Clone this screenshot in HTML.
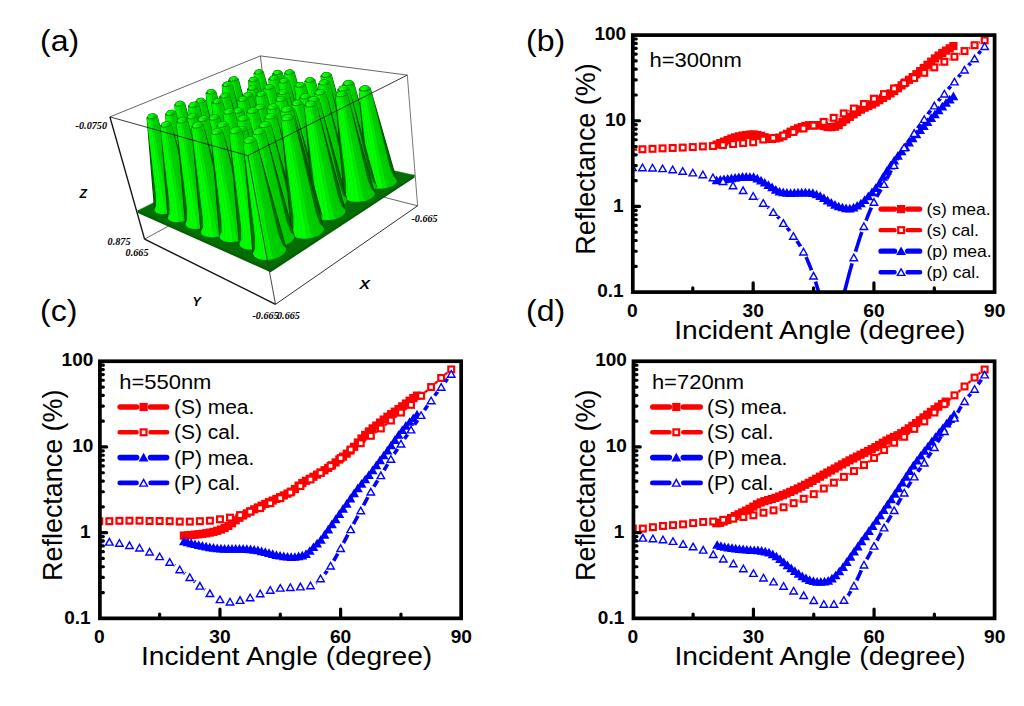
<!DOCTYPE html><html><head><meta charset="utf-8"><title>Reflectance figure</title><style>html,body{margin:0;padding:0;background:#fff;overflow:hidden}svg{display:block}text{font-family:"Liberation Sans", sans-serif;fill:#000}</style></head><body>
<svg width="1024" height="706" viewBox="0 0 1024 706">
<rect width="1024" height="706" fill="#fff"/>
<line x1="109.9" y1="116.9" x2="260.4" y2="55.9" stroke="#555" stroke-width="0.9"/>
<line x1="260.4" y1="55.9" x2="407.3" y2="75.1" stroke="#555" stroke-width="0.9"/>
<line x1="260.4" y1="55.9" x2="273.4" y2="169" stroke="#555" stroke-width="0.9"/>
<line x1="144.6" y1="239.1" x2="273.4" y2="169" stroke="#555" stroke-width="0.9"/>
<line x1="273.4" y1="169" x2="417.6" y2="205.8" stroke="#555" stroke-width="0.9"/>
<polygon points="137.7,209.7 270.5,268.6 414.5,174.3 414.7,177.6 270.6,272.2 137.9,212.9" fill="#035f03"/>
<polygon points="270.5,269.6 414.5,175.3 271,143.6 137.7,210.7" fill="#046d04" stroke="#046d04" stroke-width="0.5"/>
<polygon points="263.2,71.9 285.7,151.4 285.5,153.1 283.7,154.9 280.6,156.6 276.6,157.8 272.2,158.6 268,158.7 264.4,158.2 261.9,157.1 260.8,155.6 254.2,73.4 254.4,73 255.7,70.9 256.1,70.6 256.8,70.3 257.7,70 258.7,69.9 259.6,69.8 260.4,69.9 260.9,70" fill="#007000" stroke="#004a00" stroke-width="1.1"/><polygon points="260.8,155.6 262.5,151.9 262.3,141.7 254.2,73.4 254.6,73.8 263.1,142.7 263.4,153.1 261.9,157.1" fill="#00ff00" stroke="#00ff00" stroke-width="0.4"/><polygon points="261.9,157.1 263.4,153.1 263.1,142.7 254.6,73.8 255.4,74 264.8,143.4 265.4,154 264.4,158.2" fill="#00ff00" stroke="#00ff00" stroke-width="0.4"/><polygon points="264.4,158.2 265.4,154 264.8,143.4 255.4,74 256.7,74.1 267.2,143.7 268.3,154.4 268,158.7" fill="#03ff01" stroke="#03ff01" stroke-width="0.4"/><polygon points="268,158.7 268.3,154.4 267.2,143.7 256.7,74.1 258.2,74 270.1,143.6 271.8,154.3 272.2,158.6" fill="#02fc01" stroke="#02fc01" stroke-width="0.4"/><polygon points="272.2,158.6 271.8,154.3 270.1,143.6 258.2,74 259.8,73.7 273,143.1 275.4,153.7 276.6,157.8" fill="#00e700" stroke="#00e700" stroke-width="0.4"/><polygon points="276.6,157.8 275.4,153.7 273,143.1 259.8,73.7 261.2,73.3 275.7,142.2 278.6,152.7 280.6,156.6" fill="#00d000" stroke="#00d000" stroke-width="0.4"/><polygon points="280.6,156.6 278.6,152.7 275.7,142.2 261.2,73.3 262.4,72.9 277.8,141.2 281.1,151.3 283.7,154.9" fill="#00cc00" stroke="#00cc00" stroke-width="0.4"/><polygon points="283.7,154.9 281.1,151.3 277.8,141.2 262.4,72.9 263.1,72.4 279,140 282.6,149.9 285.5,153.1" fill="#00cc00" stroke="#00cc00" stroke-width="0.4"/><polygon points="285.5,153.1 282.6,149.9 279,140 263.1,72.4 263.2,71.9 279.2,138.9 282.8,148.5 285.7,151.4" fill="#00cc00" stroke="#00cc00" stroke-width="0.4"/><polygon points="254.4,73 254.2,73.4 255.6,71.2 255.7,70.9" fill="#00ff00" stroke="#00ff00" stroke-width="0.4"/><polygon points="254.2,73.4 254.6,73.8 255.8,71.4 255.6,71.2" fill="#00ff00" stroke="#00ff00" stroke-width="0.4"/><polygon points="254.6,73.8 255.4,74 256.3,71.6 255.8,71.4" fill="#09ff04" stroke="#09ff04" stroke-width="0.4"/><polygon points="255.4,74 256.7,74.1 257.1,71.6 256.3,71.6" fill="#33ff19" stroke="#33ff19" stroke-width="0.4"/><polygon points="256.7,74.1 258.2,74 258.1,71.5 257.1,71.6" fill="#2bff15" stroke="#2bff15" stroke-width="0.4"/><polygon points="258.2,74 259.8,73.7 259,71.4 258.1,71.5" fill="#05fd02" stroke="#05fd02" stroke-width="0.4"/><polygon points="259.8,73.7 261.2,73.3 259.9,71.1 259,71.4" fill="#00e500" stroke="#00e500" stroke-width="0.4"/><polygon points="261.2,73.3 262.4,72.9 260.6,70.8 259.9,71.1" fill="#00d200" stroke="#00d200" stroke-width="0.4"/><polygon points="262.4,72.9 263.1,72.4 261.1,70.5 260.6,70.8" fill="#00cc00" stroke="#00cc00" stroke-width="0.4"/><polygon points="263.1,72.4 263.2,71.9 261.2,70.2 261.1,70.5" fill="#00cc00" stroke="#00cc00" stroke-width="0.4"/><polygon points="260.4,69.9 259.6,69.8 258.7,69.9 257.7,70 256.8,70.3 256.1,70.6 255.7,70.9 255.6,71.2 255.8,71.4 256.3,71.6 257.1,71.6 258.1,71.5 259,71.4 259.9,71.1 260.6,70.8 261.1,70.5 261.2,70.2 260.9,70" fill="#00fa00" stroke="#00fa00" stroke-width="0.4"/><polyline points="254.2,73.4 254.4,73 254.6,73.8 255.1,72.5 255.4,74 256.7,74.1 258.2,74 259.8,73.7 261.2,73.3 262.4,72.9 263.1,72.4" fill="none" stroke="#0a6a0a" stroke-width="0.8"/>
<polygon points="282.1,72.5 305.2,154.2 305.1,156 303.4,157.9 300.3,159.6 296.3,160.9 291.8,161.6 287.4,161.8 283.6,161.2 280.9,160.1 279.7,158.5 272.8,74.1 273,73.6 274.3,71.5 274.7,71.2 275.4,70.9 276.3,70.7 277.3,70.5 278.3,70.4 279.1,70.5 279.7,70.6" fill="#007000" stroke="#004a00" stroke-width="1.1"/><polygon points="279.7,158.5 281.4,154.8 281.2,144.4 272.8,74.1 273.3,74.5 282.1,145.4 282.4,156 280.9,160.1" fill="#00ff00" stroke="#00ff00" stroke-width="0.4"/><polygon points="280.9,160.1 282.4,156 282.1,145.4 273.3,74.5 274.2,74.7 283.9,146.1 284.6,156.9 283.6,161.2" fill="#00ff00" stroke="#00ff00" stroke-width="0.4"/><polygon points="283.6,161.2 284.6,156.9 283.9,146.1 274.2,74.7 275.5,74.8 286.4,146.4 287.7,157.4 287.4,161.8" fill="#03ff01" stroke="#03ff01" stroke-width="0.4"/><polygon points="287.4,161.8 287.7,157.4 286.4,146.4 275.5,74.8 277.1,74.7 289.4,146.3 291.2,157.3 291.8,161.6" fill="#02fc01" stroke="#02fc01" stroke-width="0.4"/><polygon points="291.8,161.6 291.2,157.3 289.4,146.3 277.1,74.7 278.7,74.4 292.5,145.8 294.9,156.6 296.3,160.9" fill="#00e700" stroke="#00e700" stroke-width="0.4"/><polygon points="296.3,160.9 294.9,156.6 292.5,145.8 278.7,74.4 280.2,74 295.2,145 298.2,155.6 300.3,159.6" fill="#00d000" stroke="#00d000" stroke-width="0.4"/><polygon points="300.3,159.6 298.2,155.6 295.2,145 280.2,74 281.3,73.5 297.3,143.8 300.7,154.2 303.4,157.9" fill="#00cc00" stroke="#00cc00" stroke-width="0.4"/><polygon points="303.4,157.9 300.7,154.2 297.3,143.8 281.3,73.5 282,73 298.4,142.6 302.1,152.7 305.1,156" fill="#00cc00" stroke="#00cc00" stroke-width="0.4"/><polygon points="305.1,156 302.1,152.7 298.4,142.6 282,73 282.1,72.5 298.6,141.5 302.2,151.3 305.2,154.2" fill="#00cc00" stroke="#00cc00" stroke-width="0.4"/><polygon points="273,73.6 272.8,74.1 274.2,71.8 274.3,71.5" fill="#00ff00" stroke="#00ff00" stroke-width="0.4"/><polygon points="272.8,74.1 273.3,74.5 274.5,72.1 274.2,71.8" fill="#00ff00" stroke="#00ff00" stroke-width="0.4"/><polygon points="273.3,74.5 274.2,74.7 275.1,72.2 274.5,72.1" fill="#0bff05" stroke="#0bff05" stroke-width="0.4"/><polygon points="274.2,74.7 275.5,74.8 275.9,72.3 275.1,72.2" fill="#35ff1a" stroke="#35ff1a" stroke-width="0.4"/><polygon points="275.5,74.8 277.1,74.7 276.9,72.2 275.9,72.3" fill="#28ff14" stroke="#28ff14" stroke-width="0.4"/><polygon points="277.1,74.7 278.7,74.4 277.9,72 276.9,72.2" fill="#04fc02" stroke="#04fc02" stroke-width="0.4"/><polygon points="278.7,74.4 280.2,74 278.8,71.8 277.9,72" fill="#00e500" stroke="#00e500" stroke-width="0.4"/><polygon points="280.2,74 281.3,73.5 279.5,71.5 278.8,71.8" fill="#00d200" stroke="#00d200" stroke-width="0.4"/><polygon points="281.3,73.5 282,73 279.9,71.1 279.5,71.5" fill="#00cc00" stroke="#00cc00" stroke-width="0.4"/><polygon points="282,73 282.1,72.5 280,70.8 279.9,71.1" fill="#00cc00" stroke="#00cc00" stroke-width="0.4"/><polygon points="279.1,70.5 278.3,70.4 277.3,70.5 276.3,70.7 275.4,70.9 274.7,71.2 274.3,71.5 274.2,71.8 274.5,72.1 275.1,72.2 275.9,72.3 276.9,72.2 277.9,72 278.8,71.8 279.5,71.5 279.9,71.1 280,70.8 279.7,70.6" fill="#00fa00" stroke="#00fa00" stroke-width="0.4"/><polyline points="272.8,74.1 273,73.6 273.3,74.5 273.6,73.1 274.2,74.7 275.5,74.8 277.1,74.7 278.7,74.4 280.2,74 281.3,73.5 282,73" fill="none" stroke="#0a6a0a" stroke-width="0.8"/>
<polygon points="257.9,79.4 280.7,159.2 280.4,161 278.5,162.9 275.4,164.6 271.3,166 266.8,166.7 262.4,166.8 258.8,166.2 256.3,165.1 255.2,163.5 248.7,81 248.9,80.5 250.2,78.4 250.7,78.1 251.4,77.8 252.3,77.5 253.3,77.4 254.2,77.3 255,77.4 255.6,77.5 257.5,79" fill="#007000" stroke="#004a00" stroke-width="1.1"/><polygon points="255.2,163.5 256.9,159.8 256.8,149.4 248.7,81 249.1,81.4 257.5,150.4 257.8,161 256.3,165.1" fill="#00ff00" stroke="#00ff00" stroke-width="0.4"/><polygon points="256.3,165.1 257.8,161 257.5,150.4 249.1,81.4 249.9,81.7 259.2,151.1 259.8,162 258.8,166.2" fill="#00ff00" stroke="#00ff00" stroke-width="0.4"/><polygon points="258.8,166.2 259.8,162 259.2,151.1 249.9,81.7 251.2,81.7 261.6,151.5 262.8,162.4 262.4,166.8" fill="#03ff01" stroke="#03ff01" stroke-width="0.4"/><polygon points="262.4,166.8 262.8,162.4 261.6,151.5 251.2,81.7 252.8,81.7 264.6,151.4 266.3,162.3 266.8,166.7" fill="#02fc01" stroke="#02fc01" stroke-width="0.4"/><polygon points="266.8,166.7 266.3,162.3 264.6,151.4 252.8,81.7 254.4,81.4 267.6,150.9 270,161.7 271.3,166" fill="#00e700" stroke="#00e700" stroke-width="0.4"/><polygon points="271.3,166 270,161.7 267.6,150.9 254.4,81.4 255.9,81 270.4,150 273.3,160.7 275.4,164.6" fill="#00d000" stroke="#00d000" stroke-width="0.4"/><polygon points="275.4,164.6 273.3,160.7 270.4,150 255.9,81 257,80.5 272.5,148.9 275.9,159.3 278.5,162.9" fill="#00cc00" stroke="#00cc00" stroke-width="0.4"/><polygon points="278.5,162.9 275.9,159.3 272.5,148.9 257,80.5 257.8,79.9 273.8,147.7 277.4,157.8 280.4,161" fill="#00cc00" stroke="#00cc00" stroke-width="0.4"/><polygon points="280.4,161 277.4,157.8 273.8,147.7 257.8,79.9 257.9,79.4 274,146.5 277.7,156.3 280.7,159.2" fill="#00cc00" stroke="#00cc00" stroke-width="0.4"/><polygon points="248.9,80.5 248.7,81 250.1,78.7 250.2,78.4" fill="#00ff00" stroke="#00ff00" stroke-width="0.4"/><polygon points="248.7,81 249.1,81.4 250.3,79 250.1,78.7" fill="#00ff00" stroke="#00ff00" stroke-width="0.4"/><polygon points="249.1,81.4 249.9,81.7 250.9,79.1 250.3,79" fill="#09ff04" stroke="#09ff04" stroke-width="0.4"/><polygon points="249.9,81.7 251.2,81.7 251.7,79.2 250.9,79.1" fill="#33ff19" stroke="#33ff19" stroke-width="0.4"/><polygon points="251.2,81.7 252.8,81.7 252.6,79.1 251.7,79.2" fill="#2bff15" stroke="#2bff15" stroke-width="0.4"/><polygon points="252.8,81.7 254.4,81.4 253.6,78.9 252.6,79.1" fill="#05fd02" stroke="#05fd02" stroke-width="0.4"/><polygon points="254.4,81.4 255.9,81 254.6,78.7 253.6,78.9" fill="#00e500" stroke="#00e500" stroke-width="0.4"/><polygon points="255.9,81 257,80.5 255.3,78.4 254.6,78.7" fill="#00d200" stroke="#00d200" stroke-width="0.4"/><polygon points="257,80.5 257.8,79.9 255.7,78.1 255.3,78.4" fill="#00cc00" stroke="#00cc00" stroke-width="0.4"/><polygon points="257.8,79.9 257.9,79.4 255.8,77.8 255.7,78.1" fill="#00cc00" stroke="#00cc00" stroke-width="0.4"/><polygon points="257.9,79.4 257.5,79 255.6,77.5 255.8,77.8" fill="#00cc00" stroke="#00cc00" stroke-width="0.4"/><polygon points="255,77.4 254.2,77.3 253.3,77.4 252.3,77.5 251.4,77.8 250.7,78.1 250.2,78.4 250.1,78.7 250.3,79 250.9,79.1 251.7,79.2 252.6,79.1 253.6,78.9 254.6,78.7 255.3,78.4 255.7,78.1 255.8,77.8 255.6,77.5" fill="#00fa00" stroke="#00fa00" stroke-width="0.4"/><polyline points="248.7,81 248.9,80.5 249.1,81.4 249.6,80 249.9,81.7 251.2,81.7 252.8,81.7 254.4,81.4 255.9,81 257,80.5 257.8,79.9" fill="none" stroke="#0a6a0a" stroke-width="0.8"/>
<polygon points="238.1,79 261.9,164.7 261.5,166.6 259.5,168.5 256.2,170.3 252.1,171.6 247.6,172.3 243.2,172.4 239.7,171.8 237.3,170.6 236.3,169 228.8,80.5 230.3,77.9 230.8,77.6 231.6,77.3 232.5,77 233.5,76.9 234.4,76.8 235.2,76.8 235.8,77 237.7,78.6" fill="#007000" stroke="#004a00" stroke-width="1.1"/><polygon points="236.3,169 238,165.2 237.9,154.8 228.8,80.5 229.1,80.9 238.5,155.9 238.8,166.6 237.3,170.6" fill="#00ff00" stroke="#00ff00" stroke-width="0.4"/><polygon points="237.3,170.6 238.8,166.6 238.5,155.9 229.1,80.9 229.9,81.2 240.2,156.6 240.8,167.5 239.7,171.8" fill="#00ff00" stroke="#00ff00" stroke-width="0.4"/><polygon points="239.7,171.8 240.8,167.5 240.2,156.6 229.9,81.2 231.2,81.3 242.6,157 243.7,168 243.2,172.4" fill="#02ff01" stroke="#02ff01" stroke-width="0.4"/><polygon points="243.2,172.4 243.7,168 242.6,157 231.2,81.3 232.7,81.2 245.5,156.9 247.2,167.9 247.6,172.3" fill="#02fc01" stroke="#02fc01" stroke-width="0.4"/><polygon points="247.6,172.3 247.2,167.9 245.5,156.9 232.7,81.2 234.4,80.9 248.5,156.4 250.9,167.3 252.1,171.6" fill="#00e700" stroke="#00e700" stroke-width="0.4"/><polygon points="252.1,171.6 250.9,167.3 248.5,156.4 234.4,80.9 235.9,80.5 251.3,155.6 254.2,166.2 256.2,170.3" fill="#00d000" stroke="#00d000" stroke-width="0.4"/><polygon points="256.2,170.3 254.2,166.2 251.3,155.6 235.9,80.5 237.1,80 253.6,154.4 256.9,164.8 259.5,168.5" fill="#00cc00" stroke="#00cc00" stroke-width="0.4"/><polygon points="259.5,168.5 256.9,164.8 253.6,154.4 237.1,80 237.8,79.5 254.9,153.2 258.5,163.3 261.5,166.6" fill="#00cc00" stroke="#00cc00" stroke-width="0.4"/><polygon points="261.5,166.6 258.5,163.3 254.9,153.2 237.8,79.5 238.1,79 255.2,151.9 258.9,161.8 261.9,164.7" fill="#00cc00" stroke="#00cc00" stroke-width="0.4"/><polygon points="228.8,80.5 229.1,80.9 230.4,78.5 230.2,78.2" fill="#00ff00" stroke="#00ff00" stroke-width="0.4"/><polygon points="229.1,80.9 229.9,81.2 230.9,78.6 230.4,78.5" fill="#08ff04" stroke="#08ff04" stroke-width="0.4"/><polygon points="229.9,81.2 231.2,81.3 231.7,78.7 230.9,78.6" fill="#31ff18" stroke="#31ff18" stroke-width="0.4"/><polygon points="231.2,81.3 232.7,81.2 232.6,78.6 231.7,78.7" fill="#2eff17" stroke="#2eff17" stroke-width="0.4"/><polygon points="232.7,81.2 234.4,80.9 233.7,78.5 232.6,78.6" fill="#06fd03" stroke="#06fd03" stroke-width="0.4"/><polygon points="234.4,80.9 235.9,80.5 234.6,78.2 233.7,78.5" fill="#00e500" stroke="#00e500" stroke-width="0.4"/><polygon points="235.9,80.5 237.1,80 235.3,77.9 234.6,78.2" fill="#00d200" stroke="#00d200" stroke-width="0.4"/><polygon points="237.1,80 237.8,79.5 235.8,77.6 235.3,77.9" fill="#00cc00" stroke="#00cc00" stroke-width="0.4"/><polygon points="237.8,79.5 238.1,79 236,77.3 235.8,77.6" fill="#00cc00" stroke="#00cc00" stroke-width="0.4"/><polygon points="238.1,79 237.7,78.6 235.8,77 236,77.3" fill="#00cc00" stroke="#00cc00" stroke-width="0.4"/><polygon points="235.2,76.8 234.4,76.8 233.5,76.9 232.5,77 231.6,77.3 230.8,77.6 230.3,77.9 230.2,78.2 230.4,78.5 230.9,78.6 231.7,78.7 232.6,78.6 233.7,78.5 234.6,78.2 235.3,77.9 235.8,77.6 236,77.3 235.8,77" fill="#00fa00" stroke="#00fa00" stroke-width="0.4"/><polyline points="228.8,80.5 229,80 229.1,80.9 229.8,79.5 229.9,81.2 231.2,81.3 232.7,81.2 234.4,80.9 235.9,80.5 237.1,80 237.8,79.5" fill="none" stroke="#0a6a0a" stroke-width="0.8"/>
<polygon points="294.1,72 318.3,158.7 318.2,160.6 316.6,162.5 313.5,164.3 309.4,165.6 304.8,166.4 300.2,166.5 296.3,166 293.5,164.8 292.1,163.2 284.6,73.7 284.7,73.2 286.1,71 286.5,70.7 287.2,70.4 288.1,70.1 289.2,69.9 290.2,69.8 291,69.9 291.6,70 291.9,70.3" fill="#007000" stroke="#004a00" stroke-width="1.1"/><polygon points="292.1,163.2 293.9,159.4 293.7,148.8 284.6,73.7 285,74 294.7,149.8 295,160.7 293.5,164.8" fill="#00ff00" stroke="#00ff00" stroke-width="0.4"/><polygon points="293.5,164.8 295,160.7 294.7,149.8 285,74 286,74.3 296.6,150.5 297.3,161.6 296.3,166" fill="#00ff00" stroke="#00ff00" stroke-width="0.4"/><polygon points="296.3,166 297.3,161.6 296.6,150.5 286,74.3 287.4,74.4 299.2,150.9 300.5,162 300.2,166.5" fill="#03ff01" stroke="#03ff01" stroke-width="0.4"/><polygon points="300.2,166.5 300.5,162 299.2,150.9 287.4,74.4 289.1,74.3 302.3,150.8 304.2,161.9 304.8,166.4" fill="#02fc01" stroke="#02fc01" stroke-width="0.4"/><polygon points="304.8,166.4 304.2,161.9 302.3,150.8 289.1,74.3 290.7,74 305.4,150.3 308,161.3 309.4,165.6" fill="#00e700" stroke="#00e700" stroke-width="0.4"/><polygon points="309.4,165.6 308,161.3 305.4,150.3 290.7,74 292.2,73.5 308.2,149.4 311.3,160.2 313.5,164.3" fill="#00d000" stroke="#00d000" stroke-width="0.4"/><polygon points="313.5,164.3 311.3,160.2 308.2,149.4 292.2,73.5 293.4,73 310.3,148.2 313.8,158.8 316.6,162.5" fill="#00cc00" stroke="#00cc00" stroke-width="0.4"/><polygon points="316.6,162.5 313.8,158.8 310.3,148.2 293.4,73 294,72.5 311.4,147 315.2,157.2 318.2,160.6" fill="#00cc00" stroke="#00cc00" stroke-width="0.4"/><polygon points="318.2,160.6 315.2,157.2 311.4,147 294,72.5 294.1,72 311.5,145.7 315.2,155.7 318.3,158.7" fill="#00cc00" stroke="#00cc00" stroke-width="0.4"/><polygon points="284.7,73.2 284.6,73.7 286,71.3 286.1,71" fill="#00ff00" stroke="#00ff00" stroke-width="0.4"/><polygon points="284.6,73.7 285,74 286.3,71.5 286,71.3" fill="#00ff00" stroke="#00ff00" stroke-width="0.4"/><polygon points="285,74 286,74.3 286.9,71.7 286.3,71.5" fill="#0bff05" stroke="#0bff05" stroke-width="0.4"/><polygon points="286,74.3 287.4,74.4 287.8,71.7 286.9,71.7" fill="#36ff1b" stroke="#36ff1b" stroke-width="0.4"/><polygon points="287.4,74.4 289.1,74.3 288.8,71.7 287.8,71.7" fill="#27ff13" stroke="#27ff13" stroke-width="0.4"/><polygon points="289.1,74.3 290.7,74 289.8,71.5 288.8,71.7" fill="#04fc02" stroke="#04fc02" stroke-width="0.4"/><polygon points="290.7,74 292.2,73.5 290.8,71.2 289.8,71.5" fill="#00e500" stroke="#00e500" stroke-width="0.4"/><polygon points="292.2,73.5 293.4,73 291.5,70.9 290.8,71.2" fill="#00d200" stroke="#00d200" stroke-width="0.4"/><polygon points="293.4,73 294,72.5 291.9,70.6 291.5,70.9" fill="#00cc00" stroke="#00cc00" stroke-width="0.4"/><polygon points="294,72.5 294.1,72 291.9,70.3 291.9,70.6" fill="#00cc00" stroke="#00cc00" stroke-width="0.4"/><polygon points="291,69.9 290.2,69.8 289.2,69.9 288.1,70.1 287.2,70.4 286.5,70.7 286.1,71 286,71.3 286.3,71.5 286.9,71.7 287.8,71.7 288.8,71.7 289.8,71.5 290.8,71.2 291.5,70.9 291.9,70.6 291.9,70.3 291.6,70" fill="#00fa00" stroke="#00fa00" stroke-width="0.4"/><polyline points="284.6,73.7 284.7,73.2 285,74 285.3,72.6 286,74.3 287.4,74.4 289.1,74.3 290.7,74 292.2,73.5 293.4,73 294,72.5" fill="none" stroke="#0a6a0a" stroke-width="0.8"/>
<polygon points="278.4,77.9 302.4,163 302.2,164.9 300.4,166.8 297.3,168.6 293.1,170 288.5,170.8 284,170.9 280.1,170.3 277.4,169.1 276.1,167.4 268.9,79.5 269,79 270.4,76.9 270.9,76.5 271.6,76.2 272.5,75.9 273.6,75.8 274.6,75.7 275.4,75.7 276,75.9" fill="#007000" stroke="#004a00" stroke-width="1.1"/><polygon points="276.1,167.4 277.9,163.6 277.8,153 268.9,79.5 269.3,79.9 278.6,154 279,164.9 277.4,169.1" fill="#00ff00" stroke="#00ff00" stroke-width="0.4"/><polygon points="277.4,169.1 279,164.9 278.6,154 269.3,79.9 270.3,80.2 280.5,154.8 281.2,165.9 280.1,170.3" fill="#00ff00" stroke="#00ff00" stroke-width="0.4"/><polygon points="280.1,170.3 281.2,165.9 280.5,154.8 270.3,80.2 271.7,80.3 283.1,155.2 284.3,166.4 284,170.9" fill="#03ff01" stroke="#03ff01" stroke-width="0.4"/><polygon points="284,170.9 284.3,166.4 283.1,155.2 271.7,80.3 273.3,80.2 286.1,155.1 288,166.3 288.5,170.8" fill="#02fc01" stroke="#02fc01" stroke-width="0.4"/><polygon points="288.5,170.8 288,166.3 286.1,155.1 273.3,80.2 274.9,79.9 289.2,154.6 291.7,165.6 293.1,170" fill="#00e700" stroke="#00e700" stroke-width="0.4"/><polygon points="293.1,170 291.7,165.6 289.2,154.6 274.9,79.9 276.5,79.5 292.1,153.7 295.1,164.5 297.3,168.6" fill="#00d000" stroke="#00d000" stroke-width="0.4"/><polygon points="297.3,168.6 295.1,164.5 292.1,153.7 276.5,79.5 277.6,78.9 294.2,152.5 297.7,163.1 300.4,166.8" fill="#00cc00" stroke="#00cc00" stroke-width="0.4"/><polygon points="300.4,166.8 297.7,163.1 294.2,152.5 277.6,78.9 278.3,78.4 295.4,151.2 299.1,161.5 302.2,164.9" fill="#00cc00" stroke="#00cc00" stroke-width="0.4"/><polygon points="302.2,164.9 299.1,161.5 295.4,151.2 278.3,78.4 278.4,77.9 295.6,150 299.3,160 302.4,163" fill="#00cc00" stroke="#00cc00" stroke-width="0.4"/><polygon points="269,79 268.9,79.5 270.4,77.2 270.4,76.9" fill="#00ff00" stroke="#00ff00" stroke-width="0.4"/><polygon points="268.9,79.5 269.3,79.9 270.6,77.4 270.4,77.2" fill="#00ff00" stroke="#00ff00" stroke-width="0.4"/><polygon points="269.3,79.9 270.3,80.2 271.2,77.6 270.6,77.4" fill="#0aff05" stroke="#0aff05" stroke-width="0.4"/><polygon points="270.3,80.2 271.7,80.3 272.1,77.6 271.2,77.6" fill="#35ff1a" stroke="#35ff1a" stroke-width="0.4"/><polygon points="271.7,80.3 273.3,80.2 273.1,77.6 272.1,77.6" fill="#29ff14" stroke="#29ff14" stroke-width="0.4"/><polygon points="273.3,80.2 274.9,79.9 274.1,77.4 273.1,77.6" fill="#04fc02" stroke="#04fc02" stroke-width="0.4"/><polygon points="274.9,79.9 276.5,79.5 275,77.1 274.1,77.4" fill="#00e500" stroke="#00e500" stroke-width="0.4"/><polygon points="276.5,79.5 277.6,78.9 275.8,76.8 275,77.1" fill="#00d200" stroke="#00d200" stroke-width="0.4"/><polygon points="277.6,78.9 278.3,78.4 276.2,76.5 275.8,76.8" fill="#00cc00" stroke="#00cc00" stroke-width="0.4"/><polygon points="278.3,78.4 278.4,77.9 276.3,76.2 276.2,76.5" fill="#00cc00" stroke="#00cc00" stroke-width="0.4"/><polygon points="275.4,75.7 274.6,75.7 273.6,75.8 272.5,75.9 271.6,76.2 270.9,76.5 270.4,76.9 270.4,77.2 270.6,77.4 271.2,77.6 272.1,77.6 273.1,77.6 274.1,77.4 275,77.1 275.8,76.8 276.2,76.5 276.3,76.2 276,75.9" fill="#00fa00" stroke="#00fa00" stroke-width="0.4"/><polyline points="268.9,79.5 269,79 269.3,79.9 269.7,78.5 270.3,80.2 271.7,80.3 273.3,80.2 274.9,79.9 276.5,79.5 277.6,78.9 278.3,78.4" fill="none" stroke="#0a6a0a" stroke-width="0.8"/>
<polygon points="257.1,87.9 280.1,167.6 279.7,169.6 277.8,171.5 274.6,173.3 270.4,174.7 265.8,175.5 261.3,175.6 257.6,174.9 255,173.7 253.9,172 247.6,89.5 247.8,88.9 249.2,86.8 249.6,86.5 250.4,86.1 251.3,85.9 252.3,85.7 253.3,85.6 254.1,85.7 254.7,85.9 256.7,87.4" fill="#007000" stroke="#004a00" stroke-width="1.1"/><polygon points="253.9,172 255.7,168.2 255.5,157.6 247.6,89.5 248,89.9 256.3,158.7 256.6,169.6 255,173.7" fill="#00ff00" stroke="#00ff00" stroke-width="0.4"/><polygon points="255,173.7 256.6,169.6 256.3,158.7 248,89.9 248.9,90.2 258,159.5 258.7,170.5 257.6,174.9" fill="#00ff00" stroke="#00ff00" stroke-width="0.4"/><polygon points="257.6,174.9 258.7,170.5 258,159.5 248.9,90.2 250.2,90.3 260.5,159.8 261.7,171 261.3,175.6" fill="#03ff01" stroke="#03ff01" stroke-width="0.4"/><polygon points="261.3,175.6 261.7,171 260.5,159.8 250.2,90.3 251.8,90.2 263.5,159.8 265.3,171 265.8,175.5" fill="#02fc01" stroke="#02fc01" stroke-width="0.4"/><polygon points="265.8,175.5 265.3,171 263.5,159.8 251.8,90.2 253.5,89.9 266.7,159.3 269.1,170.3 270.4,174.7" fill="#00e700" stroke="#00e700" stroke-width="0.4"/><polygon points="270.4,174.7 269.1,170.3 266.7,159.3 253.5,89.9 255,89.5 269.5,158.3 272.5,169.2 274.6,173.3" fill="#00d000" stroke="#00d000" stroke-width="0.4"/><polygon points="274.6,173.3 272.5,169.2 269.5,158.3 255,89.5 256.2,88.9 271.7,157.2 275.2,167.8 277.8,171.5" fill="#00cc00" stroke="#00cc00" stroke-width="0.4"/><polygon points="277.8,171.5 275.2,167.8 271.7,157.2 256.2,88.9 256.9,88.4 273,155.9 276.7,166.2 279.7,169.6" fill="#00cc00" stroke="#00cc00" stroke-width="0.4"/><polygon points="279.7,169.6 276.7,166.2 273,155.9 256.9,88.4 257.1,87.9 273.3,154.6 277,164.6 280.1,167.6" fill="#00cc00" stroke="#00cc00" stroke-width="0.4"/><polygon points="247.8,88.9 247.6,89.5 249.1,87.1 249.2,86.8" fill="#00ff00" stroke="#00ff00" stroke-width="0.4"/><polygon points="247.6,89.5 248,89.9 249.3,87.4 249.1,87.1" fill="#00ff00" stroke="#00ff00" stroke-width="0.4"/><polygon points="248,89.9 248.9,90.2 249.8,87.6 249.3,87.4" fill="#09ff04" stroke="#09ff04" stroke-width="0.4"/><polygon points="248.9,90.2 250.2,90.3 250.7,87.6 249.8,87.6" fill="#33ff19" stroke="#33ff19" stroke-width="0.4"/><polygon points="250.2,90.3 251.8,90.2 251.7,87.6 250.7,87.6" fill="#2cff16" stroke="#2cff16" stroke-width="0.4"/><polygon points="251.8,90.2 253.5,89.9 252.7,87.4 251.7,87.6" fill="#05fd02" stroke="#05fd02" stroke-width="0.4"/><polygon points="253.5,89.9 255,89.5 253.6,87.1 252.7,87.4" fill="#00e500" stroke="#00e500" stroke-width="0.4"/><polygon points="255,89.5 256.2,88.9 254.4,86.8 253.6,87.1" fill="#00d200" stroke="#00d200" stroke-width="0.4"/><polygon points="256.2,88.9 256.9,88.4 254.8,86.5 254.4,86.8" fill="#00cc00" stroke="#00cc00" stroke-width="0.4"/><polygon points="256.9,88.4 257.1,87.9 255,86.1 254.8,86.5" fill="#00cc00" stroke="#00cc00" stroke-width="0.4"/><polygon points="257.1,87.9 256.7,87.4 254.7,85.9 255,86.1" fill="#00cc00" stroke="#00cc00" stroke-width="0.4"/><polygon points="254.1,85.7 253.3,85.6 252.3,85.7 251.3,85.9 250.4,86.1 249.6,86.5 249.2,86.8 249.1,87.1 249.3,87.4 249.8,87.6 250.7,87.6 251.7,87.6 252.7,87.4 253.6,87.1 254.4,86.8 254.8,86.5 255,86.1 254.7,85.9" fill="#00fa00" stroke="#00fa00" stroke-width="0.4"/><polyline points="247.6,89.5 247.8,88.9 248,89.9 248.5,88.4 248.9,90.2 250.2,90.3 251.8,90.2 253.5,89.9 255,89.5 256.2,88.9 256.9,88.4" fill="none" stroke="#0a6a0a" stroke-width="0.8"/>
<polygon points="231.8,84.1 256.2,172.2 255.7,174.2 253.7,176.2 250.3,178 246.1,179.4 241.4,180.1 237,180.2 233.4,179.5 231,178.2 230.1,176.5 222.3,85.7 223.9,83 224.4,82.7 225.2,82.4 226.1,82.1 227.1,81.9 228.1,81.9 228.9,81.9 229.4,82.1 231.5,83.7" fill="#007000" stroke="#004a00" stroke-width="1.1"/><polygon points="230.1,176.5 231.9,172.7 231.7,162.2 222.3,85.7 222.6,86.1 232.3,163.3 232.6,174.1 231,178.2" fill="#00ff00" stroke="#00ff00" stroke-width="0.4"/><polygon points="231,178.2 232.6,174.1 232.3,163.3 222.6,86.1 223.4,86.4 234,164.1 234.6,175.1 233.4,179.5" fill="#00ff00" stroke="#00ff00" stroke-width="0.4"/><polygon points="233.4,179.5 234.6,175.1 234,164.1 223.4,86.4 224.7,86.5 236.4,164.5 237.5,175.6 237,180.2" fill="#02ff01" stroke="#02ff01" stroke-width="0.4"/><polygon points="237,180.2 237.5,175.6 236.4,164.5 224.7,86.5 226.3,86.4 239.4,164.4 241.1,175.6 241.4,180.1" fill="#02fc01" stroke="#02fc01" stroke-width="0.4"/><polygon points="241.4,180.1 241.1,175.6 239.4,164.4 226.3,86.4 227.9,86.1 242.5,163.9 244.8,175 246.1,179.4" fill="#00e700" stroke="#00e700" stroke-width="0.4"/><polygon points="246.1,179.4 244.8,175 242.5,163.9 227.9,86.1 229.5,85.7 245.4,163 248.3,173.9 250.3,178" fill="#00d000" stroke="#00d000" stroke-width="0.4"/><polygon points="250.3,178 248.3,173.9 245.4,163 229.5,85.7 230.7,85.2 247.6,161.8 251,172.4 253.7,176.2" fill="#00cc00" stroke="#00cc00" stroke-width="0.4"/><polygon points="253.7,176.2 251,172.4 247.6,161.8 230.7,85.2 231.5,84.6 249,160.5 252.7,170.8 255.7,174.2" fill="#00cc00" stroke="#00cc00" stroke-width="0.4"/><polygon points="255.7,174.2 252.7,170.8 249,160.5 231.5,84.6 231.8,84.1 249.4,159.2 253.1,169.2 256.2,172.2" fill="#00cc00" stroke="#00cc00" stroke-width="0.4"/><polygon points="222.3,85.7 222.6,86.1 223.9,83.6 223.7,83.4" fill="#00ff00" stroke="#00ff00" stroke-width="0.4"/><polygon points="222.6,86.1 223.4,86.4 224.4,83.8 223.9,83.6" fill="#08ff04" stroke="#08ff04" stroke-width="0.4"/><polygon points="223.4,86.4 224.7,86.5 225.2,83.8 224.4,83.8" fill="#30ff18" stroke="#30ff18" stroke-width="0.4"/><polygon points="224.7,86.5 226.3,86.4 226.2,83.8 225.2,83.8" fill="#2fff17" stroke="#2fff17" stroke-width="0.4"/><polygon points="226.3,86.4 227.9,86.1 227.2,83.6 226.2,83.8" fill="#07fe03" stroke="#07fe03" stroke-width="0.4"/><polygon points="227.9,86.1 229.5,85.7 228.2,83.4 227.2,83.6" fill="#00e600" stroke="#00e600" stroke-width="0.4"/><polygon points="229.5,85.7 230.7,85.2 229,83 228.2,83.4" fill="#00d200" stroke="#00d200" stroke-width="0.4"/><polygon points="230.7,85.2 231.5,84.6 229.5,82.7 229,83" fill="#00cc00" stroke="#00cc00" stroke-width="0.4"/><polygon points="231.5,84.6 231.8,84.1 229.6,82.4 229.5,82.7" fill="#00cc00" stroke="#00cc00" stroke-width="0.4"/><polygon points="231.8,84.1 231.5,83.7 229.4,82.1 229.6,82.4" fill="#00cc00" stroke="#00cc00" stroke-width="0.4"/><polygon points="228.9,81.9 228.1,81.9 227.1,81.9 226.1,82.1 225.2,82.4 224.4,82.7 223.9,83 223.7,83.4 223.9,83.6 224.4,83.8 225.2,83.8 226.2,83.8 227.2,83.6 228.2,83.4 229,83 229.5,82.7 229.6,82.4 229.4,82.1" fill="#00fa00" stroke="#00fa00" stroke-width="0.4"/><polyline points="222.3,85.7 222.5,85.2 222.6,86.1 223.3,84.6 223.4,86.4 224.7,86.5 226.3,86.4 227.9,86.1 229.5,85.7 230.7,85.2 231.5,84.6" fill="none" stroke="#0a6a0a" stroke-width="0.8"/>
<polygon points="215.7,91.7 239.6,176.8 239,178.8 236.8,180.8 233.4,182.6 229.1,184 224.4,184.7 220.1,184.8 216.5,184.1 214.2,182.8 213.4,181 206.2,93.3 207.8,90.6 208.3,90.3 209.1,89.9 210.1,89.7 211.1,89.5 212.1,89.4 212.9,89.5 213.4,89.7 215.4,91.3" fill="#007000" stroke="#004a00" stroke-width="1.1"/><polygon points="213.4,181 215.2,177.2 215,166.6 206.2,93.3 206.4,93.7 215.6,167.8 215.8,178.7 214.2,182.8" fill="#00ff00" stroke="#00ff00" stroke-width="0.4"/><polygon points="214.2,182.8 215.8,178.7 215.6,167.8 206.4,93.7 207.2,94 217.1,168.6 217.7,179.7 216.5,184.1" fill="#00ff00" stroke="#00ff00" stroke-width="0.4"/><polygon points="216.5,184.1 217.7,179.7 217.1,168.6 207.2,94 208.5,94.1 219.5,169 220.6,180.2 220.1,184.8" fill="#02ff01" stroke="#02ff01" stroke-width="0.4"/><polygon points="220.1,184.8 220.6,180.2 219.5,169 208.5,94.1 210.1,94.1 222.5,169 224.2,180.2 224.4,184.7" fill="#02fc01" stroke="#02fc01" stroke-width="0.4"/><polygon points="224.4,184.7 224.2,180.2 222.5,169 210.1,94.1 211.7,93.8 225.6,168.5 227.9,179.6 229.1,184" fill="#00e700" stroke="#00e700" stroke-width="0.4"/><polygon points="229.1,184 227.9,179.6 225.6,168.5 211.7,93.8 213.3,93.3 228.5,167.6 231.4,178.5 233.4,182.6" fill="#00d000" stroke="#00d000" stroke-width="0.4"/><polygon points="233.4,182.6 231.4,178.5 228.5,167.6 213.3,93.3 214.6,92.8 230.8,166.4 234.2,177 236.8,180.8" fill="#00cc00" stroke="#00cc00" stroke-width="0.4"/><polygon points="236.8,180.8 234.2,177 230.8,166.4 214.6,92.8 215.4,92.2 232.3,165 236,175.4 239,178.8" fill="#00cc00" stroke="#00cc00" stroke-width="0.4"/><polygon points="239,178.8 236,175.4 232.3,165 215.4,92.2 215.7,91.7 232.8,163.7 236.5,173.8 239.6,176.8" fill="#00cc00" stroke="#00cc00" stroke-width="0.4"/><polygon points="206.2,93.3 206.4,93.7 207.8,91.2 207.6,90.9" fill="#00ff00" stroke="#00ff00" stroke-width="0.4"/><polygon points="206.4,93.7 207.2,94 208.3,91.4 207.8,91.2" fill="#07ff03" stroke="#07ff03" stroke-width="0.4"/><polygon points="207.2,94 208.5,94.1 209.1,91.5 208.3,91.4" fill="#2fff17" stroke="#2fff17" stroke-width="0.4"/><polygon points="208.5,94.1 210.1,94.1 210,91.4 209.1,91.5" fill="#31ff18" stroke="#31ff18" stroke-width="0.4"/><polygon points="210.1,94.1 211.7,93.8 211.1,91.2 210,91.4" fill="#08fe04" stroke="#08fe04" stroke-width="0.4"/><polygon points="211.7,93.8 213.3,93.3 212,91 211.1,91.2" fill="#00e600" stroke="#00e600" stroke-width="0.4"/><polygon points="213.3,93.3 214.6,92.8 212.8,90.6 212,91" fill="#00d200" stroke="#00d200" stroke-width="0.4"/><polygon points="214.6,92.8 215.4,92.2 213.4,90.3 212.8,90.6" fill="#00cc00" stroke="#00cc00" stroke-width="0.4"/><polygon points="215.4,92.2 215.7,91.7 213.5,90 213.4,90.3" fill="#00cc00" stroke="#00cc00" stroke-width="0.4"/><polygon points="215.7,91.7 215.4,91.3 213.4,89.7 213.5,90" fill="#00cc00" stroke="#00cc00" stroke-width="0.4"/><polygon points="212.9,89.5 212.1,89.4 211.1,89.5 210.1,89.7 209.1,89.9 208.3,90.3 207.8,90.6 207.6,90.9 207.8,91.2 208.3,91.4 209.1,91.5 210,91.4 211.1,91.2 212,91 212.8,90.6 213.4,90.3 213.5,90 213.4,89.7" fill="#00fa00" stroke="#00fa00" stroke-width="0.4"/><polyline points="206.2,93.3 206.4,93.7 206.5,92.7 207.2,94 207.3,92.2 208.5,94.1 210.1,94.1 211.7,93.8 213.3,93.3 214.6,92.8 215.4,92.2" fill="none" stroke="#0a6a0a" stroke-width="0.8"/>
<polygon points="311.7,167.6 305,81.6 305.1,81.1 306.6,78.9 307,78.5 307.7,78.2 308.6,77.9 309.7,77.7 310.7,77.7 311.6,77.7 312.3,77.9 312.6,78.1 314.8,79.9 338.6,162.9 338.7,164.9 337.2,166.9 334.1,168.7 329.9,170.1 325.2,170.9 320.4,171.1 316.3,170.5 313.3,169.2" fill="#007000" stroke="#004a00" stroke-width="1.1"/><polygon points="311.7,167.6 313.6,163.7 313.4,152.8 305,81.6 305.6,82 314.5,153.9 314.8,165 313.3,169.2" fill="#00ff00" stroke="#00ff00" stroke-width="0.4"/><polygon points="313.3,169.2 314.8,165 314.5,153.9 305.6,82 306.7,82.3 316.5,154.7 317.3,166 316.3,170.5" fill="#00ff00" stroke="#00ff00" stroke-width="0.4"/><polygon points="316.3,170.5 317.3,166 316.5,154.7 306.7,82.3 308.1,82.3 319.3,155 320.7,166.5 320.4,171.1" fill="#03ff01" stroke="#03ff01" stroke-width="0.4"/><polygon points="320.4,171.1 320.7,166.5 319.3,155 308.1,82.3 309.8,82.2 322.5,154.9 324.5,166.3 325.2,170.9" fill="#02fc01" stroke="#02fc01" stroke-width="0.4"/><polygon points="325.2,170.9 324.5,166.3 322.5,154.9 309.8,82.2 311.5,81.9 325.7,154.4 328.4,165.7 329.9,170.1" fill="#00e700" stroke="#00e700" stroke-width="0.4"/><polygon points="329.9,170.1 328.4,165.7 325.7,154.4 311.5,81.9 313,81.5 328.5,153.4 331.8,164.6 334.1,168.7" fill="#00d000" stroke="#00d000" stroke-width="0.4"/><polygon points="334.1,168.7 331.8,164.6 328.5,153.4 313,81.5 314.2,81 330.6,152.3 334.2,163.1 337.2,166.9" fill="#00cc00" stroke="#00cc00" stroke-width="0.4"/><polygon points="337.2,166.9 334.2,163.1 330.6,152.3 314.2,81 314.8,80.4 331.7,150.9 335.5,161.5 338.7,164.9" fill="#00cc00" stroke="#00cc00" stroke-width="0.4"/><polygon points="338.7,164.9 335.5,161.5 331.7,150.9 314.8,80.4 314.8,79.9 331.7,149.7 335.5,159.9 338.6,162.9" fill="#00cc00" stroke="#00cc00" stroke-width="0.4"/><polygon points="305.1,81.1 305,81.6 306.5,79.2 306.6,78.9" fill="#00ff00" stroke="#00ff00" stroke-width="0.4"/><polygon points="305,81.6 305.6,82 306.9,79.4 306.5,79.2" fill="#00ff00" stroke="#00ff00" stroke-width="0.4"/><polygon points="305.6,82 306.7,82.3 307.5,79.6 306.9,79.4" fill="#0dff06" stroke="#0dff06" stroke-width="0.4"/><polygon points="306.7,82.3 308.1,82.3 308.5,79.6 307.5,79.6" fill="#37ff1b" stroke="#37ff1b" stroke-width="0.4"/><polygon points="308.1,82.3 309.8,82.2 309.5,79.6 308.5,79.6" fill="#25ff12" stroke="#25ff12" stroke-width="0.4"/><polygon points="309.8,82.2 311.5,81.9 310.6,79.4 309.5,79.6" fill="#03fb01" stroke="#03fb01" stroke-width="0.4"/><polygon points="311.5,81.9 313,81.5 311.5,79.1 310.6,79.4" fill="#00e500" stroke="#00e500" stroke-width="0.4"/><polygon points="313,81.5 314.2,81 312.2,78.8 311.5,79.1" fill="#00d200" stroke="#00d200" stroke-width="0.4"/><polygon points="314.2,81 314.8,80.4 312.6,78.4 312.2,78.8" fill="#00cc00" stroke="#00cc00" stroke-width="0.4"/><polygon points="314.8,80.4 314.8,79.9 312.6,78.1 312.6,78.4" fill="#00cc00" stroke="#00cc00" stroke-width="0.4"/><polygon points="311.6,77.7 310.7,77.7 309.7,77.7 308.6,77.9 307.7,78.2 307,78.5 306.6,78.9 306.5,79.2 306.9,79.4 307.5,79.6 308.5,79.6 309.5,79.6 310.6,79.4 311.5,79.1 312.2,78.8 312.6,78.4 312.6,78.1 312.3,77.9" fill="#00fa00" stroke="#00fa00" stroke-width="0.4"/><polyline points="305,81.6 305.1,81.1 305.6,82 305.7,80.5 306.7,82.3 308.1,82.3 309.8,82.2 311.5,81.9 313,81.5 314.2,81 314.8,80.4" fill="none" stroke="#0a6a0a" stroke-width="0.8"/>
<polygon points="288.9,80.6 313.5,168.4 313.4,170.3 311.7,172.4 308.5,174.2 304.3,175.6 299.5,176.4 294.8,176.5 290.8,175.9 288,174.6 286.6,172.9 279.1,82.3 279.2,81.8 280.6,79.6 281.1,79.2 281.8,78.9 282.8,78.7 283.8,78.5 284.8,78.4 285.7,78.5 286.4,78.6" fill="#007000" stroke="#004a00" stroke-width="1.1"/><polygon points="286.6,172.9 288.4,169 288.3,158.2 279.1,82.3 279.5,82.8 289.2,159.3 289.5,170.4 288,174.6" fill="#00ff00" stroke="#00ff00" stroke-width="0.4"/><polygon points="288,174.6 289.5,170.4 289.2,159.3 279.5,82.8 280.5,83 291.1,160.1 291.9,171.4 290.8,175.9" fill="#00ff00" stroke="#00ff00" stroke-width="0.4"/><polygon points="290.8,175.9 291.9,171.4 291.1,160.1 280.5,83 282,83.1 293.8,160.5 295.1,171.9 294.8,176.5" fill="#03ff01" stroke="#03ff01" stroke-width="0.4"/><polygon points="294.8,176.5 295.1,171.9 293.8,160.5 282,83.1 283.6,83 297,160.4 298.9,171.8 299.5,176.4" fill="#02fc01" stroke="#02fc01" stroke-width="0.4"/><polygon points="299.5,176.4 298.9,171.8 297,160.4 283.6,83 285.4,82.7 300.2,159.8 302.8,171.2 304.3,175.6" fill="#00e700" stroke="#00e700" stroke-width="0.4"/><polygon points="304.3,175.6 302.8,171.2 300.2,159.8 285.4,82.7 286.9,82.3 303.1,158.9 306.2,170 308.5,174.2" fill="#00d000" stroke="#00d000" stroke-width="0.4"/><polygon points="308.5,174.2 306.2,170 303.1,158.9 286.9,82.3 288.1,81.7 305.2,157.7 308.8,168.5 311.7,172.4" fill="#00cc00" stroke="#00cc00" stroke-width="0.4"/><polygon points="311.7,172.4 308.8,168.5 305.2,157.7 288.1,81.7 288.8,81.2 306.4,156.4 310.2,166.9 313.4,170.3" fill="#00cc00" stroke="#00cc00" stroke-width="0.4"/><polygon points="313.4,170.3 310.2,166.9 306.4,156.4 288.8,81.2 288.9,80.6 306.5,155.1 310.3,165.3 313.5,168.4" fill="#00cc00" stroke="#00cc00" stroke-width="0.4"/><polygon points="279.2,81.8 279.1,82.3 280.6,79.9 280.6,79.6" fill="#00ff00" stroke="#00ff00" stroke-width="0.4"/><polygon points="279.1,82.3 279.5,82.8 280.9,80.2 280.6,79.9" fill="#00ff00" stroke="#00ff00" stroke-width="0.4"/><polygon points="279.5,82.8 280.5,83 281.5,80.3 280.9,80.2" fill="#0bff05" stroke="#0bff05" stroke-width="0.4"/><polygon points="280.5,83 282,83.1 282.4,80.4 281.5,80.3" fill="#36ff1b" stroke="#36ff1b" stroke-width="0.4"/><polygon points="282,83.1 283.6,83 283.4,80.3 282.4,80.4" fill="#28ff14" stroke="#28ff14" stroke-width="0.4"/><polygon points="283.6,83 285.4,82.7 284.5,80.1 283.4,80.3" fill="#04fc02" stroke="#04fc02" stroke-width="0.4"/><polygon points="285.4,82.7 286.9,82.3 285.4,79.9 284.5,80.1" fill="#00e500" stroke="#00e500" stroke-width="0.4"/><polygon points="286.9,82.3 288.1,81.7 286.2,79.5 285.4,79.9" fill="#00d200" stroke="#00d200" stroke-width="0.4"/><polygon points="288.1,81.7 288.8,81.2 286.6,79.2 286.2,79.5" fill="#00cc00" stroke="#00cc00" stroke-width="0.4"/><polygon points="288.8,81.2 288.9,80.6 286.7,78.9 286.6,79.2" fill="#00cc00" stroke="#00cc00" stroke-width="0.4"/><polygon points="285.7,78.5 284.8,78.4 283.8,78.5 282.8,78.7 281.8,78.9 281.1,79.2 280.6,79.6 280.6,79.9 280.9,80.2 281.5,80.3 282.4,80.4 283.4,80.3 284.5,80.1 285.4,79.9 286.2,79.5 286.6,79.2 286.7,78.9 286.4,78.6" fill="#00fa00" stroke="#00fa00" stroke-width="0.4"/><polyline points="279.1,82.3 279.2,81.8 279.5,82.8 279.9,81.2 280.5,83 282,83.1 283.6,83 285.4,82.7 286.9,82.3 288.1,81.7 288.8,81.2" fill="none" stroke="#0a6a0a" stroke-width="0.8"/>
<polygon points="274,86.9 298.3,172.6 298.1,174.6 296.3,176.7 293,178.6 288.7,180 284,180.8 279.3,180.9 275.4,180.2 272.6,178.9 271.3,177.1 264.2,88.6 264.4,88 265.8,85.8 266.3,85.5 267,85.1 268,84.9 269,84.7 270,84.6 270.9,84.7 271.5,84.9" fill="#007000" stroke="#004a00" stroke-width="1.1"/><polygon points="271.3,177.1 273.2,173.2 273,162.4 264.2,88.6 264.6,89 273.9,163.5 274.2,174.7 272.6,178.9" fill="#00ff00" stroke="#00ff00" stroke-width="0.4"/><polygon points="272.6,178.9 274.2,174.7 273.9,163.5 264.6,89 265.6,89.3 275.7,164.4 276.5,175.7 275.4,180.2" fill="#00ff00" stroke="#00ff00" stroke-width="0.4"/><polygon points="275.4,180.2 276.5,175.7 275.7,164.4 265.6,89.3 267,89.4 278.4,164.8 279.7,176.2 279.3,180.9" fill="#03ff01" stroke="#03ff01" stroke-width="0.4"/><polygon points="279.3,180.9 279.7,176.2 278.4,164.8 267,89.4 268.7,89.3 281.5,164.7 283.4,176.1 284,180.8" fill="#02fc01" stroke="#02fc01" stroke-width="0.4"/><polygon points="284,180.8 283.4,176.1 281.5,164.7 268.7,89.3 270.4,89 284.8,164.1 287.3,175.5 288.7,180" fill="#00e700" stroke="#00e700" stroke-width="0.4"/><polygon points="288.7,180 287.3,175.5 284.8,164.1 270.4,89 271.9,88.6 287.7,163.2 290.8,174.3 293,178.6" fill="#00d000" stroke="#00d000" stroke-width="0.4"/><polygon points="293,178.6 290.8,174.3 287.7,163.2 271.9,88.6 273.2,88 289.9,162 293.4,172.8 296.3,176.7" fill="#00cc00" stroke="#00cc00" stroke-width="0.4"/><polygon points="296.3,176.7 293.4,172.8 289.9,162 273.2,88 273.9,87.4 291.1,160.6 294.9,171.2 298.1,174.6" fill="#00cc00" stroke="#00cc00" stroke-width="0.4"/><polygon points="298.1,174.6 294.9,171.2 291.1,160.6 273.9,87.4 274,86.9 291.3,159.3 295.1,169.6 298.3,172.6" fill="#00cc00" stroke="#00cc00" stroke-width="0.4"/><polygon points="264.4,88 264.2,88.6 265.7,86.2 265.8,85.8" fill="#00ff00" stroke="#00ff00" stroke-width="0.4"/><polygon points="264.2,88.6 264.6,89 266,86.4 265.7,86.2" fill="#00ff00" stroke="#00ff00" stroke-width="0.4"/><polygon points="264.6,89 265.6,89.3 266.6,86.6 266,86.4" fill="#0aff05" stroke="#0aff05" stroke-width="0.4"/><polygon points="265.6,89.3 267,89.4 267.5,86.7 266.6,86.6" fill="#34ff1a" stroke="#34ff1a" stroke-width="0.4"/><polygon points="267,89.4 268.7,89.3 268.5,86.6 267.5,86.7" fill="#2aff15" stroke="#2aff15" stroke-width="0.4"/><polygon points="268.7,89.3 270.4,89 269.5,86.4 268.5,86.6" fill="#05fc02" stroke="#05fc02" stroke-width="0.4"/><polygon points="270.4,89 271.9,88.6 270.5,86.1 269.5,86.4" fill="#00e500" stroke="#00e500" stroke-width="0.4"/><polygon points="271.9,88.6 273.2,88 271.3,85.8 270.5,86.1" fill="#00d200" stroke="#00d200" stroke-width="0.4"/><polygon points="273.2,88 273.9,87.4 271.7,85.5 271.3,85.8" fill="#00cc00" stroke="#00cc00" stroke-width="0.4"/><polygon points="273.9,87.4 274,86.9 271.8,85.1 271.7,85.5" fill="#00cc00" stroke="#00cc00" stroke-width="0.4"/><polygon points="270.9,84.7 270,84.6 269,84.7 268,84.9 267,85.1 266.3,85.5 265.8,85.8 265.7,86.2 266,86.4 266.6,86.6 267.5,86.7 268.5,86.6 269.5,86.4 270.5,86.1 271.3,85.8 271.7,85.5 271.8,85.1 271.5,84.9" fill="#00fa00" stroke="#00fa00" stroke-width="0.4"/><polyline points="264.2,88.6 264.4,88 264.6,89 265.1,87.5 265.6,89.3 267,89.4 268.7,89.3 270.4,89 271.9,88.6 273.2,88 273.9,87.4" fill="none" stroke="#0a6a0a" stroke-width="0.8"/>
<polygon points="252.6,94.9 276.1,176.6 275.7,178.6 273.8,180.7 270.4,182.6 266.1,184 261.3,184.8 256.7,184.8 252.9,184.1 250.3,182.8 249.2,181 242.8,96.5 243,96 244.4,93.8 244.9,93.4 245.7,93.1 246.7,92.8 247.7,92.6 248.7,92.6 249.5,92.7 250.1,92.8 252.2,94.4" fill="#007000" stroke="#004a00" stroke-width="1.1"/><polygon points="249.2,181 251.1,177.2 250.9,166.3 242.8,96.5 243.2,97 251.6,167.5 252,178.6 250.3,182.8" fill="#00ff00" stroke="#00ff00" stroke-width="0.4"/><polygon points="250.3,182.8 252,178.6 251.6,167.5 243.2,97 244.1,97.3 253.4,168.3 254.1,179.6 252.9,184.1" fill="#00ff00" stroke="#00ff00" stroke-width="0.4"/><polygon points="252.9,184.1 254.1,179.6 253.4,168.3 244.1,97.3 245.4,97.4 256,168.7 257.2,180.2 256.7,184.8" fill="#02ff01" stroke="#02ff01" stroke-width="0.4"/><polygon points="256.7,184.8 257.2,180.2 256,168.7 245.4,97.4 247.1,97.3 259.1,168.7 260.9,180.1 261.3,184.8" fill="#02fc01" stroke="#02fc01" stroke-width="0.4"/><polygon points="261.3,184.8 260.9,180.1 259.1,168.7 247.1,97.3 248.8,97 262.3,168.1 264.8,179.5 266.1,184" fill="#00e700" stroke="#00e700" stroke-width="0.4"/><polygon points="266.1,184 264.8,179.5 262.3,168.1 248.8,97 250.4,96.6 265.2,167.2 268.3,178.3 270.4,182.6" fill="#00d000" stroke="#00d000" stroke-width="0.4"/><polygon points="270.4,182.6 268.3,178.3 265.2,167.2 250.4,96.6 251.6,96 267.5,166 271,176.8 273.8,180.7" fill="#00cc00" stroke="#00cc00" stroke-width="0.4"/><polygon points="273.8,180.7 271,176.8 267.5,166 251.6,96 252.4,95.4 268.9,164.6 272.6,175.2 275.7,178.6" fill="#00cc00" stroke="#00cc00" stroke-width="0.4"/><polygon points="275.7,178.6 272.6,175.2 268.9,164.6 252.4,95.4 252.6,94.9 269.1,163.3 272.9,173.5 276.1,176.6" fill="#00cc00" stroke="#00cc00" stroke-width="0.4"/><polygon points="243,96 242.8,96.5 244.3,94.1 244.4,93.8" fill="#00ff00" stroke="#00ff00" stroke-width="0.4"/><polygon points="242.8,96.5 243.2,97 244.5,94.4 244.3,94.1" fill="#00ff00" stroke="#00ff00" stroke-width="0.4"/><polygon points="243.2,97 244.1,97.3 245.1,94.6 244.5,94.4" fill="#09ff04" stroke="#09ff04" stroke-width="0.4"/><polygon points="244.1,97.3 245.4,97.4 245.9,94.7 245.1,94.6" fill="#32ff19" stroke="#32ff19" stroke-width="0.4"/><polygon points="245.4,97.4 247.1,97.3 247,94.6 245.9,94.7" fill="#2cff16" stroke="#2cff16" stroke-width="0.4"/><polygon points="247.1,97.3 248.8,97 248,94.4 247,94.6" fill="#06fd03" stroke="#06fd03" stroke-width="0.4"/><polygon points="248.8,97 250.4,96.6 249,94.2 248,94.4" fill="#00e500" stroke="#00e500" stroke-width="0.4"/><polygon points="250.4,96.6 251.6,96 249.8,93.8 249,94.2" fill="#00d200" stroke="#00d200" stroke-width="0.4"/><polygon points="251.6,96 252.4,95.4 250.2,93.5 249.8,93.8" fill="#00cc00" stroke="#00cc00" stroke-width="0.4"/><polygon points="252.4,95.4 252.6,94.9 250.4,93.1 250.2,93.5" fill="#00cc00" stroke="#00cc00" stroke-width="0.4"/><polygon points="252.6,94.9 252.2,94.4 250.1,92.8 250.4,93.1" fill="#00cc00" stroke="#00cc00" stroke-width="0.4"/><polygon points="249.5,92.7 248.7,92.6 247.7,92.6 246.7,92.8 245.7,93.1 244.9,93.4 244.4,93.8 244.3,94.1 244.5,94.4 245.1,94.6 245.9,94.7 247,94.6 248,94.4 249,94.2 249.8,93.8 250.2,93.5 250.4,93.1 250.1,92.8" fill="#00fa00" stroke="#00fa00" stroke-width="0.4"/><polyline points="242.8,96.5 243,96 243.2,97 243.8,95.4 244.1,97.3 245.4,97.4 247.1,97.3 248.8,97 250.4,96.6 251.6,96 252.4,95.4" fill="none" stroke="#0a6a0a" stroke-width="0.8"/>
<polygon points="229.6,95.6 253.8,181 253.2,183 251.1,185.1 247.6,187 243.3,188.4 238.5,189.2 234,189.2 230.3,188.5 227.9,187.2 226.9,185.4 219.8,97.2 221.5,94.5 222,94.1 222.8,93.8 223.8,93.5 224.8,93.3 225.8,93.3 226.6,93.3 227.2,93.5 229.3,95.1" fill="#007000" stroke="#004a00" stroke-width="1.1"/><polygon points="226.9,185.4 228.8,181.5 228.6,170.7 219.8,97.2 220.1,97.7 229.2,171.9 229.5,183 227.9,187.2" fill="#00ff00" stroke="#00ff00" stroke-width="0.4"/><polygon points="227.9,187.2 229.5,183 229.2,171.9 220.1,97.7 221,98 230.9,172.7 231.5,184 230.3,188.5" fill="#00ff00" stroke="#00ff00" stroke-width="0.4"/><polygon points="230.3,188.5 231.5,184 230.9,172.7 221,98 222.3,98.1 233.4,173.2 234.5,184.6 234,189.2" fill="#02ff01" stroke="#02ff01" stroke-width="0.4"/><polygon points="234,189.2 234.5,184.6 233.4,173.2 222.3,98.1 223.9,98 236.4,173.1 238.2,184.6 238.5,189.2" fill="#02fc01" stroke="#02fc01" stroke-width="0.4"/><polygon points="238.5,189.2 238.2,184.6 236.4,173.1 223.9,98 225.6,97.7 239.6,172.6 242,183.9 243.3,188.4" fill="#00e700" stroke="#00e700" stroke-width="0.4"/><polygon points="243.3,188.4 242,183.9 239.6,172.6 225.6,97.7 227.2,97.3 242.6,171.6 245.6,182.8 247.6,187" fill="#00d000" stroke="#00d000" stroke-width="0.4"/><polygon points="247.6,187 245.6,182.8 242.6,171.6 227.2,97.3 228.5,96.7 244.9,170.4 248.4,181.3 251.1,185.1" fill="#00cc00" stroke="#00cc00" stroke-width="0.4"/><polygon points="251.1,185.1 248.4,181.3 244.9,170.4 228.5,96.7 229.3,96.1 246.4,169 250.1,179.6 253.2,183" fill="#00cc00" stroke="#00cc00" stroke-width="0.4"/><polygon points="253.2,183 250.1,179.6 246.4,169 229.3,96.1 229.6,95.6 246.8,167.7 250.6,177.9 253.8,181" fill="#00cc00" stroke="#00cc00" stroke-width="0.4"/><polygon points="219.8,97.2 220.1,97.7 221.5,95.1 221.3,94.8" fill="#00ff00" stroke="#00ff00" stroke-width="0.4"/><polygon points="220.1,97.7 221,98 222,95.3 221.5,95.1" fill="#08ff04" stroke="#08ff04" stroke-width="0.4"/><polygon points="221,98 222.3,98.1 222.9,95.4 222,95.3" fill="#30ff18" stroke="#30ff18" stroke-width="0.4"/><polygon points="222.3,98.1 223.9,98 223.9,95.3 222.9,95.4" fill="#2fff17" stroke="#2fff17" stroke-width="0.4"/><polygon points="223.9,98 225.6,97.7 224.9,95.1 223.9,95.3" fill="#07fe03" stroke="#07fe03" stroke-width="0.4"/><polygon points="225.6,97.7 227.2,97.3 225.9,94.9 224.9,95.1" fill="#00e600" stroke="#00e600" stroke-width="0.4"/><polygon points="227.2,97.3 228.5,96.7 226.7,94.5 225.9,94.9" fill="#00d200" stroke="#00d200" stroke-width="0.4"/><polygon points="228.5,96.7 229.3,96.1 227.2,94.2 226.7,94.5" fill="#00cc00" stroke="#00cc00" stroke-width="0.4"/><polygon points="229.3,96.1 229.6,95.6 227.4,93.8 227.2,94.2" fill="#00cc00" stroke="#00cc00" stroke-width="0.4"/><polygon points="229.6,95.6 229.3,95.1 227.2,93.5 227.4,93.8" fill="#00cc00" stroke="#00cc00" stroke-width="0.4"/><polygon points="226.6,93.3 225.8,93.3 224.8,93.3 223.8,93.5 222.8,93.8 222,94.1 221.5,94.5 221.3,94.8 221.5,95.1 222,95.3 222.9,95.4 223.9,95.3 224.9,95.1 225.9,94.9 226.7,94.5 227.2,94.2 227.4,93.8 227.2,93.5" fill="#00fa00" stroke="#00fa00" stroke-width="0.4"/><polyline points="219.8,97.2 220.1,96.7 220.1,97.7 220.9,96.1 221,98 222.3,98.1 223.9,98 225.6,97.7 227.2,97.3 228.5,96.7 229.3,96.1" fill="none" stroke="#0a6a0a" stroke-width="0.8"/>
<polygon points="184.6,103.5 208.9,190 208,192.2 205.6,194.3 201.9,196.2 197.5,197.6 192.7,198.4 188.4,198.4 184.9,197.6 182.8,196.2 182.2,194.3 174.9,105.1 176.3,102.7 176.6,102.4 177.2,102 178,101.7 179,101.4 180.1,101.2 181,101.2 181.8,101.3 182.3,101.5 184.4,103.1" fill="#007000" stroke="#004a00" stroke-width="1.1"/><polygon points="182.2,194.3 184,190.5 183.9,179.7 174.9,105.1 175,105.6 184.2,180.9 184.5,192 182.8,196.2" fill="#00ff00" stroke="#00ff00" stroke-width="0.4"/><polygon points="182.8,196.2 184.5,192 184.2,180.9 175,105.6 175.8,105.9 185.7,181.8 186.2,193.1 184.9,197.6" fill="#00ff00" stroke="#00ff00" stroke-width="0.4"/><polygon points="184.9,197.6 186.2,193.1 185.7,181.8 175.8,105.9 177,106.1 188,182.3 189.1,193.7 188.4,198.4" fill="#01ff00" stroke="#01ff00" stroke-width="0.4"/><polygon points="188.4,198.4 189.1,193.7 188,182.3 177,106.1 178.6,106 191,182.3 192.6,193.7 192.7,198.4" fill="#02fc01" stroke="#02fc01" stroke-width="0.4"/><polygon points="192.7,198.4 192.6,193.7 191,182.3 178.6,106 180.3,105.7 194.2,181.8 196.4,193.1 197.5,197.6" fill="#00e700" stroke="#00e700" stroke-width="0.4"/><polygon points="197.5,197.6 196.4,193.1 194.2,181.8 180.3,105.7 181.9,105.3 197.2,180.8 200.1,192 201.9,196.2" fill="#00d000" stroke="#00d000" stroke-width="0.4"/><polygon points="201.9,196.2 200.1,192 197.2,180.8 181.9,105.3 183.3,104.7 199.7,179.6 203.1,190.4 205.6,194.3" fill="#00cc00" stroke="#00cc00" stroke-width="0.4"/><polygon points="205.6,194.3 203.1,190.4 199.7,179.6 183.3,104.7 184.2,104.1 201.4,178.2 205,188.7 208,192.2" fill="#00cc00" stroke="#00cc00" stroke-width="0.4"/><polygon points="208,192.2 205,188.7 201.4,178.2 184.2,104.1 184.6,103.5 202,176.8 205.8,187 208.9,190" fill="#00cc00" stroke="#00cc00" stroke-width="0.4"/><polygon points="174.9,105.1 175,105.6 176.5,103 176.3,102.7" fill="#00ff00" stroke="#00ff00" stroke-width="0.4"/><polygon points="175,105.6 175.8,105.9 176.9,103.2 176.5,103" fill="#05ff02" stroke="#05ff02" stroke-width="0.4"/><polygon points="175.8,105.9 177,106.1 177.7,103.3 176.9,103.2" fill="#2bff15" stroke="#2bff15" stroke-width="0.4"/><polygon points="177,106.1 178.6,106 178.7,103.3 177.7,103.3" fill="#34ff1a" stroke="#34ff1a" stroke-width="0.4"/><polygon points="178.6,106 180.3,105.7 179.7,103.1 178.7,103.3" fill="#0aff05" stroke="#0aff05" stroke-width="0.4"/><polygon points="180.3,105.7 181.9,105.3 180.7,102.8 179.7,103.1" fill="#00e600" stroke="#00e600" stroke-width="0.4"/><polygon points="181.9,105.3 183.3,104.7 181.6,102.5 180.7,102.8" fill="#00d200" stroke="#00d200" stroke-width="0.4"/><polygon points="183.3,104.7 184.2,104.1 182.1,102.1 181.6,102.5" fill="#00cc00" stroke="#00cc00" stroke-width="0.4"/><polygon points="184.2,104.1 184.6,103.5 182.4,101.8 182.1,102.1" fill="#00cc00" stroke="#00cc00" stroke-width="0.4"/><polygon points="184.6,103.5 184.4,103.1 182.3,101.5 182.4,101.8" fill="#00cc00" stroke="#00cc00" stroke-width="0.4"/><polygon points="181.8,101.3 181,101.2 180.1,101.2 179,101.4 178,101.7 177.2,102 176.6,102.4 176.3,102.7 176.5,103 176.9,103.2 177.7,103.3 178.7,103.3 179.7,103.1 180.7,102.8 181.6,102.5 182.1,102.1 182.4,101.8 182.3,101.5" fill="#00fa00" stroke="#00fa00" stroke-width="0.4"/><polyline points="174.9,105.1 175,105.6 175.3,104.6 175.8,105.9 177,106.1 178.6,106 180.3,105.7 181.9,105.3 183.3,104.7 184.2,104.1" fill="none" stroke="#0a6a0a" stroke-width="0.8"/>
<polygon points="205.2,100.6 229.5,186.6 228.8,188.7 226.5,190.8 222.9,192.7 218.5,194.2 213.7,194.9 209.3,194.9 205.7,194.2 203.4,192.8 202.7,190.9 195.5,102.2 197.2,99.5 197.7,99.1 198.6,98.8 199.6,98.5 200.6,98.3 201.6,98.3 202.4,98.4 202.9,98.6 205,100.2" fill="#007000" stroke="#004a00" stroke-width="1.1"/><polygon points="202.7,190.9 204.5,187.1 204.4,176.3 195.5,102.2 195.7,102.7 204.9,177.5 205.1,188.6 203.4,192.8" fill="#00ff00" stroke="#00ff00" stroke-width="0.4"/><polygon points="203.4,192.8 205.1,188.6 204.9,177.5 195.7,102.7 196.5,103 206.4,178.4 207,189.7 205.7,194.2" fill="#00ff00" stroke="#00ff00" stroke-width="0.4"/><polygon points="205.7,194.2 207,189.7 206.4,178.4 196.5,103 197.8,103.2 208.8,178.8 209.9,190.3 209.3,194.9" fill="#02ff01" stroke="#02ff01" stroke-width="0.4"/><polygon points="209.3,194.9 209.9,190.3 208.8,178.8 197.8,103.2 199.4,103.1 211.8,178.8 213.5,190.2 213.7,194.9" fill="#02fc01" stroke="#02fc01" stroke-width="0.4"/><polygon points="213.7,194.9 213.5,190.2 211.8,178.8 199.4,103.1 201.1,102.8 215,178.3 217.4,189.6 218.5,194.2" fill="#00e700" stroke="#00e700" stroke-width="0.4"/><polygon points="218.5,194.2 217.4,189.6 215,178.3 201.1,102.8 202.7,102.4 218,177.3 221,188.5 222.9,192.7" fill="#00d000" stroke="#00d000" stroke-width="0.4"/><polygon points="222.9,192.7 221,188.5 218,177.3 202.7,102.4 204,101.8 220.5,176.1 223.9,186.9 226.5,190.8" fill="#00cc00" stroke="#00cc00" stroke-width="0.4"/><polygon points="226.5,190.8 223.9,186.9 220.5,176.1 204,101.8 204.9,101.2 222,174.7 225.8,185.2 228.8,188.7" fill="#00cc00" stroke="#00cc00" stroke-width="0.4"/><polygon points="228.8,188.7 225.8,185.2 222,174.7 204.9,101.2 205.2,100.6 222.6,173.3 226.4,183.5 229.5,186.6" fill="#00cc00" stroke="#00cc00" stroke-width="0.4"/><polygon points="195.5,102.2 195.7,102.7 197.1,100.1 197,99.8" fill="#00ff00" stroke="#00ff00" stroke-width="0.4"/><polygon points="195.7,102.7 196.5,103 197.6,100.3 197.1,100.1" fill="#06ff03" stroke="#06ff03" stroke-width="0.4"/><polygon points="196.5,103 197.8,103.2 198.4,100.4 197.6,100.3" fill="#2dff16" stroke="#2dff16" stroke-width="0.4"/><polygon points="197.8,103.2 199.4,103.1 199.4,100.4 198.4,100.4" fill="#32ff19" stroke="#32ff19" stroke-width="0.4"/><polygon points="199.4,103.1 201.1,102.8 200.5,100.2 199.4,100.4" fill="#08ff04" stroke="#08ff04" stroke-width="0.4"/><polygon points="201.1,102.8 202.7,102.4 201.5,99.9 200.5,100.2" fill="#00e600" stroke="#00e600" stroke-width="0.4"/><polygon points="202.7,102.4 204,101.8 202.3,99.6 201.5,99.9" fill="#00d200" stroke="#00d200" stroke-width="0.4"/><polygon points="204,101.8 204.9,101.2 202.8,99.2 202.3,99.6" fill="#00cc00" stroke="#00cc00" stroke-width="0.4"/><polygon points="204.9,101.2 205.2,100.6 203,98.9 202.8,99.2" fill="#00cc00" stroke="#00cc00" stroke-width="0.4"/><polygon points="205.2,100.6 205,100.2 202.9,98.6 203,98.9" fill="#00cc00" stroke="#00cc00" stroke-width="0.4"/><polygon points="202.4,98.4 201.6,98.3 200.6,98.3 199.6,98.5 198.6,98.8 197.7,99.1 197.2,99.5 197,99.8 197.1,100.1 197.6,100.3 198.4,100.4 199.4,100.4 200.5,100.2 201.5,99.9 202.3,99.6 202.8,99.2 203,98.9 202.9,98.6" fill="#00fa00" stroke="#00fa00" stroke-width="0.4"/><polyline points="195.5,102.2 195.7,102.7 195.8,101.7 196.5,103 196.7,101.1 197.8,103.2 199.4,103.1 201.1,102.8 202.7,102.4 204,101.8 204.9,101.2" fill="none" stroke="#0a6a0a" stroke-width="0.8"/>
<polygon points="329.4,172.7 321.1,76.6 321.1,76 322.7,73.8 323.1,73.4 323.8,73.1 324.7,72.8 325.8,72.6 326.9,72.5 327.9,72.6 328.6,72.7 329,73 331.3,74.8 357.1,167.9 357.3,169.9 355.8,172 352.8,173.9 348.5,175.4 343.6,176.2 338.7,176.3 334.4,175.7 331.1,174.4" fill="#007000" stroke="#004a00" stroke-width="1.1"/><polygon points="329.4,172.7 331.3,168.7 331.1,157.6 321.1,76.6 321.7,77 332.3,158.7 332.7,170.1 331.1,174.4" fill="#00ff00" stroke="#00ff00" stroke-width="0.4"/><polygon points="331.1,174.4 332.7,170.1 332.3,158.7 321.7,77 322.9,77.3 334.5,159.5 335.3,171.1 334.4,175.7" fill="#00ff00" stroke="#00ff00" stroke-width="0.4"/><polygon points="334.4,175.7 335.3,171.1 334.5,159.5 322.9,77.3 324.4,77.3 337.4,159.9 338.9,171.6 338.7,176.3" fill="#03ff01" stroke="#03ff01" stroke-width="0.4"/><polygon points="338.7,176.3 338.9,171.6 337.4,159.9 324.4,77.3 326.2,77.2 340.7,159.8 342.9,171.5 343.6,176.2" fill="#01fc00" stroke="#01fc00" stroke-width="0.4"/><polygon points="343.6,176.2 342.9,171.5 340.7,159.8 326.2,77.2 328,76.9 344.1,159.2 346.8,170.8 348.5,175.4" fill="#00e700" stroke="#00e700" stroke-width="0.4"/><polygon points="348.5,175.4 346.8,170.8 344.1,159.2 328,76.9 329.5,76.4 346.9,158.2 350.3,169.6 352.8,173.9" fill="#00d000" stroke="#00d000" stroke-width="0.4"/><polygon points="352.8,173.9 350.3,169.6 346.9,158.2 329.5,76.4 330.7,75.9 349,157 352.8,168.1 355.8,172" fill="#00cc00" stroke="#00cc00" stroke-width="0.4"/><polygon points="355.8,172 352.8,168.1 349,157 330.7,75.9 331.3,75.3 350,155.6 354,166.4 357.3,169.9" fill="#00cc00" stroke="#00cc00" stroke-width="0.4"/><polygon points="357.3,169.9 354,166.4 350,155.6 331.3,75.3 331.3,74.8 349.9,154.3 353.8,164.8 357.1,167.9" fill="#00cc00" stroke="#00cc00" stroke-width="0.4"/><polygon points="321.1,76 321.1,76.6 322.7,74.1 322.7,73.8" fill="#00ff00" stroke="#00ff00" stroke-width="0.4"/><polygon points="321.1,76.6 321.7,77 323,74.3 322.7,74.1" fill="#00ff00" stroke="#00ff00" stroke-width="0.4"/><polygon points="321.7,77 322.9,77.3 323.8,74.5 323,74.3" fill="#0eff07" stroke="#0eff07" stroke-width="0.4"/><polygon points="322.9,77.3 324.4,77.3 324.7,74.5 323.8,74.5" fill="#38ff1c" stroke="#38ff1c" stroke-width="0.4"/><polygon points="324.4,77.3 326.2,77.2 325.8,74.5 324.7,74.5" fill="#22ff11" stroke="#22ff11" stroke-width="0.4"/><polygon points="326.2,77.2 328,76.9 326.9,74.3 325.8,74.5" fill="#03fb01" stroke="#03fb01" stroke-width="0.4"/><polygon points="328,76.9 329.5,76.4 327.9,74 326.9,74.3" fill="#00e500" stroke="#00e500" stroke-width="0.4"/><polygon points="329.5,76.4 330.7,75.9 328.6,73.7 327.9,74" fill="#00d200" stroke="#00d200" stroke-width="0.4"/><polygon points="330.7,75.9 331.3,75.3 329,73.3 328.6,73.7" fill="#00cc00" stroke="#00cc00" stroke-width="0.4"/><polygon points="331.3,75.3 331.3,74.8 329,73 329,73.3" fill="#00cc00" stroke="#00cc00" stroke-width="0.4"/><polygon points="327.9,72.6 326.9,72.5 325.8,72.6 324.7,72.8 323.8,73.1 323.1,73.4 322.7,73.8 322.7,74.1 323,74.3 323.8,74.5 324.7,74.5 325.8,74.5 326.9,74.3 327.9,74 328.6,73.7 329,73.3 329,73 328.6,72.7" fill="#00fa00" stroke="#00fa00" stroke-width="0.4"/><polyline points="321.1,76.6 321.1,76 321.7,77 321.7,75.5 322.9,77.3 324.4,77.3 326.2,77.2 328,76.9 329.5,76.4 330.7,75.9 331.3,75.3" fill="none" stroke="#0a6a0a" stroke-width="0.8"/>
<polygon points="302.6,178.3 295.1,86.5 295.2,86 296.7,83.7 297.1,83.3 297.8,83 298.8,82.7 299.9,82.5 301,82.5 301.9,82.5 302.6,82.7 305.2,84.8 330.2,173.6 330.3,175.6 328.6,177.8 325.4,179.7 321.1,181.1 316.2,182 311.4,182.1 307.2,181.4 304.1,180.1" fill="#007000" stroke="#004a00" stroke-width="1.1"/><polygon points="302.6,178.3 304.5,174.3 304.3,163.2 295.1,86.5 295.6,87 305.4,164.4 305.7,175.7 304.1,180.1" fill="#00ff00" stroke="#00ff00" stroke-width="0.4"/><polygon points="304.1,180.1 305.7,175.7 305.4,164.4 295.6,87 296.7,87.2 307.4,165.2 308.2,176.8 307.2,181.4" fill="#00ff00" stroke="#00ff00" stroke-width="0.4"/><polygon points="307.2,181.4 308.2,176.8 307.4,165.2 296.7,87.2 298.2,87.3 310.3,165.6 311.6,177.3 311.4,182.1" fill="#03ff01" stroke="#03ff01" stroke-width="0.4"/><polygon points="311.4,182.1 311.6,177.3 310.3,165.6 298.2,87.3 299.9,87.2 313.5,165.5 315.6,177.2 316.2,182" fill="#01fc00" stroke="#01fc00" stroke-width="0.4"/><polygon points="316.2,182 315.6,177.2 313.5,165.5 299.9,87.2 301.7,86.9 316.8,165 319.6,176.6 321.1,181.1" fill="#00e700" stroke="#00e700" stroke-width="0.4"/><polygon points="321.1,181.1 319.6,176.6 316.8,165 301.7,86.9 303.3,86.5 319.8,164 323.1,175.4 325.4,179.7" fill="#00d000" stroke="#00d000" stroke-width="0.4"/><polygon points="325.4,179.7 323.1,175.4 319.8,164 303.3,86.5 304.5,85.9 321.9,162.7 325.6,173.8 328.6,177.8" fill="#00cc00" stroke="#00cc00" stroke-width="0.4"/><polygon points="328.6,177.8 325.6,173.8 321.9,162.7 304.5,85.9 305.1,85.3 323.1,161.4 327,172.1 330.3,175.6" fill="#00cc00" stroke="#00cc00" stroke-width="0.4"/><polygon points="330.3,175.6 327,172.1 323.1,161.4 305.1,85.3 305.2,84.8 323.1,160 327,170.5 330.2,173.6" fill="#00cc00" stroke="#00cc00" stroke-width="0.4"/><polygon points="295.2,86 295.1,86.5 296.6,84 296.7,83.7" fill="#00ff00" stroke="#00ff00" stroke-width="0.4"/><polygon points="295.1,86.5 295.6,87 297,84.3 296.6,84" fill="#00ff00" stroke="#00ff00" stroke-width="0.4"/><polygon points="295.6,87 296.7,87.2 297.6,84.5 297,84.3" fill="#0cff06" stroke="#0cff06" stroke-width="0.4"/><polygon points="296.7,87.2 298.2,87.3 298.6,84.5 297.6,84.5" fill="#37ff1b" stroke="#37ff1b" stroke-width="0.4"/><polygon points="298.2,87.3 299.9,87.2 299.7,84.5 298.6,84.5" fill="#26ff13" stroke="#26ff13" stroke-width="0.4"/><polygon points="299.9,87.2 301.7,86.9 300.7,84.3 299.7,84.5" fill="#04fc02" stroke="#04fc02" stroke-width="0.4"/><polygon points="301.7,86.9 303.3,86.5 301.7,84 300.7,84.3" fill="#00e500" stroke="#00e500" stroke-width="0.4"/><polygon points="303.3,86.5 304.5,85.9 302.5,83.7 301.7,84" fill="#00d200" stroke="#00d200" stroke-width="0.4"/><polygon points="304.5,85.9 305.1,85.3 302.9,83.3 302.5,83.7" fill="#00cc00" stroke="#00cc00" stroke-width="0.4"/><polygon points="305.1,85.3 305.2,84.8 302.9,83 302.9,83.3" fill="#00cc00" stroke="#00cc00" stroke-width="0.4"/><polygon points="301.9,82.5 301,82.5 299.9,82.5 298.8,82.7 297.8,83 297.1,83.3 296.7,83.7 296.6,84 297,84.3 297.6,84.5 298.6,84.5 299.7,84.5 300.7,84.3 301.7,84 302.5,83.7 302.9,83.3 302.9,83 302.6,82.7" fill="#00fa00" stroke="#00fa00" stroke-width="0.4"/><polyline points="295.1,86.5 295.2,86 295.6,87 295.9,85.4 296.7,87.2 298.2,87.3 299.9,87.2 301.7,86.9 303.3,86.5 304.5,85.9 305.1,85.3" fill="none" stroke="#0a6a0a" stroke-width="0.8"/>
<polygon points="266.1,94 290.7,180.7 290.4,182.8 288.5,184.9 285.1,186.9 280.7,188.3 275.9,189.1 271.2,189.2 267.2,188.5 264.4,187.1 263.2,185.3 256,95.7 256.2,95.1 257.7,92.9 258.2,92.5 259,92.2 259.9,91.9 261,91.7 262.1,91.7 262.9,91.7 263.5,91.9 265.6,93.5" fill="#007000" stroke="#004a00" stroke-width="1.1"/><polygon points="263.2,185.3 265.1,181.3 264.9,170.3 256,95.7 256.5,96.2 265.8,171.5 266.1,182.8 264.4,187.1" fill="#00ff00" stroke="#00ff00" stroke-width="0.4"/><polygon points="264.4,187.1 266.1,182.8 265.8,171.5 256.5,96.2 257.4,96.5 267.6,172.4 268.3,183.9 267.2,188.5" fill="#00ff00" stroke="#00ff00" stroke-width="0.4"/><polygon points="267.2,188.5 268.3,183.9 267.6,172.4 257.4,96.5 258.9,96.6 270.3,172.8 271.6,184.5 271.2,189.2" fill="#02ff01" stroke="#02ff01" stroke-width="0.4"/><polygon points="271.2,189.2 271.6,184.5 270.3,172.8 258.9,96.6 260.5,96.5 273.5,172.7 275.4,184.4 275.9,189.1" fill="#02fc01" stroke="#02fc01" stroke-width="0.4"/><polygon points="275.9,189.1 275.4,184.4 273.5,172.7 260.5,96.5 262.3,96.2 276.8,172.2 279.3,183.7 280.7,188.3" fill="#00e700" stroke="#00e700" stroke-width="0.4"/><polygon points="280.7,188.3 279.3,183.7 276.8,172.2 262.3,96.2 263.9,95.7 279.7,171.2 282.9,182.6 285.1,186.9" fill="#00d000" stroke="#00d000" stroke-width="0.4"/><polygon points="285.1,186.9 282.9,182.6 279.7,171.2 263.9,95.7 265.1,95.2 282,170 285.7,181 288.5,184.9" fill="#00cc00" stroke="#00cc00" stroke-width="0.4"/><polygon points="288.5,184.9 285.7,181 282,170 265.1,95.2 265.9,94.6 283.4,168.6 287.2,179.3 290.4,182.8" fill="#00cc00" stroke="#00cc00" stroke-width="0.4"/><polygon points="290.4,182.8 287.2,179.3 283.4,168.6 265.9,94.6 266.1,94 283.6,167.2 287.5,177.6 290.7,180.7" fill="#00cc00" stroke="#00cc00" stroke-width="0.4"/><polygon points="256.2,95.1 256,95.7 257.6,93.3 257.7,92.9" fill="#00ff00" stroke="#00ff00" stroke-width="0.4"/><polygon points="256,95.7 256.5,96.2 257.8,93.5 257.6,93.3" fill="#00ff00" stroke="#00ff00" stroke-width="0.4"/><polygon points="256.5,96.2 257.4,96.5 258.5,93.7 257.8,93.5" fill="#0aff05" stroke="#0aff05" stroke-width="0.4"/><polygon points="257.4,96.5 258.9,96.6 259.3,93.8 258.5,93.7" fill="#34ff1a" stroke="#34ff1a" stroke-width="0.4"/><polygon points="258.9,96.6 260.5,96.5 260.4,93.7 259.3,93.8" fill="#2bff15" stroke="#2bff15" stroke-width="0.4"/><polygon points="260.5,96.5 262.3,96.2 261.5,93.6 260.4,93.7" fill="#05fd02" stroke="#05fd02" stroke-width="0.4"/><polygon points="262.3,96.2 263.9,95.7 262.5,93.3 261.5,93.6" fill="#00e500" stroke="#00e500" stroke-width="0.4"/><polygon points="263.9,95.7 265.1,95.2 263.2,92.9 262.5,93.3" fill="#00d200" stroke="#00d200" stroke-width="0.4"/><polygon points="265.1,95.2 265.9,94.6 263.7,92.5 263.2,92.9" fill="#00cc00" stroke="#00cc00" stroke-width="0.4"/><polygon points="265.9,94.6 266.1,94 263.8,92.2 263.7,92.5" fill="#00cc00" stroke="#00cc00" stroke-width="0.4"/><polygon points="266.1,94 265.6,93.5 263.5,91.9 263.8,92.2" fill="#00cc00" stroke="#00cc00" stroke-width="0.4"/><polygon points="262.9,91.7 262.1,91.7 261,91.7 259.9,91.9 259,92.2 258.2,92.5 257.7,92.9 257.6,93.3 257.8,93.5 258.5,93.7 259.3,93.8 260.4,93.7 261.5,93.6 262.5,93.3 263.2,92.9 263.7,92.5 263.8,92.2 263.5,91.9" fill="#00fa00" stroke="#00fa00" stroke-width="0.4"/><polyline points="256,95.7 256.2,95.1 256.5,96.2 257,94.5 257.4,96.5 258.9,96.6 260.5,96.5 262.3,96.2 263.9,95.7 265.1,95.2 265.9,94.6" fill="none" stroke="#0a6a0a" stroke-width="0.8"/>
<polygon points="288.3,92 313.1,178.8 313,181 311.2,183.1 307.9,185.1 303.5,186.6 298.6,187.4 293.8,187.4 289.6,186.7 286.7,185.4 285.3,183.5 278.2,93.7 278.3,93.1 279.8,90.9 280.2,90.5 281,90.2 282,89.9 283.1,89.7 284.1,89.6 285,89.7 285.7,89.9" fill="#007000" stroke="#004a00" stroke-width="1.1"/><polygon points="285.3,183.5 287.2,179.5 287,168.4 278.2,93.7 278.7,94.2 288,169.6 288.3,181 286.7,185.4" fill="#00ff00" stroke="#00ff00" stroke-width="0.4"/><polygon points="286.7,185.4 288.3,181 288,169.6 278.7,94.2 279.7,94.5 290,170.5 290.7,182.1 289.6,186.7" fill="#00ff00" stroke="#00ff00" stroke-width="0.4"/><polygon points="289.6,186.7 290.7,182.1 290,170.5 279.7,94.5 281.2,94.6 292.8,170.9 294.1,182.7 293.8,187.4" fill="#03ff01" stroke="#03ff01" stroke-width="0.4"/><polygon points="293.8,187.4 294.1,182.7 292.8,170.9 281.2,94.6 282.9,94.5 296,170.8 298,182.6 298.6,187.4" fill="#01fc00" stroke="#01fc00" stroke-width="0.4"/><polygon points="298.6,187.4 298,182.6 296,170.8 282.9,94.5 284.7,94.2 299.3,170.3 302,181.9 303.5,186.6" fill="#00e700" stroke="#00e700" stroke-width="0.4"/><polygon points="303.5,186.6 302,181.9 299.3,170.3 284.7,94.2 286.3,93.7 302.3,169.3 305.5,180.7 307.9,185.1" fill="#00d000" stroke="#00d000" stroke-width="0.4"/><polygon points="307.9,185.1 305.5,180.7 302.3,169.3 286.3,93.7 287.5,93.1 304.5,168 308.2,179.2 311.2,183.1" fill="#00cc00" stroke="#00cc00" stroke-width="0.4"/><polygon points="311.2,183.1 308.2,179.2 304.5,168 287.5,93.1 288.2,92.5 305.8,166.6 309.7,177.4 313,181" fill="#00cc00" stroke="#00cc00" stroke-width="0.4"/><polygon points="313,181 309.7,177.4 305.8,166.6 288.2,92.5 288.3,92 305.9,165.3 309.8,175.7 313.1,178.8" fill="#00cc00" stroke="#00cc00" stroke-width="0.4"/><polygon points="278.3,93.1 278.2,93.7 279.7,91.2 279.8,90.9" fill="#00ff00" stroke="#00ff00" stroke-width="0.4"/><polygon points="278.2,93.7 278.7,94.2 280,91.5 279.7,91.2" fill="#00ff00" stroke="#00ff00" stroke-width="0.4"/><polygon points="278.7,94.2 279.7,94.5 280.7,91.7 280,91.5" fill="#0bff05" stroke="#0bff05" stroke-width="0.4"/><polygon points="279.7,94.5 281.2,94.6 281.6,91.8 280.7,91.7" fill="#36ff1b" stroke="#36ff1b" stroke-width="0.4"/><polygon points="281.2,94.6 282.9,94.5 282.7,91.7 281.6,91.8" fill="#28ff14" stroke="#28ff14" stroke-width="0.4"/><polygon points="282.9,94.5 284.7,94.2 283.7,91.5 282.7,91.7" fill="#04fc02" stroke="#04fc02" stroke-width="0.4"/><polygon points="284.7,94.2 286.3,93.7 284.7,91.2 283.7,91.5" fill="#00e500" stroke="#00e500" stroke-width="0.4"/><polygon points="286.3,93.7 287.5,93.1 285.5,90.9 284.7,91.2" fill="#00d200" stroke="#00d200" stroke-width="0.4"/><polygon points="287.5,93.1 288.2,92.5 285.9,90.5 285.5,90.9" fill="#00cc00" stroke="#00cc00" stroke-width="0.4"/><polygon points="288.2,92.5 288.3,92 286,90.1 285.9,90.5" fill="#00cc00" stroke="#00cc00" stroke-width="0.4"/><polygon points="285,89.7 284.1,89.6 283.1,89.7 282,89.9 281,90.2 280.2,90.5 279.8,90.9 279.7,91.2 280,91.5 280.7,91.7 281.6,91.8 282.7,91.7 283.7,91.5 284.7,91.2 285.5,90.9 285.9,90.5 286,90.1 285.7,89.9" fill="#00fa00" stroke="#00fa00" stroke-width="0.4"/><polyline points="278.2,93.7 278.3,93.1 278.7,94.2 279,92.5 279.7,94.5 281.2,94.6 282.9,94.5 284.7,94.2 286.3,93.7 287.5,93.1 288.2,92.5" fill="none" stroke="#0a6a0a" stroke-width="0.8"/>
<polygon points="379,172 379.4,174.1 378.1,176.3 375,178.3 370.7,179.8 365.7,180.7 360.6,180.8 356,180.1 352.5,178.8 350.5,177 350.3,174.9 343.1,84 344.8,81.7 345.1,81.4 345.8,81 346.8,80.7 347.9,80.5 349,80.4 350.1,80.5 350.8,80.7 351.3,80.9 353.6,82.8" fill="#007000" stroke="#004a00" stroke-width="1.1"/><polygon points="350.3,174.9 352.3,171.2 352.2,160.2 343.1,84 343.2,84.6 352.3,161.6 352.5,172.9 350.5,177" fill="#00ff00" stroke="#00ff00" stroke-width="0.4"/><polygon points="350.5,177 352.5,172.9 352.3,161.6 343.2,84.6 343.9,85.1 353.7,162.7 354.1,174.4 352.5,178.8" fill="#00ff00" stroke="#00ff00" stroke-width="0.4"/><polygon points="352.5,178.8 354.1,174.4 353.7,162.7 343.9,85.1 345.1,85.3 356,163.6 356.9,175.4 356,180.1" fill="#00ff00" stroke="#00ff00" stroke-width="0.4"/><polygon points="356,180.1 356.9,175.4 356,163.6 345.1,85.3 346.8,85.4 359.1,164 360.6,175.9 360.6,180.8" fill="#03ff01" stroke="#03ff01" stroke-width="0.4"/><polygon points="360.6,180.8 360.6,175.9 359.1,164 346.8,85.4 348.6,85.3 362.6,163.9 364.8,175.8 365.7,180.7" fill="#01fc00" stroke="#01fc00" stroke-width="0.4"/><polygon points="365.7,180.7 364.8,175.8 362.6,163.9 348.6,85.3 350.4,85 366,163.3 368.9,175.1 370.7,179.8" fill="#00e700" stroke="#00e700" stroke-width="0.4"/><polygon points="370.7,179.8 368.9,175.1 366,163.3 350.4,85 352,84.5 368.9,162.3 372.4,173.9 375,178.3" fill="#00d000" stroke="#00d000" stroke-width="0.4"/><polygon points="375,178.3 372.4,173.9 368.9,162.3 352,84.5 353.1,83.9 371,161 374.9,172.3 378.1,176.3" fill="#00cc00" stroke="#00cc00" stroke-width="0.4"/><polygon points="378.1,176.3 374.9,172.3 371,161 353.1,83.9 353.7,83.3 371.9,159.6 376,170.6 379.4,174.1" fill="#00cc00" stroke="#00cc00" stroke-width="0.4"/><polygon points="379.4,174.1 376,170.6 371.9,159.6 353.7,83.3 353.6,82.8 371.7,158.2 375.7,168.9 379,172" fill="#00cc00" stroke="#00cc00" stroke-width="0.4"/><polygon points="343.1,84 343.2,84.6 344.8,82.1 344.8,81.7" fill="#00ff00" stroke="#00ff00" stroke-width="0.4"/><polygon points="343.2,84.6 343.9,85.1 345.2,82.3 344.8,82.1" fill="#00ff00" stroke="#00ff00" stroke-width="0.4"/><polygon points="343.9,85.1 345.1,85.3 346,82.5 345.2,82.3" fill="#10ff08" stroke="#10ff08" stroke-width="0.4"/><polygon points="345.1,85.3 346.8,85.4 347,82.6 346,82.5" fill="#3aff1d" stroke="#3aff1d" stroke-width="0.4"/><polygon points="346.8,85.4 348.6,85.3 348.1,82.5 347,82.6" fill="#20ff10" stroke="#20ff10" stroke-width="0.4"/><polygon points="348.6,85.3 350.4,85 349.3,82.3 348.1,82.5" fill="#02fb01" stroke="#02fb01" stroke-width="0.4"/><polygon points="350.4,85 352,84.5 350.3,82 349.3,82.3" fill="#00e500" stroke="#00e500" stroke-width="0.4"/><polygon points="352,84.5 353.1,83.9 351,81.6 350.3,82" fill="#00d200" stroke="#00d200" stroke-width="0.4"/><polygon points="353.1,83.9 353.7,83.3 351.3,81.3 351,81.6" fill="#00cc00" stroke="#00cc00" stroke-width="0.4"/><polygon points="353.7,83.3 353.6,82.8 351.3,80.9 351.3,81.3" fill="#00cc00" stroke="#00cc00" stroke-width="0.4"/><polygon points="350.1,80.5 349,80.4 347.9,80.5 346.8,80.7 345.8,81 345.1,81.4 344.8,81.7 344.8,82.1 345.2,82.3 346,82.5 347,82.6 348.1,82.5 349.3,82.3 350.3,82 351,81.6 351.3,81.3 351.3,80.9 350.8,80.7" fill="#00fa00" stroke="#00fa00" stroke-width="0.4"/><polyline points="343.1,84 343.2,84.6 343.7,83.4 343.9,85.1 345.1,85.3 346.8,85.4 348.6,85.3 350.4,85 352,84.5 353.1,83.9 353.7,83.3" fill="none" stroke="#0a6a0a" stroke-width="0.8"/>
<polygon points="247.8,98.9 272.7,186.7 272.3,188.9 270.2,191.1 266.8,193.1 262.3,194.6 257.4,195.4 252.7,195.4 248.8,194.6 246.1,193.2 245,191.3 237.7,100.5 238,100 239.4,97.7 239.9,97.3 240.7,97 241.7,96.7 242.8,96.5 243.9,96.5 244.7,96.5 245.3,96.7 247.4,98.4" fill="#007000" stroke="#004a00" stroke-width="1.1"/><polygon points="245,191.3 246.9,187.3 246.8,176.3 237.7,100.5 238.1,101 247.5,177.5 247.8,188.9 246.1,193.2" fill="#00ff00" stroke="#00ff00" stroke-width="0.4"/><polygon points="246.1,193.2 247.8,188.9 247.5,177.5 238.1,101 239,101.4 249.3,178.4 250,190 248.8,194.6" fill="#00ff00" stroke="#00ff00" stroke-width="0.4"/><polygon points="248.8,194.6 250,190 249.3,178.4 239,101.4 240.4,101.5 252,178.9 253.2,190.6 252.7,195.4" fill="#02ff01" stroke="#02ff01" stroke-width="0.4"/><polygon points="252.7,195.4 253.2,190.6 252,178.9 240.4,101.5 242.1,101.4 255.1,178.8 257,190.6 257.4,195.4" fill="#02fc01" stroke="#02fc01" stroke-width="0.4"/><polygon points="257.4,195.4 257,190.6 255.1,178.8 242.1,101.4 243.9,101.1 258.4,178.3 261,189.9 262.3,194.6" fill="#00e700" stroke="#00e700" stroke-width="0.4"/><polygon points="262.3,194.6 261,189.9 258.4,178.3 243.9,101.1 245.5,100.6 261.5,177.3 264.6,188.7 266.8,193.1" fill="#00d000" stroke="#00d000" stroke-width="0.4"/><polygon points="266.8,193.1 264.6,188.7 261.5,177.3 245.5,100.6 246.8,100.1 263.8,176 267.4,187.1 270.2,191.1" fill="#00cc00" stroke="#00cc00" stroke-width="0.4"/><polygon points="270.2,191.1 267.4,187.1 263.8,176 246.8,100.1 247.6,99.4 265.2,174.6 269.1,185.4 272.3,188.9" fill="#00cc00" stroke="#00cc00" stroke-width="0.4"/><polygon points="272.3,188.9 269.1,185.4 265.2,174.6 247.6,99.4 247.8,98.9 265.6,173.2 269.5,183.6 272.7,186.7" fill="#00cc00" stroke="#00cc00" stroke-width="0.4"/><polygon points="238,100 237.7,100.5 239.3,98.1 239.4,97.7" fill="#00ff00" stroke="#00ff00" stroke-width="0.4"/><polygon points="237.7,100.5 238.1,101 239.5,98.4 239.3,98.1" fill="#00ff00" stroke="#00ff00" stroke-width="0.4"/><polygon points="238.1,101 239,101.4 240.1,98.6 239.5,98.4" fill="#09ff04" stroke="#09ff04" stroke-width="0.4"/><polygon points="239,101.4 240.4,101.5 240.9,98.7 240.1,98.6" fill="#32ff19" stroke="#32ff19" stroke-width="0.4"/><polygon points="240.4,101.5 242.1,101.4 242,98.6 240.9,98.7" fill="#2dff16" stroke="#2dff16" stroke-width="0.4"/><polygon points="242.1,101.4 243.9,101.1 243.1,98.4 242,98.6" fill="#06fd03" stroke="#06fd03" stroke-width="0.4"/><polygon points="243.9,101.1 245.5,100.6 244.1,98.1 243.1,98.4" fill="#00e500" stroke="#00e500" stroke-width="0.4"/><polygon points="245.5,100.6 246.8,100.1 244.9,97.8 244.1,98.1" fill="#00d200" stroke="#00d200" stroke-width="0.4"/><polygon points="246.8,100.1 247.6,99.4 245.4,97.4 244.9,97.8" fill="#00cc00" stroke="#00cc00" stroke-width="0.4"/><polygon points="247.6,99.4 247.8,98.9 245.5,97 245.4,97.4" fill="#00cc00" stroke="#00cc00" stroke-width="0.4"/><polygon points="247.8,98.9 247.4,98.4 245.3,96.7 245.5,97" fill="#00cc00" stroke="#00cc00" stroke-width="0.4"/><polygon points="244.7,96.5 243.9,96.5 242.8,96.5 241.7,96.7 240.7,97 239.9,97.3 239.4,97.7 239.3,98.1 239.5,98.4 240.1,98.6 240.9,98.7 242,98.6 243.1,98.4 244.1,98.1 244.9,97.8 245.4,97.4 245.5,97 245.3,96.7" fill="#00fa00" stroke="#00fa00" stroke-width="0.4"/><polyline points="237.7,100.5 238,100 238.1,101 238.8,99.4 239,101.4 240.4,101.5 242.1,101.4 243.9,101.1 245.5,100.6 246.8,100.1 247.6,99.4" fill="none" stroke="#0a6a0a" stroke-width="0.8"/>
<polygon points="181.5,203.1 182.1,205.1 180.9,207.4 178.3,209.7 174.3,211.7 169.7,213.2 164.8,214 160.4,214 157,213.1 155,211.5 154.6,209.5 147.1,117.8 148.6,115.4 148.9,115 149.5,114.6 150.4,114.2 151.5,114 152.6,113.8 153.5,113.7 154.3,113.8 154.7,114.1 156.9,115.7" fill="#007000" stroke="#004a00" stroke-width="1.1"/><polygon points="154.6,209.5 156.5,205.5 156.3,194.6 147.1,117.8 147.2,118.4 156.6,195.9 156.8,207.2 155,211.5" fill="#00ff00" stroke="#00ff00" stroke-width="0.4"/><polygon points="155,211.5 156.8,207.2 156.6,195.9 147.2,118.4 147.9,118.7 157.9,196.9 158.4,208.4 157,213.1" fill="#00ff00" stroke="#00ff00" stroke-width="0.4"/><polygon points="157,213.1 158.4,208.4 157.9,196.9 147.9,118.7 149.1,118.9 160.2,197.4 161.2,209.1 160.4,214" fill="#01ff00" stroke="#01ff00" stroke-width="0.4"/><polygon points="160.4,214 161.2,209.1 160.2,197.4 149.1,118.9 150.6,118.8 163.2,197.4 164.8,209.2 164.8,214" fill="#01fc00" stroke="#01fc00" stroke-width="0.4"/><polygon points="164.8,214 164.8,209.2 163.2,197.4 150.6,118.8 152.4,118.6 166.5,196.9 168.7,208.5 169.7,213.2" fill="#00e700" stroke="#00e700" stroke-width="0.4"/><polygon points="169.7,213.2 168.7,208.5 166.5,196.9 152.4,118.6 154.1,118.1 169.7,195.9 172.5,207.3 174.3,211.7" fill="#00d000" stroke="#00d000" stroke-width="0.4"/><polygon points="174.3,211.7 172.5,207.3 169.7,195.9 154.1,118.1 155.6,117.5 172.3,194.6 175.7,205.7 178.3,209.7" fill="#00cc00" stroke="#00cc00" stroke-width="0.4"/><polygon points="178.3,209.7 175.7,205.7 172.3,194.6 155.6,117.5 156.6,116.8 174.2,193.1 177.9,203.9 180.9,207.4" fill="#00cc00" stroke="#00cc00" stroke-width="0.4"/><polygon points="180.9,207.4 177.9,203.9 174.2,193.1 156.6,116.8 157.1,116.2 175,191.6 178.8,202 182.1,205.1" fill="#00cc00" stroke="#00cc00" stroke-width="0.4"/><polygon points="182.1,205.1 178.8,202 175,191.6 157.1,116.2 156.9,115.7 174.6,190.3 178.4,200.4 181.5,203.1" fill="#00cc00" stroke="#00cc00" stroke-width="0.4"/><polygon points="147.1,117.8 147.2,118.4 148.7,115.7 148.6,115.4" fill="#00ff00" stroke="#00ff00" stroke-width="0.4"/><polygon points="147.2,118.4 147.9,118.7 149.1,115.9 148.7,115.7" fill="#04ff02" stroke="#04ff02" stroke-width="0.4"/><polygon points="147.9,118.7 149.1,118.9 149.8,116 149.1,115.9" fill="#27ff13" stroke="#27ff13" stroke-width="0.4"/><polygon points="149.1,118.9 150.6,118.8 150.8,116 149.8,116" fill="#36ff1b" stroke="#36ff1b" stroke-width="0.4"/><polygon points="150.6,118.8 152.4,118.6 151.9,115.8 150.8,116" fill="#0cff06" stroke="#0cff06" stroke-width="0.4"/><polygon points="152.4,118.6 154.1,118.1 153,115.5 151.9,115.8" fill="#00e600" stroke="#00e600" stroke-width="0.4"/><polygon points="154.1,118.1 155.6,117.5 153.9,115.2 153,115.5" fill="#00d200" stroke="#00d200" stroke-width="0.4"/><polygon points="155.6,117.5 156.6,116.8 154.5,114.8 153.9,115.2" fill="#00cc00" stroke="#00cc00" stroke-width="0.4"/><polygon points="156.6,116.8 157.1,116.2 154.8,114.4 154.5,114.8" fill="#00cc00" stroke="#00cc00" stroke-width="0.4"/><polygon points="157.1,116.2 156.9,115.7 154.7,114.1 154.8,114.4" fill="#00cc00" stroke="#00cc00" stroke-width="0.4"/><polygon points="154.3,113.8 153.5,113.7 152.6,113.8 151.5,114 150.4,114.2 149.5,114.6 148.9,115 148.6,115.4 148.7,115.7 149.1,115.9 149.8,116 150.8,116 151.9,115.8 153,115.5 153.9,115.2 154.5,114.8 154.8,114.4 154.7,114.1" fill="#00fa00" stroke="#00fa00" stroke-width="0.4"/><polyline points="147.1,117.8 147.2,118.4 147.6,117.2 147.9,118.7 149.1,118.9 150.6,118.8 152.4,118.6 154.1,118.1 155.6,117.5 156.6,116.8" fill="none" stroke="#0a6a0a" stroke-width="0.8"/>
<polygon points="222.2,101.2 247.7,192.6 247.1,194.8 244.9,197 241.3,199 236.7,200.5 231.9,201.3 227.2,201.3 223.4,200.5 221,199 220.1,197.1 212.1,102.9 213.9,100 214.4,99.7 215.2,99.3 216.3,99 217.3,98.8 218.4,98.8 219.2,98.9 219.8,99.1 221.9,100.7" fill="#007000" stroke="#004a00" stroke-width="1.1"/><polygon points="220.1,197.1 221.9,193.1 221.8,182.1 212.1,102.9 212.4,103.4 222.4,183.3 222.7,194.7 221,199" fill="#00ff00" stroke="#00ff00" stroke-width="0.4"/><polygon points="221,199 222.7,194.7 222.4,183.3 212.4,103.4 213.3,103.7 224.1,184.3 224.7,195.9 223.4,200.5" fill="#00ff00" stroke="#00ff00" stroke-width="0.4"/><polygon points="223.4,200.5 224.7,195.9 224.1,184.3 213.3,103.7 214.6,103.8 226.6,184.7 227.8,196.5 227.2,201.3" fill="#02ff01" stroke="#02ff01" stroke-width="0.4"/><polygon points="227.2,201.3 227.8,196.5 226.6,184.7 214.6,103.8 216.3,103.8 229.8,184.7 231.5,196.5 231.9,201.3" fill="#01fc00" stroke="#01fc00" stroke-width="0.4"/><polygon points="231.9,201.3 231.5,196.5 229.8,184.7 216.3,103.8 218.1,103.5 233.1,184.2 235.5,195.8 236.7,200.5" fill="#00e700" stroke="#00e700" stroke-width="0.4"/><polygon points="236.7,200.5 235.5,195.8 233.1,184.2 218.1,103.5 219.7,103 236.1,183.2 239.2,194.6 241.3,199" fill="#00d000" stroke="#00d000" stroke-width="0.4"/><polygon points="241.3,199 239.2,194.6 236.1,183.2 219.7,103 221.1,102.4 238.6,181.9 242.1,193 244.9,197" fill="#00cc00" stroke="#00cc00" stroke-width="0.4"/><polygon points="244.9,197 242.1,193 238.6,181.9 221.1,102.4 221.9,101.8 240.1,180.4 244,191.2 247.1,194.8" fill="#00cc00" stroke="#00cc00" stroke-width="0.4"/><polygon points="247.1,194.8 244,191.2 240.1,180.4 221.9,101.8 222.2,101.2 240.6,179 244.5,189.4 247.7,192.6" fill="#00cc00" stroke="#00cc00" stroke-width="0.4"/><polygon points="212.1,102.9 212.4,103.4 213.8,100.7 213.7,100.4" fill="#00ff00" stroke="#00ff00" stroke-width="0.4"/><polygon points="212.4,103.4 213.3,103.7 214.4,100.9 213.8,100.7" fill="#07ff03" stroke="#07ff03" stroke-width="0.4"/><polygon points="213.3,103.7 214.6,103.8 215.2,101 214.4,100.9" fill="#2fff17" stroke="#2fff17" stroke-width="0.4"/><polygon points="214.6,103.8 216.3,103.8 216.3,100.9 215.2,101" fill="#30ff18" stroke="#30ff18" stroke-width="0.4"/><polygon points="216.3,103.8 218.1,103.5 217.4,100.8 216.3,100.9" fill="#07fe03" stroke="#07fe03" stroke-width="0.4"/><polygon points="218.1,103.5 219.7,103 218.4,100.5 217.4,100.8" fill="#00e600" stroke="#00e600" stroke-width="0.4"/><polygon points="219.7,103 221.1,102.4 219.2,100.1 218.4,100.5" fill="#00d200" stroke="#00d200" stroke-width="0.4"/><polygon points="221.1,102.4 221.9,101.8 219.8,99.7 219.2,100.1" fill="#00cc00" stroke="#00cc00" stroke-width="0.4"/><polygon points="221.9,101.8 222.2,101.2 219.9,99.4 219.8,99.7" fill="#00cc00" stroke="#00cc00" stroke-width="0.4"/><polygon points="222.2,101.2 221.9,100.7 219.8,99.1 219.9,99.4" fill="#00cc00" stroke="#00cc00" stroke-width="0.4"/><polygon points="219.2,98.9 218.4,98.8 217.3,98.8 216.3,99 215.2,99.3 214.4,99.7 213.9,100 213.7,100.4 213.8,100.7 214.4,100.9 215.2,101 216.3,100.9 217.4,100.8 218.4,100.5 219.2,100.1 219.8,99.7 219.9,99.4 219.8,99.1" fill="#00fa00" stroke="#00fa00" stroke-width="0.4"/><polyline points="212.1,102.9 212.4,103.4 212.4,102.3 213.3,103.7 213.3,101.7 214.6,103.8 216.3,103.8 218.1,103.5 219.7,103 221.1,102.4 221.9,101.8" fill="none" stroke="#0a6a0a" stroke-width="0.8"/>
<polygon points="173.3,206.8 165.6,114.4 167.2,112 167.4,111.6 168.1,111.2 168.9,110.8 170,110.5 171.1,110.4 172.1,110.3 172.8,110.4 173.3,110.6 175.5,112.3 175.7,112.8 200.9,202.4 199.9,204.7 197.3,207 193.5,209 188.8,210.5 184,211.3 179.5,211.2 175.9,210.4 173.8,208.9" fill="#007000" stroke="#004a00" stroke-width="1.1"/><polygon points="173.3,206.8 175.2,202.9 175,191.8 165.6,114.4 165.8,114.9 175.4,193.2 175.6,204.5 173.8,208.9" fill="#00ff00" stroke="#00ff00" stroke-width="0.4"/><polygon points="173.8,208.9 175.6,204.5 175.4,193.2 165.8,114.9 166.5,115.3 176.8,194.1 177.3,205.7 175.9,210.4" fill="#00ff00" stroke="#00ff00" stroke-width="0.4"/><polygon points="175.9,210.4 177.3,205.7 176.8,194.1 166.5,115.3 167.8,115.5 179.2,194.7 180.2,206.4 179.5,211.2" fill="#01ff00" stroke="#01ff00" stroke-width="0.4"/><polygon points="179.5,211.2 180.2,206.4 179.2,194.7 167.8,115.5 169.4,115.4 182.2,194.7 183.8,206.4 184,211.3" fill="#01fc00" stroke="#01fc00" stroke-width="0.4"/><polygon points="184,211.3 183.8,206.4 182.2,194.7 169.4,115.4 171.2,115.1 185.5,194.1 187.8,205.8 188.8,210.5" fill="#00e700" stroke="#00e700" stroke-width="0.4"/><polygon points="188.8,210.5 187.8,205.8 185.5,194.1 171.2,115.1 172.9,114.7 188.7,193.2 191.6,204.6 193.5,209" fill="#00d000" stroke="#00d000" stroke-width="0.4"/><polygon points="193.5,209 191.6,204.6 188.7,193.2 172.9,114.7 174.3,114.1 191.3,191.8 194.7,203 197.3,207" fill="#00cc00" stroke="#00cc00" stroke-width="0.4"/><polygon points="197.3,207 194.7,203 191.3,191.8 174.3,114.1 175.3,113.4 193,190.3 196.8,201.1 199.9,204.7" fill="#00cc00" stroke="#00cc00" stroke-width="0.4"/><polygon points="199.9,204.7 196.8,201.1 193,190.3 175.3,113.4 175.7,112.8 193.7,188.8 197.6,199.3 200.9,202.4" fill="#00cc00" stroke="#00cc00" stroke-width="0.4"/><polygon points="165.6,114.4 165.8,114.9 167.3,112.3 167.2,112" fill="#00ff00" stroke="#00ff00" stroke-width="0.4"/><polygon points="165.8,114.9 166.5,115.3 167.7,112.5 167.3,112.3" fill="#05ff02" stroke="#05ff02" stroke-width="0.4"/><polygon points="166.5,115.3 167.8,115.5 168.5,112.6 167.7,112.5" fill="#2aff15" stroke="#2aff15" stroke-width="0.4"/><polygon points="167.8,115.5 169.4,115.4 169.5,112.6 168.5,112.6" fill="#34ff1a" stroke="#34ff1a" stroke-width="0.4"/><polygon points="169.4,115.4 171.2,115.1 170.6,112.4 169.5,112.6" fill="#0bff05" stroke="#0bff05" stroke-width="0.4"/><polygon points="171.2,115.1 172.9,114.7 171.7,112.1 170.6,112.4" fill="#00e600" stroke="#00e600" stroke-width="0.4"/><polygon points="172.9,114.7 174.3,114.1 172.5,111.7 171.7,112.1" fill="#00d200" stroke="#00d200" stroke-width="0.4"/><polygon points="174.3,114.1 175.3,113.4 173.2,111.3 172.5,111.7" fill="#00cc00" stroke="#00cc00" stroke-width="0.4"/><polygon points="175.3,113.4 175.7,112.8 173.4,111 173.2,111.3" fill="#00cc00" stroke="#00cc00" stroke-width="0.4"/><polygon points="175.7,112.8 175.5,112.3 173.3,110.6 173.4,111" fill="#00cc00" stroke="#00cc00" stroke-width="0.4"/><polygon points="172.8,110.4 172.1,110.3 171.1,110.4 170,110.5 168.9,110.8 168.1,111.2 167.4,111.6 167.2,112 167.3,112.3 167.7,112.5 168.5,112.6 169.5,112.6 170.6,112.4 171.7,112.1 172.5,111.7 173.2,111.3 173.4,111 173.3,110.6" fill="#00fa00" stroke="#00fa00" stroke-width="0.4"/><polyline points="165.6,114.4 165.8,114.9 166.1,113.8 166.5,115.3 167.8,115.5 169.4,115.4 171.2,115.1 172.9,114.7 174.3,114.1 175.3,113.4" fill="none" stroke="#0a6a0a" stroke-width="0.8"/>
<polygon points="196.8,202.4 188.5,106.3 190.1,103.8 190.3,103.5 190.9,103.1 191.8,102.7 192.8,102.4 193.9,102.3 194.9,102.2 195.7,102.3 196.2,102.5 198.4,104.2 198.7,104.7 224.5,197.9 223.7,200.2 221.3,202.4 217.6,204.4 213,205.9 208.1,206.7 203.5,206.7 199.9,205.9 197.5,204.4" fill="#007000" stroke="#004a00" stroke-width="1.1"/><polygon points="196.8,202.4 198.7,198.4 198.6,187.4 188.5,106.3 188.8,106.8 199,188.7 199.3,200 197.5,204.4" fill="#00ff00" stroke="#00ff00" stroke-width="0.4"/><polygon points="197.5,204.4 199.3,200 199,188.7 188.8,106.8 189.6,107.2 200.6,189.6 201.2,201.2 199.9,205.9" fill="#00ff00" stroke="#00ff00" stroke-width="0.4"/><polygon points="199.9,205.9 201.2,201.2 200.6,189.6 189.6,107.2 190.9,107.3 203.1,190.1 204.2,201.9 203.5,206.7" fill="#01ff00" stroke="#01ff00" stroke-width="0.4"/><polygon points="203.5,206.7 204.2,201.9 203.1,190.1 190.9,107.3 192.5,107.2 206.2,190.1 207.9,201.9 208.1,206.7" fill="#01fc00" stroke="#01fc00" stroke-width="0.4"/><polygon points="208.1,206.7 207.9,201.9 206.2,190.1 192.5,107.2 194.3,106.9 209.5,189.6 211.8,201.3 213,205.9" fill="#00e700" stroke="#00e700" stroke-width="0.4"/><polygon points="213,205.9 211.8,201.3 209.5,189.6 194.3,106.9 196,106.5 212.6,188.6 215.6,200 217.6,204.4" fill="#00d000" stroke="#00d000" stroke-width="0.4"/><polygon points="217.6,204.4 215.6,200 212.6,188.6 196,106.5 197.4,105.9 215.1,187.3 218.6,198.4 221.3,202.4" fill="#00cc00" stroke="#00cc00" stroke-width="0.4"/><polygon points="221.3,202.4 218.6,198.4 215.1,187.3 197.4,105.9 198.3,105.3 216.8,185.8 220.6,196.6 223.7,200.2" fill="#00cc00" stroke="#00cc00" stroke-width="0.4"/><polygon points="223.7,200.2 220.6,196.6 216.8,185.8 198.3,105.3 198.7,104.7 217.3,184.3 221.2,194.8 224.5,197.9" fill="#00cc00" stroke="#00cc00" stroke-width="0.4"/><polygon points="188.5,106.3 188.8,106.8 190.2,104.1 190.1,103.8" fill="#00ff00" stroke="#00ff00" stroke-width="0.4"/><polygon points="188.8,106.8 189.6,107.2 190.7,104.4 190.2,104.1" fill="#06ff03" stroke="#06ff03" stroke-width="0.4"/><polygon points="189.6,107.2 190.9,107.3 191.5,104.4 190.7,104.4" fill="#2cff16" stroke="#2cff16" stroke-width="0.4"/><polygon points="190.9,107.3 192.5,107.2 192.6,104.4 191.5,104.4" fill="#32ff19" stroke="#32ff19" stroke-width="0.4"/><polygon points="192.5,107.2 194.3,106.9 193.7,104.2 192.6,104.4" fill="#09ff04" stroke="#09ff04" stroke-width="0.4"/><polygon points="194.3,106.9 196,106.5 194.7,103.9 193.7,104.2" fill="#00e600" stroke="#00e600" stroke-width="0.4"/><polygon points="196,106.5 197.4,105.9 195.6,103.6 194.7,103.9" fill="#00d200" stroke="#00d200" stroke-width="0.4"/><polygon points="197.4,105.9 198.3,105.3 196.1,103.2 195.6,103.6" fill="#00cc00" stroke="#00cc00" stroke-width="0.4"/><polygon points="198.3,105.3 198.7,104.7 196.4,102.8 196.1,103.2" fill="#00cc00" stroke="#00cc00" stroke-width="0.4"/><polygon points="198.7,104.7 198.4,104.2 196.2,102.5 196.4,102.8" fill="#00cc00" stroke="#00cc00" stroke-width="0.4"/><polygon points="195.7,102.3 194.9,102.2 193.9,102.3 192.8,102.4 191.8,102.7 190.9,103.1 190.3,103.5 190.1,103.8 190.2,104.1 190.7,104.4 191.5,104.4 192.6,104.4 193.7,104.2 194.7,103.9 195.6,103.6 196.1,103.2 196.4,102.8 196.2,102.5" fill="#00fa00" stroke="#00fa00" stroke-width="0.4"/><polyline points="188.5,106.3 188.8,106.8 188.9,105.7 189.6,107.2 190.9,107.3 192.5,107.2 194.3,106.9 196,106.5 197.4,105.9 198.3,105.3" fill="none" stroke="#0a6a0a" stroke-width="0.8"/>
<polygon points="327,181.9 318.6,84.2 318.7,83.6 320.3,81.3 320.7,80.9 321.4,80.6 322.4,80.3 323.5,80.1 324.6,80 325.6,80.1 326.3,80.2 326.7,80.5 329.1,82.4 355.4,177 355.7,179.2 354.1,181.3 351,183.3 346.6,184.9 341.6,185.7 336.5,185.8 332.1,185.1 328.8,183.8" fill="#007000" stroke="#004a00" stroke-width="1.1"/><polygon points="327,181.9 328.9,177.8 328.8,166.5 318.6,84.2 319.3,84.7 330,167.7 330.4,179.3 328.8,183.8" fill="#00ff00" stroke="#00ff00" stroke-width="0.4"/><polygon points="328.8,183.8 330.4,179.3 330,167.7 319.3,84.7 320.4,84.9 332.2,168.6 333.1,180.4 332.1,185.1" fill="#00ff00" stroke="#00ff00" stroke-width="0.4"/><polygon points="332.1,185.1 333.1,180.4 332.2,168.6 320.4,84.9 322,85 335.2,169 336.7,181 336.5,185.8" fill="#03ff01" stroke="#03ff01" stroke-width="0.4"/><polygon points="336.5,185.8 336.7,181 335.2,169 322,85 323.8,84.9 338.6,168.9 340.8,180.9 341.6,185.7" fill="#01fc00" stroke="#01fc00" stroke-width="0.4"/><polygon points="341.6,185.7 340.8,180.9 338.6,168.9 323.8,84.9 325.7,84.6 342,168.3 344.9,180.2 346.6,184.9" fill="#00e700" stroke="#00e700" stroke-width="0.4"/><polygon points="346.6,184.9 344.9,180.2 342,168.3 325.7,84.6 327.3,84.1 345,167.3 348.4,178.9 351,183.3" fill="#00d000" stroke="#00d000" stroke-width="0.4"/><polygon points="351,183.3 348.4,178.9 345,167.3 327.3,84.1 328.5,83.5 347.1,166 351,177.3 354.1,181.3" fill="#00cc00" stroke="#00cc00" stroke-width="0.4"/><polygon points="354.1,181.3 351,177.3 347.1,166 328.5,83.5 329.1,82.9 348.2,164.6 352.3,175.6 355.7,179.2" fill="#00cc00" stroke="#00cc00" stroke-width="0.4"/><polygon points="355.7,179.2 352.3,175.6 348.2,164.6 329.1,82.9 329.1,82.4 348.1,163.2 352.1,173.8 355.4,177" fill="#00cc00" stroke="#00cc00" stroke-width="0.4"/><polygon points="318.7,83.6 318.6,84.2 320.2,81.7 320.3,81.3" fill="#00ff00" stroke="#00ff00" stroke-width="0.4"/><polygon points="318.6,84.2 319.3,84.7 320.6,81.9 320.2,81.7" fill="#00ff00" stroke="#00ff00" stroke-width="0.4"/><polygon points="319.3,84.7 320.4,84.9 321.4,82.1 320.6,81.9" fill="#0eff07" stroke="#0eff07" stroke-width="0.4"/><polygon points="320.4,84.9 322,85 322.4,82.2 321.4,82.1" fill="#38ff1c" stroke="#38ff1c" stroke-width="0.4"/><polygon points="322,85 323.8,84.9 323.5,82.1 322.4,82.2" fill="#23ff11" stroke="#23ff11" stroke-width="0.4"/><polygon points="323.8,84.9 325.7,84.6 324.6,81.9 323.5,82.1" fill="#03fb01" stroke="#03fb01" stroke-width="0.4"/><polygon points="325.7,84.6 327.3,84.1 325.6,81.6 324.6,81.9" fill="#00e500" stroke="#00e500" stroke-width="0.4"/><polygon points="327.3,84.1 328.5,83.5 326.3,81.2 325.6,81.6" fill="#00d200" stroke="#00d200" stroke-width="0.4"/><polygon points="328.5,83.5 329.1,82.9 326.7,80.9 326.3,81.2" fill="#00cc00" stroke="#00cc00" stroke-width="0.4"/><polygon points="329.1,82.9 329.1,82.4 326.7,80.5 326.7,80.9" fill="#00cc00" stroke="#00cc00" stroke-width="0.4"/><polygon points="325.6,80.1 324.6,80 323.5,80.1 322.4,80.3 321.4,80.6 320.7,80.9 320.3,81.3 320.2,81.7 320.6,81.9 321.4,82.1 322.4,82.2 323.5,82.1 324.6,81.9 325.6,81.6 326.3,81.2 326.7,80.9 326.7,80.5 326.3,80.2" fill="#00fa00" stroke="#00fa00" stroke-width="0.4"/><polyline points="318.6,84.2 318.7,83.6 319.3,84.7 319.3,83 320.4,84.9 322,85 323.8,84.9 325.7,84.6 327.3,84.1 328.5,83.5 329.1,82.9" fill="none" stroke="#0a6a0a" stroke-width="0.8"/>
<polygon points="306.5,186.6 299.8,98 299.9,97.4 301.4,95.2 301.9,94.8 302.6,94.4 303.6,94.1 304.7,93.9 305.8,93.9 306.8,93.9 307.5,94.1 310.2,96.2 334.9,181.8 335,183.9 333.3,186.2 330,188.2 325.6,189.7 320.6,190.6 315.6,190.6 311.2,189.9 308.1,188.5" fill="#007000" stroke="#004a00" stroke-width="1.1"/><polygon points="306.5,186.6 308.4,182.5 308.3,171.2 299.8,98 300.4,98.5 309.3,172.5 309.7,184.1 308.1,188.5" fill="#00ff00" stroke="#00ff00" stroke-width="0.4"/><polygon points="308.1,188.5 309.7,184.1 309.3,172.5 300.4,98.5 301.5,98.8 311.5,173.3 312.3,185.2 311.2,189.9" fill="#00ff00" stroke="#00ff00" stroke-width="0.4"/><polygon points="311.2,189.9 312.3,185.2 311.5,173.3 301.5,98.8 303,99 314.4,173.8 315.8,185.8 315.6,190.6" fill="#03ff01" stroke="#03ff01" stroke-width="0.4"/><polygon points="315.6,190.6 315.8,185.8 314.4,173.8 303,99 304.8,98.8 317.8,173.7 319.9,185.7 320.6,190.6" fill="#01fc00" stroke="#01fc00" stroke-width="0.4"/><polygon points="320.6,190.6 319.9,185.7 317.8,173.7 304.8,98.8 306.6,98.5 321.2,173.1 324,185 325.6,189.7" fill="#00e700" stroke="#00e700" stroke-width="0.4"/><polygon points="325.6,189.7 324,185 321.2,173.1 306.6,98.5 308.2,98.1 324.2,172.1 327.6,183.8 330,188.2" fill="#00d000" stroke="#00d000" stroke-width="0.4"/><polygon points="330,188.2 327.6,183.8 324.2,172.1 308.2,98.1 309.4,97.5 326.4,170.8 330.2,182.1 333.3,186.2" fill="#00cc00" stroke="#00cc00" stroke-width="0.4"/><polygon points="333.3,186.2 330.2,182.1 326.4,170.8 309.4,97.5 310.1,96.8 327.6,169.3 331.6,180.3 335,183.9" fill="#00cc00" stroke="#00cc00" stroke-width="0.4"/><polygon points="335,183.9 331.6,180.3 327.6,169.3 310.1,96.8 310.2,96.2 327.6,167.9 331.6,178.6 334.9,181.8" fill="#00cc00" stroke="#00cc00" stroke-width="0.4"/><polygon points="299.9,97.4 299.8,98 301.4,95.5 301.4,95.2" fill="#00ff00" stroke="#00ff00" stroke-width="0.4"/><polygon points="299.8,98 300.4,98.5 301.7,95.8 301.4,95.5" fill="#00ff00" stroke="#00ff00" stroke-width="0.4"/><polygon points="300.4,98.5 301.5,98.8 302.4,96 301.7,95.8" fill="#0dff06" stroke="#0dff06" stroke-width="0.4"/><polygon points="301.5,98.8 303,99 303.4,96.1 302.4,96" fill="#37ff1b" stroke="#37ff1b" stroke-width="0.4"/><polygon points="303,99 304.8,98.8 304.5,96 303.4,96.1" fill="#25ff12" stroke="#25ff12" stroke-width="0.4"/><polygon points="304.8,98.8 306.6,98.5 305.6,95.8 304.5,96" fill="#03fb01" stroke="#03fb01" stroke-width="0.4"/><polygon points="306.6,98.5 308.2,98.1 306.6,95.5 305.6,95.8" fill="#00e500" stroke="#00e500" stroke-width="0.4"/><polygon points="308.2,98.1 309.4,97.5 307.4,95.2 306.6,95.5" fill="#00d200" stroke="#00d200" stroke-width="0.4"/><polygon points="309.4,97.5 310.1,96.8 307.8,94.8 307.4,95.2" fill="#00cc00" stroke="#00cc00" stroke-width="0.4"/><polygon points="310.1,96.8 310.2,96.2 307.8,94.4 307.8,94.8" fill="#00cc00" stroke="#00cc00" stroke-width="0.4"/><polygon points="306.8,93.9 305.8,93.9 304.7,93.9 303.6,94.1 302.6,94.4 301.9,94.8 301.4,95.2 301.4,95.5 301.7,95.8 302.4,96 303.4,96.1 304.5,96 305.6,95.8 306.6,95.5 307.4,95.2 307.8,94.8 307.8,94.4 307.5,94.1" fill="#00fa00" stroke="#00fa00" stroke-width="0.4"/><polyline points="299.8,98 299.9,97.4 300.4,98.5 300.5,96.8 301.5,98.8 303,99 304.8,98.8 306.6,98.5 308.2,98.1 309.4,97.5 310.1,96.8" fill="none" stroke="#0a6a0a" stroke-width="0.8"/>
<polygon points="286.1,98.8 311.3,187.5 311.2,189.7 309.4,192 306,194 301.5,195.5 296.5,196.4 291.5,196.4 287.3,195.7 284.3,194.2 282.9,192.3 275.7,100.6 275.8,100 277.3,97.7 277.8,97.3 278.6,97 279.6,96.7 280.7,96.5 281.8,96.4 282.7,96.5 283.4,96.7" fill="#007000" stroke="#004a00" stroke-width="1.1"/><polygon points="282.9,192.3 284.8,188.2 284.7,176.9 275.7,100.6 276.1,101.1 285.6,178.1 286,189.8 284.3,194.2" fill="#00ff00" stroke="#00ff00" stroke-width="0.4"/><polygon points="284.3,194.2 286,189.8 285.6,178.1 276.1,101.1 277.2,101.4 287.7,179.1 288.4,190.9 287.3,195.7" fill="#00ff00" stroke="#00ff00" stroke-width="0.4"/><polygon points="287.3,195.7 288.4,190.9 287.7,179.1 277.2,101.4 278.7,101.6 290.5,179.5 291.9,191.5 291.5,196.4" fill="#02ff01" stroke="#02ff01" stroke-width="0.4"/><polygon points="291.5,196.4 291.9,191.5 290.5,179.5 278.7,101.6 280.5,101.5 293.9,179.5 295.9,191.5 296.5,196.4" fill="#01fc00" stroke="#01fc00" stroke-width="0.4"/><polygon points="296.5,196.4 295.9,191.5 293.9,179.5 280.5,101.5 282.3,101.2 297.3,178.9 300,190.8 301.5,195.5" fill="#00e700" stroke="#00e700" stroke-width="0.4"/><polygon points="301.5,195.5 300,190.8 297.3,178.9 282.3,101.2 283.9,100.7 300.3,177.9 303.6,189.5 306,194" fill="#00d000" stroke="#00d000" stroke-width="0.4"/><polygon points="306,194 303.6,189.5 300.3,177.9 283.9,100.7 285.2,100.1 302.6,176.5 306.4,187.9 309.4,192" fill="#00cc00" stroke="#00cc00" stroke-width="0.4"/><polygon points="309.4,192 306.4,187.9 302.6,176.5 285.2,100.1 285.9,99.4 303.9,175.1 307.9,186.1 311.2,189.7" fill="#00cc00" stroke="#00cc00" stroke-width="0.4"/><polygon points="311.2,189.7 307.9,186.1 303.9,175.1 285.9,99.4 286.1,98.8 304,173.6 308,184.3 311.3,187.5" fill="#00cc00" stroke="#00cc00" stroke-width="0.4"/><polygon points="275.8,100 275.7,100.6 277.3,98.1 277.3,97.7" fill="#00ff00" stroke="#00ff00" stroke-width="0.4"/><polygon points="275.7,100.6 276.1,101.1 277.6,98.4 277.3,98.1" fill="#00ff00" stroke="#00ff00" stroke-width="0.4"/><polygon points="276.1,101.1 277.2,101.4 278.2,98.6 277.6,98.4" fill="#0bff05" stroke="#0bff05" stroke-width="0.4"/><polygon points="277.2,101.4 278.7,101.6 279.2,98.7 278.2,98.6" fill="#36ff1b" stroke="#36ff1b" stroke-width="0.4"/><polygon points="278.7,101.6 280.5,101.5 280.2,98.6 279.2,98.7" fill="#28ff14" stroke="#28ff14" stroke-width="0.4"/><polygon points="280.5,101.5 282.3,101.2 281.4,98.4 280.2,98.6" fill="#04fc02" stroke="#04fc02" stroke-width="0.4"/><polygon points="282.3,101.2 283.9,100.7 282.4,98.1 281.4,98.4" fill="#00e500" stroke="#00e500" stroke-width="0.4"/><polygon points="283.9,100.7 285.2,100.1 283.2,97.8 282.4,98.1" fill="#00d200" stroke="#00d200" stroke-width="0.4"/><polygon points="285.2,100.1 285.9,99.4 283.6,97.4 283.2,97.8" fill="#00cc00" stroke="#00cc00" stroke-width="0.4"/><polygon points="285.9,99.4 286.1,98.8 283.7,97 283.6,97.4" fill="#00cc00" stroke="#00cc00" stroke-width="0.4"/><polygon points="282.7,96.5 281.8,96.4 280.7,96.5 279.6,96.7 278.6,97 277.8,97.3 277.3,97.7 277.3,98.1 277.6,98.4 278.2,98.6 279.2,98.7 280.2,98.6 281.4,98.4 282.4,98.1 283.2,97.8 283.6,97.4 283.7,97 283.4,96.7" fill="#00fa00" stroke="#00fa00" stroke-width="0.4"/><polyline points="275.7,100.6 275.8,100 276.1,101.1 276.5,99.4 277.2,101.4 278.7,101.6 280.5,101.5 282.3,101.2 283.9,100.7 285.2,100.1 285.9,99.4" fill="none" stroke="#0a6a0a" stroke-width="0.8"/>
<polygon points="265.3,106.9 289.9,191.5 289.6,193.8 287.6,196.1 284.1,198.1 279.6,199.7 274.6,200.5 269.7,200.5 265.6,199.7 262.8,198.3 261.5,196.3 255,108.6 255.2,108 256.7,105.7 257.2,105.3 258,105 259,104.7 260.1,104.5 261.2,104.4 262.1,104.5 262.7,104.7 264.9,106.4" fill="#007000" stroke="#004a00" stroke-width="1.1"/><polygon points="261.5,196.3 263.4,192.2 263.3,180.9 255,108.6 255.4,109.1 264.2,182.2 264.5,193.8 262.8,198.3" fill="#00ff00" stroke="#00ff00" stroke-width="0.4"/><polygon points="262.8,198.3 264.5,193.8 264.2,182.2 255.4,109.1 256.4,109.5 266.1,183.1 266.8,195 265.6,199.7" fill="#00ff00" stroke="#00ff00" stroke-width="0.4"/><polygon points="265.6,199.7 266.8,195 266.1,183.1 256.4,109.5 257.9,109.6 268.9,183.6 270.1,195.6 269.7,200.5" fill="#02ff01" stroke="#02ff01" stroke-width="0.4"/><polygon points="269.7,200.5 270.1,195.6 268.9,183.6 257.9,109.6 259.6,109.5 272.1,183.6 274.1,195.6 274.6,200.5" fill="#01fc00" stroke="#01fc00" stroke-width="0.4"/><polygon points="274.6,200.5 274.1,195.6 272.1,183.6 259.6,109.5 261.4,109.2 275.5,183 278.2,194.9 279.6,199.7" fill="#00e700" stroke="#00e700" stroke-width="0.4"/><polygon points="279.6,199.7 278.2,194.9 275.5,183 261.4,109.2 263.1,108.7 278.6,182 281.9,193.7 284.1,198.1" fill="#00d000" stroke="#00d000" stroke-width="0.4"/><polygon points="284.1,198.1 281.9,193.7 278.6,182 263.1,108.7 264.4,108.1 281,180.7 284.7,192 287.6,196.1" fill="#00cc00" stroke="#00cc00" stroke-width="0.4"/><polygon points="287.6,196.1 284.7,192 281,180.7 264.4,108.1 265.2,107.5 282.4,179.2 286.3,190.2 289.6,193.8" fill="#00cc00" stroke="#00cc00" stroke-width="0.4"/><polygon points="289.6,193.8 286.3,190.2 282.4,179.2 265.2,107.5 265.3,106.9 282.6,177.7 286.6,188.4 289.9,191.5" fill="#00cc00" stroke="#00cc00" stroke-width="0.4"/><polygon points="255.2,108 255,108.6 256.6,106.1 256.7,105.7" fill="#00ff00" stroke="#00ff00" stroke-width="0.4"/><polygon points="255,108.6 255.4,109.1 256.9,106.4 256.6,106.1" fill="#00ff00" stroke="#00ff00" stroke-width="0.4"/><polygon points="255.4,109.1 256.4,109.5 257.5,106.6 256.9,106.4" fill="#0aff05" stroke="#0aff05" stroke-width="0.4"/><polygon points="256.4,109.5 257.9,109.6 258.4,106.7 257.5,106.6" fill="#34ff1a" stroke="#34ff1a" stroke-width="0.4"/><polygon points="257.9,109.6 259.6,109.5 259.5,106.7 258.4,106.7" fill="#2bff15" stroke="#2bff15" stroke-width="0.4"/><polygon points="259.6,109.5 261.4,109.2 260.6,106.5 259.5,106.7" fill="#05fd02" stroke="#05fd02" stroke-width="0.4"/><polygon points="261.4,109.2 263.1,108.7 261.6,106.2 260.6,106.5" fill="#00e500" stroke="#00e500" stroke-width="0.4"/><polygon points="263.1,108.7 264.4,108.1 262.4,105.8 261.6,106.2" fill="#00d200" stroke="#00d200" stroke-width="0.4"/><polygon points="264.4,108.1 265.2,107.5 262.9,105.4 262.4,105.8" fill="#00cc00" stroke="#00cc00" stroke-width="0.4"/><polygon points="265.2,107.5 265.3,106.9 263,105 262.9,105.4" fill="#00cc00" stroke="#00cc00" stroke-width="0.4"/><polygon points="265.3,106.9 264.9,106.4 262.7,104.7 263,105" fill="#00cc00" stroke="#00cc00" stroke-width="0.4"/><polygon points="262.1,104.5 261.2,104.4 260.1,104.5 259,104.7 258,105 257.2,105.3 256.7,105.7 256.6,106.1 256.9,106.4 257.5,106.6 258.4,106.7 259.5,106.7 260.6,106.5 261.6,106.2 262.4,105.8 262.9,105.4 263,105 262.7,104.7" fill="#00fa00" stroke="#00fa00" stroke-width="0.4"/><polyline points="255,108.6 255.2,108 255.4,109.1 256.4,109.5 257.9,109.6 259.6,109.5 261.4,109.2 263.1,108.7 264.4,108.1 265.2,107.5" fill="none" stroke="#0a6a0a" stroke-width="0.8"/>
<polygon points="396.3,179.4 396.8,181.6 395.5,183.8 392.5,185.9 388.1,187.5 382.9,188.4 377.5,188.5 372.7,187.8 369,186.4 366.8,184.5 366.4,182.3 359.3,89.5 361,87.1 361.4,86.8 362.1,86.4 363.1,86.1 364.2,85.9 365.4,85.8 366.5,85.9 367.3,86 367.8,86.3 370.2,88.2" fill="#007000" stroke="#004a00" stroke-width="1.1"/><polygon points="366.4,182.3 368.5,178.5 368.4,167.2 359.3,89.5 359.4,90.1 368.7,168.7 368.8,180.3 366.8,184.5" fill="#00ff00" stroke="#00ff00" stroke-width="0.4"/><polygon points="366.8,184.5 368.8,180.3 368.7,168.7 359.4,90.1 360.2,90.6 370.1,169.9 370.6,181.8 369,186.4" fill="#00ff00" stroke="#00ff00" stroke-width="0.4"/><polygon points="369,186.4 370.6,181.8 370.1,169.9 360.2,90.6 361.5,90.9 372.7,170.8 373.6,183 372.7,187.8" fill="#00ff00" stroke="#00ff00" stroke-width="0.4"/><polygon points="372.7,187.8 373.6,183 372.7,170.8 361.5,90.9 363.2,91 375.9,171.2 377.6,183.5 377.5,188.5" fill="#03ff01" stroke="#03ff01" stroke-width="0.4"/><polygon points="377.5,188.5 377.6,183.5 375.9,171.2 363.2,91 365.1,90.9 379.6,171.1 381.9,183.4 382.9,188.4" fill="#01fc00" stroke="#01fc00" stroke-width="0.4"/><polygon points="382.9,188.4 381.9,183.4 379.6,171.1 365.1,90.9 367,90.5 383.1,170.5 386.1,182.7 388.1,187.5" fill="#00e700" stroke="#00e700" stroke-width="0.4"/><polygon points="388.1,187.5 386.1,182.7 383.1,170.5 367,90.5 368.6,90 386.1,169.4 389.7,181.4 392.5,185.9" fill="#00d000" stroke="#00d000" stroke-width="0.4"/><polygon points="392.5,185.9 389.7,181.4 386.1,169.4 368.6,90 369.8,89.4 388.1,168.1 392.2,179.7 395.5,183.8" fill="#00cc00" stroke="#00cc00" stroke-width="0.4"/><polygon points="395.5,183.8 392.2,179.7 388.1,168.1 369.8,89.4 370.3,88.8 389,166.6 393.3,177.9 396.8,181.6" fill="#00cc00" stroke="#00cc00" stroke-width="0.4"/><polygon points="396.8,181.6 393.3,177.9 389,166.6 370.3,88.8 370.2,88.2 388.7,165.2 392.8,176.1 396.3,179.4" fill="#00cc00" stroke="#00cc00" stroke-width="0.4"/><polygon points="359.3,89.5 359.4,90.1 361.1,87.5 361,87.1" fill="#00ff00" stroke="#00ff00" stroke-width="0.4"/><polygon points="359.4,90.1 360.2,90.6 361.5,87.8 361.1,87.5" fill="#00ff00" stroke="#00ff00" stroke-width="0.4"/><polygon points="360.2,90.6 361.5,90.9 362.4,88 361.5,87.8" fill="#12ff09" stroke="#12ff09" stroke-width="0.4"/><polygon points="361.5,90.9 363.2,91 363.4,88 362.4,88" fill="#3aff1d" stroke="#3aff1d" stroke-width="0.4"/><polygon points="363.2,91 365.1,90.9 364.6,88 363.4,88" fill="#1eff0f" stroke="#1eff0f" stroke-width="0.4"/><polygon points="365.1,90.9 367,90.5 365.8,87.8 364.6,88" fill="#02fa01" stroke="#02fa01" stroke-width="0.4"/><polygon points="367,90.5 368.6,90 366.8,87.4 365.8,87.8" fill="#00e500" stroke="#00e500" stroke-width="0.4"/><polygon points="368.6,90 369.8,89.4 367.5,87.1 366.8,87.4" fill="#00d200" stroke="#00d200" stroke-width="0.4"/><polygon points="369.8,89.4 370.3,88.8 367.9,86.7 367.5,87.1" fill="#00cc00" stroke="#00cc00" stroke-width="0.4"/><polygon points="370.3,88.8 370.2,88.2 367.8,86.3 367.9,86.7" fill="#00cc00" stroke="#00cc00" stroke-width="0.4"/><polygon points="366.5,85.9 365.4,85.8 364.2,85.9 363.1,86.1 362.1,86.4 361.4,86.8 361,87.1 361.1,87.5 361.5,87.8 362.4,88 363.4,88 364.6,88 365.8,87.8 366.8,87.4 367.5,87.1 367.9,86.7 367.8,86.3 367.3,86" fill="#00fa00" stroke="#00fa00" stroke-width="0.4"/><polyline points="359.3,89.5 359.4,90.1 359.9,88.9 360.2,90.6 361.5,90.9 363.2,91 365.1,90.9 367,90.5 368.6,90 369.8,89.4 370.3,88.8" fill="none" stroke="#0a6a0a" stroke-width="0.8"/>
<polygon points="239.8,202 232.9,112.3 233.1,111.7 234.6,109.4 235.2,109 236,108.6 237,108.3 238.1,108.1 239.2,108.1 240.1,108.2 240.7,108.4 242.9,110 243.3,110.6 268.2,197.4 267.8,199.7 265.6,202 262,204.1 257.4,205.6 252.3,206.4 247.5,206.4 243.5,205.6 240.8,204.1" fill="#007000" stroke="#004a00" stroke-width="1.1"/><polygon points="239.8,202 241.7,198 241.6,186.7 232.9,112.3 233.2,112.8 242.3,188 242.6,199.6 240.8,204.1" fill="#00ff00" stroke="#00ff00" stroke-width="0.4"/><polygon points="240.8,204.1 242.6,199.6 242.3,188 233.2,112.8 234.2,113.2 244.1,189 244.8,200.8 243.5,205.6" fill="#00ff00" stroke="#00ff00" stroke-width="0.4"/><polygon points="243.5,205.6 244.8,200.8 244.1,189 234.2,113.2 235.6,113.3 246.8,189.5 248,201.5 247.5,206.4" fill="#02ff01" stroke="#02ff01" stroke-width="0.4"/><polygon points="247.5,206.4 248,201.5 246.8,189.5 235.6,113.3 237.3,113.2 250.1,189.4 251.9,201.5 252.3,206.4" fill="#01fc00" stroke="#01fc00" stroke-width="0.4"/><polygon points="252.3,206.4 251.9,201.5 250.1,189.4 237.3,113.2 239.1,112.9 253.5,188.9 256,200.8 257.4,205.6" fill="#00e700" stroke="#00e700" stroke-width="0.4"/><polygon points="257.4,205.6 256,200.8 253.5,188.9 239.1,112.9 240.8,112.5 256.6,187.9 259.8,199.6 262,204.1" fill="#00d000" stroke="#00d000" stroke-width="0.4"/><polygon points="262,204.1 259.8,199.6 256.6,187.9 240.8,112.5 242.2,111.8 259,186.5 262.7,197.9 265.6,202" fill="#00cc00" stroke="#00cc00" stroke-width="0.4"/><polygon points="265.6,202 262.7,197.9 259,186.5 242.2,111.8 243,111.2 260.5,185 264.5,196 267.8,199.7" fill="#00cc00" stroke="#00cc00" stroke-width="0.4"/><polygon points="267.8,199.7 264.5,196 260.5,185 243,111.2 243.3,110.6 260.9,183.5 264.9,194.2 268.2,197.4" fill="#00cc00" stroke="#00cc00" stroke-width="0.4"/><polygon points="233.1,111.7 232.9,112.3 234.5,109.8 234.6,109.4" fill="#00ff00" stroke="#00ff00" stroke-width="0.4"/><polygon points="232.9,112.3 233.2,112.8 234.7,110.1 234.5,109.8" fill="#00ff00" stroke="#00ff00" stroke-width="0.4"/><polygon points="233.2,112.8 234.2,113.2 235.3,110.3 234.7,110.1" fill="#08ff04" stroke="#08ff04" stroke-width="0.4"/><polygon points="234.2,113.2 235.6,113.3 236.2,110.4 235.3,110.3" fill="#32ff19" stroke="#32ff19" stroke-width="0.4"/><polygon points="235.6,113.3 237.3,113.2 237.2,110.4 236.2,110.4" fill="#2dff16" stroke="#2dff16" stroke-width="0.4"/><polygon points="237.3,113.2 239.1,112.9 238.4,110.2 237.2,110.4" fill="#06fd03" stroke="#06fd03" stroke-width="0.4"/><polygon points="239.1,112.9 240.8,112.5 239.4,109.9 238.4,110.2" fill="#00e500" stroke="#00e500" stroke-width="0.4"/><polygon points="240.8,112.5 242.2,111.8 240.2,109.5 239.4,109.9" fill="#00d200" stroke="#00d200" stroke-width="0.4"/><polygon points="242.2,111.8 243,111.2 240.8,109.1 240.2,109.5" fill="#00cc00" stroke="#00cc00" stroke-width="0.4"/><polygon points="243,111.2 243.3,110.6 240.9,108.7 240.8,109.1" fill="#00cc00" stroke="#00cc00" stroke-width="0.4"/><polygon points="243.3,110.6 242.9,110 240.7,108.4 240.9,108.7" fill="#00cc00" stroke="#00cc00" stroke-width="0.4"/><polygon points="240.1,108.2 239.2,108.1 238.1,108.1 237,108.3 236,108.6 235.2,109 234.6,109.4 234.5,109.8 234.7,110.1 235.3,110.3 236.2,110.4 237.2,110.4 238.4,110.2 239.4,109.9 240.2,109.5 240.8,109.1 240.9,108.7 240.7,108.4" fill="#00fa00" stroke="#00fa00" stroke-width="0.4"/><polyline points="232.9,112.3 233.1,111.7 233.2,112.8 234.2,113.2 235.6,113.3 237.3,113.2 239.1,112.9 240.8,112.5 242.2,111.8 243,111.2" fill="none" stroke="#0a6a0a" stroke-width="0.8"/>
<polygon points="168,217.1 160.8,126 162.4,123.5 162.7,123.1 163.3,122.7 164.2,122.3 165.3,122 166.4,121.8 167.4,121.8 168.2,121.9 168.7,122.1 171,123.8 171.1,124.3 196.3,212.6 195.3,215 192.6,217.5 188.6,219.6 183.8,221.2 178.8,222 174.2,221.9 170.6,221 168.5,219.3" fill="#007000" stroke="#004a00" stroke-width="1.1"/><polygon points="168,217.1 169.9,213.1 169.7,201.9 160.8,126 160.9,126.6 170.1,203.2 170.3,214.9 168.5,219.3" fill="#00ff00" stroke="#00ff00" stroke-width="0.4"/><polygon points="168.5,219.3 170.3,214.9 170.1,203.2 160.9,126.6 161.7,127 171.5,204.3 172.1,216.2 170.6,221" fill="#00ff00" stroke="#00ff00" stroke-width="0.4"/><polygon points="170.6,221 172.1,216.2 171.5,204.3 161.7,127 163,127.2 174,204.9 175,216.9 174.2,221.9" fill="#01ff00" stroke="#01ff00" stroke-width="0.4"/><polygon points="174.2,221.9 175,216.9 174,204.9 163,127.2 164.6,127.1 177.1,204.9 178.7,217 178.8,222" fill="#01fc00" stroke="#01fc00" stroke-width="0.4"/><polygon points="178.8,222 178.7,217 177.1,204.9 164.6,127.1 166.4,126.8 180.5,204.4 182.8,216.3 183.8,221.2" fill="#00e700" stroke="#00e700" stroke-width="0.4"/><polygon points="183.8,221.2 182.8,216.3 180.5,204.4 166.4,126.8 168.2,126.3 183.7,203.3 186.7,215 188.6,219.6" fill="#00d000" stroke="#00d000" stroke-width="0.4"/><polygon points="188.6,219.6 186.7,215 183.7,203.3 168.2,126.3 169.7,125.7 186.4,201.9 189.9,213.3 192.6,217.5" fill="#00cc00" stroke="#00cc00" stroke-width="0.4"/><polygon points="192.6,217.5 189.9,213.3 186.4,201.9 169.7,125.7 170.7,125 188.3,200.4 192.1,211.4 195.3,215" fill="#00cc00" stroke="#00cc00" stroke-width="0.4"/><polygon points="195.3,215 192.1,211.4 188.3,200.4 170.7,125 171.1,124.3 189,198.8 193,209.4 196.3,212.6" fill="#00cc00" stroke="#00cc00" stroke-width="0.4"/><polygon points="160.8,126 160.9,126.6 162.5,123.8 162.4,123.5" fill="#00ff00" stroke="#00ff00" stroke-width="0.4"/><polygon points="160.9,126.6 161.7,127 162.9,124.1 162.5,123.8" fill="#05ff02" stroke="#05ff02" stroke-width="0.4"/><polygon points="161.7,127 163,127.2 163.7,124.2 162.9,124.1" fill="#29ff14" stroke="#29ff14" stroke-width="0.4"/><polygon points="163,127.2 164.6,127.1 164.8,124.2 163.7,124.2" fill="#35ff1a" stroke="#35ff1a" stroke-width="0.4"/><polygon points="164.6,127.1 166.4,126.8 165.9,124 164.8,124.2" fill="#0bff05" stroke="#0bff05" stroke-width="0.4"/><polygon points="166.4,126.8 168.2,126.3 167,123.7 165.9,124" fill="#00e600" stroke="#00e600" stroke-width="0.4"/><polygon points="168.2,126.3 169.7,125.7 167.9,123.3 167,123.7" fill="#00d200" stroke="#00d200" stroke-width="0.4"/><polygon points="169.7,125.7 170.7,125 168.5,122.9 167.9,123.3" fill="#00cc00" stroke="#00cc00" stroke-width="0.4"/><polygon points="170.7,125 171.1,124.3 168.8,122.5 168.5,122.9" fill="#00cc00" stroke="#00cc00" stroke-width="0.4"/><polygon points="171.1,124.3 171,123.8 168.7,122.1 168.8,122.5" fill="#00cc00" stroke="#00cc00" stroke-width="0.4"/><polygon points="168.2,121.9 167.4,121.8 166.4,121.8 165.3,122 164.2,122.3 163.3,122.7 162.7,123.1 162.4,123.5 162.5,123.8 162.9,124.1 163.7,124.2 164.8,124.2 165.9,124 167,123.7 167.9,123.3 168.5,122.9 168.8,122.5 168.7,122.1" fill="#00fa00" stroke="#00fa00" stroke-width="0.4"/><polyline points="160.8,126 160.9,126.6 161.3,125.3 161.7,127 163,127.2 164.6,127.1 166.4,126.8 168.2,126.3 169.7,125.7 170.7,125" fill="none" stroke="#0a6a0a" stroke-width="0.8"/>
<polygon points="194.8,211.6 187.2,117.7 189,114.8 189.6,114.4 190.5,114 191.6,113.7 192.7,113.6 193.7,113.5 194.6,113.6 195.1,113.8 197.3,115.5 197.6,116 223.3,207.1 222.4,209.4 220,211.8 216.1,213.9 211.4,215.5 206.3,216.3 201.7,216.3 197.9,215.4 195.6,213.8" fill="#007000" stroke="#004a00" stroke-width="1.1"/><polygon points="194.8,211.6 196.8,207.6 196.6,196.3 187.2,117.7 187.4,118.3 197.1,197.7 197.4,209.3 195.6,213.8" fill="#00ff00" stroke="#00ff00" stroke-width="0.4"/><polygon points="195.6,213.8 197.4,209.3 197.1,197.7 187.4,118.3 188.2,118.7 198.7,198.7 199.3,210.6 197.9,215.4" fill="#00ff00" stroke="#00ff00" stroke-width="0.4"/><polygon points="197.9,215.4 199.3,210.6 198.7,198.7 188.2,118.7 189.6,118.8 201.3,199.3 202.3,211.3 201.7,216.3" fill="#01ff00" stroke="#01ff00" stroke-width="0.4"/><polygon points="201.7,216.3 202.3,211.3 201.3,199.3 189.6,118.8 191.3,118.8 204.4,199.3 206.1,211.3 206.3,216.3" fill="#01fc00" stroke="#01fc00" stroke-width="0.4"/><polygon points="206.3,216.3 206.1,211.3 204.4,199.3 191.3,118.8 193.1,118.5 207.8,198.7 210.2,210.7 211.4,215.5" fill="#00e700" stroke="#00e700" stroke-width="0.4"/><polygon points="211.4,215.5 210.2,210.7 207.8,198.7 193.1,118.5 194.8,118 211,197.7 214.1,209.4 216.1,213.9" fill="#00d000" stroke="#00d000" stroke-width="0.4"/><polygon points="216.1,213.9 214.1,209.4 211,197.7 194.8,118 196.2,117.4 213.6,196.3 217.2,207.7 220,211.8" fill="#00cc00" stroke="#00cc00" stroke-width="0.4"/><polygon points="220,211.8 217.2,207.7 213.6,196.3 196.2,117.4 197.2,116.7 215.3,194.8 219.2,205.8 222.4,209.4" fill="#00cc00" stroke="#00cc00" stroke-width="0.4"/><polygon points="222.4,209.4 219.2,205.8 215.3,194.8 197.2,116.7 197.6,116 215.9,193.2 219.9,203.9 223.3,207.1" fill="#00cc00" stroke="#00cc00" stroke-width="0.4"/><polygon points="187.2,117.7 187.4,118.3 188.9,115.6 188.8,115.2" fill="#00ff00" stroke="#00ff00" stroke-width="0.4"/><polygon points="187.4,118.3 188.2,118.7 189.4,115.8 188.9,115.6" fill="#06ff03" stroke="#06ff03" stroke-width="0.4"/><polygon points="188.2,118.7 189.6,118.8 190.3,115.9 189.4,115.8" fill="#2cff16" stroke="#2cff16" stroke-width="0.4"/><polygon points="189.6,118.8 191.3,118.8 191.3,115.8 190.3,115.9" fill="#32ff19" stroke="#32ff19" stroke-width="0.4"/><polygon points="191.3,118.8 193.1,118.5 192.4,115.7 191.3,115.8" fill="#09ff04" stroke="#09ff04" stroke-width="0.4"/><polygon points="193.1,118.5 194.8,118 193.5,115.4 192.4,115.7" fill="#00e600" stroke="#00e600" stroke-width="0.4"/><polygon points="194.8,118 196.2,117.4 194.4,115 193.5,115.4" fill="#00d200" stroke="#00d200" stroke-width="0.4"/><polygon points="196.2,117.4 197.2,116.7 195,114.6 194.4,115" fill="#00cc00" stroke="#00cc00" stroke-width="0.4"/><polygon points="197.2,116.7 197.6,116 195.2,114.2 195,114.6" fill="#00cc00" stroke="#00cc00" stroke-width="0.4"/><polygon points="197.6,116 197.3,115.5 195.1,113.8 195.2,114.2" fill="#00cc00" stroke="#00cc00" stroke-width="0.4"/><polygon points="194.6,113.6 193.7,113.5 192.7,113.6 191.6,113.7 190.5,114 189.6,114.4 189,114.8 188.8,115.2 188.9,115.6 189.4,115.8 190.3,115.9 191.3,115.8 192.4,115.7 193.5,115.4 194.4,115 195,114.6 195.2,114.2 195.1,113.8" fill="#00fa00" stroke="#00fa00" stroke-width="0.4"/><polyline points="187.2,117.7 187.4,118.3 187.6,117.1 188.2,118.7 189.6,118.8 191.3,118.8 193.1,118.5 194.8,118 196.2,117.4 197.2,116.7" fill="none" stroke="#0a6a0a" stroke-width="0.8"/>
<polygon points="215.7,207.7 209.1,119.1 210.8,116.1 211.4,115.7 212.3,115.4 213.3,115.1 214.4,114.9 215.5,114.8 216.3,114.9 216.9,115.1 219.1,116.8 219.4,117.3 244.2,203.1 243.6,205.5 241.2,207.8 237.5,209.9 232.8,211.5 227.8,212.3 223,212.3 219.1,211.4 216.6,209.8" fill="#007000" stroke="#004a00" stroke-width="1.1"/><polygon points="215.7,207.7 217.7,203.7 217.5,192.4 209.1,119.1 209.3,119.6 218.1,193.7 218.4,205.4 216.6,209.8" fill="#00ff00" stroke="#00ff00" stroke-width="0.4"/><polygon points="216.6,209.8 218.4,205.4 218.1,193.7 209.3,119.6 210.2,120 219.8,194.7 220.5,206.6 219.1,211.4" fill="#00ff00" stroke="#00ff00" stroke-width="0.4"/><polygon points="219.1,211.4 220.5,206.6 219.8,194.7 210.2,120 211.6,120.1 222.5,195.3 223.6,207.3 223,212.3" fill="#01ff00" stroke="#01ff00" stroke-width="0.4"/><polygon points="223,212.3 223.6,207.3 222.5,195.3 211.6,120.1 213.3,120.1 225.7,195.3 227.5,207.3 227.8,212.3" fill="#01fc00" stroke="#01fc00" stroke-width="0.4"/><polygon points="227.8,212.3 227.5,207.3 225.7,195.3 213.3,120.1 215.1,119.8 229.1,194.7 231.6,206.7 232.8,211.5" fill="#00e700" stroke="#00e700" stroke-width="0.4"/><polygon points="232.8,211.5 231.6,206.7 229.1,194.7 215.1,119.8 216.8,119.3 232.2,193.7 235.4,205.4 237.5,209.9" fill="#00d000" stroke="#00d000" stroke-width="0.4"/><polygon points="237.5,209.9 235.4,205.4 232.2,193.7 216.8,119.3 218.2,118.7 234.8,192.3 238.4,203.7 241.2,207.8" fill="#00cc00" stroke="#00cc00" stroke-width="0.4"/><polygon points="241.2,207.8 238.4,203.7 234.8,192.3 218.2,118.7 219.1,118 236.4,190.8 240.3,201.8 243.6,205.5" fill="#00cc00" stroke="#00cc00" stroke-width="0.4"/><polygon points="243.6,205.5 240.3,201.8 236.4,190.8 219.1,118 219.4,117.3 236.9,189.2 240.9,199.9 244.2,203.1" fill="#00cc00" stroke="#00cc00" stroke-width="0.4"/><polygon points="209.1,119.1 209.3,119.6 210.8,116.9 210.6,116.5" fill="#00ff00" stroke="#00ff00" stroke-width="0.4"/><polygon points="209.3,119.6 210.2,120 211.4,117.1 210.8,116.9" fill="#07ff03" stroke="#07ff03" stroke-width="0.4"/><polygon points="210.2,120 211.6,120.1 212.2,117.2 211.4,117.1" fill="#2fff17" stroke="#2fff17" stroke-width="0.4"/><polygon points="211.6,120.1 213.3,120.1 213.3,117.2 212.2,117.2" fill="#30ff18" stroke="#30ff18" stroke-width="0.4"/><polygon points="213.3,120.1 215.1,119.8 214.4,117 213.3,117.2" fill="#08fe04" stroke="#08fe04" stroke-width="0.4"/><polygon points="215.1,119.8 216.8,119.3 215.5,116.7 214.4,117" fill="#00e600" stroke="#00e600" stroke-width="0.4"/><polygon points="216.8,119.3 218.2,118.7 216.3,116.3 215.5,116.7" fill="#00d200" stroke="#00d200" stroke-width="0.4"/><polygon points="218.2,118.7 219.1,118 216.9,115.9 216.3,116.3" fill="#00cc00" stroke="#00cc00" stroke-width="0.4"/><polygon points="219.1,118 219.4,117.3 217.1,115.5 216.9,115.9" fill="#00cc00" stroke="#00cc00" stroke-width="0.4"/><polygon points="219.4,117.3 219.1,116.8 216.9,115.1 217.1,115.5" fill="#00cc00" stroke="#00cc00" stroke-width="0.4"/><polygon points="216.3,114.9 215.5,114.8 214.4,114.9 213.3,115.1 212.3,115.4 211.4,115.7 210.8,116.1 210.6,116.5 210.8,116.9 211.4,117.1 212.2,117.2 213.3,117.2 214.4,117 215.5,116.7 216.3,116.3 216.9,115.9 217.1,115.5 216.9,115.1" fill="#00fa00" stroke="#00fa00" stroke-width="0.4"/><polyline points="209.1,119.1 209.3,119.6 209.4,118.4 210.2,120 211.6,120.1 213.3,120.1 215.1,119.8 216.8,119.3 218.2,118.7 219.1,118" fill="none" stroke="#0a6a0a" stroke-width="0.8"/>
<polygon points="375.7,184.6 376.2,186.9 374.7,189.2 371.6,191.3 367.1,192.9 361.9,193.8 356.6,193.9 351.8,193.1 348.3,191.7 346.3,189.7 346.1,187.4 337.9,90.2 337.9,89.6 339.6,87.2 339.9,86.8 340.7,86.4 341.7,86.1 342.9,85.9 344,85.8 345.1,85.9 345.9,86.1 346.3,86.4 348.8,88.3" fill="#007000" stroke="#004a00" stroke-width="1.1"/><polygon points="346.1,187.4 348.1,183.7 348,172.4 337.9,89.6 337.9,90.2 348.1,173.9 348.3,185.5 346.3,189.7" fill="#00ff00" stroke="#00ff00" stroke-width="0.4"/><polygon points="346.3,189.7 348.3,185.5 348.1,173.9 337.9,90.2 338.6,90.7 349.5,175.1 349.9,187.1 348.3,191.7" fill="#00ff00" stroke="#00ff00" stroke-width="0.4"/><polygon points="348.3,191.7 349.9,187.1 349.5,175.1 338.6,90.7 339.9,91 351.9,176.1 352.8,188.3 351.8,193.1" fill="#00ff00" stroke="#00ff00" stroke-width="0.4"/><polygon points="351.8,193.1 352.8,188.3 351.9,176.1 339.9,91 341.6,91.1 355.1,176.5 356.7,188.8 356.6,193.9" fill="#03ff01" stroke="#03ff01" stroke-width="0.4"/><polygon points="356.6,193.9 356.7,188.8 355.1,176.5 341.6,91.1 343.5,90.9 358.7,176.4 361,188.8 361.9,193.8" fill="#01fc00" stroke="#01fc00" stroke-width="0.4"/><polygon points="361.9,193.8 361,188.8 358.7,176.4 343.5,90.9 345.4,90.6 362.2,175.8 365.2,188 367.1,192.9" fill="#00e700" stroke="#00e700" stroke-width="0.4"/><polygon points="367.1,192.9 365.2,188 362.2,175.8 345.4,90.6 347,90.1 365.2,174.8 368.9,186.7 371.6,191.3" fill="#00d000" stroke="#00d000" stroke-width="0.4"/><polygon points="371.6,191.3 368.9,186.7 365.2,174.8 347,90.1 348.2,89.5 367.4,173.4 371.4,185 374.7,189.2" fill="#00cc00" stroke="#00cc00" stroke-width="0.4"/><polygon points="374.7,189.2 371.4,185 367.4,173.4 348.2,89.5 348.8,88.9 368.4,171.9 372.6,183.2 376.2,186.9" fill="#00cc00" stroke="#00cc00" stroke-width="0.4"/><polygon points="376.2,186.9 372.6,183.2 368.4,171.9 348.8,88.9 348.8,88.3 368.2,170.4 372.3,181.4 375.7,184.6" fill="#00cc00" stroke="#00cc00" stroke-width="0.4"/><polygon points="337.9,89.6 337.9,90.2 339.6,87.5 339.6,87.2" fill="#00ff00" stroke="#00ff00" stroke-width="0.4"/><polygon points="337.9,90.2 338.6,90.7 340,87.8 339.6,87.5" fill="#00ff00" stroke="#00ff00" stroke-width="0.4"/><polygon points="338.6,90.7 339.9,91 340.8,88 340,87.8" fill="#10ff08" stroke="#10ff08" stroke-width="0.4"/><polygon points="339.9,91 341.6,91.1 341.9,88.1 340.8,88" fill="#3aff1d" stroke="#3aff1d" stroke-width="0.4"/><polygon points="341.6,91.1 343.5,90.9 343.1,88 341.9,88.1" fill="#20ff10" stroke="#20ff10" stroke-width="0.4"/><polygon points="343.5,90.9 345.4,90.6 344.2,87.8 343.1,88" fill="#02fb01" stroke="#02fb01" stroke-width="0.4"/><polygon points="345.4,90.6 347,90.1 345.2,87.5 344.2,87.8" fill="#00e500" stroke="#00e500" stroke-width="0.4"/><polygon points="347,90.1 348.2,89.5 346,87.1 345.2,87.5" fill="#00d200" stroke="#00d200" stroke-width="0.4"/><polygon points="348.2,89.5 348.8,88.9 346.4,86.7 346,87.1" fill="#00cc00" stroke="#00cc00" stroke-width="0.4"/><polygon points="348.8,88.9 348.8,88.3 346.3,86.4 346.4,86.7" fill="#00cc00" stroke="#00cc00" stroke-width="0.4"/><polygon points="345.1,85.9 344,85.8 342.9,85.9 341.7,86.1 340.7,86.4 339.9,86.8 339.6,87.2 339.6,87.5 340,87.8 340.8,88 341.9,88.1 343.1,88 344.2,87.8 345.2,87.5 346,87.1 346.4,86.7 346.3,86.4 345.9,86.1" fill="#00fa00" stroke="#00fa00" stroke-width="0.4"/><polyline points="337.9,89.6 337.9,90.2 338.5,89 338.6,90.7 339.9,91 341.6,91.1 343.5,90.9 345.4,90.6 347,90.1 348.2,89.5 348.8,88.9" fill="none" stroke="#0a6a0a" stroke-width="0.8"/>
<polygon points="322.8,192.4 314.7,94.1 314.7,93.5 316.3,91.1 316.7,90.7 317.5,90.3 318.5,90 319.7,89.8 320.8,89.7 321.8,89.8 322.6,90 323,90.3 325.4,92.2 352.1,187.4 352.3,189.6 350.7,192 347.5,194.1 343,195.7 337.8,196.5 332.6,196.6 328,195.9 324.6,194.4" fill="#007000" stroke="#004a00" stroke-width="1.1"/><polygon points="322.8,192.4 324.8,188.2 324.7,176.7 314.7,94.1 315.3,94.6 325.9,177.9 326.3,189.8 324.6,194.4" fill="#00ff00" stroke="#00ff00" stroke-width="0.4"/><polygon points="324.6,194.4 326.3,189.8 325.9,177.9 315.3,94.6 316.5,94.9 328.2,178.9 329.1,191 328,195.9" fill="#00ff00" stroke="#00ff00" stroke-width="0.4"/><polygon points="328,195.9 329.1,191 328.2,178.9 316.5,94.9 318.1,95 331.3,179.3 332.8,191.6 332.6,196.6" fill="#03ff01" stroke="#03ff01" stroke-width="0.4"/><polygon points="332.6,196.6 332.8,191.6 331.3,179.3 318.1,95 320,94.9 334.8,179.3 337,191.5 337.8,196.5" fill="#01fc00" stroke="#01fc00" stroke-width="0.4"/><polygon points="337.8,196.5 337,191.5 334.8,179.3 320,94.9 321.9,94.5 338.3,178.7 341.2,190.8 343,195.7" fill="#00e700" stroke="#00e700" stroke-width="0.4"/><polygon points="343,195.7 341.2,190.8 338.3,178.7 321.9,94.5 323.5,94 341.3,177.6 344.9,189.5 347.5,194.1" fill="#00d000" stroke="#00d000" stroke-width="0.4"/><polygon points="347.5,194.1 344.9,189.5 341.3,177.6 323.5,94 324.7,93.4 343.5,176.2 347.5,187.8 350.7,192" fill="#00cc00" stroke="#00cc00" stroke-width="0.4"/><polygon points="350.7,192 347.5,187.8 343.5,176.2 324.7,93.4 325.4,92.8 344.7,174.7 348.8,186 352.3,189.6" fill="#00cc00" stroke="#00cc00" stroke-width="0.4"/><polygon points="352.3,189.6 348.8,186 344.7,174.7 325.4,92.8 325.4,92.2 344.6,173.3 348.7,184.1 352.1,187.4" fill="#00cc00" stroke="#00cc00" stroke-width="0.4"/><polygon points="314.7,93.5 314.7,94.1 316.3,91.5 316.3,91.1" fill="#00ff00" stroke="#00ff00" stroke-width="0.4"/><polygon points="314.7,94.1 315.3,94.6 316.7,91.8 316.3,91.5" fill="#00ff00" stroke="#00ff00" stroke-width="0.4"/><polygon points="315.3,94.6 316.5,94.9 317.4,91.9 316.7,91.8" fill="#0eff07" stroke="#0eff07" stroke-width="0.4"/><polygon points="316.5,94.9 318.1,95 318.4,92 317.4,91.9" fill="#38ff1c" stroke="#38ff1c" stroke-width="0.4"/><polygon points="318.1,95 320,94.9 319.6,91.9 318.4,92" fill="#23ff11" stroke="#23ff11" stroke-width="0.4"/><polygon points="320,94.9 321.9,94.5 320.8,91.7 319.6,91.9" fill="#03fb01" stroke="#03fb01" stroke-width="0.4"/><polygon points="321.9,94.5 323.5,94 321.8,91.4 320.8,91.7" fill="#00e500" stroke="#00e500" stroke-width="0.4"/><polygon points="323.5,94 324.7,93.4 322.6,91.1 321.8,91.4" fill="#00d200" stroke="#00d200" stroke-width="0.4"/><polygon points="324.7,93.4 325.4,92.8 323,90.7 322.6,91.1" fill="#00cc00" stroke="#00cc00" stroke-width="0.4"/><polygon points="325.4,92.8 325.4,92.2 323,90.3 323,90.7" fill="#00cc00" stroke="#00cc00" stroke-width="0.4"/><polygon points="321.8,89.8 320.8,89.7 319.7,89.8 318.5,90 317.5,90.3 316.7,90.7 316.3,91.1 316.3,91.5 316.7,91.8 317.4,91.9 318.4,92 319.6,91.9 320.8,91.7 321.8,91.4 322.6,91.1 323,90.7 323,90.3 322.6,90" fill="#00fa00" stroke="#00fa00" stroke-width="0.4"/><polyline points="314.7,94.1 314.7,93.5 315.3,94.6 315.3,92.8 316.5,94.9 318.1,95 320,94.9 321.9,94.5 323.5,94 324.7,93.4 325.4,92.8" fill="none" stroke="#0a6a0a" stroke-width="0.8"/>
<polygon points="299.2,200.2 291.6,104.6 291.7,104 293.3,101.6 293.8,101.2 294.6,100.8 295.6,100.5 296.8,100.3 297.9,100.3 298.9,100.4 299.6,100.6 302.4,102.8 328.7,195.2 328.7,197.5 326.9,199.9 323.5,202.1 318.9,203.7 313.7,204.5 308.5,204.6 304.1,203.8 300.8,202.2" fill="#007000" stroke="#004a00" stroke-width="1.1"/><polygon points="299.2,200.2 301.2,196 301.1,184.4 291.6,104.6 292.2,105.2 302.2,185.7 302.5,197.6 300.8,202.2" fill="#00ff00" stroke="#00ff00" stroke-width="0.4"/><polygon points="300.8,202.2 302.5,197.6 302.2,185.7 292.2,105.2 293.3,105.5 304.4,186.7 305.2,198.9 304.1,203.8" fill="#00ff00" stroke="#00ff00" stroke-width="0.4"/><polygon points="304.1,203.8 305.2,198.9 304.4,186.7 293.3,105.5 294.9,105.6 307.4,187.2 308.8,199.5 308.5,204.6" fill="#02ff01" stroke="#02ff01" stroke-width="0.4"/><polygon points="308.5,204.6 308.8,199.5 307.4,187.2 294.9,105.6 296.8,105.5 310.9,187.1 313,199.5 313.7,204.5" fill="#01fc00" stroke="#01fc00" stroke-width="0.4"/><polygon points="313.7,204.5 313,199.5 310.9,187.1 296.8,105.5 298.6,105.2 314.4,186.5 317.2,198.8 318.9,203.7" fill="#00e700" stroke="#00e700" stroke-width="0.4"/><polygon points="318.9,203.7 317.2,198.8 314.4,186.5 298.6,105.2 300.3,104.7 317.5,185.5 321,197.5 323.5,202.1" fill="#00d000" stroke="#00d000" stroke-width="0.4"/><polygon points="323.5,202.1 321,197.5 317.5,185.5 300.3,104.7 301.6,104.1 319.8,184.1 323.8,195.7 326.9,199.9" fill="#00cc00" stroke="#00cc00" stroke-width="0.4"/><polygon points="326.9,199.9 323.8,195.7 319.8,184.1 301.6,104.1 302.3,103.4 321.1,182.5 325.2,193.8 328.7,197.5" fill="#00cc00" stroke="#00cc00" stroke-width="0.4"/><polygon points="328.7,197.5 325.2,193.8 321.1,182.5 302.3,103.4 302.4,102.8 321.1,181 325.2,191.9 328.7,195.2" fill="#00cc00" stroke="#00cc00" stroke-width="0.4"/><polygon points="291.7,104 291.6,104.6 293.3,102 293.3,101.6" fill="#00ff00" stroke="#00ff00" stroke-width="0.4"/><polygon points="291.6,104.6 292.2,105.2 293.6,102.3 293.3,102" fill="#00ff00" stroke="#00ff00" stroke-width="0.4"/><polygon points="292.2,105.2 293.3,105.5 294.3,102.6 293.6,102.3" fill="#0dff06" stroke="#0dff06" stroke-width="0.4"/><polygon points="293.3,105.5 294.9,105.6 295.3,102.6 294.3,102.6" fill="#37ff1b" stroke="#37ff1b" stroke-width="0.4"/><polygon points="294.9,105.6 296.8,105.5 296.5,102.6 295.3,102.6" fill="#26ff13" stroke="#26ff13" stroke-width="0.4"/><polygon points="296.8,105.5 298.6,105.2 297.6,102.4 296.5,102.6" fill="#04fc02" stroke="#04fc02" stroke-width="0.4"/><polygon points="298.6,105.2 300.3,104.7 298.7,102.1 297.6,102.4" fill="#00e500" stroke="#00e500" stroke-width="0.4"/><polygon points="300.3,104.7 301.6,104.1 299.5,101.7 298.7,102.1" fill="#00d200" stroke="#00d200" stroke-width="0.4"/><polygon points="301.6,104.1 302.3,103.4 299.9,101.3 299.5,101.7" fill="#00cc00" stroke="#00cc00" stroke-width="0.4"/><polygon points="302.3,103.4 302.4,102.8 300,100.9 299.9,101.3" fill="#00cc00" stroke="#00cc00" stroke-width="0.4"/><polygon points="298.9,100.4 297.9,100.3 296.8,100.3 295.6,100.5 294.6,100.8 293.8,101.2 293.3,101.6 293.3,102 293.6,102.3 294.3,102.6 295.3,102.6 296.5,102.6 297.6,102.4 298.7,102.1 299.5,101.7 299.9,101.3 300,100.9 299.6,100.6" fill="#00fa00" stroke="#00fa00" stroke-width="0.4"/><polyline points="291.6,104.6 291.7,104 292.2,105.2 292.4,103.3 293.3,105.5 294.9,105.6 296.8,105.5 298.6,105.2 300.3,104.7 301.6,104.1 302.3,103.4" fill="none" stroke="#0a6a0a" stroke-width="0.8"/>
<polygon points="278.2,106.6 304.6,199.8 304.4,202.2 302.5,204.6 298.9,206.7 294.3,208.4 289.1,209.2 284,209.2 279.7,208.4 276.6,206.8 275.2,204.7 267.4,108.4 267.6,107.8 269.2,105.4 269.7,105 270.5,104.6 271.6,104.3 272.7,104.1 273.8,104.1 274.8,104.2 275.5,104.4 277.7,106.1" fill="#007000" stroke="#004a00" stroke-width="1.1"/><polygon points="275.2,204.7 277.2,200.5 277.1,189 267.4,108.4 267.9,109 278,190.3 278.4,202.2 276.6,206.8" fill="#00ff00" stroke="#00ff00" stroke-width="0.4"/><polygon points="276.6,206.8 278.4,202.2 278,190.3 267.9,109 269,109.3 280.1,191.3 280.9,203.5 279.7,208.4" fill="#00ff00" stroke="#00ff00" stroke-width="0.4"/><polygon points="279.7,208.4 280.9,203.5 280.1,191.3 269,109.3 270.5,109.5 283,191.8 284.4,204.2 284,209.2" fill="#02ff01" stroke="#02ff01" stroke-width="0.4"/><polygon points="284,209.2 284.4,204.2 283,191.8 270.5,109.5 272.4,109.4 286.5,191.8 288.5,204.1 289.1,209.2" fill="#01fc00" stroke="#01fc00" stroke-width="0.4"/><polygon points="289.1,209.2 288.5,204.1 286.5,191.8 272.4,109.4 274.3,109.1 290,191.2 292.7,203.4 294.3,208.4" fill="#00e700" stroke="#00e700" stroke-width="0.4"/><polygon points="294.3,208.4 292.7,203.4 290,191.2 274.3,109.1 276,108.6 293.1,190.1 296.5,202.1 298.9,206.7" fill="#00d000" stroke="#00d000" stroke-width="0.4"/><polygon points="298.9,206.7 296.5,202.1 293.1,190.1 276,108.6 277.3,107.9 295.5,188.7 299.4,200.4 302.5,204.6" fill="#00cc00" stroke="#00cc00" stroke-width="0.4"/><polygon points="302.5,204.6 299.4,200.4 295.5,188.7 277.3,107.9 278.1,107.3 296.9,187.2 301,198.5 304.4,202.2" fill="#00cc00" stroke="#00cc00" stroke-width="0.4"/><polygon points="304.4,202.2 301,198.5 296.9,187.2 278.1,107.3 278.2,106.6 297,185.6 301.2,196.5 304.6,199.8" fill="#00cc00" stroke="#00cc00" stroke-width="0.4"/><polygon points="267.6,107.8 267.4,108.4 269.1,105.8 269.2,105.4" fill="#00ff00" stroke="#00ff00" stroke-width="0.4"/><polygon points="267.4,108.4 267.9,109 269.4,106.2 269.1,105.8" fill="#00ff00" stroke="#00ff00" stroke-width="0.4"/><polygon points="267.9,109 269,109.3 270.1,106.4 269.4,106.2" fill="#0bff05" stroke="#0bff05" stroke-width="0.4"/><polygon points="269,109.3 270.5,109.5 271,106.5 270.1,106.4" fill="#35ff1a" stroke="#35ff1a" stroke-width="0.4"/><polygon points="270.5,109.5 272.4,109.4 272.2,106.4 271,106.5" fill="#29ff14" stroke="#29ff14" stroke-width="0.4"/><polygon points="272.4,109.4 274.3,109.1 273.3,106.2 272.2,106.4" fill="#05fc02" stroke="#05fc02" stroke-width="0.4"/><polygon points="274.3,109.1 276,108.6 274.4,105.9 273.3,106.2" fill="#00e500" stroke="#00e500" stroke-width="0.4"/><polygon points="276,108.6 277.3,107.9 275.2,105.5 274.4,105.9" fill="#00d200" stroke="#00d200" stroke-width="0.4"/><polygon points="277.3,107.9 278.1,107.3 275.7,105.1 275.2,105.5" fill="#00cc00" stroke="#00cc00" stroke-width="0.4"/><polygon points="278.1,107.3 278.2,106.6 275.8,104.7 275.7,105.1" fill="#00cc00" stroke="#00cc00" stroke-width="0.4"/><polygon points="278.2,106.6 277.7,106.1 275.5,104.4 275.8,104.7" fill="#00cc00" stroke="#00cc00" stroke-width="0.4"/><polygon points="274.8,104.2 273.8,104.1 272.7,104.1 271.6,104.3 270.5,104.6 269.7,105 269.2,105.4 269.1,105.8 269.4,106.2 270.1,106.4 271,106.5 272.2,106.4 273.3,106.2 274.4,105.9 275.2,105.5 275.7,105.1 275.8,104.7 275.5,104.4" fill="#00fa00" stroke="#00fa00" stroke-width="0.4"/><polyline points="267.4,108.4 267.6,107.8 267.9,109 269,109.3 270.5,109.5 272.4,109.4 274.3,109.1 276,108.6 277.3,107.9 278.1,107.3" fill="none" stroke="#0a6a0a" stroke-width="0.8"/>
<polygon points="231.9,212.2 223.6,113.1 223.9,112.4 225.4,110.1 226,109.7 226.8,109.3 227.9,109 229,108.8 230.1,108.7 231,108.8 231.6,109 233.9,110.8 234.3,111.3 261.1,207.4 260.6,209.8 258.3,212.3 254.6,214.4 249.8,216.1 244.7,216.9 239.7,216.9 235.7,216 233,214.3" fill="#007000" stroke="#004a00" stroke-width="1.1"/><polygon points="231.9,212.2 233.9,208.1 233.8,196.5 223.6,113.1 223.9,113.6 234.5,197.9 234.8,209.8 233,214.3" fill="#00ff00" stroke="#00ff00" stroke-width="0.4"/><polygon points="233,214.3 234.8,209.8 234.5,197.9 223.9,113.6 224.9,114 236.3,199 237,211.1 235.7,216" fill="#00ff00" stroke="#00ff00" stroke-width="0.4"/><polygon points="235.7,216 237,211.1 236.3,199 224.9,114 226.3,114.2 239.1,199.5 240.3,211.8 239.7,216.9" fill="#01ff00" stroke="#01ff00" stroke-width="0.4"/><polygon points="239.7,216.9 240.3,211.8 239.1,199.5 226.3,114.2 228.1,114.1 242.4,199.5 244.3,211.8 244.7,216.9" fill="#01fc00" stroke="#01fc00" stroke-width="0.4"/><polygon points="244.7,216.9 244.3,211.8 242.4,199.5 228.1,114.1 229.9,113.8 245.9,198.9 248.5,211.1 249.8,216.1" fill="#00e700" stroke="#00e700" stroke-width="0.4"/><polygon points="249.8,216.1 248.5,211.1 245.9,198.9 229.9,113.8 231.7,113.3 249.1,197.9 252.3,209.8 254.6,214.4" fill="#00d000" stroke="#00d000" stroke-width="0.4"/><polygon points="254.6,214.4 252.3,209.8 249.1,197.9 231.7,113.3 233.1,112.6 251.6,196.5 255.4,208.1 258.3,212.3" fill="#00cc00" stroke="#00cc00" stroke-width="0.4"/><polygon points="258.3,212.3 255.4,208.1 251.6,196.5 233.1,112.6 234,112 253.2,194.9 257.2,206.1 260.6,209.8" fill="#00cc00" stroke="#00cc00" stroke-width="0.4"/><polygon points="260.6,209.8 257.2,206.1 253.2,194.9 234,112 234.3,111.3 253.6,193.3 257.7,204.2 261.1,207.4" fill="#00cc00" stroke="#00cc00" stroke-width="0.4"/><polygon points="223.9,112.4 223.6,113.1 225.2,110.5 225.4,110.1" fill="#00ff00" stroke="#00ff00" stroke-width="0.4"/><polygon points="223.6,113.1 223.9,113.6 225.4,110.8 225.2,110.5" fill="#00ff00" stroke="#00ff00" stroke-width="0.4"/><polygon points="223.9,113.6 224.9,114 226,111 225.4,110.8" fill="#08ff04" stroke="#08ff04" stroke-width="0.4"/><polygon points="224.9,114 226.3,114.2 226.9,111.1 226,111" fill="#31ff18" stroke="#31ff18" stroke-width="0.4"/><polygon points="226.3,114.2 228.1,114.1 228,111.1 226.9,111.1" fill="#2fff17" stroke="#2fff17" stroke-width="0.4"/><polygon points="228.1,114.1 229.9,113.8 229.2,110.9 228,111.1" fill="#07fe03" stroke="#07fe03" stroke-width="0.4"/><polygon points="229.9,113.8 231.7,113.3 230.3,110.6 229.2,110.9" fill="#00e600" stroke="#00e600" stroke-width="0.4"/><polygon points="231.7,113.3 233.1,112.6 231.1,110.2 230.3,110.6" fill="#00d200" stroke="#00d200" stroke-width="0.4"/><polygon points="233.1,112.6 234,112 231.7,109.8 231.1,110.2" fill="#00cc00" stroke="#00cc00" stroke-width="0.4"/><polygon points="234,112 234.3,111.3 231.9,109.4 231.7,109.8" fill="#00cc00" stroke="#00cc00" stroke-width="0.4"/><polygon points="234.3,111.3 233.9,110.8 231.6,109 231.9,109.4" fill="#00cc00" stroke="#00cc00" stroke-width="0.4"/><polygon points="231,108.8 230.1,108.7 229,108.8 227.9,109 226.8,109.3 226,109.7 225.4,110.1 225.2,110.5 225.4,110.8 226,111 226.9,111.1 228,111.1 229.2,110.9 230.3,110.6 231.1,110.2 231.7,109.8 231.9,109.4 231.6,109" fill="#00fa00" stroke="#00fa00" stroke-width="0.4"/><polyline points="223.6,113.1 223.9,112.4 223.9,113.6 224.9,114 226.3,114.2 228.1,114.1 229.9,113.8 231.7,113.3 233.1,112.6 234,112" fill="none" stroke="#0a6a0a" stroke-width="0.8"/>
<polygon points="374.3,192.1 374.7,194.5 373.3,196.9 370,199.1 365.5,200.7 360.1,201.6 354.7,201.7 349.9,200.9 346.3,199.4 344.2,197.3 335.7,95.9 335.7,95.2 337.4,92.8 337.8,92.4 338.6,92 339.6,91.7 340.8,91.5 342,91.4 343.1,91.5 343.9,91.7 344.3,92 346.8,93.9" fill="#007000" stroke="#004a00" stroke-width="1.1"/><polygon points="344.2,197.3 346.3,193 346.1,181.2 335.7,95.9 336.4,96.4 347.5,182.6 347.9,194.7 346.3,199.4" fill="#00ff00" stroke="#00ff00" stroke-width="0.4"/><polygon points="346.3,199.4 347.9,194.7 347.5,182.6 336.4,96.4 337.7,96.7 350,183.5 350.9,195.9 349.9,200.9" fill="#00ff00" stroke="#00ff00" stroke-width="0.4"/><polygon points="349.9,200.9 350.9,195.9 350,183.5 337.7,96.7 339.5,96.8 353.2,184 354.8,196.6 354.7,201.7" fill="#03ff01" stroke="#03ff01" stroke-width="0.4"/><polygon points="354.7,201.7 354.8,196.6 353.2,184 339.5,96.8 341.4,96.7 356.9,183.9 359.2,196.5 360.1,201.6" fill="#01fc00" stroke="#01fc00" stroke-width="0.4"/><polygon points="360.1,201.6 359.2,196.5 356.9,183.9 341.4,96.7 343.4,96.3 360.5,183.3 363.6,195.7 365.5,200.7" fill="#00e700" stroke="#00e700" stroke-width="0.4"/><polygon points="365.5,200.7 363.6,195.7 360.5,183.3 343.4,96.3 345,95.8 363.6,182.2 367.3,194.4 370,199.1" fill="#00d000" stroke="#00d000" stroke-width="0.4"/><polygon points="370,199.1 367.3,194.4 363.6,182.2 345,95.8 346.3,95.2 365.8,180.8 369.9,192.7 373.3,196.9" fill="#00cc00" stroke="#00cc00" stroke-width="0.4"/><polygon points="373.3,196.9 369.9,192.7 365.8,180.8 346.3,95.2 346.9,94.5 366.8,179.2 371.1,190.7 374.7,194.5" fill="#00cc00" stroke="#00cc00" stroke-width="0.4"/><polygon points="374.7,194.5 371.1,190.7 366.8,179.2 346.9,94.5 346.8,93.9 366.6,177.7 370.8,188.8 374.3,192.1" fill="#00cc00" stroke="#00cc00" stroke-width="0.4"/><polygon points="335.7,95.2 335.7,95.9 337.4,93.2 337.4,92.8" fill="#00ff00" stroke="#00ff00" stroke-width="0.4"/><polygon points="335.7,95.9 336.4,96.4 337.9,93.5 337.4,93.2" fill="#00ff00" stroke="#00ff00" stroke-width="0.4"/><polygon points="336.4,96.4 337.7,96.7 338.7,93.7 337.9,93.5" fill="#10ff08" stroke="#10ff08" stroke-width="0.4"/><polygon points="337.7,96.7 339.5,96.8 339.8,93.7 338.7,93.7" fill="#3aff1d" stroke="#3aff1d" stroke-width="0.4"/><polygon points="339.5,96.8 341.4,96.7 341,93.7 339.8,93.7" fill="#21ff10" stroke="#21ff10" stroke-width="0.4"/><polygon points="341.4,96.7 343.4,96.3 342.2,93.5 341,93.7" fill="#02fb01" stroke="#02fb01" stroke-width="0.4"/><polygon points="343.4,96.3 345,95.8 343.2,93.1 342.2,93.5" fill="#00e500" stroke="#00e500" stroke-width="0.4"/><polygon points="345,95.8 346.3,95.2 344,92.8 343.2,93.1" fill="#00d200" stroke="#00d200" stroke-width="0.4"/><polygon points="346.3,95.2 346.9,94.5 344.4,92.3 344,92.8" fill="#00cc00" stroke="#00cc00" stroke-width="0.4"/><polygon points="346.9,94.5 346.8,93.9 344.3,92 344.4,92.3" fill="#00cc00" stroke="#00cc00" stroke-width="0.4"/><polygon points="343.1,91.5 342,91.4 340.8,91.5 339.6,91.7 338.6,92 337.8,92.4 337.4,92.8 337.4,93.2 337.9,93.5 338.7,93.7 339.8,93.7 341,93.7 342.2,93.5 343.2,93.1 344,92.8 344.4,92.3 344.3,92 343.9,91.7" fill="#00fa00" stroke="#00fa00" stroke-width="0.4"/><polyline points="335.7,95.2 335.7,95.9 336.3,94.6 336.4,96.4 337.7,96.7 339.5,96.8 341.4,96.7 343.4,96.3 345,95.8 346.3,95.2 346.9,94.5" fill="none" stroke="#0a6a0a" stroke-width="0.8"/>
<polygon points="255.2,209.5 247.2,112.3 247.4,111.6 249,109.3 249.5,108.9 250.4,108.5 251.4,108.2 252.6,108 253.7,107.9 254.6,108 255.3,108.2 257.5,110 258,110.5 284.6,204.6 284.2,207.1 282.1,209.5 278.5,211.7 273.7,213.3 268.5,214.2 263.5,214.2 259.3,213.3 256.4,211.7" fill="#007000" stroke="#004a00" stroke-width="1.1"/><polygon points="255.2,209.5 257.2,205.4 257,193.8 247.2,112.3 247.6,112.8 257.9,195.2 258.2,207.1 256.4,211.7" fill="#00ff00" stroke="#00ff00" stroke-width="0.4"/><polygon points="256.4,211.7 258.2,207.1 257.9,195.2 247.6,112.8 248.7,113.2 259.8,196.2 260.5,208.4 259.3,213.3" fill="#00ff00" stroke="#00ff00" stroke-width="0.4"/><polygon points="259.3,213.3 260.5,208.4 259.8,196.2 248.7,113.2 250.2,113.4 262.7,196.7 264,209.1 263.5,214.2" fill="#02ff01" stroke="#02ff01" stroke-width="0.4"/><polygon points="263.5,214.2 264,209.1 262.7,196.7 250.2,113.4 252,113.3 266.1,196.7 268.1,209.1 268.5,214.2" fill="#01fc00" stroke="#01fc00" stroke-width="0.4"/><polygon points="268.5,214.2 268.1,209.1 266.1,196.7 252,113.3 253.8,113 269.6,196.1 272.3,208.4 273.7,213.3" fill="#00e700" stroke="#00e700" stroke-width="0.4"/><polygon points="273.7,213.3 272.3,208.4 269.6,196.1 253.8,113 255.6,112.5 272.8,195 276.1,207.1 278.5,211.7" fill="#00d000" stroke="#00d000" stroke-width="0.4"/><polygon points="278.5,211.7 276.1,207.1 272.8,195 255.6,112.5 256.9,111.8 275.3,193.6 279.1,205.3 282.1,209.5" fill="#00cc00" stroke="#00cc00" stroke-width="0.4"/><polygon points="282.1,209.5 279.1,205.3 275.3,193.6 256.9,111.8 257.8,111.1 276.7,192 280.8,203.3 284.2,207.1" fill="#00cc00" stroke="#00cc00" stroke-width="0.4"/><polygon points="284.2,207.1 280.8,203.3 276.7,192 257.8,111.1 258,110.5 277,190.5 281.1,201.4 284.6,204.6" fill="#00cc00" stroke="#00cc00" stroke-width="0.4"/><polygon points="247.4,111.6 247.2,112.3 248.9,109.7 249,109.3" fill="#00ff00" stroke="#00ff00" stroke-width="0.4"/><polygon points="247.2,112.3 247.6,112.8 249.1,110 248.9,109.7" fill="#00ff00" stroke="#00ff00" stroke-width="0.4"/><polygon points="247.6,112.8 248.7,113.2 249.8,110.2 249.1,110" fill="#09ff04" stroke="#09ff04" stroke-width="0.4"/><polygon points="248.7,113.2 250.2,113.4 250.7,110.3 249.8,110.2" fill="#33ff19" stroke="#33ff19" stroke-width="0.4"/><polygon points="250.2,113.4 252,113.3 251.8,110.3 250.7,110.3" fill="#2cff16" stroke="#2cff16" stroke-width="0.4"/><polygon points="252,113.3 253.8,113 253,110.1 251.8,110.3" fill="#06fd03" stroke="#06fd03" stroke-width="0.4"/><polygon points="253.8,113 255.6,112.5 254.1,109.8 253,110.1" fill="#00e500" stroke="#00e500" stroke-width="0.4"/><polygon points="255.6,112.5 256.9,111.8 254.9,109.4 254.1,109.8" fill="#00d200" stroke="#00d200" stroke-width="0.4"/><polygon points="256.9,111.8 257.8,111.1 255.4,109 254.9,109.4" fill="#00cc00" stroke="#00cc00" stroke-width="0.4"/><polygon points="257.8,111.1 258,110.5 255.6,108.6 255.4,109" fill="#00cc00" stroke="#00cc00" stroke-width="0.4"/><polygon points="258,110.5 257.5,110 255.3,108.2 255.6,108.6" fill="#00cc00" stroke="#00cc00" stroke-width="0.4"/><polygon points="254.6,108 253.7,107.9 252.6,108 251.4,108.2 250.4,108.5 249.5,108.9 249,109.3 248.9,109.7 249.1,110 249.8,110.2 250.7,110.3 251.8,110.3 253,110.1 254.1,109.8 254.9,109.4 255.4,109 255.6,108.6 255.3,108.2" fill="#00fa00" stroke="#00fa00" stroke-width="0.4"/><polyline points="247.2,112.3 247.4,111.6 247.6,112.8 248.7,113.2 250.2,113.4 252,113.3 253.8,113 255.6,112.5 256.9,111.8 257.8,111.1" fill="none" stroke="#0a6a0a" stroke-width="0.8"/>
<polygon points="187.4,120.2 214.8,219.2 213.9,221.7 211.2,224.2 207.2,226.4 202.3,228.1 197.1,228.9 192.4,228.8 188.6,227.8 186.2,226.1 185.5,223.8 176.7,121.9 178.3,119.3 178.6,118.9 179.3,118.5 180.2,118.1 181.3,117.8 182.4,117.6 183.5,117.5 184.4,117.6 184.9,117.9 187.2,119.6" fill="#007000" stroke="#004a00" stroke-width="1.1"/><polygon points="185.5,223.8 187.5,219.7 187.4,208.2 176.7,121.9 176.9,122.5 187.8,209.6 188.1,221.5 186.2,226.1" fill="#00ff00" stroke="#00ff00" stroke-width="0.4"/><polygon points="186.2,226.1 188.1,221.5 187.8,209.6 176.9,122.5 177.7,122.9 189.4,210.7 190,222.9 188.6,227.8" fill="#00ff00" stroke="#00ff00" stroke-width="0.4"/><polygon points="188.6,227.8 190,222.9 189.4,210.7 177.7,122.9 179.1,123.1 192,211.3 193.1,223.7 192.4,228.8" fill="#01ff00" stroke="#01ff00" stroke-width="0.4"/><polygon points="192.4,228.8 193.1,223.7 192,211.3 179.1,123.1 180.8,123 195.2,211.4 197,223.7 197.1,228.9" fill="#01fc00" stroke="#01fc00" stroke-width="0.4"/><polygon points="197.1,228.9 197,223.7 195.2,211.4 180.8,123 182.7,122.7 198.7,210.8 201.2,223.1 202.3,228.1" fill="#00e700" stroke="#00e700" stroke-width="0.4"/><polygon points="202.3,228.1 201.2,223.1 198.7,210.8 182.7,122.7 184.5,122.2 202,209.7 205.2,221.7 207.2,226.4" fill="#00d000" stroke="#00d000" stroke-width="0.4"/><polygon points="207.2,226.4 205.2,221.7 202,209.7 184.5,122.2 186,121.6 204.8,208.3 208.4,220 211.2,224.2" fill="#00cc00" stroke="#00cc00" stroke-width="0.4"/><polygon points="211.2,224.2 208.4,220 204.8,208.3 186,121.6 187,120.9 206.6,206.6 210.6,217.9 213.9,221.7" fill="#00cc00" stroke="#00cc00" stroke-width="0.4"/><polygon points="213.9,221.7 210.6,217.9 206.6,206.6 187,120.9 187.4,120.2 207.2,205 211.4,215.9 214.8,219.2" fill="#00cc00" stroke="#00cc00" stroke-width="0.4"/><polygon points="176.7,121.9 176.9,122.5 178.5,119.7 178.3,119.3" fill="#00ff00" stroke="#00ff00" stroke-width="0.4"/><polygon points="176.9,122.5 177.7,122.9 179,119.9 178.5,119.7" fill="#05ff02" stroke="#05ff02" stroke-width="0.4"/><polygon points="177.7,122.9 179.1,123.1 179.8,120 179,119.9" fill="#2bff15" stroke="#2bff15" stroke-width="0.4"/><polygon points="179.1,123.1 180.8,123 180.9,120 179.8,120" fill="#33ff19" stroke="#33ff19" stroke-width="0.4"/><polygon points="180.8,123 182.7,122.7 182,119.8 180.9,120" fill="#0aff05" stroke="#0aff05" stroke-width="0.4"/><polygon points="182.7,122.7 184.5,122.2 183.2,119.5 182,119.8" fill="#00e600" stroke="#00e600" stroke-width="0.4"/><polygon points="184.5,122.2 186,121.6 184.1,119.1 183.2,119.5" fill="#00d200" stroke="#00d200" stroke-width="0.4"/><polygon points="186,121.6 187,120.9 184.7,118.6 184.1,119.1" fill="#00cc00" stroke="#00cc00" stroke-width="0.4"/><polygon points="187,120.9 187.4,120.2 185,118.2 184.7,118.6" fill="#00cc00" stroke="#00cc00" stroke-width="0.4"/><polygon points="187.4,120.2 187.2,119.6 184.9,117.9 185,118.2" fill="#00cc00" stroke="#00cc00" stroke-width="0.4"/><polygon points="184.4,117.6 183.5,117.5 182.4,117.6 181.3,117.8 180.2,118.1 179.3,118.5 178.6,118.9 178.3,119.3 178.5,119.7 179,119.9 179.8,120 180.9,120 182,119.8 183.2,119.5 184.1,119.1 184.7,118.6 185,118.2 184.9,117.9" fill="#00fa00" stroke="#00fa00" stroke-width="0.4"/><polyline points="176.7,121.9 176.9,122.5 177.1,121.2 177.7,122.9 179.1,123.1 180.8,123 182.7,122.7 184.5,122.2 186,121.6 187,120.9" fill="none" stroke="#0a6a0a" stroke-width="0.8"/>
<polygon points="206.2,220.1 197.7,120.3 199.6,117.3 200.2,116.9 201.1,116.5 202.2,116.2 203.4,116 204.5,115.9 205.3,116 205.9,116.3 208.2,118 208.5,118.5 235.5,215.4 234.7,217.9 232.3,220.4 228.4,222.6 223.5,224.2 218.3,225.1 213.4,225 209.5,224.1 207,222.4" fill="#007000" stroke="#004a00" stroke-width="1.1"/><polygon points="206.2,220.1 208.2,216 208,204.4 197.7,120.3 198,120.9 208.6,205.9 208.8,217.8 207,222.4" fill="#00ff00" stroke="#00ff00" stroke-width="0.4"/><polygon points="207,222.4 208.8,217.8 208.6,205.9 198,120.9 198.9,121.3 210.3,207 210.9,219.1 209.5,224.1" fill="#00ff00" stroke="#00ff00" stroke-width="0.4"/><polygon points="209.5,224.1 210.9,219.1 210.3,207 198.9,121.3 200.3,121.5 212.9,207.5 214.1,219.9 213.4,225" fill="#01ff00" stroke="#01ff00" stroke-width="0.4"/><polygon points="213.4,225 214.1,219.9 212.9,207.5 200.3,121.5 202,121.4 216.2,207.6 218.1,219.9 218.3,225.1" fill="#01fc00" stroke="#01fc00" stroke-width="0.4"/><polygon points="218.3,225.1 218.1,219.9 216.2,207.6 202,121.4 203.9,121.1 219.7,207 222.3,219.3 223.5,224.2" fill="#00e700" stroke="#00e700" stroke-width="0.4"/><polygon points="223.5,224.2 222.3,219.3 219.7,207 203.9,121.1 205.7,120.6 223,205.9 226.2,217.9 228.4,222.6" fill="#00d000" stroke="#00d000" stroke-width="0.4"/><polygon points="228.4,222.6 226.2,217.9 223,205.9 205.7,120.6 207.2,119.9 225.7,204.5 229.4,216.2 232.3,220.4" fill="#00cc00" stroke="#00cc00" stroke-width="0.4"/><polygon points="232.3,220.4 229.4,216.2 225.7,204.5 207.2,119.9 208.1,119.2 227.4,202.8 231.4,214.1 234.7,217.9" fill="#00cc00" stroke="#00cc00" stroke-width="0.4"/><polygon points="234.7,217.9 231.4,214.1 227.4,202.8 208.1,119.2 208.5,118.5 227.9,201.2 232.1,212.1 235.5,215.4" fill="#00cc00" stroke="#00cc00" stroke-width="0.4"/><polygon points="197.7,120.3 198,120.9 199.5,118 199.4,117.7" fill="#00ff00" stroke="#00ff00" stroke-width="0.4"/><polygon points="198,120.9 198.9,121.3 200.1,118.3 199.5,118" fill="#06ff03" stroke="#06ff03" stroke-width="0.4"/><polygon points="198.9,121.3 200.3,121.5 201,118.4 200.1,118.3" fill="#2dff16" stroke="#2dff16" stroke-width="0.4"/><polygon points="200.3,121.5 202,121.4 202,118.4 201,118.4" fill="#31ff18" stroke="#31ff18" stroke-width="0.4"/><polygon points="202,121.4 203.9,121.1 203.2,118.2 202,118.4" fill="#08ff04" stroke="#08ff04" stroke-width="0.4"/><polygon points="203.9,121.1 205.7,120.6 204.3,117.8 203.2,118.2" fill="#00e600" stroke="#00e600" stroke-width="0.4"/><polygon points="205.7,120.6 207.2,119.9 205.2,117.5 204.3,117.8" fill="#00d200" stroke="#00d200" stroke-width="0.4"/><polygon points="207.2,119.9 208.1,119.2 205.8,117 205.2,117.5" fill="#00cc00" stroke="#00cc00" stroke-width="0.4"/><polygon points="208.1,119.2 208.5,118.5 206.1,116.6 205.8,117" fill="#00cc00" stroke="#00cc00" stroke-width="0.4"/><polygon points="208.5,118.5 208.2,118 205.9,116.3 206.1,116.6" fill="#00cc00" stroke="#00cc00" stroke-width="0.4"/><polygon points="205.3,116 204.5,115.9 203.4,116 202.2,116.2 201.1,116.5 200.2,116.9 199.6,117.3 199.4,117.7 199.5,118 200.1,118.3 201,118.4 202,118.4 203.2,118.2 204.3,117.8 205.2,117.5 205.8,117 206.1,116.6 205.9,116.3" fill="#00fa00" stroke="#00fa00" stroke-width="0.4"/><polyline points="197.7,120.3 198,120.9 198.1,119.6 198.9,121.3 200.3,121.5 202,121.4 203.9,121.1 205.7,120.6 207.2,119.9 208.1,119.2" fill="none" stroke="#0a6a0a" stroke-width="0.8"/>
<polygon points="316.5,203.8 307.8,101.3 307.9,100.6 309.6,98.2 310,97.8 310.8,97.4 311.8,97.1 313,96.9 314.2,96.8 315.3,96.9 316,97.1 318.9,99.3 346.6,198.7 346.8,201.1 345.1,203.6 341.7,205.8 337.1,207.4 331.8,208.3 326.4,208.4 321.7,207.5 318.3,205.9" fill="#007000" stroke="#004a00" stroke-width="1.1"/><polygon points="316.5,203.8 318.6,199.6 318.4,187.8 307.8,101.3 308.4,101.8 319.6,189.1 320,201.3 318.3,205.9" fill="#00ff00" stroke="#00ff00" stroke-width="0.4"/><polygon points="318.3,205.9 320,201.3 319.6,189.1 308.4,101.8 309.7,102.1 322,190.1 322.8,202.5 321.7,207.5" fill="#00ff00" stroke="#00ff00" stroke-width="0.4"/><polygon points="321.7,207.5 322.8,202.5 322,190.1 309.7,102.1 311.3,102.3 325.1,190.6 326.6,203.2 326.4,208.4" fill="#02ff01" stroke="#02ff01" stroke-width="0.4"/><polygon points="326.4,208.4 326.6,203.2 325.1,190.6 311.3,102.3 313.3,102.1 328.7,190.6 331,203.2 331.8,208.3" fill="#01fc00" stroke="#01fc00" stroke-width="0.4"/><polygon points="331.8,208.3 331,203.2 328.7,190.6 313.3,102.1 315.2,101.8 332.3,190 335.3,202.4 337.1,207.4" fill="#00e700" stroke="#00e700" stroke-width="0.4"/><polygon points="337.1,207.4 335.3,202.4 332.3,190 315.2,101.8 316.9,101.3 335.5,188.9 339.1,201.1 341.7,205.8" fill="#00d000" stroke="#00d000" stroke-width="0.4"/><polygon points="341.7,205.8 339.1,201.1 335.5,188.9 316.9,101.3 318.2,100.7 337.8,187.4 341.8,199.3 345.1,203.6" fill="#00cc00" stroke="#00cc00" stroke-width="0.4"/><polygon points="345.1,203.6 341.8,199.3 337.8,187.4 318.2,100.7 318.9,100 339,185.8 343.2,197.3 346.8,201.1" fill="#00cc00" stroke="#00cc00" stroke-width="0.4"/><polygon points="346.8,201.1 343.2,197.3 339,185.8 318.9,100 318.9,99.3 338.9,184.3 343.1,195.4 346.6,198.7" fill="#00cc00" stroke="#00cc00" stroke-width="0.4"/><polygon points="307.9,100.6 307.8,101.3 309.5,98.6 309.6,98.2" fill="#00ff00" stroke="#00ff00" stroke-width="0.4"/><polygon points="307.8,101.3 308.4,101.8 309.9,98.9 309.5,98.6" fill="#00ff00" stroke="#00ff00" stroke-width="0.4"/><polygon points="308.4,101.8 309.7,102.1 310.7,99.1 309.9,98.9" fill="#0eff07" stroke="#0eff07" stroke-width="0.4"/><polygon points="309.7,102.1 311.3,102.3 311.7,99.2 310.7,99.1" fill="#38ff1c" stroke="#38ff1c" stroke-width="0.4"/><polygon points="311.3,102.3 313.3,102.1 312.9,99.1 311.7,99.2" fill="#24ff12" stroke="#24ff12" stroke-width="0.4"/><polygon points="313.3,102.1 315.2,101.8 314.1,98.9 312.9,99.1" fill="#03fb01" stroke="#03fb01" stroke-width="0.4"/><polygon points="315.2,101.8 316.9,101.3 315.2,98.6 314.1,98.9" fill="#00e500" stroke="#00e500" stroke-width="0.4"/><polygon points="316.9,101.3 318.2,100.7 316,98.2 315.2,98.6" fill="#00d200" stroke="#00d200" stroke-width="0.4"/><polygon points="318.2,100.7 318.9,100 316.4,97.8 316,98.2" fill="#00cc00" stroke="#00cc00" stroke-width="0.4"/><polygon points="318.9,100 318.9,99.3 316.4,97.4 316.4,97.8" fill="#00cc00" stroke="#00cc00" stroke-width="0.4"/><polygon points="315.3,96.9 314.2,96.8 313,96.9 311.8,97.1 310.8,97.4 310,97.8 309.6,98.2 309.5,98.6 309.9,98.9 310.7,99.1 311.7,99.2 312.9,99.1 314.1,98.9 315.2,98.6 316,98.2 316.4,97.8 316.4,97.4 316,97.1" fill="#00fa00" stroke="#00fa00" stroke-width="0.4"/><polyline points="307.8,101.3 307.9,100.6 308.4,101.8 308.6,99.9 309.7,102.1 311.3,102.3 313.3,102.1 315.2,101.8 316.9,101.3 318.2,100.7 318.9,100" fill="none" stroke="#0a6a0a" stroke-width="0.8"/>
<polygon points="272.6,212.8 265.2,118 265.4,117.3 267,114.9 267.5,114.5 268.4,114.1 269.5,113.8 270.6,113.6 271.8,113.5 272.8,113.6 273.4,113.8 275.7,115.6 276.2,116.1 302.6,207.8 302.4,210.3 300.3,212.8 296.7,215.1 292,216.7 286.7,217.6 281.5,217.6 277.1,216.7 274,215" fill="#007000" stroke="#004a00" stroke-width="1.1"/><polygon points="272.6,212.8 274.6,208.6 274.5,196.8 265.2,118 265.7,118.6 275.4,198.3 275.8,210.4 274,215" fill="#00ff00" stroke="#00ff00" stroke-width="0.4"/><polygon points="274,215 275.8,210.4 275.4,198.3 265.7,118.6 266.8,118.9 277.5,199.3 278.3,211.7 277.1,216.7" fill="#00ff00" stroke="#00ff00" stroke-width="0.4"/><polygon points="277.1,216.7 278.3,211.7 277.5,199.3 266.8,118.9 268.4,119.1 280.5,199.9 281.9,212.4 281.5,217.6" fill="#02ff01" stroke="#02ff01" stroke-width="0.4"/><polygon points="281.5,217.6 281.9,212.4 280.5,199.9 268.4,119.1 270.2,119 284,199.9 286.1,212.4 286.7,217.6" fill="#01fc00" stroke="#01fc00" stroke-width="0.4"/><polygon points="286.7,217.6 286.1,212.4 284,199.9 270.2,119 272.2,118.7 287.6,199.3 290.4,211.7 292,216.7" fill="#00e700" stroke="#00e700" stroke-width="0.4"/><polygon points="292,216.7 290.4,211.7 287.6,199.3 272.2,118.7 273.9,118.2 290.8,198.2 294.3,210.4 296.7,215.1" fill="#00d000" stroke="#00d000" stroke-width="0.4"/><polygon points="296.7,215.1 294.3,210.4 290.8,198.2 273.9,118.2 275.3,117.5 293.3,196.7 297.2,208.6 300.3,212.8" fill="#00cc00" stroke="#00cc00" stroke-width="0.4"/><polygon points="300.3,212.8 297.2,208.6 293.3,196.7 275.3,117.5 276.1,116.8 294.7,195.1 298.9,206.5 302.4,210.3" fill="#00cc00" stroke="#00cc00" stroke-width="0.4"/><polygon points="302.4,210.3 298.9,206.5 294.7,195.1 276.1,116.8 276.2,116.1 294.9,193.4 299.1,204.5 302.6,207.8" fill="#00cc00" stroke="#00cc00" stroke-width="0.4"/><polygon points="265.4,117.3 265.2,118 266.9,115.3 267,114.9" fill="#00ff00" stroke="#00ff00" stroke-width="0.4"/><polygon points="265.2,118 265.7,118.6 267.2,115.7 266.9,115.3" fill="#00ff00" stroke="#00ff00" stroke-width="0.4"/><polygon points="265.7,118.6 266.8,118.9 267.9,115.9 267.2,115.7" fill="#0bff05" stroke="#0bff05" stroke-width="0.4"/><polygon points="266.8,118.9 268.4,119.1 268.9,116 267.9,115.9" fill="#35ff1a" stroke="#35ff1a" stroke-width="0.4"/><polygon points="268.4,119.1 270.2,119 270,116 268.9,116" fill="#29ff14" stroke="#29ff14" stroke-width="0.4"/><polygon points="270.2,119 272.2,118.7 271.2,115.8 270,116" fill="#05fc02" stroke="#05fc02" stroke-width="0.4"/><polygon points="272.2,118.7 273.9,118.2 272.3,115.4 271.2,115.8" fill="#00e500" stroke="#00e500" stroke-width="0.4"/><polygon points="273.9,118.2 275.3,117.5 273.2,115 272.3,115.4" fill="#00d200" stroke="#00d200" stroke-width="0.4"/><polygon points="275.3,117.5 276.1,116.8 273.7,114.6 273.2,115" fill="#00cc00" stroke="#00cc00" stroke-width="0.4"/><polygon points="276.1,116.8 276.2,116.1 273.8,114.2 273.7,114.6" fill="#00cc00" stroke="#00cc00" stroke-width="0.4"/><polygon points="276.2,116.1 275.7,115.6 273.4,113.8 273.8,114.2" fill="#00cc00" stroke="#00cc00" stroke-width="0.4"/><polygon points="272.8,113.6 271.8,113.5 270.6,113.6 269.5,113.8 268.4,114.1 267.5,114.5 267,114.9 266.9,115.3 267.2,115.7 267.9,115.9 268.9,116 270,116 271.2,115.8 272.3,115.4 273.2,115 273.7,114.6 273.8,114.2 273.4,113.8" fill="#00fa00" stroke="#00fa00" stroke-width="0.4"/><polyline points="265.2,118 265.4,117.3 265.7,118.6 266.8,118.9 268.4,119.1 270.2,119 272.2,118.7 273.9,118.2 275.3,117.5 276.1,116.8" fill="none" stroke="#0a6a0a" stroke-width="0.8"/>
<polygon points="295.2,110.2 322.2,205.1 322.1,207.6 320.3,210.1 316.7,212.3 312,214 306.7,214.9 301.4,214.9 296.8,214 293.6,212.3 292,210.2 284.1,112 284.3,111.4 285.9,109 286.4,108.5 287.2,108.1 288.3,107.8 289.5,107.6 290.6,107.6 291.7,107.6 292.4,107.9" fill="#007000" stroke="#004a00" stroke-width="1.1"/><polygon points="292,210.2 294.1,205.9 293.9,194.1 284.1,112 284.7,112.6 295,195.5 295.4,207.7 293.6,212.3" fill="#00ff00" stroke="#00ff00" stroke-width="0.4"/><polygon points="293.6,212.3 295.4,207.7 295,195.5 284.7,112.6 285.8,113 297.2,196.5 298,209 296.8,214" fill="#00ff00" stroke="#00ff00" stroke-width="0.4"/><polygon points="296.8,214 298,209 297.2,196.5 285.8,113 287.5,113.1 300.3,197.1 301.7,209.7 301.4,214.9" fill="#02ff01" stroke="#02ff01" stroke-width="0.4"/><polygon points="301.4,214.9 301.7,209.7 300.3,197.1 287.5,113.1 289.4,113 303.8,197 306,209.7 306.7,214.9" fill="#01fc00" stroke="#01fc00" stroke-width="0.4"/><polygon points="306.7,214.9 306,209.7 303.8,197 289.4,113 291.3,112.7 307.5,196.4 310.3,208.9 312,214" fill="#00e700" stroke="#00e700" stroke-width="0.4"/><polygon points="312,214 310.3,208.9 307.5,196.4 291.3,112.7 293,112.2 310.7,195.3 314.2,207.6 316.7,212.3" fill="#00d000" stroke="#00d000" stroke-width="0.4"/><polygon points="316.7,212.3 314.2,207.6 310.7,195.3 293,112.2 294.4,111.5 313.1,193.9 317.1,205.8 320.3,210.1" fill="#00cc00" stroke="#00cc00" stroke-width="0.4"/><polygon points="320.3,210.1 317.1,205.8 313.1,193.9 294.4,111.5 295.1,110.8 314.4,192.2 318.6,203.8 322.1,207.6" fill="#00cc00" stroke="#00cc00" stroke-width="0.4"/><polygon points="322.1,207.6 318.6,203.8 314.4,192.2 295.1,110.8 295.2,110.2 314.4,190.6 318.6,201.8 322.2,205.1" fill="#00cc00" stroke="#00cc00" stroke-width="0.4"/><polygon points="284.3,111.4 284.1,112 285.8,109.4 285.9,109" fill="#00ff00" stroke="#00ff00" stroke-width="0.4"/><polygon points="284.1,112 284.7,112.6 286.2,109.7 285.8,109.4" fill="#00ff00" stroke="#00ff00" stroke-width="0.4"/><polygon points="284.7,112.6 285.8,113 286.9,109.9 286.2,109.7" fill="#0cff06" stroke="#0cff06" stroke-width="0.4"/><polygon points="285.8,113 287.5,113.1 287.9,110 286.9,109.9" fill="#36ff1b" stroke="#36ff1b" stroke-width="0.4"/><polygon points="287.5,113.1 289.4,113 289.1,110 287.9,110" fill="#27ff13" stroke="#27ff13" stroke-width="0.4"/><polygon points="289.4,113 291.3,112.7 290.3,109.8 289.1,110" fill="#04fc02" stroke="#04fc02" stroke-width="0.4"/><polygon points="291.3,112.7 293,112.2 291.4,109.4 290.3,109.8" fill="#00e500" stroke="#00e500" stroke-width="0.4"/><polygon points="293,112.2 294.4,111.5 292.2,109 291.4,109.4" fill="#00d200" stroke="#00d200" stroke-width="0.4"/><polygon points="294.4,111.5 295.1,110.8 292.7,108.6 292.2,109" fill="#00cc00" stroke="#00cc00" stroke-width="0.4"/><polygon points="295.1,110.8 295.2,110.2 292.7,108.2 292.7,108.6" fill="#00cc00" stroke="#00cc00" stroke-width="0.4"/><polygon points="291.7,107.6 290.6,107.6 289.5,107.6 288.3,107.8 287.2,108.1 286.4,108.5 285.9,109 285.8,109.4 286.2,109.7 286.9,109.9 287.9,110 289.1,110 290.3,109.8 291.4,109.4 292.2,109 292.7,108.6 292.7,108.2 292.4,107.9" fill="#00fa00" stroke="#00fa00" stroke-width="0.4"/><polyline points="284.1,112 284.3,111.4 284.7,112.6 285.8,113 287.5,113.1 289.4,113 291.3,112.7 293,112.2 294.4,111.5 295.1,110.8" fill="none" stroke="#0a6a0a" stroke-width="0.8"/>
<polygon points="224.9,222.6 217.2,126.1 217.5,125.4 219.1,123 219.7,122.6 220.6,122.2 221.7,121.9 222.9,121.7 224,121.6 224.9,121.7 225.5,122 227.8,123.7 228.2,124.3 254.8,217.7 254.2,220.3 251.8,222.9 247.9,225.1 243,226.8 237.7,227.7 232.7,227.6 228.6,226.6 225.9,224.9" fill="#007000" stroke="#004a00" stroke-width="1.1"/><polygon points="224.9,222.6 226.9,218.4 226.8,206.7 217.2,126.1 217.5,126.7 227.5,208.1 227.7,220.2 225.9,224.9" fill="#00ff00" stroke="#00ff00" stroke-width="0.4"/><polygon points="225.9,224.9 227.7,220.2 227.5,208.1 217.5,126.7 218.5,127.1 229.3,209.2 229.9,221.6 228.6,226.6" fill="#00ff00" stroke="#00ff00" stroke-width="0.4"/><polygon points="228.6,226.6 229.9,221.6 229.3,209.2 218.5,127.1 220,127.3 232.1,209.8 233.3,222.4 232.7,227.6" fill="#01ff00" stroke="#01ff00" stroke-width="0.4"/><polygon points="232.7,227.6 233.3,222.4 232.1,209.8 220,127.3 221.8,127.2 235.5,209.9 237.4,222.4 237.7,227.7" fill="#01fc00" stroke="#01fc00" stroke-width="0.4"/><polygon points="237.7,227.7 237.4,222.4 235.5,209.9 221.8,127.2 223.7,126.9 239,209.3 241.7,221.7 243,226.8" fill="#00e700" stroke="#00e700" stroke-width="0.4"/><polygon points="243,226.8 241.7,221.7 239,209.3 223.7,126.9 225.5,126.4 242.4,208.2 245.7,220.4 247.9,225.1" fill="#00d000" stroke="#00d000" stroke-width="0.4"/><polygon points="247.9,225.1 245.7,220.4 242.4,208.2 225.5,126.4 226.9,125.7 245,206.7 248.8,218.6 251.8,222.9" fill="#00cc00" stroke="#00cc00" stroke-width="0.4"/><polygon points="251.8,222.9 248.8,218.6 245,206.7 226.9,125.7 227.9,125 246.6,205 250.8,216.5 254.2,220.3" fill="#00cc00" stroke="#00cc00" stroke-width="0.4"/><polygon points="254.2,220.3 250.8,216.5 246.6,205 227.9,125 228.2,124.3 247.1,203.3 251.3,214.4 254.8,217.7" fill="#00cc00" stroke="#00cc00" stroke-width="0.4"/><polygon points="217.5,125.4 217.2,126.1 218.9,123.5 219.1,123" fill="#00ff00" stroke="#00ff00" stroke-width="0.4"/><polygon points="217.2,126.1 217.5,126.7 219.1,123.8 218.9,123.5" fill="#00ff00" stroke="#00ff00" stroke-width="0.4"/><polygon points="217.5,126.7 218.5,127.1 219.7,124.1 219.1,123.8" fill="#08ff04" stroke="#08ff04" stroke-width="0.4"/><polygon points="218.5,127.1 220,127.3 220.6,124.2 219.7,124.1" fill="#30ff18" stroke="#30ff18" stroke-width="0.4"/><polygon points="220,127.3 221.8,127.2 221.7,124.2 220.6,124.2" fill="#2fff17" stroke="#2fff17" stroke-width="0.4"/><polygon points="221.8,127.2 223.7,126.9 222.9,124 221.7,124.2" fill="#07fe03" stroke="#07fe03" stroke-width="0.4"/><polygon points="223.7,126.9 225.5,126.4 224,123.6 222.9,124" fill="#00e600" stroke="#00e600" stroke-width="0.4"/><polygon points="225.5,126.4 226.9,125.7 224.9,123.2 224,123.6" fill="#00d200" stroke="#00d200" stroke-width="0.4"/><polygon points="226.9,125.7 227.9,125 225.5,122.8 224.9,123.2" fill="#00cc00" stroke="#00cc00" stroke-width="0.4"/><polygon points="227.9,125 228.2,124.3 225.7,122.4 225.5,122.8" fill="#00cc00" stroke="#00cc00" stroke-width="0.4"/><polygon points="228.2,124.3 227.8,123.7 225.5,122 225.7,122.4" fill="#00cc00" stroke="#00cc00" stroke-width="0.4"/><polygon points="224.9,121.7 224,121.6 222.9,121.7 221.7,121.9 220.6,122.2 219.7,122.6 219.1,123 218.9,123.5 219.1,123.8 219.7,124.1 220.6,124.2 221.7,124.2 222.9,124 224,123.6 224.9,123.2 225.5,122.8 225.7,122.4 225.5,122" fill="#00fa00" stroke="#00fa00" stroke-width="0.4"/><polyline points="217.2,126.1 217.5,125.4 217.5,126.7 218.5,127.1 220,127.3 221.8,127.2 223.7,126.9 225.5,126.4 226.9,125.7 227.9,125" fill="none" stroke="#0a6a0a" stroke-width="0.8"/>
<polygon points="245.7,219 237.6,120.1 237.9,119.4 239.5,117 240,116.6 240.9,116.2 242,115.8 243.2,115.6 244.3,115.6 245.3,115.7 245.9,115.9 248.2,117.7 248.7,118.2 275.7,214.1 275.3,216.6 273.1,219.2 269.3,221.5 264.5,223.1 259.1,224 254,224 249.8,223 246.9,221.3" fill="#007000" stroke="#004a00" stroke-width="1.1"/><polygon points="245.7,219 247.8,214.8 247.6,203.1 237.6,120.1 238,120.7 248.4,204.5 248.7,216.6 246.9,221.3" fill="#00ff00" stroke="#00ff00" stroke-width="0.4"/><polygon points="246.9,221.3 248.7,216.6 248.4,204.5 238,120.7 239.1,121.1 250.4,205.6 251.1,218 249.8,223" fill="#00ff00" stroke="#00ff00" stroke-width="0.4"/><polygon points="249.8,223 251.1,218 250.4,205.6 239.1,121.1 240.6,121.2 253.3,206.2 254.5,218.8 254,224" fill="#01ff00" stroke="#01ff00" stroke-width="0.4"/><polygon points="254,224 254.5,218.8 253.3,206.2 240.6,121.2 242.4,121.2 256.7,206.2 258.7,218.8 259.1,224" fill="#01fc00" stroke="#01fc00" stroke-width="0.4"/><polygon points="259.1,224 258.7,218.8 256.7,206.2 242.4,121.2 244.3,120.8 260.3,205.6 263,218.1 264.5,223.1" fill="#00e700" stroke="#00e700" stroke-width="0.4"/><polygon points="264.5,223.1 263,218.1 260.3,205.6 244.3,120.8 246.1,120.3 263.6,204.5 266.9,216.7 269.3,221.5" fill="#00d000" stroke="#00d000" stroke-width="0.4"/><polygon points="269.3,221.5 266.9,216.7 263.6,204.5 246.1,120.3 247.5,119.6 266.1,203 270,214.9 273.1,219.2" fill="#00cc00" stroke="#00cc00" stroke-width="0.4"/><polygon points="273.1,219.2 270,214.9 266.1,203 247.5,119.6 248.4,118.9 267.7,201.3 271.8,212.8 275.3,216.6" fill="#00cc00" stroke="#00cc00" stroke-width="0.4"/><polygon points="275.3,216.6 271.8,212.8 267.7,201.3 248.4,118.9 248.7,118.2 268,199.7 272.2,210.8 275.7,214.1" fill="#00cc00" stroke="#00cc00" stroke-width="0.4"/><polygon points="237.9,119.4 237.6,120.1 239.3,117.4 239.5,117" fill="#00ff00" stroke="#00ff00" stroke-width="0.4"/><polygon points="237.6,120.1 238,120.7 239.6,117.8 239.3,117.4" fill="#00ff00" stroke="#00ff00" stroke-width="0.4"/><polygon points="238,120.7 239.1,121.1 240.2,118 239.6,117.8" fill="#09ff04" stroke="#09ff04" stroke-width="0.4"/><polygon points="239.1,121.1 240.6,121.2 241.2,118.1 240.2,118" fill="#32ff19" stroke="#32ff19" stroke-width="0.4"/><polygon points="240.6,121.2 242.4,121.2 242.3,118.1 241.2,118.1" fill="#2dff16" stroke="#2dff16" stroke-width="0.4"/><polygon points="242.4,121.2 244.3,120.8 243.5,117.9 242.3,118.1" fill="#06fd03" stroke="#06fd03" stroke-width="0.4"/><polygon points="244.3,120.8 246.1,120.3 244.6,117.6 243.5,117.9" fill="#00e500" stroke="#00e500" stroke-width="0.4"/><polygon points="246.1,120.3 247.5,119.6 245.5,117.1 244.6,117.6" fill="#00d200" stroke="#00d200" stroke-width="0.4"/><polygon points="247.5,119.6 248.4,118.9 246,116.7 245.5,117.1" fill="#00cc00" stroke="#00cc00" stroke-width="0.4"/><polygon points="248.4,118.9 248.7,118.2 246.2,116.3 246,116.7" fill="#00cc00" stroke="#00cc00" stroke-width="0.4"/><polygon points="248.7,118.2 248.2,117.7 245.9,115.9 246.2,116.3" fill="#00cc00" stroke="#00cc00" stroke-width="0.4"/><polygon points="245.3,115.7 244.3,115.6 243.2,115.6 242,115.8 240.9,116.2 240,116.6 239.5,117 239.3,117.4 239.6,117.8 240.2,118 241.2,118.1 242.3,118.1 243.5,117.9 244.6,117.6 245.5,117.1 246,116.7 246.2,116.3 245.9,115.9" fill="#00fa00" stroke="#00fa00" stroke-width="0.4"/><polyline points="237.6,120.1 237.9,119.4 238,120.7 239.1,121.1 240.6,121.2 242.4,121.2 244.3,120.8 246.1,120.3 247.5,119.6 248.4,118.9" fill="none" stroke="#0a6a0a" stroke-width="0.8"/>
<polygon points="201,231.9 191.9,126.8 193.9,123.7 194.5,123.3 195.4,122.8 196.6,122.5 197.8,122.3 198.9,122.3 199.8,122.4 200.3,122.7 202.7,124.4 203,125 231.2,227 230.4,229.7 227.8,232.3 223.8,234.7 218.7,236.4 213.4,237.2 208.4,237.1 204.4,236.1 201.8,234.3" fill="#007000" stroke="#004a00" stroke-width="1.1"/><polygon points="201,231.9 203.1,227.6 202.9,215.8 191.9,126.8 192.1,127.4 203.5,217.4 203.7,229.6 201.8,234.3" fill="#00ff00" stroke="#00ff00" stroke-width="0.4"/><polygon points="201.8,234.3 203.7,229.6 203.5,217.4 192.1,127.4 193,127.9 205.2,218.5 205.8,231 204.4,236.1" fill="#00ff00" stroke="#00ff00" stroke-width="0.4"/><polygon points="204.4,236.1 205.8,231 205.2,218.5 193,127.9 194.5,128.1 207.9,219.2 209.1,231.8 208.4,237.1" fill="#01ff00" stroke="#01ff00" stroke-width="0.4"/><polygon points="208.4,237.1 209.1,231.8 207.9,219.2 194.5,128.1 196.3,128 211.3,219.2 213.1,231.9 213.4,237.2" fill="#01fb00" stroke="#01fb00" stroke-width="0.4"/><polygon points="213.4,237.2 213.1,231.9 211.3,219.2 196.3,128 198.2,127.7 214.9,218.6 217.5,231.2 218.7,236.4" fill="#00e700" stroke="#00e700" stroke-width="0.4"/><polygon points="218.7,236.4 217.5,231.2 214.9,218.6 198.2,127.7 200.1,127.2 218.3,217.5 221.6,229.8 223.8,234.7" fill="#00d000" stroke="#00d000" stroke-width="0.4"/><polygon points="223.8,234.7 221.6,229.8 218.3,217.5 200.1,127.2 201.6,126.5 221.1,216 224.9,228 227.8,232.3" fill="#00cc00" stroke="#00cc00" stroke-width="0.4"/><polygon points="227.8,232.3 224.9,228 221.1,216 201.6,126.5 202.6,125.7 222.9,214.2 227,225.8 230.4,229.7" fill="#00cc00" stroke="#00cc00" stroke-width="0.4"/><polygon points="230.4,229.7 227,225.8 222.9,214.2 202.6,125.7 203,125 223.5,212.5 227.7,223.7 231.2,227" fill="#00cc00" stroke="#00cc00" stroke-width="0.4"/><polygon points="191.9,126.8 192.1,127.4 193.8,124.5 193.6,124.1" fill="#00ff00" stroke="#00ff00" stroke-width="0.4"/><polygon points="192.1,127.4 193,127.9 194.3,124.8 193.8,124.5" fill="#06ff03" stroke="#06ff03" stroke-width="0.4"/><polygon points="193,127.9 194.5,128.1 195.2,124.9 194.3,124.8" fill="#2dff16" stroke="#2dff16" stroke-width="0.4"/><polygon points="194.5,128.1 196.3,128 196.3,124.9 195.2,124.9" fill="#32ff19" stroke="#32ff19" stroke-width="0.4"/><polygon points="196.3,128 198.2,127.7 197.5,124.7 196.3,124.9" fill="#09ff04" stroke="#09ff04" stroke-width="0.4"/><polygon points="198.2,127.7 200.1,127.2 198.7,124.3 197.5,124.7" fill="#00e600" stroke="#00e600" stroke-width="0.4"/><polygon points="200.1,127.2 201.6,126.5 199.6,123.9 198.7,124.3" fill="#00d200" stroke="#00d200" stroke-width="0.4"/><polygon points="201.6,126.5 202.6,125.7 200.3,123.5 199.6,123.9" fill="#00cc00" stroke="#00cc00" stroke-width="0.4"/><polygon points="202.6,125.7 203,125 200.5,123 200.3,123.5" fill="#00cc00" stroke="#00cc00" stroke-width="0.4"/><polygon points="203,125 202.7,124.4 200.3,122.7 200.5,123" fill="#00cc00" stroke="#00cc00" stroke-width="0.4"/><polygon points="199.8,122.4 198.9,122.3 197.8,122.3 196.6,122.5 195.4,122.8 194.5,123.3 193.9,123.7 193.6,124.1 193.8,124.5 194.3,124.8 195.2,124.9 196.3,124.9 197.5,124.7 198.7,124.3 199.6,123.9 200.3,123.5 200.5,123 200.3,122.7" fill="#00fa00" stroke="#00fa00" stroke-width="0.4"/><polyline points="191.9,126.8 192.1,127.4 192.3,126.1 193,127.9 194.5,128.1 196.3,128 198.2,127.7 200.1,127.2 201.6,126.5 202.6,125.7" fill="none" stroke="#0a6a0a" stroke-width="0.8"/>
<polygon points="314.2,215 304.6,105.9 304.6,105.3 306.4,102.7 306.8,102.3 307.7,101.9 308.8,101.6 310,101.4 311.2,101.3 312.3,101.4 313.1,101.6 316.1,104 345.2,209.8 345.4,212.3 343.6,214.9 340.1,217.3 335.4,219 329.9,219.9 324.4,219.9 319.6,219 316,217.3" fill="#007000" stroke="#004a00" stroke-width="1.1"/><polygon points="314.2,215 316.3,210.7 316.2,198.6 304.6,105.9 305.2,106.5 317.4,200.1 317.8,212.5 316,217.3" fill="#00ff00" stroke="#00ff00" stroke-width="0.4"/><polygon points="316,217.3 317.8,212.5 317.4,200.1 305.2,106.5 306.5,106.9 319.8,201.2 320.7,213.9 319.6,219" fill="#00ff00" stroke="#00ff00" stroke-width="0.4"/><polygon points="319.6,219 320.7,213.9 319.8,201.2 306.5,106.9 308.2,107 323.1,201.7 324.6,214.6 324.4,219.9" fill="#02ff01" stroke="#02ff01" stroke-width="0.4"/><polygon points="324.4,219.9 324.6,214.6 323.1,201.7 308.2,107 310.2,106.9 326.8,201.7 329.1,214.6 329.9,219.9" fill="#01fb00" stroke="#01fb00" stroke-width="0.4"/><polygon points="329.9,219.9 329.1,214.6 326.8,201.7 310.2,106.9 312.2,106.5 330.5,201.1 333.5,213.8 335.4,219" fill="#00e700" stroke="#00e700" stroke-width="0.4"/><polygon points="335.4,219 333.5,213.8 330.5,201.1 312.2,106.5 314,106 333.7,199.9 337.4,212.4 340.1,217.3" fill="#00d000" stroke="#00d000" stroke-width="0.4"/><polygon points="340.1,217.3 337.4,212.4 333.7,199.9 314,106 315.3,105.3 336.1,198.4 340.3,210.6 343.6,214.9" fill="#00cc00" stroke="#00cc00" stroke-width="0.4"/><polygon points="343.6,214.9 340.3,210.6 336.1,198.4 315.3,105.3 316,104.6 337.3,196.7 341.7,208.5 345.4,212.3" fill="#00cc00" stroke="#00cc00" stroke-width="0.4"/><polygon points="345.4,212.3 341.7,208.5 337.3,196.7 316,104.6 316.1,104 337.3,195 341.6,206.4 345.2,209.8" fill="#00cc00" stroke="#00cc00" stroke-width="0.4"/><polygon points="304.6,105.3 304.6,105.9 306.4,103.2 306.4,102.7" fill="#00ff00" stroke="#00ff00" stroke-width="0.4"/><polygon points="304.6,105.9 305.2,106.5 306.8,103.5 306.4,103.2" fill="#00ff00" stroke="#00ff00" stroke-width="0.4"/><polygon points="305.2,106.5 306.5,106.9 307.5,103.7 306.8,103.5" fill="#0eff07" stroke="#0eff07" stroke-width="0.4"/><polygon points="306.5,106.9 308.2,107 308.6,103.8 307.5,103.7" fill="#38ff1c" stroke="#38ff1c" stroke-width="0.4"/><polygon points="308.2,107 310.2,106.9 309.8,103.7 308.6,103.8" fill="#25ff12" stroke="#25ff12" stroke-width="0.4"/><polygon points="310.2,106.9 312.2,106.5 311.1,103.5 309.8,103.7" fill="#03fb01" stroke="#03fb01" stroke-width="0.4"/><polygon points="312.2,106.5 314,106 312.2,103.2 311.1,103.5" fill="#00e500" stroke="#00e500" stroke-width="0.4"/><polygon points="314,106 315.3,105.3 313,102.8 312.2,103.2" fill="#00d200" stroke="#00d200" stroke-width="0.4"/><polygon points="315.3,105.3 316,104.6 313.5,102.3 313,102.8" fill="#00cc00" stroke="#00cc00" stroke-width="0.4"/><polygon points="316,104.6 316.1,104 313.5,101.9 313.5,102.3" fill="#00cc00" stroke="#00cc00" stroke-width="0.4"/><polygon points="312.3,101.4 311.2,101.3 310,101.4 308.8,101.6 307.7,101.9 306.8,102.3 306.4,102.7 306.4,103.2 306.8,103.5 307.5,103.7 308.6,103.8 309.8,103.7 311.1,103.5 312.2,103.2 313,102.8 313.5,102.3 313.5,101.9 313.1,101.6" fill="#00fa00" stroke="#00fa00" stroke-width="0.4"/><polyline points="304.6,105.9 304.6,105.3 305.2,106.5 305.4,104.6 306.5,106.9 308.2,107 310.2,106.9 312.2,106.5 314,106 315.3,105.3 316,104.6" fill="none" stroke="#0a6a0a" stroke-width="0.8"/>
<polygon points="290.8,220.4 281.1,111.1 281.2,110.4 282.9,107.9 283.4,107.4 284.3,107 285.4,106.7 286.6,106.5 287.8,106.4 288.9,106.5 289.6,106.7 292,108.6 292.6,109.1 321.8,215.3 321.7,217.9 319.8,220.5 316.2,222.9 311.3,224.6 305.8,225.5 300.4,225.5 295.7,224.5 292.4,222.8" fill="#007000" stroke="#004a00" stroke-width="1.1"/><polygon points="290.8,220.4 292.9,216.1 292.7,204 281.1,111.1 281.6,111.6 293.8,205.5 294.2,218 292.4,222.8" fill="#00ff00" stroke="#00ff00" stroke-width="0.4"/><polygon points="292.4,222.8 294.2,218 293.8,205.5 281.6,111.6 282.8,112 296.1,206.7 296.9,219.4 295.7,224.5" fill="#00ff00" stroke="#00ff00" stroke-width="0.4"/><polygon points="295.7,224.5 296.9,219.4 296.1,206.7 282.8,112 284.5,112.2 299.3,207.2 300.7,220.1 300.4,225.5" fill="#02ff01" stroke="#02ff01" stroke-width="0.4"/><polygon points="300.4,225.5 300.7,220.1 299.3,207.2 284.5,112.2 286.5,112.1 302.9,207.2 305.1,220.2 305.8,225.5" fill="#01fb00" stroke="#01fb00" stroke-width="0.4"/><polygon points="305.8,225.5 305.1,220.2 302.9,207.2 286.5,112.1 288.5,111.7 306.6,206.6 309.6,219.4 311.3,224.6" fill="#00e700" stroke="#00e700" stroke-width="0.4"/><polygon points="311.3,224.6 309.6,219.4 306.6,206.6 288.5,111.7 290.3,111.2 309.9,205.5 313.5,218 316.2,222.9" fill="#00d000" stroke="#00d000" stroke-width="0.4"/><polygon points="316.2,222.9 313.5,218 309.9,205.5 290.3,111.2 291.7,110.5 312.4,203.9 316.5,216.1 319.8,220.5" fill="#00cc00" stroke="#00cc00" stroke-width="0.4"/><polygon points="319.8,220.5 316.5,216.1 312.4,203.9 291.7,110.5 292.5,109.8 313.7,202.2 318.1,214 321.7,217.9" fill="#00cc00" stroke="#00cc00" stroke-width="0.4"/><polygon points="321.7,217.9 318.1,214 313.7,202.2 292.5,109.8 292.6,109.1 313.8,200.5 318.1,211.9 321.8,215.3" fill="#00cc00" stroke="#00cc00" stroke-width="0.4"/><polygon points="281.2,110.4 281.1,111.1 282.9,108.3 282.9,107.9" fill="#00ff00" stroke="#00ff00" stroke-width="0.4"/><polygon points="281.1,111.1 281.6,111.6 283.2,108.7 282.9,108.3" fill="#00ff00" stroke="#00ff00" stroke-width="0.4"/><polygon points="281.6,111.6 282.8,112 283.9,108.9 283.2,108.7" fill="#0cff06" stroke="#0cff06" stroke-width="0.4"/><polygon points="282.8,112 284.5,112.2 285,109 283.9,108.9" fill="#36ff1b" stroke="#36ff1b" stroke-width="0.4"/><polygon points="284.5,112.2 286.5,112.1 286.2,108.9 285,109" fill="#27ff13" stroke="#27ff13" stroke-width="0.4"/><polygon points="286.5,112.1 288.5,111.7 287.4,108.7 286.2,108.9" fill="#04fc02" stroke="#04fc02" stroke-width="0.4"/><polygon points="288.5,111.7 290.3,111.2 288.6,108.4 287.4,108.7" fill="#00e500" stroke="#00e500" stroke-width="0.4"/><polygon points="290.3,111.2 291.7,110.5 289.4,108 288.6,108.4" fill="#00d200" stroke="#00d200" stroke-width="0.4"/><polygon points="291.7,110.5 292.5,109.8 289.9,107.5 289.4,108" fill="#00cc00" stroke="#00cc00" stroke-width="0.4"/><polygon points="292.5,109.8 292.6,109.1 290,107.1 289.9,107.5" fill="#00cc00" stroke="#00cc00" stroke-width="0.4"/><polygon points="292.6,109.1 292,108.6 289.6,106.7 290,107.1" fill="#00cc00" stroke="#00cc00" stroke-width="0.4"/><polygon points="288.9,106.5 287.8,106.4 286.6,106.5 285.4,106.7 284.3,107 283.4,107.4 282.9,107.9 282.9,108.3 283.2,108.7 283.9,108.9 285,109 286.2,108.9 287.4,108.7 288.6,108.4 289.4,108 289.9,107.5 290,107.1 289.6,106.7" fill="#00fa00" stroke="#00fa00" stroke-width="0.4"/><polyline points="281.1,111.1 281.2,110.4 281.6,111.6 282.8,112 284.5,112.2 286.5,112.1 288.5,111.7 290.3,111.2 291.7,110.5 292.5,109.8" fill="none" stroke="#0a6a0a" stroke-width="0.8"/>
<polygon points="267,224.8 259.3,126.4 259.5,125.7 261.2,123.2 261.7,122.8 262.6,122.3 263.7,122 264.9,121.8 266.1,121.7 267.1,121.9 267.8,122.1 270.2,123.9 270.7,124.5 297.9,219.7 297.7,222.3 295.5,225 291.8,227.3 286.9,229.1 281.4,230 276.1,229.9 271.5,228.9 268.4,227.1" fill="#007000" stroke="#004a00" stroke-width="1.1"/><polygon points="267,224.8 269.1,220.5 269,208.4 259.3,126.4 259.8,127 269.9,209.9 270.3,222.4 268.4,227.1" fill="#00ff00" stroke="#00ff00" stroke-width="0.4"/><polygon points="268.4,227.1 270.3,222.4 269.9,209.9 259.8,127 260.9,127.4 272.1,211.1 272.8,223.8 271.5,228.9" fill="#00ff00" stroke="#00ff00" stroke-width="0.4"/><polygon points="271.5,228.9 272.8,223.8 272.1,211.1 260.9,127.4 262.5,127.6 275.1,211.7 276.5,224.6 276.1,229.9" fill="#02ff01" stroke="#02ff01" stroke-width="0.4"/><polygon points="276.1,229.9 276.5,224.6 275.1,211.7 262.5,127.6 264.4,127.5 278.7,211.7 280.8,224.6 281.4,230" fill="#01fc00" stroke="#01fc00" stroke-width="0.4"/><polygon points="281.4,230 280.8,224.6 278.7,211.7 264.4,127.5 266.4,127.2 282.4,211.1 285.3,223.9 286.9,229.1" fill="#00e700" stroke="#00e700" stroke-width="0.4"/><polygon points="286.9,229.1 285.3,223.9 282.4,211.1 266.4,127.2 268.2,126.6 285.8,209.9 289.3,222.5 291.8,227.3" fill="#00d000" stroke="#00d000" stroke-width="0.4"/><polygon points="291.8,227.3 289.3,222.5 285.8,209.9 268.2,126.6 269.7,125.9 288.3,208.4 292.3,220.6 295.5,225" fill="#00cc00" stroke="#00cc00" stroke-width="0.4"/><polygon points="295.5,225 292.3,220.6 288.3,208.4 269.7,125.9 270.5,125.2 289.8,206.7 294.1,218.4 297.7,222.3" fill="#00cc00" stroke="#00cc00" stroke-width="0.4"/><polygon points="297.7,222.3 294.1,218.4 289.8,206.7 270.5,125.2 270.7,124.5 290,204.9 294.3,216.3 297.9,219.7" fill="#00cc00" stroke="#00cc00" stroke-width="0.4"/><polygon points="259.5,125.7 259.3,126.4 261.1,123.7 261.2,123.2" fill="#00ff00" stroke="#00ff00" stroke-width="0.4"/><polygon points="259.3,126.4 259.8,127 261.4,124 261.1,123.7" fill="#00ff00" stroke="#00ff00" stroke-width="0.4"/><polygon points="259.8,127 260.9,127.4 262.1,124.3 261.4,124" fill="#0aff05" stroke="#0aff05" stroke-width="0.4"/><polygon points="260.9,127.4 262.5,127.6 263.1,124.4 262.1,124.3" fill="#34ff1a" stroke="#34ff1a" stroke-width="0.4"/><polygon points="262.5,127.6 264.4,127.5 264.2,124.4 263.1,124.4" fill="#2aff15" stroke="#2aff15" stroke-width="0.4"/><polygon points="264.4,127.5 266.4,127.2 265.5,124.1 264.2,124.4" fill="#05fd02" stroke="#05fd02" stroke-width="0.4"/><polygon points="266.4,127.2 268.2,126.6 266.6,123.8 265.5,124.1" fill="#00e500" stroke="#00e500" stroke-width="0.4"/><polygon points="268.2,126.6 269.7,125.9 267.5,123.4 266.6,123.8" fill="#00d200" stroke="#00d200" stroke-width="0.4"/><polygon points="269.7,125.9 270.5,125.2 268,122.9 267.5,123.4" fill="#00cc00" stroke="#00cc00" stroke-width="0.4"/><polygon points="270.5,125.2 270.7,124.5 268.1,122.5 268,122.9" fill="#00cc00" stroke="#00cc00" stroke-width="0.4"/><polygon points="270.7,124.5 270.2,123.9 267.8,122.1 268.1,122.5" fill="#00cc00" stroke="#00cc00" stroke-width="0.4"/><polygon points="267.1,121.9 266.1,121.7 264.9,121.8 263.7,122 262.6,122.3 261.7,122.8 261.2,123.2 261.1,123.7 261.4,124 262.1,124.3 263.1,124.4 264.2,124.4 265.5,124.1 266.6,123.8 267.5,123.4 268,122.9 268.1,122.5 267.8,122.1" fill="#00fa00" stroke="#00fa00" stroke-width="0.4"/><polyline points="259.3,126.4 259.5,125.7 259.8,127 260.9,127.4 262.5,127.6 264.4,127.5 266.4,127.2 268.2,126.6 269.7,125.9 270.5,125.2" fill="none" stroke="#0a6a0a" stroke-width="0.8"/>
<polygon points="219.7,236.5 211.2,133.2 211.5,132.5 213.1,130.1 213.8,129.6 214.7,129.2 215.9,128.8 217.1,128.6 218.2,128.6 219.2,128.7 219.8,129 222.2,130.7 222.6,131.4 250.7,231.5 250,234.2 247.5,237 243.5,239.4 238.4,241.2 232.9,242 227.7,241.9 223.5,240.9 220.7,239" fill="#007000" stroke="#004a00" stroke-width="1.1"/><polygon points="219.7,236.5 221.8,232.2 221.7,220.1 211.2,133.2 211.5,133.9 222.4,221.7 222.6,234.2 220.7,239" fill="#00ff00" stroke="#00ff00" stroke-width="0.4"/><polygon points="220.7,239 222.6,234.2 222.4,221.7 211.5,133.9 212.5,134.3 224.2,222.9 224.9,235.7 223.5,240.9" fill="#00ff00" stroke="#00ff00" stroke-width="0.4"/><polygon points="223.5,240.9 224.9,235.7 224.2,222.9 212.5,134.3 214,134.5 227.1,223.6 228.3,236.5 227.7,241.9" fill="#01ff00" stroke="#01ff00" stroke-width="0.4"/><polygon points="227.7,241.9 228.3,236.5 227.1,223.6 214,134.5 215.8,134.5 230.6,223.6 232.6,236.6 232.9,242" fill="#01fb00" stroke="#01fb00" stroke-width="0.4"/><polygon points="232.9,242 232.6,236.6 230.6,223.6 215.8,134.5 217.8,134.1 234.3,223 237,235.9 238.4,241.2" fill="#00e700" stroke="#00e700" stroke-width="0.4"/><polygon points="238.4,241.2 237,235.9 234.3,223 217.8,134.1 219.7,133.6 237.8,221.9 241.2,234.5 243.5,239.4" fill="#00d000" stroke="#00d000" stroke-width="0.4"/><polygon points="243.5,239.4 241.2,234.5 237.8,221.9 219.7,133.6 221.2,132.9 240.5,220.3 244.4,232.5 247.5,237" fill="#00cc00" stroke="#00cc00" stroke-width="0.4"/><polygon points="247.5,237 244.4,232.5 240.5,220.3 221.2,132.9 222.2,132.1 242.2,218.5 246.5,230.3 250,234.2" fill="#00cc00" stroke="#00cc00" stroke-width="0.4"/><polygon points="250,234.2 246.5,230.3 242.2,218.5 222.2,132.1 222.6,131.4 242.7,216.7 247.1,228.1 250.7,231.5" fill="#00cc00" stroke="#00cc00" stroke-width="0.4"/><polygon points="211.5,132.5 211.2,133.2 212.9,130.5 213.1,130.1" fill="#00ff00" stroke="#00ff00" stroke-width="0.4"/><polygon points="211.2,133.2 211.5,133.9 213.1,130.9 212.9,130.5" fill="#00ff00" stroke="#00ff00" stroke-width="0.4"/><polygon points="211.5,133.9 212.5,134.3 213.7,131.2 213.1,130.9" fill="#07ff03" stroke="#07ff03" stroke-width="0.4"/><polygon points="212.5,134.3 214,134.5 214.7,131.3 213.7,131.2" fill="#2fff17" stroke="#2fff17" stroke-width="0.4"/><polygon points="214,134.5 215.8,134.5 215.8,131.3 214.7,131.3" fill="#30ff18" stroke="#30ff18" stroke-width="0.4"/><polygon points="215.8,134.5 217.8,134.1 217.1,131.1 215.8,131.3" fill="#08fe04" stroke="#08fe04" stroke-width="0.4"/><polygon points="217.8,134.1 219.7,133.6 218.2,130.7 217.1,131.1" fill="#00e600" stroke="#00e600" stroke-width="0.4"/><polygon points="219.7,133.6 221.2,132.9 219.2,130.3 218.2,130.7" fill="#00d200" stroke="#00d200" stroke-width="0.4"/><polygon points="221.2,132.9 222.2,132.1 219.8,129.8 219.2,130.3" fill="#00cc00" stroke="#00cc00" stroke-width="0.4"/><polygon points="222.2,132.1 222.6,131.4 220,129.3 219.8,129.8" fill="#00cc00" stroke="#00cc00" stroke-width="0.4"/><polygon points="222.6,131.4 222.2,130.7 219.8,129 220,129.3" fill="#00cc00" stroke="#00cc00" stroke-width="0.4"/><polygon points="219.2,128.7 218.2,128.6 217.1,128.6 215.9,128.8 214.7,129.2 213.8,129.6 213.1,130.1 212.9,130.5 213.1,130.9 213.7,131.2 214.7,131.3 215.8,131.3 217.1,131.1 218.2,130.7 219.2,130.3 219.8,129.8 220,129.3 219.8,129" fill="#00fa00" stroke="#00fa00" stroke-width="0.4"/><polyline points="211.2,133.2 211.5,133.9 211.5,132.5 212.5,134.3 214,134.5 215.8,134.5 217.8,134.1 219.7,133.6 221.2,132.9 222.2,132.1" fill="none" stroke="#0a6a0a" stroke-width="0.8"/>
<polygon points="243.6,233.4 235.4,131.2 235.6,130.5 237.3,128 237.9,127.6 238.8,127.1 240,126.8 241.2,126.6 242.4,126.5 243.3,126.7 244,126.9 246.4,128.7 246.8,129.3 274.8,228.3 274.4,231.1 272.1,233.8 268.1,236.2 263.1,238 257.6,238.9 252.2,238.8 247.8,237.8 244.9,235.9" fill="#007000" stroke="#004a00" stroke-width="1.1"/><polygon points="243.6,233.4 245.8,229.1 245.7,217 235.4,131.2 235.8,131.9 246.5,218.6 246.8,231.1 244.9,235.9" fill="#00ff00" stroke="#00ff00" stroke-width="0.4"/><polygon points="244.9,235.9 246.8,231.1 246.5,218.6 235.8,131.9 236.8,132.3 248.5,219.8 249.2,232.6 247.8,237.8" fill="#00ff00" stroke="#00ff00" stroke-width="0.4"/><polygon points="247.8,237.8 249.2,232.6 248.5,219.8 236.8,132.3 238.4,132.5 251.5,220.4 252.8,233.4 252.2,238.8" fill="#01ff00" stroke="#01ff00" stroke-width="0.4"/><polygon points="252.2,238.8 252.8,233.4 251.5,220.4 238.4,132.5 240.3,132.5 255.1,220.5 257.1,233.5 257.6,238.9" fill="#01fb00" stroke="#01fb00" stroke-width="0.4"/><polygon points="257.6,238.9 257.1,233.5 255.1,220.5 240.3,132.5 242.3,132.1 258.8,219.8 261.6,232.7 263.1,238" fill="#00e700" stroke="#00e700" stroke-width="0.4"/><polygon points="263.1,238 261.6,232.7 258.8,219.8 242.3,132.1 244.2,131.6 262.2,218.7 265.7,231.3 268.1,236.2" fill="#00d000" stroke="#00d000" stroke-width="0.4"/><polygon points="268.1,236.2 265.7,231.3 262.2,218.7 244.2,131.6 245.7,130.9 264.9,217.1 268.9,229.4 272.1,233.8" fill="#00cc00" stroke="#00cc00" stroke-width="0.4"/><polygon points="272.1,233.8 268.9,229.4 264.9,217.1 245.7,130.9 246.6,130.1 266.5,215.3 270.8,227.1 274.4,231.1" fill="#00cc00" stroke="#00cc00" stroke-width="0.4"/><polygon points="274.4,231.1 270.8,227.1 266.5,215.3 246.6,130.1 246.8,129.3 266.9,213.5 271.2,224.9 274.8,228.3" fill="#00cc00" stroke="#00cc00" stroke-width="0.4"/><polygon points="235.6,130.5 235.4,131.2 237.1,128.5 237.3,128" fill="#00ff00" stroke="#00ff00" stroke-width="0.4"/><polygon points="235.4,131.2 235.8,131.9 237.4,128.9 237.1,128.5" fill="#00ff00" stroke="#00ff00" stroke-width="0.4"/><polygon points="235.8,131.9 236.8,132.3 238,129.2 237.4,128.9" fill="#09ff04" stroke="#09ff04" stroke-width="0.4"/><polygon points="236.8,132.3 238.4,132.5 239,129.3 238,129.2" fill="#32ff19" stroke="#32ff19" stroke-width="0.4"/><polygon points="238.4,132.5 240.3,132.5 240.2,129.2 239,129.3" fill="#2dff16" stroke="#2dff16" stroke-width="0.4"/><polygon points="240.3,132.5 242.3,132.1 241.4,129 240.2,129.2" fill="#06fd03" stroke="#06fd03" stroke-width="0.4"/><polygon points="242.3,132.1 244.2,131.6 242.6,128.7 241.4,129" fill="#00e500" stroke="#00e500" stroke-width="0.4"/><polygon points="244.2,131.6 245.7,130.9 243.5,128.2 242.6,128.7" fill="#00d200" stroke="#00d200" stroke-width="0.4"/><polygon points="245.7,130.9 246.6,130.1 244.1,127.8 243.5,128.2" fill="#00cc00" stroke="#00cc00" stroke-width="0.4"/><polygon points="246.6,130.1 246.8,129.3 244.3,127.3 244.1,127.8" fill="#00cc00" stroke="#00cc00" stroke-width="0.4"/><polygon points="246.8,129.3 246.4,128.7 244,126.9 244.3,127.3" fill="#00cc00" stroke="#00cc00" stroke-width="0.4"/><polygon points="243.3,126.7 242.4,126.5 241.2,126.6 240,126.8 238.8,127.1 237.9,127.6 237.3,128 237.1,128.5 237.4,128.9 238,129.2 239,129.3 240.2,129.2 241.4,129 242.6,128.7 243.5,128.2 244.1,127.8 244.3,127.3 244,126.9" fill="#00fa00" stroke="#00fa00" stroke-width="0.4"/><polyline points="235.4,131.2 235.6,130.5 235.8,131.9 236.8,132.3 238.4,132.5 240.3,132.5 242.3,132.1 244.2,131.6 245.7,130.9 246.6,130.1" fill="none" stroke="#0a6a0a" stroke-width="0.8"/>
<polygon points="291.5,233 281.4,119.5 281.6,118.8 283.4,116.2 283.9,115.7 284.8,115.3 285.9,114.9 287.2,114.7 288.4,114.7 289.5,114.8 290.3,115 292.7,116.9 293.3,117.5 323.6,227.7 323.6,230.4 321.6,233.3 317.9,235.7 312.8,237.6 307.1,238.5 301.5,238.5 296.7,237.4 293.2,235.5" fill="#007000" stroke="#004a00" stroke-width="1.1"/><polygon points="291.5,233 293.7,228.6 293.6,216.2 281.4,119.5 282,120.1 294.7,217.8 295.1,230.6 293.2,235.5" fill="#00ff00" stroke="#00ff00" stroke-width="0.4"/><polygon points="293.2,235.5 295.1,230.6 294.7,217.8 282,120.1 283.2,120.6 297.1,219 297.9,232.1 296.7,237.4" fill="#00ff00" stroke="#00ff00" stroke-width="0.4"/><polygon points="296.7,237.4 297.9,232.1 297.1,219 283.2,120.6 285,120.7 300.3,219.7 301.9,232.9 301.5,238.5" fill="#01ff00" stroke="#01ff00" stroke-width="0.4"/><polygon points="301.5,238.5 301.9,232.9 300.3,219.7 285,120.7 287,120.6 304.1,219.7 306.4,233 307.1,238.5" fill="#01fb00" stroke="#01fb00" stroke-width="0.4"/><polygon points="307.1,238.5 306.4,233 304.1,219.7 287,120.6 289.1,120.3 308,219 311,232.2 312.8,237.6" fill="#00e700" stroke="#00e700" stroke-width="0.4"/><polygon points="312.8,237.6 311,232.2 308,219 289.1,120.3 291,119.7 311.4,217.8 315.1,230.7 317.9,235.7" fill="#00d000" stroke="#00d000" stroke-width="0.4"/><polygon points="317.9,235.7 315.1,230.7 311.4,217.8 291,119.7 292.4,119 313.9,216.2 318.2,228.7 321.6,233.3" fill="#00cc00" stroke="#00cc00" stroke-width="0.4"/><polygon points="321.6,233.3 318.2,228.7 313.9,216.2 292.4,119 293.2,118.2 315.3,214.3 319.8,226.4 323.6,230.4" fill="#00cc00" stroke="#00cc00" stroke-width="0.4"/><polygon points="323.6,230.4 319.8,226.4 315.3,214.3 293.2,118.2 293.3,117.5 315.4,212.5 319.9,224.2 323.6,227.7" fill="#00cc00" stroke="#00cc00" stroke-width="0.4"/><polygon points="281.6,118.8 281.4,119.5 283.3,116.6 283.4,116.2" fill="#00ff00" stroke="#00ff00" stroke-width="0.4"/><polygon points="281.4,119.5 282,120.1 283.6,117 283.3,116.6" fill="#00ff00" stroke="#00ff00" stroke-width="0.4"/><polygon points="282,120.1 283.2,120.6 284.4,117.3 283.6,117" fill="#0cff06" stroke="#0cff06" stroke-width="0.4"/><polygon points="283.2,120.6 285,120.7 285.5,117.4 284.4,117.3" fill="#36ff1b" stroke="#36ff1b" stroke-width="0.4"/><polygon points="285,120.7 287,120.6 286.7,117.3 285.5,117.4" fill="#27ff13" stroke="#27ff13" stroke-width="0.4"/><polygon points="287,120.6 289.1,120.3 288,117.1 286.7,117.3" fill="#04fc02" stroke="#04fc02" stroke-width="0.4"/><polygon points="289.1,120.3 291,119.7 289.2,116.8 288,117.1" fill="#00e500" stroke="#00e500" stroke-width="0.4"/><polygon points="291,119.7 292.4,119 290.1,116.3 289.2,116.8" fill="#00d200" stroke="#00d200" stroke-width="0.4"/><polygon points="292.4,119 293.2,118.2 290.6,115.8 290.1,116.3" fill="#00cc00" stroke="#00cc00" stroke-width="0.4"/><polygon points="293.2,118.2 293.3,117.5 290.7,115.4 290.6,115.8" fill="#00cc00" stroke="#00cc00" stroke-width="0.4"/><polygon points="293.3,117.5 292.7,116.9 290.3,115 290.7,115.4" fill="#00cc00" stroke="#00cc00" stroke-width="0.4"/><polygon points="289.5,114.8 288.4,114.7 287.2,114.7 285.9,114.9 284.8,115.3 283.9,115.7 283.4,116.2 283.3,116.6 283.6,117 284.4,117.3 285.5,117.4 286.7,117.3 288,117.1 289.2,116.8 290.1,116.3 290.6,115.8 290.7,115.4 290.3,115" fill="#00fa00" stroke="#00fa00" stroke-width="0.4"/><polyline points="281.4,119.5 281.6,118.8 282,120.1 283.2,120.6 285,120.7 287,120.6 289.1,120.3 291,119.7 292.4,119 293.2,118.2" fill="none" stroke="#0a6a0a" stroke-width="0.8"/>
<polygon points="239.4,243.8 229.6,132.1 229.9,131.4 231.6,128.8 232.2,128.3 233.2,127.9 234.4,127.5 235.7,127.3 236.9,127.3 237.9,127.4 238.5,127.7 241,129.5 241.5,130.2 271.4,238.6 270.8,241.4 268.4,244.3 264.4,246.9 259.2,248.7 253.5,249.6 248.1,249.5 243.6,248.4 240.6,246.4" fill="#007000" stroke="#004a00" stroke-width="1.1"/><polygon points="239.4,243.8 241.6,239.4 241.4,227 229.6,132.1 230,132.8 242.3,228.7 242.6,241.4 240.6,246.4" fill="#00ff00" stroke="#00ff00" stroke-width="0.4"/><polygon points="240.6,246.4 242.6,241.4 242.3,228.7 230,132.8 231.1,133.2 244.3,230 245,243 243.6,248.4" fill="#00ff00" stroke="#00ff00" stroke-width="0.4"/><polygon points="243.6,248.4 245,243 244.3,230 231.1,133.2 232.7,133.5 247.3,230.7 248.7,243.9 248.1,249.5" fill="#01ff00" stroke="#01ff00" stroke-width="0.4"/><polygon points="248.1,249.5 248.7,243.9 247.3,230.7 232.7,133.5 234.6,133.4 251,230.7 253.1,244 253.5,249.6" fill="#01fb00" stroke="#01fb00" stroke-width="0.4"/><polygon points="253.5,249.6 253.1,244 251,230.7 234.6,133.4 236.7,133 254.8,230.1 257.7,243.3 259.2,248.7" fill="#00e700" stroke="#00e700" stroke-width="0.4"/><polygon points="259.2,248.7 257.7,243.3 254.8,230.1 236.7,133 238.6,132.5 258.3,228.9 261.9,241.8 264.4,246.9" fill="#00d000" stroke="#00d000" stroke-width="0.4"/><polygon points="264.4,246.9 261.9,241.8 258.3,228.9 238.6,132.5 240.2,131.7 261.1,227.2 265.2,239.8 268.4,244.3" fill="#00cc00" stroke="#00cc00" stroke-width="0.4"/><polygon points="268.4,244.3 265.2,239.8 261.1,227.2 240.2,131.7 241.2,130.9 262.8,225.4 267.2,237.4 270.8,241.4" fill="#00cc00" stroke="#00cc00" stroke-width="0.4"/><polygon points="270.8,241.4 267.2,237.4 262.8,225.4 241.2,130.9 241.5,130.2 263.2,223.5 267.6,235.1 271.4,238.6" fill="#00cc00" stroke="#00cc00" stroke-width="0.4"/><polygon points="229.9,131.4 229.6,132.1 231.4,129.3 231.6,128.8" fill="#00ff00" stroke="#00ff00" stroke-width="0.4"/><polygon points="229.6,132.1 230,132.8 231.7,129.7 231.4,129.3" fill="#00ff00" stroke="#00ff00" stroke-width="0.4"/><polygon points="230,132.8 231.1,133.2 232.3,130 231.7,129.7" fill="#08ff04" stroke="#08ff04" stroke-width="0.4"/><polygon points="231.1,133.2 232.7,133.5 233.3,130.1 232.3,130" fill="#31ff18" stroke="#31ff18" stroke-width="0.4"/><polygon points="232.7,133.5 234.6,133.4 234.6,130 233.3,130.1" fill="#2dff16" stroke="#2dff16" stroke-width="0.4"/><polygon points="234.6,133.4 236.7,133 235.8,129.8 234.6,130" fill="#07fe03" stroke="#07fe03" stroke-width="0.4"/><polygon points="236.7,133 238.6,132.5 237,129.5 235.8,129.8" fill="#00e600" stroke="#00e600" stroke-width="0.4"/><polygon points="238.6,132.5 240.2,131.7 238,129 237,129.5" fill="#00d200" stroke="#00d200" stroke-width="0.4"/><polygon points="240.2,131.7 241.2,130.9 238.6,128.5 238,129" fill="#00cc00" stroke="#00cc00" stroke-width="0.4"/><polygon points="241.2,130.9 241.5,130.2 238.8,128.1 238.6,128.5" fill="#00cc00" stroke="#00cc00" stroke-width="0.4"/><polygon points="241.5,130.2 241,129.5 238.5,127.7 238.8,128.1" fill="#00cc00" stroke="#00cc00" stroke-width="0.4"/><polygon points="237.9,127.4 236.9,127.3 235.7,127.3 234.4,127.5 233.2,127.9 232.2,128.3 231.6,128.8 231.4,129.3 231.7,129.7 232.3,130 233.3,130.1 234.6,130 235.8,129.8 237,129.5 238,129 238.6,128.5 238.8,128.1 238.5,127.7" fill="#00fa00" stroke="#00fa00" stroke-width="0.4"/><polyline points="229.6,132.1 229.9,131.4 230,132.8 231.1,133.2 232.7,133.5 234.6,133.4 236.7,133 238.6,132.5 240.2,131.7 241.2,130.9" fill="none" stroke="#0a6a0a" stroke-width="0.8"/>
<polygon points="262,241 253,133.2 253.3,132.4 255,129.9 255.6,129.4 256.5,128.9 257.7,128.6 259,128.4 260.2,128.3 261.2,128.4 261.9,128.7 264.4,130.5 264.9,131.2 294.2,235.7 293.9,238.6 291.7,241.5 287.7,244 282.6,245.9 276.9,246.8 271.3,246.7 266.7,245.6 263.4,243.6" fill="#007000" stroke="#004a00" stroke-width="1.1"/><polygon points="262,241 264.2,236.6 264.1,224.2 253,133.2 253.5,133.8 265.1,225.8 265.4,238.6 263.4,243.6" fill="#00ff00" stroke="#00ff00" stroke-width="0.4"/><polygon points="263.4,243.6 265.4,238.6 265.1,225.8 253.5,133.8 254.6,134.3 267.3,227.1 268,240.2 266.7,245.6" fill="#00ff00" stroke="#00ff00" stroke-width="0.4"/><polygon points="266.7,245.6 268,240.2 267.3,227.1 254.6,134.3 256.3,134.5 270.4,227.8 271.8,241.1 271.3,246.7" fill="#01ff00" stroke="#01ff00" stroke-width="0.4"/><polygon points="271.3,246.7 271.8,241.1 270.4,227.8 256.3,134.5 258.3,134.4 274.2,227.8 276.3,241.2 276.9,246.8" fill="#01fb00" stroke="#01fb00" stroke-width="0.4"/><polygon points="276.9,246.8 276.3,241.2 274.2,227.8 258.3,134.4 260.4,134.1 278,227.2 281,240.4 282.6,245.9" fill="#00e700" stroke="#00e700" stroke-width="0.4"/><polygon points="282.6,245.9 281,240.4 278,227.2 260.4,134.1 262.3,133.5 281.5,226 285.1,238.9 287.7,244" fill="#00d000" stroke="#00d000" stroke-width="0.4"/><polygon points="287.7,244 285.1,238.9 281.5,226 262.3,133.5 263.8,132.8 284.2,224.3 288.4,236.9 291.7,241.5" fill="#00cc00" stroke="#00cc00" stroke-width="0.4"/><polygon points="291.7,241.5 288.4,236.9 284.2,224.3 263.8,132.8 264.7,132 285.7,222.4 290.2,234.6 293.9,238.6" fill="#00cc00" stroke="#00cc00" stroke-width="0.4"/><polygon points="293.9,238.6 290.2,234.6 285.7,222.4 264.7,132 264.9,131.2 286,220.6 290.5,232.2 294.2,235.7" fill="#00cc00" stroke="#00cc00" stroke-width="0.4"/><polygon points="253.3,132.4 253,133.2 254.9,130.3 255,129.9" fill="#00ff00" stroke="#00ff00" stroke-width="0.4"/><polygon points="253,133.2 253.5,133.8 255.2,130.7 254.9,130.3" fill="#00ff00" stroke="#00ff00" stroke-width="0.4"/><polygon points="253.5,133.8 254.6,134.3 255.9,131 255.2,130.7" fill="#0aff05" stroke="#0aff05" stroke-width="0.4"/><polygon points="254.6,134.3 256.3,134.5 256.9,131.2 255.9,131" fill="#33ff19" stroke="#33ff19" stroke-width="0.4"/><polygon points="256.3,134.5 258.3,134.4 258.1,131.1 256.9,131.2" fill="#2bff15" stroke="#2bff15" stroke-width="0.4"/><polygon points="258.3,134.4 260.4,134.1 259.4,130.9 258.1,131.1" fill="#05fd02" stroke="#05fd02" stroke-width="0.4"/><polygon points="260.4,134.1 262.3,133.5 260.6,130.5 259.4,130.9" fill="#00e500" stroke="#00e500" stroke-width="0.4"/><polygon points="262.3,133.5 263.8,132.8 261.5,130.1 260.6,130.5" fill="#00d200" stroke="#00d200" stroke-width="0.4"/><polygon points="263.8,132.8 264.7,132 262.1,129.6 261.5,130.1" fill="#00cc00" stroke="#00cc00" stroke-width="0.4"/><polygon points="264.7,132 264.9,131.2 262.3,129.1 262.1,129.6" fill="#00cc00" stroke="#00cc00" stroke-width="0.4"/><polygon points="264.9,131.2 264.4,130.5 261.9,128.7 262.3,129.1" fill="#00cc00" stroke="#00cc00" stroke-width="0.4"/><polygon points="261.2,128.4 260.2,128.3 259,128.4 257.7,128.6 256.5,128.9 255.6,129.4 255,129.9 254.9,130.3 255.2,130.7 255.9,131 256.9,131.2 258.1,131.1 259.4,130.9 260.6,130.5 261.5,130.1 262.1,129.6 262.3,129.1 261.9,128.7" fill="#00fa00" stroke="#00fa00" stroke-width="0.4"/><polyline points="253,133.2 253.3,132.4 253.5,133.8 254.6,134.3 256.3,134.5 258.3,134.4 260.4,134.1 262.3,133.5 263.8,132.8 264.7,132" fill="none" stroke="#0a6a0a" stroke-width="0.8"/>
<polygon points="253,253.6 243.6,141.8 243.8,141 245.6,138.4 246.2,137.9 247.2,137.4 248.4,137.1 249.7,136.8 251,136.8 252.1,136.9 252.8,137.2 255.3,139.1 255.8,139.8 286.1,248.2 285.7,251.3 283.3,254.3 279.2,257 273.9,258.9 268,259.9 262.4,259.7 257.6,258.5 254.4,256.4" fill="#007000" stroke="#004a00" stroke-width="1.1"/><polygon points="253,253.6 255.3,249.1 255.2,236.5 243.6,141.8 244,142.5 256.1,238.2 256.4,251.3 254.4,256.4" fill="#00ff00" stroke="#00ff00" stroke-width="0.4"/><polygon points="254.4,256.4 256.4,251.3 256.1,238.2 244,142.5 245.2,143 258.3,239.6 259.1,253 257.6,258.5" fill="#00ff00" stroke="#00ff00" stroke-width="0.4"/><polygon points="257.6,258.5 259.1,253 258.3,239.6 245.2,143 246.9,143.3 261.5,240.4 262.9,254 262.4,259.7" fill="#01ff00" stroke="#01ff00" stroke-width="0.4"/><polygon points="262.4,259.7 262.9,254 261.5,240.4 246.9,143.3 248.9,143.2 265.3,240.4 267.5,254.1 268,259.9" fill="#01fb00" stroke="#01fb00" stroke-width="0.4"/><polygon points="268,259.9 267.5,254.1 265.3,240.4 248.9,143.2 251.1,142.9 269.3,239.8 272.3,253.3 273.9,258.9" fill="#00e700" stroke="#00e700" stroke-width="0.4"/><polygon points="273.9,258.9 272.3,253.3 269.3,239.8 251.1,142.9 253.1,142.2 272.9,238.5 276.6,251.7 279.2,257" fill="#00d000" stroke="#00d000" stroke-width="0.4"/><polygon points="279.2,257 276.6,251.7 272.9,238.5 253.1,142.2 254.6,141.5 275.7,236.8 280,249.6 283.3,254.3" fill="#00cc00" stroke="#00cc00" stroke-width="0.4"/><polygon points="283.3,254.3 280,249.6 275.7,236.8 254.6,141.5 255.6,140.6 277.4,234.8 281.9,247.1 285.7,251.3" fill="#00cc00" stroke="#00cc00" stroke-width="0.4"/><polygon points="285.7,251.3 281.9,247.1 277.4,234.8 255.6,140.6 255.8,139.8 277.7,232.8 282.3,244.7 286.1,248.2" fill="#00cc00" stroke="#00cc00" stroke-width="0.4"/><polygon points="243.8,141 243.6,141.8 245.5,138.9 245.6,138.4" fill="#00ff00" stroke="#00ff00" stroke-width="0.4"/><polygon points="243.6,141.8 244,142.5 245.7,139.4 245.5,138.9" fill="#00ff00" stroke="#00ff00" stroke-width="0.4"/><polygon points="244,142.5 245.2,143 246.5,139.7 245.7,139.4" fill="#09ff04" stroke="#09ff04" stroke-width="0.4"/><polygon points="245.2,143 246.9,143.3 247.5,139.8 246.5,139.7" fill="#32ff19" stroke="#32ff19" stroke-width="0.4"/><polygon points="246.9,143.3 248.9,143.2 248.8,139.8 247.5,139.8" fill="#2cff16" stroke="#2cff16" stroke-width="0.4"/><polygon points="248.9,143.2 251.1,142.9 250.1,139.5 248.8,139.8" fill="#06fd03" stroke="#06fd03" stroke-width="0.4"/><polygon points="251.1,142.9 253.1,142.2 251.3,139.2 250.1,139.5" fill="#00e500" stroke="#00e500" stroke-width="0.4"/><polygon points="253.1,142.2 254.6,141.5 252.3,138.7 251.3,139.2" fill="#00d200" stroke="#00d200" stroke-width="0.4"/><polygon points="254.6,141.5 255.6,140.6 252.9,138.2 252.3,138.7" fill="#00cc00" stroke="#00cc00" stroke-width="0.4"/><polygon points="255.6,140.6 255.8,139.8 253.1,137.7 252.9,138.2" fill="#00cc00" stroke="#00cc00" stroke-width="0.4"/><polygon points="255.8,139.8 255.3,139.1 252.8,137.2 253.1,137.7" fill="#00cc00" stroke="#00cc00" stroke-width="0.4"/><polygon points="252.1,136.9 251,136.8 249.7,136.8 248.4,137.1 247.2,137.4 246.2,137.9 245.6,138.4 245.5,138.9 245.7,139.4 246.5,139.7 247.5,139.8 248.8,139.8 250.1,139.5 251.3,139.2 252.3,138.7 252.9,138.2 253.1,137.7 252.8,137.2" fill="#00fa00" stroke="#00fa00" stroke-width="0.4"/><polyline points="243.6,141.8 243.8,141 244,142.5 245.2,143 246.9,143.3 248.9,143.2 251.1,142.9 253.1,142.2 254.6,141.5 255.6,140.6" fill="none" stroke="#0a6a0a" stroke-width="0.8"/>
<line x1="109.9" y1="116.9" x2="247.9" y2="155.6" stroke="#222" stroke-width="0.9"/>
<line x1="247.9" y1="155.6" x2="407.3" y2="75.1" stroke="#222" stroke-width="0.9"/>
<line x1="109.9" y1="116.9" x2="144.6" y2="239.1" stroke="#111" stroke-width="1.4"/>
<line x1="407.3" y1="75.1" x2="417.6" y2="205.8" stroke="#666" stroke-width="0.9"/>
<line x1="247.9" y1="155.6" x2="275.5" y2="304.3" stroke="#333" stroke-width="0.9"/>
<line x1="144.6" y1="239.1" x2="275.5" y2="304.3" stroke="#111" stroke-width="1.4"/>
<line x1="275.5" y1="304.3" x2="417.6" y2="205.8" stroke="#333" stroke-width="1.0"/>
<text x="75.6" y="129" font-size="10.2" font-style="italic" font-weight="bold" style="font-family:'Liberation Serif', serif">-0.0750</text>
<text x="107.6" y="245.4" font-size="10.2" font-style="italic" font-weight="bold" style="font-family:'Liberation Serif', serif">0.875</text>
<text x="125.6" y="256.3" font-size="10.2" font-style="italic" font-weight="bold" style="font-family:'Liberation Serif', serif">0.665</text>
<text x="252.4" y="318.8" font-size="10.2" font-style="italic" font-weight="bold" style="font-family:'Liberation Serif', serif">-0.665</text>
<text x="277" y="318.8" font-size="10.2" font-style="italic" font-weight="bold" style="font-family:'Liberation Serif', serif">0.665</text>
<text x="411.4" y="222.2" font-size="10.2" font-style="italic" font-weight="bold" style="font-family:'Liberation Serif', serif">-0.665</text>
<text x="79.6" y="197.7" font-size="12.2" font-style="italic" font-weight="bold" style="font-family:'Liberation Sans', sans-serif">Z</text>
<text x="192.4" y="305.9" font-size="12.4" font-style="italic" font-weight="bold" style="font-family:'Liberation Sans', sans-serif">Y</text>
<g transform="translate(359.4 288.9) scale(1.25 1)"><text x="0" y="0" font-size="12.4" font-style="italic" font-weight="bold" style="font-family:'Liberation Sans', sans-serif">X</text></g>
<text x="40" y="51.3" font-size="29.4" font-weight="normal" text-anchor="start" transform="translate(40 0) scale(1.09 1) translate(-40 0)">(a)</text>
<text x="526" y="51.3" font-size="29.4" font-weight="normal" text-anchor="start" transform="translate(526 0) scale(1.09 1) translate(-526 0)">(b)</text>
<text x="40" y="321.3" font-size="29.4" font-weight="normal" text-anchor="start" transform="translate(40 0) scale(1.09 1) translate(-40 0)">(c)</text>
<text x="526" y="321.3" font-size="29.4" font-weight="normal" text-anchor="start" transform="translate(526 0) scale(1.09 1) translate(-526 0)">(d)</text>
<clipPath id="clipb"><rect x="632.8" y="35.1" width="361.8" height="257"/></clipPath>
<g clip-path="url(#clipb)">
<polyline points="716.6,144.56 720.3,143.08 724,141.59 727.7,140.01 731.4,138.54 735.1,137.36 738.8,136.34 742.5,135.58 746.2,135.05 749.9,134.63 753.6,134.51 757.3,134.99 761,135.8 764.7,137.26 768.4,138.78 772.1,138.91 775.8,138.4 779.5,137.62 783.2,136.16 786.9,133.82 790.6,131.71 794.3,129.9 798,128.3 801.7,127.05 805.4,125.9 809.1,125.23 812.8,125.2 816.5,125.2 820.2,125.2 823.9,126 827.6,127.07 831.3,127.11 835,126.67 838.7,125.14 842.4,122.04 846.1,119.43 849.8,116.85 853.5,114.37 857.2,111.95 860.9,109.66 864.6,107.71 868.3,106.12 872,104.5 875.7,102.48 879.4,100.18 883.1,97.92 886.8,95.72 890.5,93.44 894.2,90.96 897.9,88.2 901.6,85.33 905.3,82.53 909,79.82 912.7,77.08 916.4,74.2 920.1,71.13 923.8,67.97 927.5,64.82 931.2,61.61 934.9,58.44 938.6,55.56 942.3,53.01 946,50.63 949.7,48.31 953.4,46.06" fill="none" stroke="#ff0000" stroke-width="3"/>
<rect x="712.5" y="140.46" width="8.2" height="8.2" fill="#ff0000"/>
<rect x="716.2" y="138.98" width="8.2" height="8.2" fill="#ff0000"/>
<rect x="719.9" y="137.49" width="8.2" height="8.2" fill="#ff0000"/>
<rect x="723.6" y="135.91" width="8.2" height="8.2" fill="#ff0000"/>
<rect x="727.3" y="134.44" width="8.2" height="8.2" fill="#ff0000"/>
<rect x="731" y="133.26" width="8.2" height="8.2" fill="#ff0000"/>
<rect x="734.7" y="132.24" width="8.2" height="8.2" fill="#ff0000"/>
<rect x="738.4" y="131.48" width="8.2" height="8.2" fill="#ff0000"/>
<rect x="742.1" y="130.95" width="8.2" height="8.2" fill="#ff0000"/>
<rect x="745.8" y="130.53" width="8.2" height="8.2" fill="#ff0000"/>
<rect x="749.5" y="130.41" width="8.2" height="8.2" fill="#ff0000"/>
<rect x="753.2" y="130.89" width="8.2" height="8.2" fill="#ff0000"/>
<rect x="756.9" y="131.7" width="8.2" height="8.2" fill="#ff0000"/>
<rect x="760.6" y="133.16" width="8.2" height="8.2" fill="#ff0000"/>
<rect x="764.3" y="134.68" width="8.2" height="8.2" fill="#ff0000"/>
<rect x="768" y="134.81" width="8.2" height="8.2" fill="#ff0000"/>
<rect x="771.7" y="134.3" width="8.2" height="8.2" fill="#ff0000"/>
<rect x="775.4" y="133.52" width="8.2" height="8.2" fill="#ff0000"/>
<rect x="779.1" y="132.06" width="8.2" height="8.2" fill="#ff0000"/>
<rect x="782.8" y="129.72" width="8.2" height="8.2" fill="#ff0000"/>
<rect x="786.5" y="127.61" width="8.2" height="8.2" fill="#ff0000"/>
<rect x="790.2" y="125.8" width="8.2" height="8.2" fill="#ff0000"/>
<rect x="793.9" y="124.2" width="8.2" height="8.2" fill="#ff0000"/>
<rect x="797.6" y="122.95" width="8.2" height="8.2" fill="#ff0000"/>
<rect x="801.3" y="121.8" width="8.2" height="8.2" fill="#ff0000"/>
<rect x="805" y="121.13" width="8.2" height="8.2" fill="#ff0000"/>
<rect x="808.7" y="121.1" width="8.2" height="8.2" fill="#ff0000"/>
<rect x="812.4" y="121.1" width="8.2" height="8.2" fill="#ff0000"/>
<rect x="816.1" y="121.1" width="8.2" height="8.2" fill="#ff0000"/>
<rect x="819.8" y="121.9" width="8.2" height="8.2" fill="#ff0000"/>
<rect x="823.5" y="122.97" width="8.2" height="8.2" fill="#ff0000"/>
<rect x="827.2" y="123.01" width="8.2" height="8.2" fill="#ff0000"/>
<rect x="830.9" y="122.57" width="8.2" height="8.2" fill="#ff0000"/>
<rect x="834.6" y="121.04" width="8.2" height="8.2" fill="#ff0000"/>
<rect x="838.3" y="117.94" width="8.2" height="8.2" fill="#ff0000"/>
<rect x="842" y="115.33" width="8.2" height="8.2" fill="#ff0000"/>
<rect x="845.7" y="112.75" width="8.2" height="8.2" fill="#ff0000"/>
<rect x="849.4" y="110.27" width="8.2" height="8.2" fill="#ff0000"/>
<rect x="853.1" y="107.85" width="8.2" height="8.2" fill="#ff0000"/>
<rect x="856.8" y="105.56" width="8.2" height="8.2" fill="#ff0000"/>
<rect x="860.5" y="103.61" width="8.2" height="8.2" fill="#ff0000"/>
<rect x="864.2" y="102.02" width="8.2" height="8.2" fill="#ff0000"/>
<rect x="867.9" y="100.4" width="8.2" height="8.2" fill="#ff0000"/>
<rect x="871.6" y="98.38" width="8.2" height="8.2" fill="#ff0000"/>
<rect x="875.3" y="96.08" width="8.2" height="8.2" fill="#ff0000"/>
<rect x="879" y="93.82" width="8.2" height="8.2" fill="#ff0000"/>
<rect x="882.7" y="91.62" width="8.2" height="8.2" fill="#ff0000"/>
<rect x="886.4" y="89.34" width="8.2" height="8.2" fill="#ff0000"/>
<rect x="890.1" y="86.86" width="8.2" height="8.2" fill="#ff0000"/>
<rect x="893.8" y="84.1" width="8.2" height="8.2" fill="#ff0000"/>
<rect x="897.5" y="81.23" width="8.2" height="8.2" fill="#ff0000"/>
<rect x="901.2" y="78.43" width="8.2" height="8.2" fill="#ff0000"/>
<rect x="904.9" y="75.72" width="8.2" height="8.2" fill="#ff0000"/>
<rect x="908.6" y="72.98" width="8.2" height="8.2" fill="#ff0000"/>
<rect x="912.3" y="70.1" width="8.2" height="8.2" fill="#ff0000"/>
<rect x="916" y="67.03" width="8.2" height="8.2" fill="#ff0000"/>
<rect x="919.7" y="63.87" width="8.2" height="8.2" fill="#ff0000"/>
<rect x="923.4" y="60.72" width="8.2" height="8.2" fill="#ff0000"/>
<rect x="927.1" y="57.51" width="8.2" height="8.2" fill="#ff0000"/>
<rect x="930.8" y="54.34" width="8.2" height="8.2" fill="#ff0000"/>
<rect x="934.5" y="51.46" width="8.2" height="8.2" fill="#ff0000"/>
<rect x="938.2" y="48.91" width="8.2" height="8.2" fill="#ff0000"/>
<rect x="941.9" y="46.53" width="8.2" height="8.2" fill="#ff0000"/>
<rect x="945.6" y="44.21" width="8.2" height="8.2" fill="#ff0000"/>
<rect x="949.3" y="41.96" width="8.2" height="8.2" fill="#ff0000"/>
<mask id="sb" maskUnits="userSpaceOnUse" x="0" y="0" width="1024" height="706"><rect width="1024" height="706" fill="#fff"/><circle cx="642.46" cy="149.27" r="5.3" fill="#000"/><circle cx="652.53" cy="148.81" r="5.3" fill="#000"/><circle cx="662.59" cy="148.39" r="5.3" fill="#000"/><circle cx="672.66" cy="147.98" r="5.3" fill="#000"/><circle cx="682.72" cy="147.57" r="5.3" fill="#000"/><circle cx="692.78" cy="147.07" r="5.3" fill="#000"/><circle cx="702.85" cy="146.48" r="5.3" fill="#000"/><circle cx="712.91" cy="146.07" r="5.3" fill="#000"/><circle cx="722.98" cy="145.08" r="5.3" fill="#000"/><circle cx="733.04" cy="144.01" r="5.3" fill="#000"/><circle cx="743.1" cy="143.09" r="5.3" fill="#000"/><circle cx="753.17" cy="142.28" r="5.3" fill="#000"/><circle cx="763.23" cy="139.56" r="5.3" fill="#000"/><circle cx="773.29" cy="137.92" r="5.3" fill="#000"/><circle cx="783.36" cy="135.48" r="5.3" fill="#000"/><circle cx="793.42" cy="132.02" r="5.3" fill="#000"/><circle cx="803.49" cy="128.48" r="5.3" fill="#000"/><circle cx="813.55" cy="125.55" r="5.3" fill="#000"/><circle cx="823.61" cy="121.88" r="5.3" fill="#000"/><circle cx="833.68" cy="117.8" r="5.3" fill="#000"/><circle cx="843.74" cy="113.4" r="5.3" fill="#000"/><circle cx="853.81" cy="108.53" r="5.3" fill="#000"/><circle cx="863.87" cy="103.97" r="5.3" fill="#000"/><circle cx="873.93" cy="98.7" r="5.3" fill="#000"/><circle cx="884" cy="94.1" r="5.3" fill="#000"/><circle cx="894.06" cy="88.49" r="5.3" fill="#000"/><circle cx="904.12" cy="83.23" r="5.3" fill="#000"/><circle cx="914.19" cy="78.05" r="5.3" fill="#000"/><circle cx="924.25" cy="72.81" r="5.3" fill="#000"/><circle cx="934.32" cy="67.41" r="5.3" fill="#000"/><circle cx="944.38" cy="61.74" r="5.3" fill="#000"/><circle cx="954.44" cy="56.76" r="5.3" fill="#000"/><circle cx="964.51" cy="51.05" r="5.3" fill="#000"/><circle cx="974.57" cy="45.19" r="5.3" fill="#000"/><circle cx="984.64" cy="40.3" r="5.3" fill="#000"/></mask>
<polyline mask="url(#sb)" points="633.5,149.7 634.97,149.63 636.44,149.56 637.9,149.48 639.37,149.41 640.84,149.34 642.31,149.27 643.77,149.2 645.24,149.14 646.71,149.07 648.18,149 649.65,148.94 651.11,148.87 652.58,148.81 654.05,148.74 655.52,148.68 656.98,148.62 658.45,148.56 659.92,148.5 661.39,148.44 662.86,148.38 664.32,148.32 665.79,148.26 667.26,148.2 668.73,148.14 670.19,148.08 671.66,148.02 673.13,147.96 674.6,147.9 676.07,147.85 677.53,147.79 679,147.73 680.47,147.67 681.94,147.61 683.4,147.54 684.87,147.47 686.34,147.4 687.81,147.33 689.28,147.26 690.74,147.18 692.21,147.1 693.68,147.02 695.15,146.93 696.61,146.84 698.08,146.75 699.55,146.66 701.02,146.58 702.49,146.5 703.95,146.44 705.42,146.38 706.89,146.33 708.36,146.28 709.82,146.22 711.29,146.16 712.76,146.08 714.23,145.97 715.7,145.85 717.16,145.7 718.63,145.55 720.1,145.39 721.57,145.23 723.03,145.08 724.5,144.92 725.97,144.76 727.44,144.6 728.91,144.44 730.37,144.28 731.84,144.13 733.31,143.98 734.78,143.84 736.24,143.7 737.71,143.56 739.18,143.43 740.65,143.3 742.12,143.18 743.58,143.05 745.05,142.94 746.52,142.85 747.99,142.75 749.45,142.64 750.92,142.52 752.39,142.37 753.86,142.17 755.33,141.86 756.79,141.45 758.26,141 759.73,140.53 761.2,140.08 762.66,139.68 764.13,139.38 765.6,139.12 767.07,138.89 768.54,138.68 770,138.47 771.47,138.24 772.94,137.99 774.41,137.7 775.87,137.39 777.34,137.05 778.81,136.7 780.28,136.32 781.75,135.93 783.21,135.52 784.68,135.09 786.15,134.61 787.62,134.1 789.08,133.58 790.55,133.05 792.02,132.52 793.49,132 794.96,131.48 796.42,130.94 797.89,130.41 799.36,129.88 800.83,129.36 802.29,128.86 803.76,128.39 805.23,127.95 806.7,127.54 808.17,127.13 809.63,126.72 811.1,126.3 812.57,125.86 814.04,125.39 815.51,124.89 816.97,124.37 818.44,123.84 819.91,123.29 821.38,122.74 822.84,122.17 824.31,121.61 825.78,121.03 827.25,120.45 828.72,119.86 830.18,119.25 831.65,118.65 833.12,118.03 834.59,117.42 836.05,116.8 837.52,116.17 838.99,115.53 840.46,114.89 841.93,114.23 843.39,113.57 844.86,112.87 846.33,112.16 847.8,111.44 849.26,110.71 850.73,109.99 852.2,109.28 853.67,108.59 855.14,107.93 856.6,107.28 858.07,106.63 859.54,105.98 861.01,105.32 862.47,104.64 863.94,103.93 865.41,103.18 866.88,102.4 868.35,101.6 869.81,100.81 871.28,100.03 872.75,99.27 874.22,98.56 875.68,97.89 877.15,97.24 878.62,96.6 880.09,95.95 881.56,95.29 883.02,94.59 884.49,93.84 885.96,93.05 887.43,92.23 888.89,91.39 890.36,90.54 891.83,89.71 893.3,88.9 894.77,88.11 896.23,87.34 897.7,86.57 899.17,85.8 900.64,85.04 902.1,84.28 903.57,83.51 905.04,82.75 906.51,82 907.98,81.24 909.44,80.49 910.91,79.74 912.38,78.98 913.85,78.23 915.31,77.47 916.78,76.71 918.25,75.95 919.72,75.19 921.19,74.42 922.65,73.66 924.12,72.88 925.59,72.11 927.06,71.33 928.52,70.55 929.99,69.77 931.46,68.98 932.93,68.18 934.4,67.37 935.86,66.54 937.33,65.7 938.8,64.84 940.27,64 941.73,63.17 943.2,62.37 944.67,61.6 946.14,60.86 947.61,60.15 949.07,59.44 950.54,58.74 952.01,58.02 953.48,57.27 954.94,56.5 956.41,55.69 957.88,54.87 959.35,54.03 960.82,53.18 962.28,52.33 963.75,51.49 965.22,50.63 966.69,49.76 968.15,48.88 969.62,48.01 971.09,47.14 972.56,46.3 974.03,45.49 975.49,44.7 976.96,43.93 978.43,43.17 979.9,42.43 981.36,41.7 982.83,40.99 984.3,40.3" fill="none" stroke="#ff0000" stroke-width="2.4"/>
<rect x="639.56" y="146.37" width="5.8" height="5.8" fill="#fff" stroke="#ff0000" stroke-width="2.2"/>
<rect x="649.63" y="145.91" width="5.8" height="5.8" fill="#fff" stroke="#ff0000" stroke-width="2.2"/>
<rect x="659.69" y="145.49" width="5.8" height="5.8" fill="#fff" stroke="#ff0000" stroke-width="2.2"/>
<rect x="669.76" y="145.08" width="5.8" height="5.8" fill="#fff" stroke="#ff0000" stroke-width="2.2"/>
<rect x="679.82" y="144.67" width="5.8" height="5.8" fill="#fff" stroke="#ff0000" stroke-width="2.2"/>
<rect x="689.88" y="144.17" width="5.8" height="5.8" fill="#fff" stroke="#ff0000" stroke-width="2.2"/>
<rect x="699.95" y="143.58" width="5.8" height="5.8" fill="#fff" stroke="#ff0000" stroke-width="2.2"/>
<rect x="710.01" y="143.17" width="5.8" height="5.8" fill="#fff" stroke="#ff0000" stroke-width="2.2"/>
<rect x="720.08" y="142.18" width="5.8" height="5.8" fill="#fff" stroke="#ff0000" stroke-width="2.2"/>
<rect x="730.14" y="141.11" width="5.8" height="5.8" fill="#fff" stroke="#ff0000" stroke-width="2.2"/>
<rect x="740.2" y="140.19" width="5.8" height="5.8" fill="#fff" stroke="#ff0000" stroke-width="2.2"/>
<rect x="750.27" y="139.38" width="5.8" height="5.8" fill="#fff" stroke="#ff0000" stroke-width="2.2"/>
<rect x="760.33" y="136.66" width="5.8" height="5.8" fill="#fff" stroke="#ff0000" stroke-width="2.2"/>
<rect x="770.39" y="135.02" width="5.8" height="5.8" fill="#fff" stroke="#ff0000" stroke-width="2.2"/>
<rect x="780.46" y="132.58" width="5.8" height="5.8" fill="#fff" stroke="#ff0000" stroke-width="2.2"/>
<rect x="790.52" y="129.12" width="5.8" height="5.8" fill="#fff" stroke="#ff0000" stroke-width="2.2"/>
<rect x="800.59" y="125.58" width="5.8" height="5.8" fill="#fff" stroke="#ff0000" stroke-width="2.2"/>
<rect x="810.65" y="122.65" width="5.8" height="5.8" fill="#fff" stroke="#ff0000" stroke-width="2.2"/>
<rect x="820.71" y="118.98" width="5.8" height="5.8" fill="#fff" stroke="#ff0000" stroke-width="2.2"/>
<rect x="830.78" y="114.9" width="5.8" height="5.8" fill="#fff" stroke="#ff0000" stroke-width="2.2"/>
<rect x="840.84" y="110.5" width="5.8" height="5.8" fill="#fff" stroke="#ff0000" stroke-width="2.2"/>
<rect x="850.91" y="105.63" width="5.8" height="5.8" fill="#fff" stroke="#ff0000" stroke-width="2.2"/>
<rect x="860.97" y="101.07" width="5.8" height="5.8" fill="#fff" stroke="#ff0000" stroke-width="2.2"/>
<rect x="871.03" y="95.8" width="5.8" height="5.8" fill="#fff" stroke="#ff0000" stroke-width="2.2"/>
<rect x="881.1" y="91.2" width="5.8" height="5.8" fill="#fff" stroke="#ff0000" stroke-width="2.2"/>
<rect x="891.16" y="85.59" width="5.8" height="5.8" fill="#fff" stroke="#ff0000" stroke-width="2.2"/>
<rect x="901.23" y="80.33" width="5.8" height="5.8" fill="#fff" stroke="#ff0000" stroke-width="2.2"/>
<rect x="911.29" y="75.15" width="5.8" height="5.8" fill="#fff" stroke="#ff0000" stroke-width="2.2"/>
<rect x="921.35" y="69.91" width="5.8" height="5.8" fill="#fff" stroke="#ff0000" stroke-width="2.2"/>
<rect x="931.42" y="64.51" width="5.8" height="5.8" fill="#fff" stroke="#ff0000" stroke-width="2.2"/>
<rect x="941.48" y="58.84" width="5.8" height="5.8" fill="#fff" stroke="#ff0000" stroke-width="2.2"/>
<rect x="951.54" y="53.86" width="5.8" height="5.8" fill="#fff" stroke="#ff0000" stroke-width="2.2"/>
<rect x="961.61" y="48.15" width="5.8" height="5.8" fill="#fff" stroke="#ff0000" stroke-width="2.2"/>
<rect x="971.67" y="42.29" width="5.8" height="5.8" fill="#fff" stroke="#ff0000" stroke-width="2.2"/>
<rect x="981.74" y="37.4" width="5.8" height="5.8" fill="#fff" stroke="#ff0000" stroke-width="2.2"/>
<polyline points="716.6,180.32 720.3,179.84 724,179.35 727.7,178.87 731.4,178.35 735.1,177.72 738.8,177.17 742.5,176.9 746.2,176.91 749.9,176.95 753.6,177.05 757.3,178.51 761,180.52 764.7,182.7 768.4,185.03 772.1,187.34 775.8,189.83 779.5,191.58 783.2,192.33 786.9,192.84 790.6,192.99 794.3,192.8 798,192.55 801.7,192.51 805.4,192.56 809.1,192.67 812.8,193.14 816.5,194.44 820.2,196.01 823.9,198.13 827.6,200.54 831.3,202.68 835,204.78 838.7,206.42 842.4,207.45 846.1,208.24 849.8,208.48 853.5,207.51 857.2,205.66 860.9,203.42 864.6,200.09 868.3,196.23 872,192.35 875.7,188.12 879.4,183.22 883.1,176.83 886.8,170.99 890.5,165.57 894.2,160.5 897.9,155.77 901.6,151.31 905.3,146.98 909,142.69 912.7,138.43 916.4,134.25 920.1,130.14 923.8,126.08 927.5,122.07 931.2,118.12 934.9,114.25 938.6,110.45 942.3,106.65 946,102.95 949.7,99.48 953.4,96.36" fill="none" stroke="#0000ff" stroke-width="3"/>
<path d="M716.6 175.54L721.55 184.24L711.65 184.24Z" fill="#0000ff"/>
<path d="M720.3 175.05L725.25 183.75L715.35 183.75Z" fill="#0000ff"/>
<path d="M724 174.57L728.95 183.27L719.05 183.27Z" fill="#0000ff"/>
<path d="M727.7 174.08L732.65 182.78L722.75 182.78Z" fill="#0000ff"/>
<path d="M731.4 173.56L736.35 182.26L726.45 182.26Z" fill="#0000ff"/>
<path d="M735.1 172.94L740.05 181.64L730.15 181.64Z" fill="#0000ff"/>
<path d="M738.8 172.39L743.75 181.09L733.85 181.09Z" fill="#0000ff"/>
<path d="M742.5 172.12L747.45 180.82L737.55 180.82Z" fill="#0000ff"/>
<path d="M746.2 172.12L751.15 180.82L741.25 180.82Z" fill="#0000ff"/>
<path d="M749.9 172.16L754.85 180.86L744.95 180.86Z" fill="#0000ff"/>
<path d="M753.6 172.26L758.55 180.96L748.65 180.96Z" fill="#0000ff"/>
<path d="M757.3 173.73L762.25 182.43L752.35 182.43Z" fill="#0000ff"/>
<path d="M761 175.73L765.95 184.43L756.05 184.43Z" fill="#0000ff"/>
<path d="M764.7 177.91L769.65 186.61L759.75 186.61Z" fill="#0000ff"/>
<path d="M768.4 180.25L773.35 188.95L763.45 188.95Z" fill="#0000ff"/>
<path d="M772.1 182.56L777.05 191.26L767.15 191.26Z" fill="#0000ff"/>
<path d="M775.8 185.04L780.75 193.74L770.85 193.74Z" fill="#0000ff"/>
<path d="M779.5 186.79L784.45 195.49L774.55 195.49Z" fill="#0000ff"/>
<path d="M783.2 187.54L788.15 196.24L778.25 196.24Z" fill="#0000ff"/>
<path d="M786.9 188.06L791.85 196.76L781.95 196.76Z" fill="#0000ff"/>
<path d="M790.6 188.21L795.55 196.91L785.65 196.91Z" fill="#0000ff"/>
<path d="M794.3 188.02L799.25 196.72L789.35 196.72Z" fill="#0000ff"/>
<path d="M798 187.77L802.95 196.47L793.05 196.47Z" fill="#0000ff"/>
<path d="M801.7 187.72L806.65 196.42L796.75 196.42Z" fill="#0000ff"/>
<path d="M805.4 187.78L810.35 196.48L800.45 196.48Z" fill="#0000ff"/>
<path d="M809.1 187.88L814.05 196.58L804.15 196.58Z" fill="#0000ff"/>
<path d="M812.8 188.36L817.75 197.06L807.85 197.06Z" fill="#0000ff"/>
<path d="M816.5 189.65L821.45 198.35L811.55 198.35Z" fill="#0000ff"/>
<path d="M820.2 191.22L825.15 199.92L815.25 199.92Z" fill="#0000ff"/>
<path d="M823.9 193.34L828.85 202.04L818.95 202.04Z" fill="#0000ff"/>
<path d="M827.6 195.75L832.55 204.45L822.65 204.45Z" fill="#0000ff"/>
<path d="M831.3 197.89L836.25 206.59L826.35 206.59Z" fill="#0000ff"/>
<path d="M835 200L839.95 208.7L830.05 208.7Z" fill="#0000ff"/>
<path d="M838.7 201.63L843.65 210.33L833.75 210.33Z" fill="#0000ff"/>
<path d="M842.4 202.66L847.35 211.36L837.45 211.36Z" fill="#0000ff"/>
<path d="M846.1 203.46L851.05 212.16L841.15 212.16Z" fill="#0000ff"/>
<path d="M849.8 203.69L854.75 212.39L844.85 212.39Z" fill="#0000ff"/>
<path d="M853.5 202.73L858.45 211.43L848.55 211.43Z" fill="#0000ff"/>
<path d="M857.2 200.88L862.15 209.58L852.25 209.58Z" fill="#0000ff"/>
<path d="M860.9 198.63L865.85 207.33L855.95 207.33Z" fill="#0000ff"/>
<path d="M864.6 195.31L869.55 204.01L859.65 204.01Z" fill="#0000ff"/>
<path d="M868.3 191.44L873.25 200.14L863.35 200.14Z" fill="#0000ff"/>
<path d="M872 187.56L876.95 196.26L867.05 196.26Z" fill="#0000ff"/>
<path d="M875.7 183.34L880.65 192.04L870.75 192.04Z" fill="#0000ff"/>
<path d="M879.4 178.43L884.35 187.13L874.45 187.13Z" fill="#0000ff"/>
<path d="M883.1 172.05L888.05 180.75L878.15 180.75Z" fill="#0000ff"/>
<path d="M886.8 166.2L891.75 174.9L881.85 174.9Z" fill="#0000ff"/>
<path d="M890.5 160.79L895.45 169.49L885.55 169.49Z" fill="#0000ff"/>
<path d="M894.2 155.71L899.15 164.41L889.25 164.41Z" fill="#0000ff"/>
<path d="M897.9 150.99L902.85 159.69L892.95 159.69Z" fill="#0000ff"/>
<path d="M901.6 146.52L906.55 155.22L896.65 155.22Z" fill="#0000ff"/>
<path d="M905.3 142.2L910.25 150.9L900.35 150.9Z" fill="#0000ff"/>
<path d="M909 137.9L913.95 146.6L904.05 146.6Z" fill="#0000ff"/>
<path d="M912.7 133.65L917.65 142.35L907.75 142.35Z" fill="#0000ff"/>
<path d="M916.4 129.47L921.35 138.17L911.45 138.17Z" fill="#0000ff"/>
<path d="M920.1 125.35L925.05 134.05L915.15 134.05Z" fill="#0000ff"/>
<path d="M923.8 121.29L928.75 129.99L918.85 129.99Z" fill="#0000ff"/>
<path d="M927.5 117.29L932.45 125.99L922.55 125.99Z" fill="#0000ff"/>
<path d="M931.2 113.34L936.15 122.04L926.25 122.04Z" fill="#0000ff"/>
<path d="M934.9 109.46L939.85 118.16L929.95 118.16Z" fill="#0000ff"/>
<path d="M938.6 105.66L943.55 114.36L933.65 114.36Z" fill="#0000ff"/>
<path d="M942.3 101.86L947.25 110.56L937.35 110.56Z" fill="#0000ff"/>
<path d="M946 98.17L950.95 106.87L941.05 106.87Z" fill="#0000ff"/>
<path d="M949.7 94.69L954.65 103.39L944.75 103.39Z" fill="#0000ff"/>
<path d="M953.4 91.57L958.35 100.27L948.45 100.27Z" fill="#0000ff"/>
<mask id="mb" maskUnits="userSpaceOnUse" x="0" y="0" width="1024" height="706"><rect width="1024" height="706" fill="#fff"/><circle cx="632.4" cy="167.4" r="6.2" fill="#000"/><circle cx="642.46" cy="167.5" r="6.2" fill="#000"/><circle cx="652.53" cy="167.79" r="6.2" fill="#000"/><circle cx="662.59" cy="168.42" r="6.2" fill="#000"/><circle cx="672.66" cy="169.56" r="6.2" fill="#000"/><circle cx="682.72" cy="171" r="6.2" fill="#000"/><circle cx="692.78" cy="172.68" r="6.2" fill="#000"/><circle cx="702.85" cy="174.48" r="6.2" fill="#000"/><circle cx="712.91" cy="177.47" r="6.2" fill="#000"/><circle cx="722.98" cy="181.27" r="6.2" fill="#000"/><circle cx="733.04" cy="185.47" r="6.2" fill="#000"/><circle cx="743.1" cy="190.35" r="6.2" fill="#000"/><circle cx="753.17" cy="195.98" r="6.2" fill="#000"/><circle cx="763.23" cy="203.02" r="6.2" fill="#000"/><circle cx="773.29" cy="212.19" r="6.2" fill="#000"/><circle cx="783.36" cy="223.15" r="6.2" fill="#000"/><circle cx="793.42" cy="236" r="6.2" fill="#000"/><circle cx="803.49" cy="251.74" r="6.2" fill="#000"/><circle cx="813.55" cy="275.85" r="6.2" fill="#000"/><circle cx="853.81" cy="257.5" r="6.2" fill="#000"/><circle cx="863.87" cy="226.29" r="6.2" fill="#000"/><circle cx="873.93" cy="202.1" r="6.2" fill="#000"/><circle cx="884" cy="184.21" r="6.2" fill="#000"/><circle cx="894.06" cy="165.17" r="6.2" fill="#000"/><circle cx="904.12" cy="147.55" r="6.2" fill="#000"/><circle cx="914.19" cy="133.13" r="6.2" fill="#000"/><circle cx="924.25" cy="119.17" r="6.2" fill="#000"/><circle cx="934.32" cy="105.65" r="6.2" fill="#000"/><circle cx="944.38" cy="93.8" r="6.2" fill="#000"/><circle cx="954.44" cy="81.71" r="6.2" fill="#000"/><circle cx="964.51" cy="69.83" r="6.2" fill="#000"/><circle cx="974.57" cy="58.6" r="6.2" fill="#000"/><circle cx="984.64" cy="46.3" r="6.2" fill="#000"/></mask>
<polyline mask="url(#mb)" points="633.5,167.4 634.12,167.4 634.74,167.4 635.37,167.41 635.99,167.41 636.61,167.42 637.23,167.42 637.85,167.43 638.48,167.44 639.1,167.45 639.72,167.45 640.34,167.46 640.96,167.47 641.59,167.48 642.21,167.49 642.83,167.5 643.45,167.51 644.08,167.53 644.7,167.54 645.32,167.55 645.94,167.57 646.56,167.59 647.19,167.6 647.81,167.62 648.43,167.64 649.05,167.66 649.67,167.68 650.3,167.71 650.92,167.73 651.54,167.75 652.16,167.78 652.78,167.8 653.41,167.83 654.03,167.86 654.65,167.89 655.27,167.92 655.89,167.96 656.52,167.99 657.14,168.03 657.76,168.07 658.38,168.11 659.01,168.15 659.63,168.2 660.25,168.24 660.87,168.29 661.49,168.34 662.12,168.39 662.74,168.44 663.36,168.49 663.98,168.55 664.6,168.61 665.23,168.67 665.85,168.74 666.47,168.81 667.09,168.88 667.71,168.95 668.34,169.02 668.96,169.1 669.58,169.17 670.2,169.25 670.82,169.33 671.45,169.41 672.07,169.48 672.69,169.56 673.31,169.64 673.93,169.72 674.56,169.81 675.18,169.89 675.8,169.97 676.42,170.06 677.05,170.15 677.67,170.24 678.29,170.33 678.91,170.42 679.53,170.51 680.16,170.61 680.78,170.7 681.4,170.79 682.02,170.89 682.64,170.98 683.27,171.08 683.89,171.18 684.51,171.28 685.13,171.38 685.75,171.48 686.38,171.59 687,171.69 687.62,171.8 688.24,171.9 688.86,172.01 689.49,172.12 690.11,172.22 690.73,172.33 691.35,172.44 691.97,172.54 692.6,172.65 693.22,172.76 693.84,172.86 694.46,172.96 695.09,173.06 695.71,173.16 696.33,173.26 696.95,173.36 697.57,173.47 698.2,173.57 698.82,173.68 699.44,173.79 700.06,173.91 700.68,174.02 701.31,174.15 701.93,174.28 702.55,174.41 703.17,174.55 703.79,174.7 704.42,174.86 705.04,175.02 705.66,175.2 706.28,175.37 706.9,175.55 707.53,175.74 708.15,175.93 708.77,176.12 709.39,176.32 710.02,176.52 710.64,176.72 711.26,176.93 711.88,177.13 712.5,177.33 713.13,177.54 713.75,177.75 714.37,177.97 714.99,178.19 715.61,178.42 716.24,178.65 716.86,178.88 717.48,179.12 718.1,179.36 718.72,179.6 719.35,179.84 719.97,180.08 720.59,180.33 721.21,180.57 721.83,180.82 722.46,181.06 723.08,181.31 723.7,181.56 724.32,181.8 724.94,182.05 725.57,182.3 726.19,182.56 726.81,182.81 727.43,183.07 728.06,183.32 728.68,183.58 729.3,183.85 729.92,184.11 730.54,184.38 731.17,184.65 731.79,184.92 732.41,185.19 733.03,185.47 733.65,185.75 734.28,186.03 734.9,186.32 735.52,186.61 736.14,186.9 736.76,187.2 737.39,187.49 738.01,187.79 738.63,188.1 739.25,188.4 739.87,188.71 740.5,189.02 741.12,189.34 741.74,189.65 742.36,189.97 742.98,190.29 743.61,190.62 744.23,190.94 744.85,191.27 745.47,191.6 746.1,191.93 746.72,192.26 747.34,192.6 747.96,192.94 748.58,193.29 749.21,193.64 749.83,193.99 750.45,194.35 751.07,194.71 751.69,195.08 752.32,195.46 752.94,195.84 753.56,196.22 754.18,196.62 754.8,197.01 755.43,197.42 756.05,197.83 756.67,198.24 757.29,198.66 757.91,199.09 758.54,199.52 759.16,199.96 759.78,200.41 760.4,200.87 761.03,201.33 761.65,201.8 762.27,202.27 762.89,202.76 763.51,203.25 764.14,203.75 764.76,204.27 765.38,204.8 766,205.33 766.62,205.88 767.25,206.43 767.87,207 768.49,207.57 769.11,208.15 769.73,208.73 770.36,209.33 770.98,209.92 771.6,210.53 772.22,211.14 772.84,211.75 773.47,212.36 774.09,212.99 774.71,213.62 775.33,214.26 775.95,214.91 776.58,215.56 777.2,216.23 777.82,216.9 778.44,217.57 779.07,218.26 779.69,218.95 780.31,219.65 780.93,220.35 781.55,221.06 782.18,221.78 782.8,222.5 783.42,223.22 784.04,223.96 784.66,224.7 785.29,225.44 785.91,226.2 786.53,226.96 787.15,227.73 787.77,228.51 788.4,229.29 789.02,230.09 789.64,230.89 790.26,231.71 790.88,232.53 791.51,233.37 792.13,234.21 792.75,235.07 793.37,235.93 793.99,236.8 794.62,237.66 795.24,238.54 795.86,239.42 796.48,240.31 797.11,241.21 797.73,242.13 798.35,243.07 798.97,244.02 799.59,245 800.22,246 800.84,247.03 801.46,248.08 802.08,249.17 802.7,250.28 803.33,251.44 803.95,252.63 804.57,253.88 805.19,255.16 805.81,256.49 806.44,257.86 807.06,259.26 807.68,260.71 808.3,262.19 808.92,263.7 809.55,265.24 810.17,266.82 810.79,268.42 811.41,270.05 812.04,271.71 812.66,273.39 813.28,275.09 813.9,276.85 814.52,278.68 815.15,280.56 815.77,282.49 816.39,284.47 817.01,286.51 817.63,288.58 818.26,290.69 818.88,292.83 819.5,295" fill="none" stroke="#0000ff" stroke-width="3.6"/>
<polyline mask="url(#mb)" points="842.5,300 842.97,298.06 843.45,296.13 843.92,294.22 844.4,292.32 844.87,290.43 845.35,288.56 845.82,286.7 846.29,284.86 846.77,283.02 847.24,281.21 847.72,279.4 848.19,277.61 848.67,275.84 849.14,274.07 849.61,272.33 850.09,270.59 850.56,268.87 851.04,267.17 851.51,265.48 851.98,263.8 852.46,262.14 852.93,260.49 853.41,258.86 853.88,257.24 854.36,255.63 854.83,254.03 855.3,252.44 855.78,250.86 856.25,249.29 856.73,247.74 857.2,246.2 857.68,244.67 858.15,243.16 858.62,241.66 859.1,240.18 859.57,238.71 860.05,237.27 860.52,235.83 861,234.42 861.47,233.03 861.94,231.66 862.42,230.31 862.89,228.97 863.37,227.66 863.84,226.36 864.32,225.08 864.79,223.8 865.26,222.53 865.74,221.28 866.21,220.04 866.69,218.81 867.16,217.6 867.64,216.4 868.11,215.22 868.58,214.05 869.06,212.89 869.53,211.76 870.01,210.64 870.48,209.54 870.95,208.45 871.43,207.39 871.9,206.34 872.38,205.32 872.85,204.31 873.33,203.33 873.8,202.36 874.27,201.43 874.75,200.51 875.22,199.61 875.7,198.73 876.17,197.86 876.65,197.01 877.12,196.17 877.59,195.34 878.07,194.51 878.54,193.7 879.02,192.89 879.49,192.08 879.97,191.27 880.44,190.46 880.91,189.65 881.39,188.84 881.86,188.02 882.34,187.19 882.81,186.35 883.29,185.5 883.76,184.64 884.23,183.77 884.71,182.88 885.18,181.99 885.66,181.1 886.13,180.2 886.61,179.3 887.08,178.39 887.55,177.48 888.03,176.57 888.5,175.66 888.98,174.75 889.45,173.84 889.92,172.93 890.4,172.02 890.87,171.12 891.35,170.22 891.82,169.32 892.3,168.43 892.77,167.55 893.24,166.67 893.72,165.8 894.19,164.93 894.67,164.06 895.14,163.18 895.62,162.31 896.09,161.44 896.56,160.56 897.04,159.7 897.51,158.83 897.99,157.97 898.46,157.11 898.94,156.26 899.41,155.42 899.88,154.58 900.36,153.75 900.83,152.93 901.31,152.12 901.78,151.32 902.26,150.53 902.73,149.76 903.2,148.99 903.68,148.24 904.15,147.5 904.63,146.77 905.1,146.05 905.57,145.34 906.05,144.64 906.52,143.95 907,143.26 907.47,142.57 907.95,141.9 908.42,141.22 908.89,140.55 909.37,139.89 909.84,139.22 910.32,138.56 910.79,137.9 911.27,137.24 911.74,136.57 912.21,135.91 912.69,135.25 913.16,134.58 913.64,133.91 914.11,133.23 914.59,132.57 915.06,131.9 915.53,131.23 916.01,130.56 916.48,129.9 916.96,129.24 917.43,128.58 917.91,127.92 918.38,127.26 918.85,126.6 919.33,125.94 919.8,125.29 920.28,124.63 920.75,123.98 921.23,123.32 921.7,122.67 922.17,122.02 922.65,121.37 923.12,120.72 923.6,120.07 924.07,119.42 924.54,118.76 925.02,118.11 925.49,117.46 925.97,116.8 926.44,116.15 926.92,115.49 927.39,114.84 927.86,114.19 928.34,113.53 928.81,112.89 929.29,112.24 929.76,111.6 930.24,110.96 930.71,110.32 931.18,109.69 931.66,109.06 932.13,108.44 932.61,107.82 933.08,107.21 933.56,106.61 934.03,106.01 934.5,105.42 934.98,104.84 935.45,104.26 935.93,103.69 936.4,103.12 936.88,102.55 937.35,101.99 937.82,101.44 938.3,100.88 938.77,100.33 939.25,99.78 939.72,99.23 940.19,98.69 940.67,98.14 941.14,97.59 941.62,97.04 942.09,96.49 942.57,95.94 943.04,95.39 943.51,94.83 943.99,94.27 944.46,93.71 944.94,93.14 945.41,92.57 945.89,92 946.36,91.43 946.83,90.86 947.31,90.29 947.78,89.72 948.26,89.15 948.73,88.58 949.21,88 949.68,87.43 950.15,86.86 950.63,86.29 951.1,85.72 951.58,85.14 952.05,84.57 952.53,84 953,83.43 953.47,82.87 953.95,82.3 954.42,81.73 954.9,81.17 955.37,80.6 955.85,80.04 956.32,79.47 956.79,78.9 957.27,78.34 957.74,77.77 958.22,77.21 958.69,76.64 959.16,76.08 959.64,75.52 960.11,74.95 960.59,74.39 961.06,73.84 961.54,73.28 962.01,72.72 962.48,72.17 962.96,71.62 963.43,71.07 963.91,70.52 964.38,69.98 964.86,69.44 965.33,68.91 965.8,68.38 966.28,67.85 966.75,67.33 967.23,66.81 967.7,66.29 968.18,65.77 968.65,65.25 969.12,64.74 969.6,64.22 970.07,63.7 970.55,63.18 971.02,62.65 971.5,62.13 971.97,61.6 972.44,61.06 972.92,60.52 973.39,59.98 973.87,59.43 974.34,58.87 974.82,58.31 975.29,57.74 975.76,57.17 976.24,56.59 976.71,56.02 977.19,55.43 977.66,54.85 978.13,54.26 978.61,53.67 979.08,53.07 979.56,52.47 980.03,51.87 980.51,51.26 980.98,50.65 981.45,50.04 981.93,49.43 982.4,48.81 982.88,48.18 983.35,47.56 983.83,46.93 984.3,46.3" fill="none" stroke="#0000ff" stroke-width="3.6"/>
<path d="M632.4 162.62L637.35 171.31L627.45 171.31Z" fill="#0000ff"/><path d="M632.4 165.45L634.94 169.91L629.86 169.91Z" fill="#fff"/>
<path d="M642.46 162.71L647.41 171.41L637.51 171.41Z" fill="#0000ff"/><path d="M642.46 165.54L645.01 170.01L639.92 170.01Z" fill="#fff"/>
<path d="M652.53 163.01L657.48 171.71L647.58 171.71Z" fill="#0000ff"/><path d="M652.53 165.84L655.07 170.31L649.99 170.31Z" fill="#fff"/>
<path d="M662.59 163.64L667.54 172.34L657.64 172.34Z" fill="#0000ff"/><path d="M662.59 166.47L665.13 170.94L660.05 170.94Z" fill="#fff"/>
<path d="M672.66 164.77L677.61 173.47L667.71 173.47Z" fill="#0000ff"/><path d="M672.66 167.6L675.2 172.07L670.11 172.07Z" fill="#fff"/>
<path d="M682.72 166.21L687.67 174.91L677.77 174.91Z" fill="#0000ff"/><path d="M682.72 169.04L685.26 173.51L680.18 173.51Z" fill="#fff"/>
<path d="M692.78 167.9L697.73 176.6L687.83 176.6Z" fill="#0000ff"/><path d="M692.78 170.73L695.33 175.2L690.24 175.2Z" fill="#fff"/>
<path d="M702.85 169.69L707.8 178.39L697.9 178.39Z" fill="#0000ff"/><path d="M702.85 172.52L705.39 176.99L700.3 176.99Z" fill="#fff"/>
<path d="M712.91 172.68L717.86 181.38L707.96 181.38Z" fill="#0000ff"/><path d="M712.91 175.52L715.45 179.98L710.37 179.98Z" fill="#fff"/>
<path d="M722.98 176.48L727.93 185.18L718.02 185.18Z" fill="#0000ff"/><path d="M722.98 179.32L725.52 183.78L720.43 183.78Z" fill="#fff"/>
<path d="M733.04 180.69L737.99 189.39L728.09 189.39Z" fill="#0000ff"/><path d="M733.04 183.52L735.58 187.99L730.5 187.99Z" fill="#fff"/>
<path d="M743.1 185.57L748.05 194.27L738.15 194.27Z" fill="#0000ff"/><path d="M743.1 188.4L745.65 192.87L740.56 192.87Z" fill="#fff"/>
<path d="M753.17 191.19L758.12 199.89L748.22 199.89Z" fill="#0000ff"/><path d="M753.17 194.03L755.71 198.49L750.62 198.49Z" fill="#fff"/>
<path d="M763.23 198.24L768.18 206.94L758.28 206.94Z" fill="#0000ff"/><path d="M763.23 201.07L765.77 205.54L760.69 205.54Z" fill="#fff"/>
<path d="M773.29 207.41L778.24 216.11L768.34 216.11Z" fill="#0000ff"/><path d="M773.29 210.24L775.84 214.71L770.75 214.71Z" fill="#fff"/>
<path d="M783.36 218.37L788.31 227.07L778.41 227.07Z" fill="#0000ff"/><path d="M783.36 221.2L785.9 225.67L780.82 225.67Z" fill="#fff"/>
<path d="M793.42 231.22L798.37 239.92L788.47 239.92Z" fill="#0000ff"/><path d="M793.42 234.05L795.96 238.52L790.88 238.52Z" fill="#fff"/>
<path d="M803.49 246.96L808.44 255.66L798.54 255.66Z" fill="#0000ff"/><path d="M803.49 249.79L806.03 254.26L800.94 254.26Z" fill="#fff"/>
<path d="M813.55 271.07L818.5 279.77L808.6 279.77Z" fill="#0000ff"/><path d="M813.55 273.9L816.09 278.37L811.01 278.37Z" fill="#fff"/>
<path d="M853.81 252.71L858.76 261.41L848.86 261.41Z" fill="#0000ff"/><path d="M853.81 255.54L856.35 260.01L851.26 260.01Z" fill="#fff"/>
<path d="M863.87 221.5L868.82 230.2L858.92 230.2Z" fill="#0000ff"/><path d="M863.87 224.33L866.41 228.8L861.33 228.8Z" fill="#fff"/>
<path d="M873.93 197.31L878.88 206.01L868.98 206.01Z" fill="#0000ff"/><path d="M873.93 200.15L876.48 204.61L871.39 204.61Z" fill="#fff"/>
<path d="M884 179.42L888.95 188.12L879.05 188.12Z" fill="#0000ff"/><path d="M884 182.25L886.54 186.72L881.45 186.72Z" fill="#fff"/>
<path d="M894.06 160.39L899.01 169.09L889.11 169.09Z" fill="#0000ff"/><path d="M894.06 163.22L896.6 167.69L891.52 167.69Z" fill="#fff"/>
<path d="M904.12 142.76L909.08 151.46L899.17 151.46Z" fill="#0000ff"/><path d="M904.12 145.59L906.67 150.06L901.58 150.06Z" fill="#fff"/>
<path d="M914.19 128.34L919.14 137.04L909.24 137.04Z" fill="#0000ff"/><path d="M914.19 131.17L916.73 135.64L911.65 135.64Z" fill="#fff"/>
<path d="M924.25 114.38L929.2 123.08L919.3 123.08Z" fill="#0000ff"/><path d="M924.25 117.21L926.8 121.68L921.71 121.68Z" fill="#fff"/>
<path d="M934.32 100.87L939.27 109.57L929.37 109.57Z" fill="#0000ff"/><path d="M934.32 103.7L936.86 108.17L931.77 108.17Z" fill="#fff"/>
<path d="M944.38 89.02L949.33 97.72L939.43 97.72Z" fill="#0000ff"/><path d="M944.38 91.85L946.92 96.32L941.84 96.32Z" fill="#fff"/>
<path d="M954.44 76.92L959.39 85.62L949.49 85.62Z" fill="#0000ff"/><path d="M954.44 79.75L956.99 84.22L951.9 84.22Z" fill="#fff"/>
<path d="M964.51 65.05L969.46 73.75L959.56 73.75Z" fill="#0000ff"/><path d="M964.51 67.88L967.05 72.35L961.97 72.35Z" fill="#fff"/>
<path d="M974.57 53.81L979.52 62.51L969.62 62.51Z" fill="#0000ff"/><path d="M974.57 56.64L977.11 61.11L972.03 61.11Z" fill="#fff"/>
<path d="M984.64 41.52L989.59 50.21L979.69 50.21Z" fill="#0000ff"/><path d="M984.64 44.35L987.18 48.81L982.09 48.81Z" fill="#fff"/>
</g>
<rect x="632.8" y="35.1" width="361.8" height="257" fill="none" stroke="#000" stroke-width="3.7"/>
<path d="M632.8 266.31H636.25M632.8 251.23H636.25M632.8 240.52H636.25M632.8 232.22H636.25M632.8 225.44H636.25M632.8 219.7H636.25M632.8 214.74H636.25M632.8 210.35H636.25M632.8 180.65H636.25M632.8 165.56H636.25M632.8 154.86H636.25M632.8 146.55H636.25M632.8 139.77H636.25M632.8 134.04H636.25M632.8 129.07H636.25M632.8 124.69H636.25M632.8 206.43H639.55M632.8 94.98H636.25M632.8 79.89H636.25M632.8 69.19H636.25M632.8 60.89H636.25M632.8 54.11H636.25M632.8 48.37H636.25M632.8 43.4H636.25M632.8 39.02H636.25M632.8 120.77H639.55M692.78 292.1V287.85M813.55 292.1V287.85M934.32 292.1V287.85M753.17 292.1V282.85M873.93 292.1V282.85" stroke="#000" stroke-width="3.2" stroke-linecap="round" fill="none"/>
<text x="626.2" y="40.3" font-size="19" font-weight="bold" text-anchor="end">100</text>
<text x="626.2" y="125.97" font-size="19" font-weight="bold" text-anchor="end">10</text>
<text x="623.6" y="211.63" font-size="19" font-weight="bold" text-anchor="end">1</text>
<text x="623.6" y="297.3" font-size="19" font-weight="bold" text-anchor="end">0.1</text>
<text x="632.4" y="316.9" font-size="19.2" font-weight="bold" text-anchor="middle">0</text>
<text x="753.17" y="316.9" font-size="19.2" font-weight="bold" text-anchor="middle">30</text>
<text x="873.93" y="316.9" font-size="19.2" font-weight="bold" text-anchor="middle">60</text>
<text x="994.7" y="316.9" font-size="19.2" font-weight="bold" text-anchor="middle">90</text>
<text x="819.8" y="338.7" font-size="25.6" font-weight="normal" text-anchor="middle" transform="translate(819.8 0) scale(1.1 1) translate(-819.8 0)">Incident Angle (degree)</text>
<text x="0" y="0" font-size="26.9" text-anchor="middle" transform="translate(594.8 159.05) scale(1.02 1) rotate(-90)">Reflectance (%)</text>
<text x="649.5" y="66.9" font-size="19.8" font-weight="normal" text-anchor="start" transform="translate(649.5 0) scale(1.11 1) translate(-649.5 0)">h=300nm</text>
<path d="M881 209.1H894.6M907.6 209.1H919.7" stroke="#ff0000" stroke-width="5.2" stroke-linecap="round"/>
<rect x="897" y="205" width="8.2" height="8.2" fill="#ff0000"/>
<text x="926.4" y="215" font-size="16.4" font-weight="normal" text-anchor="start" transform="translate(926.4 0) scale(1.07 1) translate(-926.4 0)">(s) mea.</text>
<path d="M880.6 230.13H894.6M907.6 230.13H920.1" stroke="#ff0000" stroke-width="4.4" stroke-linecap="round"/>
<rect x="898.2" y="227.23" width="5.8" height="5.8" fill="#fff" stroke="#ff0000" stroke-width="2.2"/>
<text x="926.4" y="236.03" font-size="16.4" font-weight="normal" text-anchor="start" transform="translate(926.4 0) scale(1.07 1) translate(-926.4 0)">(s) cal.</text>
<path d="M881 251.16H894.6M907.6 251.16H919.7" stroke="#0000ff" stroke-width="5.2" stroke-linecap="round"/>
<path d="M901.1 246.38L906.05 255.07L896.15 255.07Z" fill="#0000ff"/>
<text x="926.4" y="257.06" font-size="16.4" font-weight="normal" text-anchor="start" transform="translate(926.4 0) scale(1.07 1) translate(-926.4 0)">(p) mea.</text>
<path d="M880.6 272.19H894.6M907.6 272.19H920.1" stroke="#0000ff" stroke-width="4.4" stroke-linecap="round"/>
<path d="M901.1 267.4L906.05 276.11L896.15 276.11Z" fill="#0000ff"/><path d="M901.1 270.24L903.64 274.71L898.56 274.71Z" fill="#fff"/>
<text x="926.4" y="278.09" font-size="16.4" font-weight="normal" text-anchor="start" transform="translate(926.4 0) scale(1.07 1) translate(-926.4 0)">(p) cal.</text>
<clipPath id="clipc"><rect x="99.9" y="361.25" width="361.25" height="257.1"/></clipPath>
<g clip-path="url(#clipc)">
<polyline points="183.9,535.6 187.6,535.33 191.3,535 195,534.64 198.7,534.25 202.4,533.8 206.1,533.27 209.8,532.63 213.5,531.84 217.2,530.82 220.9,529.55 224.6,528.04 228.3,525.94 232,523.18 235.7,520.29 239.4,517.77 243.1,515.51 246.8,513.36 250.5,511.31 254.2,509.34 257.9,507.46 261.6,505.66 265.3,503.89 269,502.18 272.7,500.55 276.4,498.9 280.1,497.17 283.8,495.44 287.5,493.66 291.2,491.63 294.9,489.01 298.6,485.61 302.3,482.97 306,480.8 309.7,478.8 313.4,476.77 317.1,474.61 320.8,472.46 324.5,470.24 328.2,467.87 331.9,465.26 335.6,462.46 339.3,459.55 343,456.64 346.7,453.68 350.4,450.49 354.1,446.82 357.8,442.55 361.5,438.49 365.2,434.85 368.9,431.46 372.6,428.37 376.3,425.51 380,422.59 383.7,419.57 387.4,416.71 391.1,414.17 394.8,411.69 398.5,409.05 402.2,406.33 405.9,403.56 409.6,400.72 413.3,398.05 417,395.62" fill="none" stroke="#ff0000" stroke-width="3"/>
<rect x="179.8" y="531.5" width="8.2" height="8.2" fill="#ff0000"/>
<rect x="183.5" y="531.23" width="8.2" height="8.2" fill="#ff0000"/>
<rect x="187.2" y="530.9" width="8.2" height="8.2" fill="#ff0000"/>
<rect x="190.9" y="530.54" width="8.2" height="8.2" fill="#ff0000"/>
<rect x="194.6" y="530.15" width="8.2" height="8.2" fill="#ff0000"/>
<rect x="198.3" y="529.7" width="8.2" height="8.2" fill="#ff0000"/>
<rect x="202" y="529.17" width="8.2" height="8.2" fill="#ff0000"/>
<rect x="205.7" y="528.53" width="8.2" height="8.2" fill="#ff0000"/>
<rect x="209.4" y="527.74" width="8.2" height="8.2" fill="#ff0000"/>
<rect x="213.1" y="526.72" width="8.2" height="8.2" fill="#ff0000"/>
<rect x="216.8" y="525.45" width="8.2" height="8.2" fill="#ff0000"/>
<rect x="220.5" y="523.94" width="8.2" height="8.2" fill="#ff0000"/>
<rect x="224.2" y="521.84" width="8.2" height="8.2" fill="#ff0000"/>
<rect x="227.9" y="519.08" width="8.2" height="8.2" fill="#ff0000"/>
<rect x="231.6" y="516.19" width="8.2" height="8.2" fill="#ff0000"/>
<rect x="235.3" y="513.67" width="8.2" height="8.2" fill="#ff0000"/>
<rect x="239" y="511.41" width="8.2" height="8.2" fill="#ff0000"/>
<rect x="242.7" y="509.26" width="8.2" height="8.2" fill="#ff0000"/>
<rect x="246.4" y="507.21" width="8.2" height="8.2" fill="#ff0000"/>
<rect x="250.1" y="505.24" width="8.2" height="8.2" fill="#ff0000"/>
<rect x="253.8" y="503.36" width="8.2" height="8.2" fill="#ff0000"/>
<rect x="257.5" y="501.56" width="8.2" height="8.2" fill="#ff0000"/>
<rect x="261.2" y="499.79" width="8.2" height="8.2" fill="#ff0000"/>
<rect x="264.9" y="498.08" width="8.2" height="8.2" fill="#ff0000"/>
<rect x="268.6" y="496.45" width="8.2" height="8.2" fill="#ff0000"/>
<rect x="272.3" y="494.8" width="8.2" height="8.2" fill="#ff0000"/>
<rect x="276" y="493.07" width="8.2" height="8.2" fill="#ff0000"/>
<rect x="279.7" y="491.34" width="8.2" height="8.2" fill="#ff0000"/>
<rect x="283.4" y="489.56" width="8.2" height="8.2" fill="#ff0000"/>
<rect x="287.1" y="487.53" width="8.2" height="8.2" fill="#ff0000"/>
<rect x="290.8" y="484.91" width="8.2" height="8.2" fill="#ff0000"/>
<rect x="294.5" y="481.51" width="8.2" height="8.2" fill="#ff0000"/>
<rect x="298.2" y="478.87" width="8.2" height="8.2" fill="#ff0000"/>
<rect x="301.9" y="476.7" width="8.2" height="8.2" fill="#ff0000"/>
<rect x="305.6" y="474.7" width="8.2" height="8.2" fill="#ff0000"/>
<rect x="309.3" y="472.67" width="8.2" height="8.2" fill="#ff0000"/>
<rect x="313" y="470.51" width="8.2" height="8.2" fill="#ff0000"/>
<rect x="316.7" y="468.36" width="8.2" height="8.2" fill="#ff0000"/>
<rect x="320.4" y="466.14" width="8.2" height="8.2" fill="#ff0000"/>
<rect x="324.1" y="463.77" width="8.2" height="8.2" fill="#ff0000"/>
<rect x="327.8" y="461.16" width="8.2" height="8.2" fill="#ff0000"/>
<rect x="331.5" y="458.36" width="8.2" height="8.2" fill="#ff0000"/>
<rect x="335.2" y="455.45" width="8.2" height="8.2" fill="#ff0000"/>
<rect x="338.9" y="452.54" width="8.2" height="8.2" fill="#ff0000"/>
<rect x="342.6" y="449.58" width="8.2" height="8.2" fill="#ff0000"/>
<rect x="346.3" y="446.39" width="8.2" height="8.2" fill="#ff0000"/>
<rect x="350" y="442.72" width="8.2" height="8.2" fill="#ff0000"/>
<rect x="353.7" y="438.45" width="8.2" height="8.2" fill="#ff0000"/>
<rect x="357.4" y="434.39" width="8.2" height="8.2" fill="#ff0000"/>
<rect x="361.1" y="430.75" width="8.2" height="8.2" fill="#ff0000"/>
<rect x="364.8" y="427.36" width="8.2" height="8.2" fill="#ff0000"/>
<rect x="368.5" y="424.27" width="8.2" height="8.2" fill="#ff0000"/>
<rect x="372.2" y="421.41" width="8.2" height="8.2" fill="#ff0000"/>
<rect x="375.9" y="418.49" width="8.2" height="8.2" fill="#ff0000"/>
<rect x="379.6" y="415.47" width="8.2" height="8.2" fill="#ff0000"/>
<rect x="383.3" y="412.61" width="8.2" height="8.2" fill="#ff0000"/>
<rect x="387" y="410.07" width="8.2" height="8.2" fill="#ff0000"/>
<rect x="390.7" y="407.59" width="8.2" height="8.2" fill="#ff0000"/>
<rect x="394.4" y="404.95" width="8.2" height="8.2" fill="#ff0000"/>
<rect x="398.1" y="402.23" width="8.2" height="8.2" fill="#ff0000"/>
<rect x="401.8" y="399.46" width="8.2" height="8.2" fill="#ff0000"/>
<rect x="405.5" y="396.62" width="8.2" height="8.2" fill="#ff0000"/>
<rect x="409.2" y="393.95" width="8.2" height="8.2" fill="#ff0000"/>
<rect x="412.9" y="391.52" width="8.2" height="8.2" fill="#ff0000"/>
<mask id="sc" maskUnits="userSpaceOnUse" x="0" y="0" width="1024" height="706"><rect width="1024" height="706" fill="#fff"/><circle cx="99.3" cy="521.2" r="5.3" fill="#000"/><circle cx="109.36" cy="521.2" r="5.3" fill="#000"/><circle cx="119.41" cy="520.81" r="5.3" fill="#000"/><circle cx="129.47" cy="520.7" r="5.3" fill="#000"/><circle cx="139.52" cy="520.7" r="5.3" fill="#000"/><circle cx="149.58" cy="521" r="5.3" fill="#000"/><circle cx="159.63" cy="521" r="5.3" fill="#000"/><circle cx="169.69" cy="521.19" r="5.3" fill="#000"/><circle cx="179.74" cy="521.6" r="5.3" fill="#000"/><circle cx="189.8" cy="521.6" r="5.3" fill="#000"/><circle cx="199.86" cy="521.21" r="5.3" fill="#000"/><circle cx="209.91" cy="520.71" r="5.3" fill="#000"/><circle cx="219.97" cy="519.29" r="5.3" fill="#000"/><circle cx="230.02" cy="517.66" r="5.3" fill="#000"/><circle cx="240.08" cy="515.12" r="5.3" fill="#000"/><circle cx="250.13" cy="511.65" r="5.3" fill="#000"/><circle cx="260.19" cy="508.1" r="5.3" fill="#000"/><circle cx="270.24" cy="503.18" r="5.3" fill="#000"/><circle cx="280.3" cy="498.16" r="5.3" fill="#000"/><circle cx="290.36" cy="492.47" r="5.3" fill="#000"/><circle cx="300.41" cy="486.08" r="5.3" fill="#000"/><circle cx="310.47" cy="479.48" r="5.3" fill="#000"/><circle cx="320.52" cy="472.89" r="5.3" fill="#000"/><circle cx="330.58" cy="465.95" r="5.3" fill="#000"/><circle cx="340.63" cy="458.11" r="5.3" fill="#000"/><circle cx="350.69" cy="449.53" r="5.3" fill="#000"/><circle cx="360.74" cy="443.24" r="5.3" fill="#000"/><circle cx="370.8" cy="435.82" r="5.3" fill="#000"/><circle cx="380.86" cy="428.46" r="5.3" fill="#000"/><circle cx="390.91" cy="420.53" r="5.3" fill="#000"/><circle cx="400.97" cy="412.58" r="5.3" fill="#000"/><circle cx="411.02" cy="404.85" r="5.3" fill="#000"/><circle cx="421.08" cy="395.8" r="5.3" fill="#000"/><circle cx="431.13" cy="387.05" r="5.3" fill="#000"/><circle cx="441.19" cy="377.98" r="5.3" fill="#000"/><circle cx="451.24" cy="369.4" r="5.3" fill="#000"/></mask>
<polyline mask="url(#sc)" points="100,521.2 101.47,521.2 102.94,521.2 104.41,521.2 105.88,521.2 107.35,521.2 108.81,521.2 110.28,521.19 111.75,521.15 113.22,521.09 114.69,521.01 116.16,520.94 117.63,520.87 119.1,520.81 120.57,520.79 122.04,520.77 123.5,520.75 124.97,520.73 126.44,520.71 127.91,520.7 129.38,520.7 130.85,520.7 132.32,520.7 133.79,520.7 135.26,520.7 136.73,520.7 138.19,520.7 139.66,520.7 141.13,520.72 142.6,520.77 144.07,520.83 145.54,520.89 147.01,520.95 148.48,520.99 149.95,521 151.42,521 152.89,521 154.35,521 155.82,521 157.29,521 158.76,521 160.23,521 161.7,521.01 163.17,521.04 164.64,521.06 166.11,521.1 167.58,521.14 169.04,521.17 170.51,521.22 171.98,521.27 173.45,521.35 174.92,521.43 176.39,521.51 177.86,521.56 179.33,521.6 180.8,521.6 182.27,521.6 183.74,521.6 185.2,521.6 186.67,521.6 188.14,521.6 189.61,521.6 191.08,521.59 192.55,521.56 194.02,521.51 195.49,521.44 196.96,521.36 198.43,521.28 199.89,521.21 201.36,521.14 202.83,521.08 204.3,521.02 205.77,520.95 207.24,520.88 208.71,520.79 210.18,520.69 211.65,520.55 213.12,520.36 214.58,520.15 216.05,519.92 217.52,519.68 218.99,519.44 220.46,519.22 221.93,519 223.4,518.78 224.87,518.55 226.34,518.32 227.81,518.07 229.28,517.8 230.74,517.51 232.21,517.19 233.68,516.84 235.15,516.48 236.62,516.09 238.09,515.69 239.56,515.27 241.03,514.83 242.5,514.36 243.97,513.85 245.43,513.33 246.9,512.81 248.37,512.28 249.84,511.76 251.31,511.25 252.78,510.76 254.25,510.27 255.72,509.77 257.19,509.25 258.66,508.71 260.13,508.13 261.59,507.5 263.06,506.82 264.53,506.1 266,505.35 267.47,504.59 268.94,503.84 270.41,503.1 271.88,502.37 273.35,501.65 274.82,500.93 276.28,500.21 277.75,499.47 279.22,498.72 280.69,497.95 282.16,497.16 283.63,496.35 285.1,495.53 286.57,494.69 288.04,493.84 289.51,492.97 290.97,492.09 292.44,491.2 293.91,490.28 295.38,489.34 296.85,488.39 298.32,487.44 299.79,486.49 301.26,485.53 302.73,484.58 304.2,483.62 305.67,482.65 307.13,481.68 308.6,480.71 310.07,479.74 311.54,478.78 313.01,477.82 314.48,476.86 315.95,475.9 317.42,474.94 318.89,473.98 320.36,473 321.82,472.01 323.29,471.02 324.76,470.02 326.23,469.02 327.7,468 329.17,466.96 330.64,465.9 332.11,464.82 333.58,463.71 335.05,462.58 336.52,461.43 337.98,460.25 339.45,459.07 340.92,457.87 342.39,456.65 343.86,455.37 345.33,454.06 346.8,452.75 348.27,451.47 349.74,450.26 351.21,449.15 352.67,448.15 354.14,447.23 355.61,446.35 357.08,445.49 358.55,444.62 360.02,443.71 361.49,442.74 362.96,441.7 364.43,440.63 365.9,439.53 367.36,438.42 368.83,437.3 370.3,436.19 371.77,435.1 373.24,434.03 374.71,432.96 376.18,431.9 377.65,430.84 379.12,429.76 380.59,428.66 382.06,427.55 383.52,426.41 384.99,425.25 386.46,424.08 387.93,422.9 389.4,421.73 390.87,420.56 392.34,419.4 393.81,418.23 395.28,417.07 396.75,415.91 398.21,414.74 399.68,413.59 401.15,412.44 402.62,411.31 404.09,410.2 405.56,409.09 407.03,407.99 408.5,406.86 409.97,405.71 411.44,404.5 412.91,403.24 414.37,401.93 415.84,400.59 417.31,399.24 418.78,397.88 420.25,396.54 421.72,395.23 423.19,393.94 424.66,392.67 426.13,391.4 427.6,390.13 429.06,388.86 430.53,387.58 432,386.28 433.47,384.96 434.94,383.62 436.41,382.29 437.88,380.95 439.35,379.62 440.82,378.31 442.29,377.01 443.75,375.72 445.22,374.44 446.69,373.17 448.16,371.9 449.63,370.65 451.1,369.4" fill="none" stroke="#ff0000" stroke-width="2.4"/>
<rect x="96.4" y="518.3" width="5.8" height="5.8" fill="#fff" stroke="#ff0000" stroke-width="2.2"/>
<rect x="106.46" y="518.3" width="5.8" height="5.8" fill="#fff" stroke="#ff0000" stroke-width="2.2"/>
<rect x="116.51" y="517.91" width="5.8" height="5.8" fill="#fff" stroke="#ff0000" stroke-width="2.2"/>
<rect x="126.57" y="517.8" width="5.8" height="5.8" fill="#fff" stroke="#ff0000" stroke-width="2.2"/>
<rect x="136.62" y="517.8" width="5.8" height="5.8" fill="#fff" stroke="#ff0000" stroke-width="2.2"/>
<rect x="146.68" y="518.1" width="5.8" height="5.8" fill="#fff" stroke="#ff0000" stroke-width="2.2"/>
<rect x="156.73" y="518.1" width="5.8" height="5.8" fill="#fff" stroke="#ff0000" stroke-width="2.2"/>
<rect x="166.79" y="518.29" width="5.8" height="5.8" fill="#fff" stroke="#ff0000" stroke-width="2.2"/>
<rect x="176.84" y="518.7" width="5.8" height="5.8" fill="#fff" stroke="#ff0000" stroke-width="2.2"/>
<rect x="186.9" y="518.7" width="5.8" height="5.8" fill="#fff" stroke="#ff0000" stroke-width="2.2"/>
<rect x="196.96" y="518.31" width="5.8" height="5.8" fill="#fff" stroke="#ff0000" stroke-width="2.2"/>
<rect x="207.01" y="517.81" width="5.8" height="5.8" fill="#fff" stroke="#ff0000" stroke-width="2.2"/>
<rect x="217.07" y="516.39" width="5.8" height="5.8" fill="#fff" stroke="#ff0000" stroke-width="2.2"/>
<rect x="227.12" y="514.76" width="5.8" height="5.8" fill="#fff" stroke="#ff0000" stroke-width="2.2"/>
<rect x="237.18" y="512.22" width="5.8" height="5.8" fill="#fff" stroke="#ff0000" stroke-width="2.2"/>
<rect x="247.23" y="508.75" width="5.8" height="5.8" fill="#fff" stroke="#ff0000" stroke-width="2.2"/>
<rect x="257.29" y="505.2" width="5.8" height="5.8" fill="#fff" stroke="#ff0000" stroke-width="2.2"/>
<rect x="267.34" y="500.28" width="5.8" height="5.8" fill="#fff" stroke="#ff0000" stroke-width="2.2"/>
<rect x="277.4" y="495.26" width="5.8" height="5.8" fill="#fff" stroke="#ff0000" stroke-width="2.2"/>
<rect x="287.46" y="489.57" width="5.8" height="5.8" fill="#fff" stroke="#ff0000" stroke-width="2.2"/>
<rect x="297.51" y="483.18" width="5.8" height="5.8" fill="#fff" stroke="#ff0000" stroke-width="2.2"/>
<rect x="307.57" y="476.58" width="5.8" height="5.8" fill="#fff" stroke="#ff0000" stroke-width="2.2"/>
<rect x="317.62" y="469.99" width="5.8" height="5.8" fill="#fff" stroke="#ff0000" stroke-width="2.2"/>
<rect x="327.68" y="463.05" width="5.8" height="5.8" fill="#fff" stroke="#ff0000" stroke-width="2.2"/>
<rect x="337.73" y="455.21" width="5.8" height="5.8" fill="#fff" stroke="#ff0000" stroke-width="2.2"/>
<rect x="347.79" y="446.63" width="5.8" height="5.8" fill="#fff" stroke="#ff0000" stroke-width="2.2"/>
<rect x="357.84" y="440.34" width="5.8" height="5.8" fill="#fff" stroke="#ff0000" stroke-width="2.2"/>
<rect x="367.9" y="432.92" width="5.8" height="5.8" fill="#fff" stroke="#ff0000" stroke-width="2.2"/>
<rect x="377.96" y="425.56" width="5.8" height="5.8" fill="#fff" stroke="#ff0000" stroke-width="2.2"/>
<rect x="388.01" y="417.63" width="5.8" height="5.8" fill="#fff" stroke="#ff0000" stroke-width="2.2"/>
<rect x="398.07" y="409.68" width="5.8" height="5.8" fill="#fff" stroke="#ff0000" stroke-width="2.2"/>
<rect x="408.12" y="401.95" width="5.8" height="5.8" fill="#fff" stroke="#ff0000" stroke-width="2.2"/>
<rect x="418.18" y="392.9" width="5.8" height="5.8" fill="#fff" stroke="#ff0000" stroke-width="2.2"/>
<rect x="428.23" y="384.15" width="5.8" height="5.8" fill="#fff" stroke="#ff0000" stroke-width="2.2"/>
<rect x="438.29" y="375.08" width="5.8" height="5.8" fill="#fff" stroke="#ff0000" stroke-width="2.2"/>
<rect x="448.34" y="366.5" width="5.8" height="5.8" fill="#fff" stroke="#ff0000" stroke-width="2.2"/>
<polyline points="183.9,541.33 187.6,542.34 191.3,543.28 195,544.18 198.7,545.01 202.4,545.83 206.1,546.59 209.8,547.23 213.5,547.75 217.2,548.25 220.9,548.64 224.6,548.8 228.3,548.8 232,548.8 235.7,548.8 239.4,548.81 243.1,548.91 246.8,549.11 250.5,549.38 254.2,549.75 257.9,550.41 261.6,551.25 265.3,552.11 269,553.03 272.7,554.07 276.4,555.03 280.1,555.7 283.8,556.24 287.5,556.69 291.2,556.96 294.9,556.92 298.6,556.39 302.3,555.47 306,554.04 309.7,550.93 313.4,547.17 317.1,543.66 320.8,539.76 324.5,534.91 328.2,529.54 331.9,524.38 335.6,519.22 339.3,514.06 343,508.9 346.7,503.75 350.4,498.57 354.1,493.26 357.8,488.29 361.5,483.82 365.2,479.41 368.9,475.04 372.6,470.37 376.3,465.36 380,460.33 383.7,455.44 387.4,450.51 391.1,445.29 394.8,439.96 398.5,434.95 402.2,430.16 405.9,425.85 409.6,421.94 413.3,418.2 417,414.61" fill="none" stroke="#0000ff" stroke-width="3"/>
<path d="M183.9 536.54L188.85 545.24L178.95 545.24Z" fill="#0000ff"/>
<path d="M187.6 537.55L192.55 546.25L182.65 546.25Z" fill="#0000ff"/>
<path d="M191.3 538.5L196.25 547.2L186.35 547.2Z" fill="#0000ff"/>
<path d="M195 539.39L199.95 548.09L190.05 548.09Z" fill="#0000ff"/>
<path d="M198.7 540.23L203.65 548.93L193.75 548.93Z" fill="#0000ff"/>
<path d="M202.4 541.05L207.35 549.75L197.45 549.75Z" fill="#0000ff"/>
<path d="M206.1 541.8L211.05 550.5L201.15 550.5Z" fill="#0000ff"/>
<path d="M209.8 542.44L214.75 551.14L204.85 551.14Z" fill="#0000ff"/>
<path d="M213.5 542.96L218.45 551.66L208.55 551.66Z" fill="#0000ff"/>
<path d="M217.2 543.47L222.15 552.17L212.25 552.17Z" fill="#0000ff"/>
<path d="M220.9 543.85L225.85 552.55L215.95 552.55Z" fill="#0000ff"/>
<path d="M224.6 544.01L229.55 552.71L219.65 552.71Z" fill="#0000ff"/>
<path d="M228.3 544.01L233.25 552.71L223.35 552.71Z" fill="#0000ff"/>
<path d="M232 544.01L236.95 552.71L227.05 552.71Z" fill="#0000ff"/>
<path d="M235.7 544.01L240.65 552.71L230.75 552.71Z" fill="#0000ff"/>
<path d="M239.4 544.02L244.35 552.72L234.45 552.72Z" fill="#0000ff"/>
<path d="M243.1 544.12L248.05 552.82L238.15 552.82Z" fill="#0000ff"/>
<path d="M246.8 544.32L251.75 553.02L241.85 553.02Z" fill="#0000ff"/>
<path d="M250.5 544.59L255.45 553.29L245.55 553.29Z" fill="#0000ff"/>
<path d="M254.2 544.96L259.15 553.66L249.25 553.66Z" fill="#0000ff"/>
<path d="M257.9 545.62L262.85 554.32L252.95 554.32Z" fill="#0000ff"/>
<path d="M261.6 546.46L266.55 555.16L256.65 555.16Z" fill="#0000ff"/>
<path d="M265.3 547.33L270.25 556.03L260.35 556.03Z" fill="#0000ff"/>
<path d="M269 548.24L273.95 556.94L264.05 556.94Z" fill="#0000ff"/>
<path d="M272.7 549.28L277.65 557.98L267.75 557.98Z" fill="#0000ff"/>
<path d="M276.4 550.24L281.35 558.94L271.45 558.94Z" fill="#0000ff"/>
<path d="M280.1 550.92L285.05 559.62L275.15 559.62Z" fill="#0000ff"/>
<path d="M283.8 551.45L288.75 560.15L278.85 560.15Z" fill="#0000ff"/>
<path d="M287.5 551.91L292.45 560.61L282.55 560.61Z" fill="#0000ff"/>
<path d="M291.2 552.18L296.15 560.88L286.25 560.88Z" fill="#0000ff"/>
<path d="M294.9 552.14L299.85 560.84L289.95 560.84Z" fill="#0000ff"/>
<path d="M298.6 551.6L303.55 560.3L293.65 560.3Z" fill="#0000ff"/>
<path d="M302.3 550.68L307.25 559.38L297.35 559.38Z" fill="#0000ff"/>
<path d="M306 549.26L310.95 557.96L301.05 557.96Z" fill="#0000ff"/>
<path d="M309.7 546.15L314.65 554.85L304.75 554.85Z" fill="#0000ff"/>
<path d="M313.4 542.38L318.35 551.08L308.45 551.08Z" fill="#0000ff"/>
<path d="M317.1 538.87L322.05 547.57L312.15 547.57Z" fill="#0000ff"/>
<path d="M320.8 534.98L325.75 543.68L315.85 543.68Z" fill="#0000ff"/>
<path d="M324.5 530.12L329.45 538.82L319.55 538.82Z" fill="#0000ff"/>
<path d="M328.2 524.75L333.15 533.45L323.25 533.45Z" fill="#0000ff"/>
<path d="M331.9 519.6L336.85 528.3L326.95 528.3Z" fill="#0000ff"/>
<path d="M335.6 514.44L340.55 523.14L330.65 523.14Z" fill="#0000ff"/>
<path d="M339.3 509.28L344.25 517.98L334.35 517.98Z" fill="#0000ff"/>
<path d="M343 504.12L347.95 512.82L338.05 512.82Z" fill="#0000ff"/>
<path d="M346.7 498.97L351.65 507.67L341.75 507.67Z" fill="#0000ff"/>
<path d="M350.4 493.78L355.35 502.48L345.45 502.48Z" fill="#0000ff"/>
<path d="M354.1 488.47L359.05 497.17L349.15 497.17Z" fill="#0000ff"/>
<path d="M357.8 483.51L362.75 492.21L352.85 492.21Z" fill="#0000ff"/>
<path d="M361.5 479.04L366.45 487.74L356.55 487.74Z" fill="#0000ff"/>
<path d="M365.2 474.63L370.15 483.33L360.25 483.33Z" fill="#0000ff"/>
<path d="M368.9 470.25L373.85 478.95L363.95 478.95Z" fill="#0000ff"/>
<path d="M372.6 465.58L377.55 474.28L367.65 474.28Z" fill="#0000ff"/>
<path d="M376.3 460.57L381.25 469.27L371.35 469.27Z" fill="#0000ff"/>
<path d="M380 455.55L384.95 464.25L375.05 464.25Z" fill="#0000ff"/>
<path d="M383.7 450.66L388.65 459.36L378.75 459.36Z" fill="#0000ff"/>
<path d="M387.4 445.72L392.35 454.42L382.45 454.42Z" fill="#0000ff"/>
<path d="M391.1 440.51L396.05 449.21L386.15 449.21Z" fill="#0000ff"/>
<path d="M394.8 435.18L399.75 443.88L389.85 443.88Z" fill="#0000ff"/>
<path d="M398.5 430.16L403.45 438.86L393.55 438.86Z" fill="#0000ff"/>
<path d="M402.2 425.38L407.15 434.08L397.25 434.08Z" fill="#0000ff"/>
<path d="M405.9 421.07L410.85 429.77L400.95 429.77Z" fill="#0000ff"/>
<path d="M409.6 417.15L414.55 425.85L404.65 425.85Z" fill="#0000ff"/>
<path d="M413.3 413.41L418.25 422.11L408.35 422.11Z" fill="#0000ff"/>
<path d="M417 409.82L421.95 418.52L412.05 418.52Z" fill="#0000ff"/>
<mask id="mc" maskUnits="userSpaceOnUse" x="0" y="0" width="1024" height="706"><rect width="1024" height="706" fill="#fff"/><circle cx="109.36" cy="541.86" r="6.2" fill="#000"/><circle cx="119.41" cy="543.04" r="6.2" fill="#000"/><circle cx="129.47" cy="545.34" r="6.2" fill="#000"/><circle cx="139.52" cy="547.78" r="6.2" fill="#000"/><circle cx="149.58" cy="551.83" r="6.2" fill="#000"/><circle cx="159.63" cy="556.42" r="6.2" fill="#000"/><circle cx="169.69" cy="562.1" r="6.2" fill="#000"/><circle cx="179.74" cy="569.48" r="6.2" fill="#000"/><circle cx="189.8" cy="577.27" r="6.2" fill="#000"/><circle cx="199.86" cy="585.91" r="6.2" fill="#000"/><circle cx="209.91" cy="593.34" r="6.2" fill="#000"/><circle cx="219.97" cy="599.42" r="6.2" fill="#000"/><circle cx="230.02" cy="601.8" r="6.2" fill="#000"/><circle cx="240.08" cy="600.14" r="6.2" fill="#000"/><circle cx="250.13" cy="597.56" r="6.2" fill="#000"/><circle cx="260.19" cy="593.5" r="6.2" fill="#000"/><circle cx="270.24" cy="590.04" r="6.2" fill="#000"/><circle cx="280.3" cy="587.93" r="6.2" fill="#000"/><circle cx="290.36" cy="587.23" r="6.2" fill="#000"/><circle cx="300.41" cy="586.64" r="6.2" fill="#000"/><circle cx="310.47" cy="585.54" r="6.2" fill="#000"/><circle cx="320.52" cy="578.57" r="6.2" fill="#000"/><circle cx="330.58" cy="565.83" r="6.2" fill="#000"/><circle cx="340.63" cy="548.27" r="6.2" fill="#000"/><circle cx="350.69" cy="529.38" r="6.2" fill="#000"/><circle cx="360.74" cy="510.59" r="6.2" fill="#000"/><circle cx="370.8" cy="491.85" r="6.2" fill="#000"/><circle cx="380.86" cy="475.4" r="6.2" fill="#000"/><circle cx="390.91" cy="459.01" r="6.2" fill="#000"/><circle cx="400.97" cy="443.78" r="6.2" fill="#000"/><circle cx="411.02" cy="429.68" r="6.2" fill="#000"/><circle cx="421.08" cy="415.17" r="6.2" fill="#000"/><circle cx="431.13" cy="400.53" r="6.2" fill="#000"/><circle cx="441.19" cy="386.98" r="6.2" fill="#000"/><circle cx="451.24" cy="374" r="6.2" fill="#000"/></mask>
<polyline mask="url(#mc)" points="101,541.5 102.17,541.52 103.34,541.55 104.52,541.59 105.69,541.65 106.86,541.71 108.03,541.78 109.2,541.85 110.38,541.93 111.55,542.03 112.72,542.14 113.89,542.27 115.06,542.41 116.23,542.57 117.41,542.73 118.58,542.91 119.75,543.09 120.92,543.3 122.09,543.53 123.27,543.79 124.44,544.08 125.61,544.37 126.78,544.67 127.95,544.97 129.13,545.26 130.3,545.54 131.47,545.81 132.64,546.07 133.81,546.33 134.99,546.6 136.16,546.87 137.33,547.17 138.5,547.48 139.67,547.82 140.84,548.2 142.02,548.63 143.19,549.08 144.36,549.57 145.53,550.07 146.7,550.58 147.88,551.09 149.05,551.61 150.22,552.11 151.39,552.61 152.56,553.12 153.74,553.64 154.91,554.16 156.08,554.7 157.25,555.25 158.42,555.81 159.6,556.4 160.77,557 161.94,557.61 163.11,558.24 164.28,558.88 165.45,559.55 166.63,560.23 167.8,560.93 168.97,561.65 170.14,562.39 171.31,563.17 172.49,563.99 173.66,564.84 174.83,565.72 176,566.61 177.17,567.51 178.35,568.41 179.52,569.31 180.69,570.2 181.86,571.09 183.03,571.98 184.21,572.87 185.38,573.78 186.55,574.69 187.72,575.61 188.89,576.54 190.06,577.49 191.24,578.46 192.41,579.46 193.58,580.49 194.75,581.53 195.92,582.56 197.1,583.59 198.27,584.59 199.44,585.57 200.61,586.51 201.78,587.42 202.96,588.33 204.13,589.22 205.3,590.09 206.47,590.95 207.64,591.78 208.82,592.6 209.99,593.39 211.16,594.19 212.33,595 213.5,595.82 214.67,596.61 215.85,597.37 217.02,598.07 218.19,598.68 219.36,599.2 220.53,599.62 221.71,600.03 222.88,600.43 224.05,600.8 225.22,601.13 226.39,601.41 227.57,601.62 228.74,601.76 229.91,601.8 231.08,601.76 232.25,601.65 233.43,601.49 234.6,601.28 235.77,601.05 236.94,600.8 238.11,600.55 239.28,600.3 240.46,600.07 241.63,599.82 242.8,599.56 243.97,599.28 245.14,598.98 246.32,598.67 247.49,598.35 248.66,598.01 249.83,597.65 251,597.27 252.18,596.83 253.35,596.37 254.52,595.87 255.69,595.37 256.86,594.86 258.04,594.36 259.21,593.88 260.38,593.43 261.55,593 262.72,592.56 263.89,592.12 265.07,591.69 266.24,591.28 267.41,590.88 268.58,590.51 269.75,590.17 270.93,589.86 272.1,589.57 273.27,589.27 274.44,588.99 275.61,588.73 276.79,588.49 277.96,588.27 279.13,588.08 280.3,587.93 281.47,587.81 282.65,587.71 283.82,587.62 284.99,587.54 286.16,587.47 287.33,587.4 288.51,587.34 289.68,587.27 290.85,587.2 292.02,587.13 293.19,587.06 294.36,587 295.54,586.94 296.71,586.88 297.88,586.81 299.05,586.74 300.22,586.66 301.4,586.57 302.57,586.48 303.74,586.38 304.91,586.28 306.08,586.16 307.26,586.03 308.43,585.88 309.6,585.7 310.77,585.49 311.94,585.2 313.12,584.7 314.29,584 315.46,583.15 316.63,582.18 317.8,581.13 318.97,580.03 320.15,578.92 321.32,577.81 322.49,576.58 323.66,575.25 324.83,573.81 326.01,572.3 327.18,570.71 328.35,569.06 329.52,567.38 330.69,565.66 331.87,563.87 333.04,561.98 334.21,559.98 335.38,557.92 336.55,555.79 337.73,553.64 338.9,551.47 340.07,549.3 341.24,547.16 342.41,545.01 343.58,542.83 344.76,540.63 345.93,538.41 347.1,536.18 348.27,533.95 349.44,531.73 350.62,529.52 351.79,527.32 352.96,525.13 354.13,522.94 355.3,520.75 356.48,518.56 357.65,516.37 358.82,514.18 359.99,511.99 361.16,509.81 362.34,507.6 363.51,505.38 364.68,503.15 365.85,500.93 367.02,498.72 368.19,496.54 369.37,494.4 370.54,492.31 371.71,490.27 372.88,488.29 374.05,486.35 375.23,484.44 376.4,482.55 377.57,480.68 378.74,478.8 379.91,476.92 381.09,475.02 382.26,473.11 383.43,471.18 384.6,469.25 385.77,467.32 386.95,465.4 388.12,463.49 389.29,461.59 390.46,459.72 391.63,457.88 392.8,456.06 393.98,454.25 395.15,452.45 396.32,450.68 397.49,448.91 398.66,447.16 399.84,445.43 401.01,443.72 402.18,442.02 403.35,440.35 404.52,438.7 405.7,437.07 406.87,435.45 408.04,433.84 409.21,432.21 410.38,430.58 411.56,428.92 412.73,427.25 413.9,425.57 415.07,423.88 416.24,422.18 417.41,420.49 418.59,418.78 419.76,417.08 420.93,415.38 422.1,413.68 423.27,411.96 424.45,410.24 425.62,408.51 426.79,406.79 427.96,405.08 429.13,403.38 430.31,401.7 431.48,400.05 432.65,398.43 433.82,396.82 434.99,395.22 436.17,393.65 437.34,392.08 438.51,390.52 439.68,388.97 440.85,387.42 442.02,385.88 443.2,384.34 444.37,382.81 445.54,381.29 446.71,379.78 447.88,378.27 449.06,376.77 450.23,375.28 451.4,373.8" fill="none" stroke="#0000ff" stroke-width="3.6"/>
<path d="M109.36 537.08L114.31 545.78L104.41 545.78Z" fill="#0000ff"/><path d="M109.36 539.91L111.9 544.38L106.81 544.38Z" fill="#fff"/>
<path d="M119.41 538.25L124.36 546.95L114.46 546.95Z" fill="#0000ff"/><path d="M119.41 541.08L121.95 545.55L116.87 545.55Z" fill="#fff"/>
<path d="M129.47 540.56L134.42 549.26L124.52 549.26Z" fill="#0000ff"/><path d="M129.47 543.39L132.01 547.86L126.92 547.86Z" fill="#fff"/>
<path d="M139.52 542.99L144.47 551.69L134.57 551.69Z" fill="#0000ff"/><path d="M139.52 545.82L142.06 550.29L136.98 550.29Z" fill="#fff"/>
<path d="M149.58 547.05L154.53 555.75L144.63 555.75Z" fill="#0000ff"/><path d="M149.58 549.88L152.12 554.35L147.04 554.35Z" fill="#fff"/>
<path d="M159.63 551.63L164.58 560.33L154.68 560.33Z" fill="#0000ff"/><path d="M159.63 554.46L162.18 558.93L157.09 558.93Z" fill="#fff"/>
<path d="M169.69 557.32L174.64 566.02L164.74 566.02Z" fill="#0000ff"/><path d="M169.69 560.15L172.23 564.62L167.15 564.62Z" fill="#fff"/>
<path d="M179.74 564.7L184.69 573.4L174.79 573.4Z" fill="#0000ff"/><path d="M179.74 567.53L182.29 572L177.2 572Z" fill="#fff"/>
<path d="M189.8 572.49L194.75 581.19L184.85 581.19Z" fill="#0000ff"/><path d="M189.8 575.32L192.34 579.79L187.26 579.79Z" fill="#fff"/>
<path d="M199.86 581.12L204.81 589.82L194.91 589.82Z" fill="#0000ff"/><path d="M199.86 583.95L202.4 588.42L197.31 588.42Z" fill="#fff"/>
<path d="M209.91 588.56L214.86 597.26L204.96 597.26Z" fill="#0000ff"/><path d="M209.91 591.39L212.45 595.86L207.37 595.86Z" fill="#fff"/>
<path d="M219.97 594.64L224.92 603.34L215.02 603.34Z" fill="#0000ff"/><path d="M219.97 597.47L222.51 601.94L217.42 601.94Z" fill="#fff"/>
<path d="M230.02 597.01L234.97 605.71L225.07 605.71Z" fill="#0000ff"/><path d="M230.02 599.84L232.56 604.31L227.48 604.31Z" fill="#fff"/>
<path d="M240.08 595.36L245.03 604.06L235.13 604.06Z" fill="#0000ff"/><path d="M240.08 598.19L242.62 602.66L237.54 602.66Z" fill="#fff"/>
<path d="M250.13 592.77L255.08 601.47L245.18 601.47Z" fill="#0000ff"/><path d="M250.13 595.6L252.68 600.07L247.59 600.07Z" fill="#fff"/>
<path d="M260.19 588.72L265.14 597.42L255.24 597.42Z" fill="#0000ff"/><path d="M260.19 591.55L262.73 596.02L257.65 596.02Z" fill="#fff"/>
<path d="M270.24 585.26L275.19 593.96L265.29 593.96Z" fill="#0000ff"/><path d="M270.24 588.09L272.79 592.56L267.7 592.56Z" fill="#fff"/>
<path d="M280.3 583.15L285.25 591.85L275.35 591.85Z" fill="#0000ff"/><path d="M280.3 585.98L282.84 590.45L277.76 590.45Z" fill="#fff"/>
<path d="M290.36 582.44L295.31 591.14L285.41 591.14Z" fill="#0000ff"/><path d="M290.36 585.27L292.9 589.74L287.81 589.74Z" fill="#fff"/>
<path d="M300.41 581.86L305.36 590.56L295.46 590.56Z" fill="#0000ff"/><path d="M300.41 584.69L302.95 589.16L297.87 589.16Z" fill="#fff"/>
<path d="M310.47 580.76L315.42 589.46L305.52 589.46Z" fill="#0000ff"/><path d="M310.47 583.59L313.01 588.06L307.92 588.06Z" fill="#fff"/>
<path d="M320.52 573.79L325.47 582.49L315.57 582.49Z" fill="#0000ff"/><path d="M320.52 576.62L323.06 581.09L317.98 581.09Z" fill="#fff"/>
<path d="M330.58 561.04L335.53 569.74L325.63 569.74Z" fill="#0000ff"/><path d="M330.58 563.87L333.12 568.34L328.04 568.34Z" fill="#fff"/>
<path d="M340.63 543.48L345.58 552.18L335.68 552.18Z" fill="#0000ff"/><path d="M340.63 546.31L343.18 550.78L338.09 550.78Z" fill="#fff"/>
<path d="M350.69 524.6L355.64 533.3L345.74 533.3Z" fill="#0000ff"/><path d="M350.69 527.43L353.23 531.9L348.15 531.9Z" fill="#fff"/>
<path d="M360.74 505.81L365.69 514.51L355.79 514.51Z" fill="#0000ff"/><path d="M360.74 508.64L363.29 513.11L358.2 513.11Z" fill="#fff"/>
<path d="M370.8 487.06L375.75 495.76L365.85 495.76Z" fill="#0000ff"/><path d="M370.8 489.89L373.34 494.36L368.26 494.36Z" fill="#fff"/>
<path d="M380.86 470.61L385.81 479.31L375.91 479.31Z" fill="#0000ff"/><path d="M380.86 473.44L383.4 477.91L378.31 477.91Z" fill="#fff"/>
<path d="M390.91 454.23L395.86 462.93L385.96 462.93Z" fill="#0000ff"/><path d="M390.91 457.06L393.45 461.53L388.37 461.53Z" fill="#fff"/>
<path d="M400.97 438.99L405.92 447.69L396.02 447.69Z" fill="#0000ff"/><path d="M400.97 441.82L403.51 446.29L398.42 446.29Z" fill="#fff"/>
<path d="M411.02 424.89L415.97 433.59L406.07 433.59Z" fill="#0000ff"/><path d="M411.02 427.72L413.56 432.19L408.48 432.19Z" fill="#fff"/>
<path d="M421.08 410.38L426.03 419.08L416.13 419.08Z" fill="#0000ff"/><path d="M421.08 413.21L423.62 417.68L418.54 417.68Z" fill="#fff"/>
<path d="M431.13 395.75L436.08 404.45L426.18 404.45Z" fill="#0000ff"/><path d="M431.13 398.58L433.68 403.05L428.59 403.05Z" fill="#fff"/>
<path d="M441.19 382.19L446.14 390.89L436.24 390.89Z" fill="#0000ff"/><path d="M441.19 385.02L443.73 389.49L438.65 389.49Z" fill="#fff"/>
<path d="M451.24 369.21L456.19 377.91L446.29 377.91Z" fill="#0000ff"/><path d="M451.24 372.04L453.79 376.51L448.7 376.51Z" fill="#fff"/>
</g>
<rect x="99.9" y="361.25" width="361.25" height="257.1" fill="none" stroke="#000" stroke-width="3.7"/>
<path d="M99.9 592.55H103.35M99.9 577.46H103.35M99.9 566.75H103.35M99.9 558.45H103.35M99.9 551.66H103.35M99.9 545.93H103.35M99.9 540.96H103.35M99.9 536.57H103.35M99.9 506.85H103.35M99.9 491.76H103.35M99.9 481.05H103.35M99.9 472.75H103.35M99.9 465.96H103.35M99.9 460.23H103.35M99.9 455.26H103.35M99.9 450.87H103.35M99.9 532.65H106.65M99.9 421.15H103.35M99.9 406.06H103.35M99.9 395.35H103.35M99.9 387.05H103.35M99.9 380.26H103.35M99.9 374.53H103.35M99.9 369.56H103.35M99.9 365.17H103.35M99.9 446.95H106.65M159.63 618.35V614.1M280.3 618.35V614.1M400.97 618.35V614.1M219.97 618.35V609.1M340.63 618.35V609.1" stroke="#000" stroke-width="3.2" stroke-linecap="round" fill="none"/>
<text x="93.3" y="366.45" font-size="19" font-weight="bold" text-anchor="end">100</text>
<text x="93.3" y="452.15" font-size="19" font-weight="bold" text-anchor="end">10</text>
<text x="90.7" y="537.85" font-size="19" font-weight="bold" text-anchor="end">1</text>
<text x="90.7" y="623.55" font-size="19" font-weight="bold" text-anchor="end">0.1</text>
<text x="99.3" y="643.15" font-size="19.2" font-weight="bold" text-anchor="middle">0</text>
<text x="219.97" y="643.15" font-size="19.2" font-weight="bold" text-anchor="middle">30</text>
<text x="340.63" y="643.15" font-size="19.2" font-weight="bold" text-anchor="middle">60</text>
<text x="461.3" y="643.15" font-size="19.2" font-weight="bold" text-anchor="middle">90</text>
<text x="286.62" y="664.95" font-size="25.6" font-weight="normal" text-anchor="middle" transform="translate(286.62 0) scale(1.1 1) translate(-286.62 0)">Incident Angle (degree)</text>
<text x="0" y="0" font-size="26.9" text-anchor="middle" transform="translate(61.9 485.25) scale(1.02 1) rotate(-90)">Reflectance (%)</text>
<text x="119.2" y="388.7" font-size="19.8" font-weight="normal" text-anchor="start" transform="translate(119.2 0) scale(1.11 1) translate(-119.2 0)">h=550nm</text>
<path d="M120.2 407H136.6M150.6 407H166.6" stroke="#ff0000" stroke-width="5.6" stroke-linecap="round"/>
<rect x="139.5" y="402.9" width="8.2" height="8.2" fill="#ff0000"/>
<text x="174" y="414" font-size="19.6" font-weight="normal" text-anchor="start" transform="translate(174 0) scale(1.07 1) translate(-174 0)">(S) mea.</text>
<path d="M119.7 432.3H136.6M150.6 432.3H167.1" stroke="#ff0000" stroke-width="4.6" stroke-linecap="round"/>
<rect x="140.7" y="429.4" width="5.8" height="5.8" fill="#fff" stroke="#ff0000" stroke-width="2.2"/>
<text x="174" y="439.3" font-size="19.6" font-weight="normal" text-anchor="start" transform="translate(174 0) scale(1.07 1) translate(-174 0)">(S) cal.</text>
<path d="M120.2 457.6H136.6M150.6 457.6H166.6" stroke="#0000ff" stroke-width="5.6" stroke-linecap="round"/>
<path d="M143.6 452.81L148.55 461.52L138.65 461.52Z" fill="#0000ff"/>
<text x="174" y="464.6" font-size="19.6" font-weight="normal" text-anchor="start" transform="translate(174 0) scale(1.07 1) translate(-174 0)">(P) mea.</text>
<path d="M119.7 482.9H136.6M150.6 482.9H167.1" stroke="#0000ff" stroke-width="4.6" stroke-linecap="round"/>
<path d="M143.6 478.11L148.55 486.81L138.65 486.81Z" fill="#0000ff"/><path d="M143.6 480.95L146.14 485.42L141.06 485.42Z" fill="#fff"/>
<text x="174" y="489.9" font-size="19.6" font-weight="normal" text-anchor="start" transform="translate(174 0) scale(1.07 1) translate(-174 0)">(P) cal.</text>
<clipPath id="clipd"><rect x="633.45" y="361.25" width="361.15" height="257.1"/></clipPath>
<g clip-path="url(#clipd)">
<polyline points="716.3,523.28 720,522.84 723.7,521.5 727.4,519.99 731.1,518.05 734.8,516.1 738.5,514.28 742.2,512.45 745.9,510.62 749.6,508.75 753.3,506.63 757,504.3 760.7,502.5 764.4,501.19 768.1,500.08 771.8,499.02 775.5,497.85 779.2,496.49 782.9,495.03 786.6,493.49 790.3,491.89 794,490.23 797.7,488.49 801.4,486.66 805.1,484.78 808.8,482.84 812.5,480.87 816.2,478.8 819.9,476.7 823.6,474.61 827.3,472.56 831,470.52 834.7,468.49 838.4,466.45 842.1,464.41 845.8,462.38 849.5,460.39 853.2,458.47 856.9,456.59 860.6,454.71 864.3,452.84 868,451.01 871.7,449.14 875.4,447.17 879.1,444.98 882.8,442.71 886.5,440.54 890.2,438.67 893.9,436.99 897.6,435.24 901.3,433.18 905,430.86 908.7,428.36 912.4,425.77 916.1,423.11 919.8,420.29 923.5,417.41 927.2,414.59 930.9,411.89 934.6,409.26 938.3,406.67 942,404.14 945.7,401.66" fill="none" stroke="#ff0000" stroke-width="3"/>
<rect x="712.2" y="519.18" width="8.2" height="8.2" fill="#ff0000"/>
<rect x="715.9" y="518.74" width="8.2" height="8.2" fill="#ff0000"/>
<rect x="719.6" y="517.4" width="8.2" height="8.2" fill="#ff0000"/>
<rect x="723.3" y="515.89" width="8.2" height="8.2" fill="#ff0000"/>
<rect x="727" y="513.95" width="8.2" height="8.2" fill="#ff0000"/>
<rect x="730.7" y="512" width="8.2" height="8.2" fill="#ff0000"/>
<rect x="734.4" y="510.18" width="8.2" height="8.2" fill="#ff0000"/>
<rect x="738.1" y="508.35" width="8.2" height="8.2" fill="#ff0000"/>
<rect x="741.8" y="506.52" width="8.2" height="8.2" fill="#ff0000"/>
<rect x="745.5" y="504.65" width="8.2" height="8.2" fill="#ff0000"/>
<rect x="749.2" y="502.53" width="8.2" height="8.2" fill="#ff0000"/>
<rect x="752.9" y="500.2" width="8.2" height="8.2" fill="#ff0000"/>
<rect x="756.6" y="498.4" width="8.2" height="8.2" fill="#ff0000"/>
<rect x="760.3" y="497.09" width="8.2" height="8.2" fill="#ff0000"/>
<rect x="764" y="495.98" width="8.2" height="8.2" fill="#ff0000"/>
<rect x="767.7" y="494.92" width="8.2" height="8.2" fill="#ff0000"/>
<rect x="771.4" y="493.75" width="8.2" height="8.2" fill="#ff0000"/>
<rect x="775.1" y="492.39" width="8.2" height="8.2" fill="#ff0000"/>
<rect x="778.8" y="490.93" width="8.2" height="8.2" fill="#ff0000"/>
<rect x="782.5" y="489.39" width="8.2" height="8.2" fill="#ff0000"/>
<rect x="786.2" y="487.79" width="8.2" height="8.2" fill="#ff0000"/>
<rect x="789.9" y="486.13" width="8.2" height="8.2" fill="#ff0000"/>
<rect x="793.6" y="484.39" width="8.2" height="8.2" fill="#ff0000"/>
<rect x="797.3" y="482.56" width="8.2" height="8.2" fill="#ff0000"/>
<rect x="801" y="480.68" width="8.2" height="8.2" fill="#ff0000"/>
<rect x="804.7" y="478.74" width="8.2" height="8.2" fill="#ff0000"/>
<rect x="808.4" y="476.77" width="8.2" height="8.2" fill="#ff0000"/>
<rect x="812.1" y="474.7" width="8.2" height="8.2" fill="#ff0000"/>
<rect x="815.8" y="472.6" width="8.2" height="8.2" fill="#ff0000"/>
<rect x="819.5" y="470.51" width="8.2" height="8.2" fill="#ff0000"/>
<rect x="823.2" y="468.46" width="8.2" height="8.2" fill="#ff0000"/>
<rect x="826.9" y="466.42" width="8.2" height="8.2" fill="#ff0000"/>
<rect x="830.6" y="464.39" width="8.2" height="8.2" fill="#ff0000"/>
<rect x="834.3" y="462.35" width="8.2" height="8.2" fill="#ff0000"/>
<rect x="838" y="460.31" width="8.2" height="8.2" fill="#ff0000"/>
<rect x="841.7" y="458.28" width="8.2" height="8.2" fill="#ff0000"/>
<rect x="845.4" y="456.29" width="8.2" height="8.2" fill="#ff0000"/>
<rect x="849.1" y="454.37" width="8.2" height="8.2" fill="#ff0000"/>
<rect x="852.8" y="452.49" width="8.2" height="8.2" fill="#ff0000"/>
<rect x="856.5" y="450.61" width="8.2" height="8.2" fill="#ff0000"/>
<rect x="860.2" y="448.74" width="8.2" height="8.2" fill="#ff0000"/>
<rect x="863.9" y="446.91" width="8.2" height="8.2" fill="#ff0000"/>
<rect x="867.6" y="445.04" width="8.2" height="8.2" fill="#ff0000"/>
<rect x="871.3" y="443.07" width="8.2" height="8.2" fill="#ff0000"/>
<rect x="875" y="440.88" width="8.2" height="8.2" fill="#ff0000"/>
<rect x="878.7" y="438.61" width="8.2" height="8.2" fill="#ff0000"/>
<rect x="882.4" y="436.44" width="8.2" height="8.2" fill="#ff0000"/>
<rect x="886.1" y="434.57" width="8.2" height="8.2" fill="#ff0000"/>
<rect x="889.8" y="432.89" width="8.2" height="8.2" fill="#ff0000"/>
<rect x="893.5" y="431.14" width="8.2" height="8.2" fill="#ff0000"/>
<rect x="897.2" y="429.08" width="8.2" height="8.2" fill="#ff0000"/>
<rect x="900.9" y="426.76" width="8.2" height="8.2" fill="#ff0000"/>
<rect x="904.6" y="424.26" width="8.2" height="8.2" fill="#ff0000"/>
<rect x="908.3" y="421.67" width="8.2" height="8.2" fill="#ff0000"/>
<rect x="912" y="419.01" width="8.2" height="8.2" fill="#ff0000"/>
<rect x="915.7" y="416.19" width="8.2" height="8.2" fill="#ff0000"/>
<rect x="919.4" y="413.31" width="8.2" height="8.2" fill="#ff0000"/>
<rect x="923.1" y="410.49" width="8.2" height="8.2" fill="#ff0000"/>
<rect x="926.8" y="407.79" width="8.2" height="8.2" fill="#ff0000"/>
<rect x="930.5" y="405.16" width="8.2" height="8.2" fill="#ff0000"/>
<rect x="934.2" y="402.57" width="8.2" height="8.2" fill="#ff0000"/>
<rect x="937.9" y="400.04" width="8.2" height="8.2" fill="#ff0000"/>
<rect x="941.6" y="397.56" width="8.2" height="8.2" fill="#ff0000"/>
<mask id="sd" maskUnits="userSpaceOnUse" x="0" y="0" width="1024" height="706"><rect width="1024" height="706" fill="#fff"/><circle cx="632.8" cy="528.6" r="5.3" fill="#000"/><circle cx="642.85" cy="528.59" r="5.3" fill="#000"/><circle cx="652.91" cy="527.19" r="5.3" fill="#000"/><circle cx="662.96" cy="525.98" r="5.3" fill="#000"/><circle cx="673.01" cy="525.17" r="5.3" fill="#000"/><circle cx="683.06" cy="524.34" r="5.3" fill="#000"/><circle cx="693.12" cy="523.11" r="5.3" fill="#000"/><circle cx="703.17" cy="521.96" r="5.3" fill="#000"/><circle cx="713.22" cy="521.56" r="5.3" fill="#000"/><circle cx="723.27" cy="519.85" r="5.3" fill="#000"/><circle cx="733.33" cy="518.67" r="5.3" fill="#000"/><circle cx="743.38" cy="516.99" r="5.3" fill="#000"/><circle cx="753.43" cy="515.31" r="5.3" fill="#000"/><circle cx="763.49" cy="512.73" r="5.3" fill="#000"/><circle cx="773.54" cy="510.36" r="5.3" fill="#000"/><circle cx="783.59" cy="507.3" r="5.3" fill="#000"/><circle cx="793.64" cy="503.16" r="5.3" fill="#000"/><circle cx="803.7" cy="498.81" r="5.3" fill="#000"/><circle cx="813.75" cy="494.17" r="5.3" fill="#000"/><circle cx="823.8" cy="488.53" r="5.3" fill="#000"/><circle cx="833.86" cy="482.69" r="5.3" fill="#000"/><circle cx="843.91" cy="476.88" r="5.3" fill="#000"/><circle cx="853.96" cy="471.06" r="5.3" fill="#000"/><circle cx="864.01" cy="465.06" r="5.3" fill="#000"/><circle cx="874.07" cy="457.95" r="5.3" fill="#000"/><circle cx="884.12" cy="450.03" r="5.3" fill="#000"/><circle cx="894.17" cy="442.76" r="5.3" fill="#000"/><circle cx="904.23" cy="436.78" r="5.3" fill="#000"/><circle cx="914.28" cy="428.86" r="5.3" fill="#000"/><circle cx="924.33" cy="421.42" r="5.3" fill="#000"/><circle cx="934.38" cy="412.51" r="5.3" fill="#000"/><circle cx="944.44" cy="403.93" r="5.3" fill="#000"/><circle cx="954.49" cy="395.35" r="5.3" fill="#000"/><circle cx="964.54" cy="386.49" r="5.3" fill="#000"/><circle cx="974.59" cy="377.59" r="5.3" fill="#000"/><circle cx="984.65" cy="369.5" r="5.3" fill="#000"/></mask>
<polyline mask="url(#sd)" points="633.5,528.6 634.97,528.6 636.43,528.6 637.9,528.6 639.36,528.6 640.83,528.6 642.29,528.6 643.76,528.55 645.23,528.41 646.69,528.21 648.16,527.96 649.62,527.7 651.09,527.45 652.55,527.23 654.02,527.04 655.49,526.85 656.95,526.66 658.42,526.48 659.88,526.3 661.35,526.14 662.81,525.99 664.28,525.85 665.75,525.73 667.21,525.61 668.68,525.5 670.14,525.39 671.61,525.28 673.07,525.16 674.54,525.05 676.01,524.94 677.47,524.83 678.94,524.71 680.4,524.59 681.87,524.46 683.33,524.32 684.8,524.15 686.26,523.98 687.73,523.79 689.2,523.6 690.66,523.42 692.13,523.23 693.59,523.05 695.06,522.85 696.52,522.65 697.99,522.45 699.46,522.27 700.92,522.12 702.39,522.01 703.85,521.93 705.32,521.87 706.78,521.83 708.25,521.79 709.72,521.74 711.18,521.68 712.65,521.6 714.11,521.47 715.58,521.26 717.04,520.99 718.51,520.7 719.98,520.41 721.44,520.13 722.91,519.9 724.37,519.71 725.84,519.54 727.3,519.37 728.77,519.22 730.24,519.06 731.7,518.88 733.17,518.69 734.63,518.48 736.1,518.24 737.56,518 739.03,517.74 740.5,517.48 741.96,517.23 743.43,516.98 744.89,516.74 746.36,516.51 747.82,516.29 749.29,516.05 750.76,515.81 752.22,515.55 753.69,515.26 755.15,514.93 756.62,514.57 758.08,514.18 759.55,513.77 761.02,513.37 762.48,512.98 763.95,512.62 765.41,512.28 766.88,511.94 768.34,511.61 769.81,511.28 771.27,510.94 772.74,510.57 774.21,510.18 775.67,509.78 777.14,509.36 778.6,508.93 780.07,508.47 781.53,508 783,507.5 784.47,506.98 785.93,506.41 787.4,505.82 788.86,505.2 790.33,504.57 791.79,503.94 793.26,503.32 794.73,502.7 796.19,502.08 797.66,501.45 799.12,500.82 800.59,500.18 802.05,499.54 803.52,498.89 804.99,498.24 806.45,497.59 807.92,496.94 809.38,496.27 810.85,495.59 812.31,494.89 813.78,494.16 815.25,493.39 816.71,492.59 818.18,491.77 819.64,490.92 821.11,490.08 822.57,489.23 824.04,488.39 825.51,487.55 826.97,486.7 828.44,485.85 829.9,484.99 831.37,484.14 832.83,483.29 834.3,482.44 835.77,481.59 837.23,480.74 838.7,479.89 840.16,479.05 841.63,478.2 843.09,477.35 844.56,476.5 846.03,475.66 847.49,474.82 848.96,473.97 850.42,473.13 851.89,472.28 853.35,471.42 854.82,470.56 856.28,469.71 857.75,468.86 859.22,468 860.68,467.13 862.15,466.23 863.61,465.31 865.08,464.36 866.54,463.37 868.01,462.36 869.48,461.32 870.94,460.26 872.41,459.18 873.87,458.09 875.34,456.98 876.8,455.83 878.27,454.65 879.74,453.47 881.2,452.29 882.67,451.14 884.13,450.02 885.6,448.91 887.06,447.8 888.53,446.71 890,445.63 891.46,444.59 892.93,443.58 894.39,442.62 895.86,441.72 897.32,440.87 898.79,440.05 900.26,439.22 901.72,438.37 903.19,437.47 904.65,436.49 906.12,435.42 907.58,434.28 909.05,433.09 910.52,431.88 911.98,430.68 913.45,429.51 914.91,428.39 916.38,427.3 917.84,426.24 919.31,425.19 920.78,424.12 922.24,423.04 923.71,421.91 925.17,420.73 926.64,419.48 928.1,418.19 929.57,416.86 931.04,415.52 932.5,414.19 933.97,412.88 935.43,411.6 936.9,410.34 938.36,409.09 939.83,407.84 941.29,406.6 942.76,405.36 944.23,404.11 945.69,402.86 947.16,401.61 948.62,400.37 950.09,399.13 951.55,397.88 953.02,396.62 954.49,395.35 955.95,394.07 957.42,392.79 958.88,391.5 960.35,390.2 961.81,388.9 963.28,387.61 964.75,386.31 966.21,385.01 967.68,383.71 969.14,382.41 970.61,381.11 972.07,379.81 973.54,378.52 975.01,377.22 976.47,375.93 977.94,374.64 979.4,373.36 980.87,372.07 982.33,370.78 983.8,369.5" fill="none" stroke="#ff0000" stroke-width="2.4"/>
<rect x="629.9" y="525.7" width="5.8" height="5.8" fill="#fff" stroke="#ff0000" stroke-width="2.2"/>
<rect x="639.95" y="525.69" width="5.8" height="5.8" fill="#fff" stroke="#ff0000" stroke-width="2.2"/>
<rect x="650.01" y="524.29" width="5.8" height="5.8" fill="#fff" stroke="#ff0000" stroke-width="2.2"/>
<rect x="660.06" y="523.08" width="5.8" height="5.8" fill="#fff" stroke="#ff0000" stroke-width="2.2"/>
<rect x="670.11" y="522.27" width="5.8" height="5.8" fill="#fff" stroke="#ff0000" stroke-width="2.2"/>
<rect x="680.16" y="521.44" width="5.8" height="5.8" fill="#fff" stroke="#ff0000" stroke-width="2.2"/>
<rect x="690.22" y="520.21" width="5.8" height="5.8" fill="#fff" stroke="#ff0000" stroke-width="2.2"/>
<rect x="700.27" y="519.06" width="5.8" height="5.8" fill="#fff" stroke="#ff0000" stroke-width="2.2"/>
<rect x="710.32" y="518.66" width="5.8" height="5.8" fill="#fff" stroke="#ff0000" stroke-width="2.2"/>
<rect x="720.38" y="516.95" width="5.8" height="5.8" fill="#fff" stroke="#ff0000" stroke-width="2.2"/>
<rect x="730.43" y="515.77" width="5.8" height="5.8" fill="#fff" stroke="#ff0000" stroke-width="2.2"/>
<rect x="740.48" y="514.09" width="5.8" height="5.8" fill="#fff" stroke="#ff0000" stroke-width="2.2"/>
<rect x="750.53" y="512.41" width="5.8" height="5.8" fill="#fff" stroke="#ff0000" stroke-width="2.2"/>
<rect x="760.59" y="509.83" width="5.8" height="5.8" fill="#fff" stroke="#ff0000" stroke-width="2.2"/>
<rect x="770.64" y="507.46" width="5.8" height="5.8" fill="#fff" stroke="#ff0000" stroke-width="2.2"/>
<rect x="780.69" y="504.4" width="5.8" height="5.8" fill="#fff" stroke="#ff0000" stroke-width="2.2"/>
<rect x="790.74" y="500.26" width="5.8" height="5.8" fill="#fff" stroke="#ff0000" stroke-width="2.2"/>
<rect x="800.8" y="495.91" width="5.8" height="5.8" fill="#fff" stroke="#ff0000" stroke-width="2.2"/>
<rect x="810.85" y="491.27" width="5.8" height="5.8" fill="#fff" stroke="#ff0000" stroke-width="2.2"/>
<rect x="820.9" y="485.63" width="5.8" height="5.8" fill="#fff" stroke="#ff0000" stroke-width="2.2"/>
<rect x="830.96" y="479.79" width="5.8" height="5.8" fill="#fff" stroke="#ff0000" stroke-width="2.2"/>
<rect x="841.01" y="473.98" width="5.8" height="5.8" fill="#fff" stroke="#ff0000" stroke-width="2.2"/>
<rect x="851.06" y="468.16" width="5.8" height="5.8" fill="#fff" stroke="#ff0000" stroke-width="2.2"/>
<rect x="861.11" y="462.16" width="5.8" height="5.8" fill="#fff" stroke="#ff0000" stroke-width="2.2"/>
<rect x="871.17" y="455.05" width="5.8" height="5.8" fill="#fff" stroke="#ff0000" stroke-width="2.2"/>
<rect x="881.22" y="447.13" width="5.8" height="5.8" fill="#fff" stroke="#ff0000" stroke-width="2.2"/>
<rect x="891.27" y="439.86" width="5.8" height="5.8" fill="#fff" stroke="#ff0000" stroke-width="2.2"/>
<rect x="901.33" y="433.88" width="5.8" height="5.8" fill="#fff" stroke="#ff0000" stroke-width="2.2"/>
<rect x="911.38" y="425.96" width="5.8" height="5.8" fill="#fff" stroke="#ff0000" stroke-width="2.2"/>
<rect x="921.43" y="418.52" width="5.8" height="5.8" fill="#fff" stroke="#ff0000" stroke-width="2.2"/>
<rect x="931.48" y="409.61" width="5.8" height="5.8" fill="#fff" stroke="#ff0000" stroke-width="2.2"/>
<rect x="941.54" y="401.03" width="5.8" height="5.8" fill="#fff" stroke="#ff0000" stroke-width="2.2"/>
<rect x="951.59" y="392.45" width="5.8" height="5.8" fill="#fff" stroke="#ff0000" stroke-width="2.2"/>
<rect x="961.64" y="383.59" width="5.8" height="5.8" fill="#fff" stroke="#ff0000" stroke-width="2.2"/>
<rect x="971.69" y="374.69" width="5.8" height="5.8" fill="#fff" stroke="#ff0000" stroke-width="2.2"/>
<rect x="981.75" y="366.6" width="5.8" height="5.8" fill="#fff" stroke="#ff0000" stroke-width="2.2"/>
<polyline points="717.2,544.95 720.9,546.05 724.6,546.93 728.3,547.56 732,548.05 735.7,548.52 739.4,548.97 743.1,549.36 746.8,549.68 750.5,549.97 754.2,550.18 757.9,550.37 761.6,550.76 765.3,551.49 769,552.52 772.7,554.24 776.4,556.44 780.1,559.12 783.8,562.22 787.5,565.24 791.2,568.28 794.9,571.14 798.6,573.86 802.3,576.23 806,578.34 809.7,579.98 813.4,581.04 817.1,581.79 820.8,581.86 824.5,581.54 828.2,580.88 831.9,578.66 835.6,575.46 839.3,571.45 843,567.1 846.7,562.08 850.4,556.76 854.1,551.63 857.8,546.52 861.5,541.39 865.2,536.27 868.9,531.16 872.6,526 876.3,520.76 880,515.44 883.7,510.06 887.4,504.65 891.1,499.22 894.8,493.77 898.5,488.25 902.2,482.59 905.9,476.78 909.6,471.04 913.3,465.58 917,460.5 920.7,455.66 924.4,450.95 928.1,446.27 931.8,441.63 935.5,437.06 939.2,432.53 942.9,428.01 946.6,423.51 950.3,419.04 954,414.6" fill="none" stroke="#0000ff" stroke-width="3"/>
<path d="M717.2 540.17L722.15 548.87L712.25 548.87Z" fill="#0000ff"/>
<path d="M720.9 541.27L725.85 549.97L715.95 549.97Z" fill="#0000ff"/>
<path d="M724.6 542.14L729.55 550.84L719.65 550.84Z" fill="#0000ff"/>
<path d="M728.3 542.77L733.25 551.47L723.35 551.47Z" fill="#0000ff"/>
<path d="M732 543.26L736.95 551.96L727.05 551.96Z" fill="#0000ff"/>
<path d="M735.7 543.73L740.65 552.43L730.75 552.43Z" fill="#0000ff"/>
<path d="M739.4 544.18L744.35 552.88L734.45 552.88Z" fill="#0000ff"/>
<path d="M743.1 544.57L748.05 553.27L738.15 553.27Z" fill="#0000ff"/>
<path d="M746.8 544.9L751.75 553.6L741.85 553.6Z" fill="#0000ff"/>
<path d="M750.5 545.18L755.45 553.88L745.55 553.88Z" fill="#0000ff"/>
<path d="M754.2 545.39L759.15 554.09L749.25 554.09Z" fill="#0000ff"/>
<path d="M757.9 545.59L762.85 554.29L752.95 554.29Z" fill="#0000ff"/>
<path d="M761.6 545.97L766.55 554.67L756.65 554.67Z" fill="#0000ff"/>
<path d="M765.3 546.7L770.25 555.4L760.35 555.4Z" fill="#0000ff"/>
<path d="M769 547.74L773.95 556.44L764.05 556.44Z" fill="#0000ff"/>
<path d="M772.7 549.46L777.65 558.16L767.75 558.16Z" fill="#0000ff"/>
<path d="M776.4 551.65L781.35 560.35L771.45 560.35Z" fill="#0000ff"/>
<path d="M780.1 554.34L785.05 563.04L775.15 563.04Z" fill="#0000ff"/>
<path d="M783.8 557.43L788.75 566.13L778.85 566.13Z" fill="#0000ff"/>
<path d="M787.5 560.45L792.45 569.15L782.55 569.15Z" fill="#0000ff"/>
<path d="M791.2 563.5L796.15 572.2L786.25 572.2Z" fill="#0000ff"/>
<path d="M794.9 566.35L799.85 575.05L789.95 575.05Z" fill="#0000ff"/>
<path d="M798.6 569.08L803.55 577.78L793.65 577.78Z" fill="#0000ff"/>
<path d="M802.3 571.45L807.25 580.15L797.35 580.15Z" fill="#0000ff"/>
<path d="M806 573.55L810.95 582.25L801.05 582.25Z" fill="#0000ff"/>
<path d="M809.7 575.2L814.65 583.9L804.75 583.9Z" fill="#0000ff"/>
<path d="M813.4 576.26L818.35 584.96L808.45 584.96Z" fill="#0000ff"/>
<path d="M817.1 577L822.05 585.7L812.15 585.7Z" fill="#0000ff"/>
<path d="M820.8 577.07L825.75 585.77L815.85 585.77Z" fill="#0000ff"/>
<path d="M824.5 576.75L829.45 585.45L819.55 585.45Z" fill="#0000ff"/>
<path d="M828.2 576.09L833.15 584.79L823.25 584.79Z" fill="#0000ff"/>
<path d="M831.9 573.87L836.85 582.57L826.95 582.57Z" fill="#0000ff"/>
<path d="M835.6 570.67L840.55 579.37L830.65 579.37Z" fill="#0000ff"/>
<path d="M839.3 566.67L844.25 575.37L834.35 575.37Z" fill="#0000ff"/>
<path d="M843 562.32L847.95 571.02L838.05 571.02Z" fill="#0000ff"/>
<path d="M846.7 557.3L851.65 566L841.75 566Z" fill="#0000ff"/>
<path d="M850.4 551.98L855.35 560.68L845.45 560.68Z" fill="#0000ff"/>
<path d="M854.1 546.84L859.05 555.54L849.15 555.54Z" fill="#0000ff"/>
<path d="M857.8 541.73L862.75 550.43L852.85 550.43Z" fill="#0000ff"/>
<path d="M861.5 536.61L866.45 545.31L856.55 545.31Z" fill="#0000ff"/>
<path d="M865.2 531.49L870.15 540.19L860.25 540.19Z" fill="#0000ff"/>
<path d="M868.9 526.37L873.85 535.07L863.95 535.07Z" fill="#0000ff"/>
<path d="M872.6 521.22L877.55 529.92L867.65 529.92Z" fill="#0000ff"/>
<path d="M876.3 515.98L881.25 524.68L871.35 524.68Z" fill="#0000ff"/>
<path d="M880 510.65L884.95 519.35L875.05 519.35Z" fill="#0000ff"/>
<path d="M883.7 505.27L888.65 513.97L878.75 513.97Z" fill="#0000ff"/>
<path d="M887.4 499.86L892.35 508.56L882.45 508.56Z" fill="#0000ff"/>
<path d="M891.1 494.44L896.05 503.14L886.15 503.14Z" fill="#0000ff"/>
<path d="M894.8 488.98L899.75 497.68L889.85 497.68Z" fill="#0000ff"/>
<path d="M898.5 483.47L903.45 492.17L893.55 492.17Z" fill="#0000ff"/>
<path d="M902.2 477.8L907.15 486.5L897.25 486.5Z" fill="#0000ff"/>
<path d="M905.9 471.99L910.85 480.69L900.95 480.69Z" fill="#0000ff"/>
<path d="M909.6 466.25L914.55 474.95L904.65 474.95Z" fill="#0000ff"/>
<path d="M913.3 460.8L918.25 469.5L908.35 469.5Z" fill="#0000ff"/>
<path d="M917 455.72L921.95 464.42L912.05 464.42Z" fill="#0000ff"/>
<path d="M920.7 450.88L925.65 459.58L915.75 459.58Z" fill="#0000ff"/>
<path d="M924.4 446.17L929.35 454.87L919.45 454.87Z" fill="#0000ff"/>
<path d="M928.1 441.49L933.05 450.19L923.15 450.19Z" fill="#0000ff"/>
<path d="M931.8 436.84L936.75 445.54L926.85 445.54Z" fill="#0000ff"/>
<path d="M935.5 432.27L940.45 440.97L930.55 440.97Z" fill="#0000ff"/>
<path d="M939.2 427.74L944.15 436.44L934.25 436.44Z" fill="#0000ff"/>
<path d="M942.9 423.23L947.85 431.93L937.95 431.93Z" fill="#0000ff"/>
<path d="M946.6 418.73L951.55 427.43L941.65 427.43Z" fill="#0000ff"/>
<path d="M950.3 414.26L955.25 422.96L945.35 422.96Z" fill="#0000ff"/>
<path d="M954 409.81L958.95 418.51L949.05 418.51Z" fill="#0000ff"/>
<mask id="md" maskUnits="userSpaceOnUse" x="0" y="0" width="1024" height="706"><rect width="1024" height="706" fill="#fff"/><circle cx="632.8" cy="537.5" r="6.2" fill="#000"/><circle cx="642.85" cy="537.9" r="6.2" fill="#000"/><circle cx="652.91" cy="538.51" r="6.2" fill="#000"/><circle cx="662.96" cy="539.53" r="6.2" fill="#000"/><circle cx="673.01" cy="541.19" r="6.2" fill="#000"/><circle cx="683.06" cy="544.05" r="6.2" fill="#000"/><circle cx="693.12" cy="546.6" r="6.2" fill="#000"/><circle cx="703.17" cy="549.89" r="6.2" fill="#000"/><circle cx="713.22" cy="554.29" r="6.2" fill="#000"/><circle cx="723.27" cy="558.83" r="6.2" fill="#000"/><circle cx="733.33" cy="563.51" r="6.2" fill="#000"/><circle cx="743.38" cy="568.49" r="6.2" fill="#000"/><circle cx="753.43" cy="573.21" r="6.2" fill="#000"/><circle cx="763.49" cy="577.74" r="6.2" fill="#000"/><circle cx="773.54" cy="581.67" r="6.2" fill="#000"/><circle cx="783.59" cy="586" r="6.2" fill="#000"/><circle cx="793.64" cy="590.76" r="6.2" fill="#000"/><circle cx="803.7" cy="595.35" r="6.2" fill="#000"/><circle cx="813.75" cy="600.26" r="6.2" fill="#000"/><circle cx="823.8" cy="604" r="6.2" fill="#000"/><circle cx="833.86" cy="604" r="6.2" fill="#000"/><circle cx="843.91" cy="600.07" r="6.2" fill="#000"/><circle cx="853.96" cy="585.8" r="6.2" fill="#000"/><circle cx="864.01" cy="564.79" r="6.2" fill="#000"/><circle cx="874.07" cy="545.95" r="6.2" fill="#000"/><circle cx="884.12" cy="527.63" r="6.2" fill="#000"/><circle cx="894.17" cy="510.22" r="6.2" fill="#000"/><circle cx="904.23" cy="492.76" r="6.2" fill="#000"/><circle cx="914.28" cy="476.64" r="6.2" fill="#000"/><circle cx="924.33" cy="462.79" r="6.2" fill="#000"/><circle cx="934.38" cy="447.33" r="6.2" fill="#000"/><circle cx="944.44" cy="431.27" r="6.2" fill="#000"/><circle cx="954.49" cy="417.86" r="6.2" fill="#000"/><circle cx="964.54" cy="401.32" r="6.2" fill="#000"/><circle cx="974.59" cy="389.07" r="6.2" fill="#000"/><circle cx="984.65" cy="374.7" r="6.2" fill="#000"/></mask>
<polyline mask="url(#md)" points="634,537.5 635.17,537.55 636.35,537.59 637.52,537.64 638.69,537.7 639.86,537.75 641.04,537.81 642.21,537.86 643.38,537.92 644.55,537.99 645.73,538.05 646.9,538.11 648.07,538.18 649.24,538.25 650.42,538.33 651.59,538.41 652.76,538.5 653.93,538.59 655.11,538.69 656.28,538.8 657.45,538.91 658.62,539.03 659.8,539.16 660.97,539.29 662.14,539.43 663.31,539.58 664.49,539.73 665.66,539.9 666.83,540.07 668,540.26 669.18,540.45 670.35,540.66 671.52,540.88 672.69,541.12 673.87,541.39 675.04,541.69 676.21,542.02 677.39,542.37 678.56,542.74 679.73,543.1 680.9,543.45 682.08,543.78 683.25,544.1 684.42,544.39 685.59,544.68 686.77,544.96 687.94,545.25 689.11,545.53 690.28,545.83 691.46,546.14 692.63,546.46 693.8,546.8 694.97,547.15 696.15,547.51 697.32,547.87 698.49,548.25 699.66,548.64 700.84,549.05 702.01,549.46 703.18,549.89 704.35,550.35 705.53,550.83 706.7,551.34 707.87,551.86 709.04,552.39 710.22,552.93 711.39,553.47 712.56,553.99 713.74,554.52 714.91,555.04 716.08,555.56 717.25,556.09 718.43,556.62 719.6,557.15 720.77,557.68 721.94,558.22 723.12,558.75 724.29,559.29 725.46,559.83 726.63,560.37 727.81,560.91 728.98,561.45 730.15,562 731.32,562.55 732.5,563.11 733.67,563.67 734.84,564.25 736.01,564.83 737.19,565.41 738.36,566 739.53,566.59 740.7,567.18 741.88,567.76 743.05,568.33 744.22,568.89 745.39,569.45 746.57,570.01 747.74,570.56 748.91,571.11 750.08,571.66 751.26,572.2 752.43,572.75 753.6,573.29 754.78,573.83 755.95,574.37 757.12,574.91 758.29,575.45 759.47,575.98 760.64,576.51 761.81,577.02 762.98,577.52 764.16,578.01 765.33,578.49 766.5,578.95 767.67,579.4 768.85,579.84 770.02,580.29 771.19,580.74 772.36,581.2 773.54,581.67 774.71,582.16 775.88,582.65 777.05,583.14 778.23,583.64 779.4,584.14 780.57,584.65 781.74,585.17 782.92,585.69 784.09,586.22 785.26,586.76 786.43,587.32 787.61,587.88 788.78,588.44 789.95,589.01 791.13,589.57 792.3,590.13 793.47,590.68 794.64,591.22 795.82,591.75 796.99,592.28 798.16,592.81 799.33,593.34 800.51,593.87 801.68,594.4 802.85,594.95 804.02,595.5 805.2,596.08 806.37,596.67 807.54,597.27 808.71,597.87 809.89,598.46 811.06,599.04 812.23,599.59 813.4,600.12 814.58,600.64 815.75,601.2 816.92,601.79 818.09,602.36 819.27,602.89 820.44,603.35 821.61,603.71 822.78,603.93 823.96,604 825.13,604 826.3,604 827.47,604 828.65,604 829.82,604 830.99,604 832.17,604 833.34,604 834.51,603.99 835.68,603.84 836.86,603.57 838.03,603.17 839.2,602.68 840.37,602.11 841.55,601.47 842.72,600.79 843.89,600.08 845.06,599.14 846.24,597.91 847.41,596.43 848.58,594.75 849.75,592.92 850.93,590.98 852.1,588.98 853.27,586.97 854.44,584.95 855.62,582.75 856.79,580.35 857.96,577.82 859.13,575.21 860.31,572.59 861.48,570 862.65,567.51 863.82,565.16 865,562.88 866.17,560.63 867.34,558.41 868.52,556.22 869.69,554.04 870.86,551.88 872.03,549.71 873.21,547.55 874.38,545.37 875.55,543.2 876.72,541.04 877.9,538.89 879.07,536.74 880.24,534.6 881.41,532.48 882.59,530.37 883.76,528.27 884.93,526.2 886.1,524.14 887.28,522.11 888.45,520.08 889.62,518.06 890.79,516.05 891.97,514.03 893.14,512.01 894.31,509.98 895.48,507.94 896.66,505.88 897.83,503.82 899,501.75 900.17,499.7 901.35,497.66 902.52,495.64 903.69,493.65 904.86,491.69 906.04,489.74 907.21,487.8 908.38,485.87 909.56,483.97 910.73,482.09 911.9,480.25 913.07,478.44 914.25,476.68 915.42,474.98 916.59,473.34 917.76,471.74 918.94,470.17 920.11,468.6 921.28,467.03 922.45,465.43 923.63,463.8 924.8,462.11 925.97,460.38 927.14,458.61 928.32,456.82 929.49,455.01 930.66,453.18 931.83,451.34 933.01,449.49 934.18,447.65 935.35,445.79 936.52,443.88 937.7,441.95 938.87,440.01 940.04,438.08 941.21,436.18 942.39,434.33 943.56,432.55 944.73,430.85 945.91,429.25 947.08,427.71 948.25,426.21 949.42,424.73 950.6,423.24 951.77,421.7 952.94,420.11 954.11,418.43 955.29,416.61 956.46,414.66 957.63,412.61 958.8,410.53 959.98,408.45 961.15,406.43 962.32,404.52 963.49,402.77 964.67,401.16 965.84,399.64 967.01,398.2 968.18,396.81 969.36,395.44 970.53,394.08 971.7,392.7 972.87,391.28 974.05,389.8 975.22,388.24 976.39,386.64 977.56,385.02 978.74,383.37 979.91,381.69 981.08,379.98 982.25,378.24 983.43,376.48 984.6,374.7" fill="none" stroke="#0000ff" stroke-width="3.6"/>
<path d="M632.8 532.72L637.75 541.41L627.85 541.41Z" fill="#0000ff"/><path d="M632.8 535.55L635.34 540.01L630.26 540.01Z" fill="#fff"/>
<path d="M642.85 533.11L647.8 541.81L637.9 541.81Z" fill="#0000ff"/><path d="M642.85 535.94L645.4 540.41L640.31 540.41Z" fill="#fff"/>
<path d="M652.91 533.72L657.86 542.42L647.96 542.42Z" fill="#0000ff"/><path d="M652.91 536.55L655.45 541.02L650.36 541.02Z" fill="#fff"/>
<path d="M662.96 534.75L667.91 543.45L658.01 543.45Z" fill="#0000ff"/><path d="M662.96 537.58L665.5 542.05L660.42 542.05Z" fill="#fff"/>
<path d="M673.01 536.4L677.96 545.1L668.06 545.1Z" fill="#0000ff"/><path d="M673.01 539.23L675.55 543.7L670.47 543.7Z" fill="#fff"/>
<path d="M683.06 539.26L688.01 547.96L678.11 547.96Z" fill="#0000ff"/><path d="M683.06 542.09L685.61 546.56L680.52 546.56Z" fill="#fff"/>
<path d="M693.12 541.82L698.07 550.52L688.17 550.52Z" fill="#0000ff"/><path d="M693.12 544.65L695.66 549.12L690.57 549.12Z" fill="#fff"/>
<path d="M703.17 545.1L708.12 553.8L698.22 553.8Z" fill="#0000ff"/><path d="M703.17 547.93L705.71 552.4L700.63 552.4Z" fill="#fff"/>
<path d="M713.22 549.5L718.17 558.2L708.27 558.2Z" fill="#0000ff"/><path d="M713.22 552.33L715.76 556.8L710.68 556.8Z" fill="#fff"/>
<path d="M723.27 554.04L728.23 562.74L718.32 562.74Z" fill="#0000ff"/><path d="M723.27 556.87L725.82 561.34L720.73 561.34Z" fill="#fff"/>
<path d="M733.33 558.72L738.28 567.42L728.38 567.42Z" fill="#0000ff"/><path d="M733.33 561.56L735.87 566.02L730.79 566.02Z" fill="#fff"/>
<path d="M743.38 563.7L748.33 572.4L738.43 572.4Z" fill="#0000ff"/><path d="M743.38 566.53L745.92 571L740.84 571Z" fill="#fff"/>
<path d="M753.43 568.42L758.38 577.12L748.48 577.12Z" fill="#0000ff"/><path d="M753.43 571.25L755.98 575.72L750.89 575.72Z" fill="#fff"/>
<path d="M763.49 572.95L768.44 581.65L758.54 581.65Z" fill="#0000ff"/><path d="M763.49 575.78L766.03 580.25L760.94 580.25Z" fill="#fff"/>
<path d="M773.54 576.89L778.49 585.59L768.59 585.59Z" fill="#0000ff"/><path d="M773.54 579.72L776.08 584.19L771 584.19Z" fill="#fff"/>
<path d="M783.59 581.21L788.54 589.91L778.64 589.91Z" fill="#0000ff"/><path d="M783.59 584.04L786.13 588.51L781.05 588.51Z" fill="#fff"/>
<path d="M793.64 585.97L798.59 594.67L788.69 594.67Z" fill="#0000ff"/><path d="M793.64 588.81L796.19 593.27L791.1 593.27Z" fill="#fff"/>
<path d="M803.7 590.56L808.65 599.26L798.75 599.26Z" fill="#0000ff"/><path d="M803.7 593.39L806.24 597.86L801.15 597.86Z" fill="#fff"/>
<path d="M813.75 595.48L818.7 604.18L808.8 604.18Z" fill="#0000ff"/><path d="M813.75 598.31L816.29 602.78L811.21 602.78Z" fill="#fff"/>
<path d="M823.8 599.22L828.75 607.91L818.85 607.91Z" fill="#0000ff"/><path d="M823.8 602.05L826.35 606.51L821.26 606.51Z" fill="#fff"/>
<path d="M833.86 599.22L838.81 607.91L828.91 607.91Z" fill="#0000ff"/><path d="M833.86 602.05L836.4 606.51L831.31 606.51Z" fill="#fff"/>
<path d="M843.91 595.28L848.86 603.98L838.96 603.98Z" fill="#0000ff"/><path d="M843.91 598.11L846.45 602.58L841.37 602.58Z" fill="#fff"/>
<path d="M853.96 581.01L858.91 589.71L849.01 589.71Z" fill="#0000ff"/><path d="M853.96 583.84L856.5 588.31L851.42 588.31Z" fill="#fff"/>
<path d="M864.01 560.01L868.96 568.71L859.06 568.71Z" fill="#0000ff"/><path d="M864.01 562.84L866.56 567.31L861.47 567.31Z" fill="#fff"/>
<path d="M874.07 541.17L879.02 549.87L869.12 549.87Z" fill="#0000ff"/><path d="M874.07 544L876.61 548.47L871.52 548.47Z" fill="#fff"/>
<path d="M884.12 522.85L889.07 531.55L879.17 531.55Z" fill="#0000ff"/><path d="M884.12 525.68L886.66 530.15L881.58 530.15Z" fill="#fff"/>
<path d="M894.17 505.44L899.12 514.14L889.22 514.14Z" fill="#0000ff"/><path d="M894.17 508.27L896.71 512.74L891.63 512.74Z" fill="#fff"/>
<path d="M904.23 487.97L909.18 496.67L899.27 496.67Z" fill="#0000ff"/><path d="M904.23 490.8L906.77 495.27L901.68 495.27Z" fill="#fff"/>
<path d="M914.28 471.85L919.23 480.55L909.33 480.55Z" fill="#0000ff"/><path d="M914.28 474.68L916.82 479.15L911.74 479.15Z" fill="#fff"/>
<path d="M924.33 458.01L929.28 466.71L919.38 466.71Z" fill="#0000ff"/><path d="M924.33 460.84L926.87 465.31L921.79 465.31Z" fill="#fff"/>
<path d="M934.38 442.54L939.33 451.24L929.43 451.24Z" fill="#0000ff"/><path d="M934.38 445.37L936.93 449.84L931.84 449.84Z" fill="#fff"/>
<path d="M944.44 426.49L949.39 435.19L939.49 435.19Z" fill="#0000ff"/><path d="M944.44 429.32L946.98 433.79L941.89 433.79Z" fill="#fff"/>
<path d="M954.49 413.08L959.44 421.78L949.54 421.78Z" fill="#0000ff"/><path d="M954.49 415.91L957.03 420.38L951.95 420.38Z" fill="#fff"/>
<path d="M964.54 396.54L969.49 405.24L959.59 405.24Z" fill="#0000ff"/><path d="M964.54 399.37L967.08 403.84L962 403.84Z" fill="#fff"/>
<path d="M974.59 384.29L979.54 392.99L969.64 392.99Z" fill="#0000ff"/><path d="M974.59 387.12L977.14 391.59L972.05 391.59Z" fill="#fff"/>
<path d="M984.65 369.91L989.6 378.61L979.7 378.61Z" fill="#0000ff"/><path d="M984.65 372.75L987.19 377.21L982.1 377.21Z" fill="#fff"/>
</g>
<rect x="633.45" y="361.25" width="361.15" height="257.1" fill="none" stroke="#000" stroke-width="3.7"/>
<path d="M633.45 592.55H636.9M633.45 577.46H636.9M633.45 566.75H636.9M633.45 558.45H636.9M633.45 551.66H636.9M633.45 545.93H636.9M633.45 540.96H636.9M633.45 536.57H636.9M633.45 506.85H636.9M633.45 491.76H636.9M633.45 481.05H636.9M633.45 472.75H636.9M633.45 465.96H636.9M633.45 460.23H636.9M633.45 455.26H636.9M633.45 450.87H636.9M633.45 532.65H640.2M633.45 421.15H636.9M633.45 406.06H636.9M633.45 395.35H636.9M633.45 387.05H636.9M633.45 380.26H636.9M633.45 374.53H636.9M633.45 369.56H636.9M633.45 365.17H636.9M633.45 446.95H640.2M693.12 618.35V614.1M813.75 618.35V614.1M934.38 618.35V614.1M753.43 618.35V609.1M874.07 618.35V609.1" stroke="#000" stroke-width="3.2" stroke-linecap="round" fill="none"/>
<text x="626.85" y="366.45" font-size="19" font-weight="bold" text-anchor="end">100</text>
<text x="626.85" y="452.15" font-size="19" font-weight="bold" text-anchor="end">10</text>
<text x="624.25" y="537.85" font-size="19" font-weight="bold" text-anchor="end">1</text>
<text x="624.25" y="623.55" font-size="19" font-weight="bold" text-anchor="end">0.1</text>
<text x="632.8" y="643.15" font-size="19.2" font-weight="bold" text-anchor="middle">0</text>
<text x="753.43" y="643.15" font-size="19.2" font-weight="bold" text-anchor="middle">30</text>
<text x="874.07" y="643.15" font-size="19.2" font-weight="bold" text-anchor="middle">60</text>
<text x="994.7" y="643.15" font-size="19.2" font-weight="bold" text-anchor="middle">90</text>
<text x="820.13" y="664.95" font-size="25.6" font-weight="normal" text-anchor="middle" transform="translate(820.13 0) scale(1.1 1) translate(-820.13 0)">Incident Angle (degree)</text>
<text x="0" y="0" font-size="26.9" text-anchor="middle" transform="translate(595.45 485.25) scale(1.02 1) rotate(-90)">Reflectance (%)</text>
<text x="651.9" y="388.7" font-size="19.8" font-weight="normal" text-anchor="start" transform="translate(651.9 0) scale(1.11 1) translate(-651.9 0)">h=720nm</text>
<path d="M652.8 407H669.3M683.3 407H700.2" stroke="#ff0000" stroke-width="5.6" stroke-linecap="round"/>
<rect x="672.2" y="402.9" width="8.2" height="8.2" fill="#ff0000"/>
<text x="707.1" y="414" font-size="19.6" font-weight="normal" text-anchor="start" transform="translate(707.1 0) scale(1.07 1) translate(-707.1 0)">(S) mea.</text>
<path d="M652.3 432.3H669.3M683.3 432.3H700.7" stroke="#ff0000" stroke-width="4.6" stroke-linecap="round"/>
<rect x="673.4" y="429.4" width="5.8" height="5.8" fill="#fff" stroke="#ff0000" stroke-width="2.2"/>
<text x="707.1" y="439.3" font-size="19.6" font-weight="normal" text-anchor="start" transform="translate(707.1 0) scale(1.07 1) translate(-707.1 0)">(S) cal.</text>
<path d="M652.8 457.6H669.3M683.3 457.6H700.2" stroke="#0000ff" stroke-width="5.6" stroke-linecap="round"/>
<path d="M676.3 452.81L681.25 461.52L671.35 461.52Z" fill="#0000ff"/>
<text x="707.1" y="464.6" font-size="19.6" font-weight="normal" text-anchor="start" transform="translate(707.1 0) scale(1.07 1) translate(-707.1 0)">(P) mea.</text>
<path d="M652.3 482.9H669.3M683.3 482.9H700.7" stroke="#0000ff" stroke-width="4.6" stroke-linecap="round"/>
<path d="M676.3 478.11L681.25 486.81L671.35 486.81Z" fill="#0000ff"/><path d="M676.3 480.95L678.84 485.42L673.76 485.42Z" fill="#fff"/>
<text x="707.1" y="489.9" font-size="19.6" font-weight="normal" text-anchor="start" transform="translate(707.1 0) scale(1.07 1) translate(-707.1 0)">(P) cal.</text>
</svg></body></html>
